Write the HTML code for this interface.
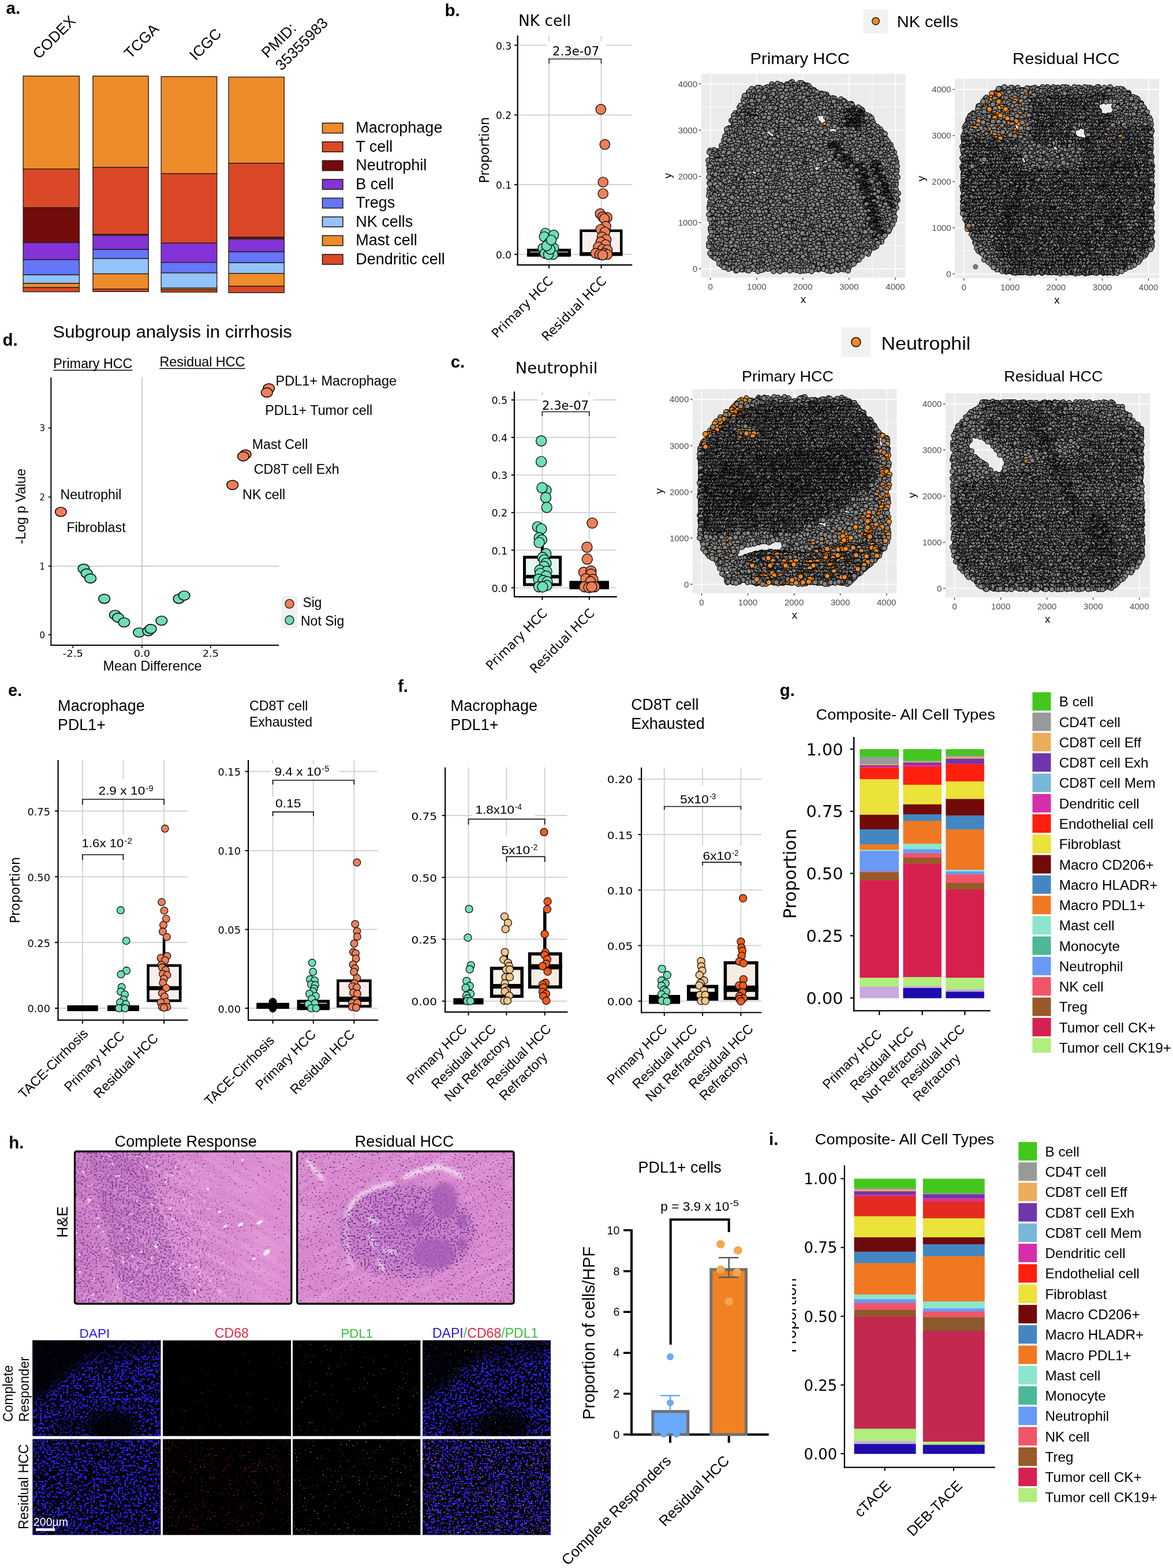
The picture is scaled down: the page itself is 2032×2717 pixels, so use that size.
<!DOCTYPE html><html><head><meta charset="utf-8"><title>Figure</title><style>

html,body{margin:0;padding:0;background:#fff;overflow:hidden;width:2032px;height:2717px;}
svg{display:block;}
.l{font-family:"Liberation Sans",Arial,Helvetica,sans-serif;}
.d{font-family:"DejaVu Sans","Liberation Sans",sans-serif;}
.b{font-weight:bold;}

</style></head><body>
<svg width="2032" height="2717" viewBox="0 0 2032 2717">
<defs><marker id="mg" markerUnits="userSpaceOnUse" markerWidth="12" markerHeight="12" refX="6" refY="6" orient="0" overflow="visible"><circle cx="6" cy="6" r="4.35" fill="#858585" stroke="#000" stroke-width="1.15"/></marker><marker id="mo" markerUnits="userSpaceOnUse" markerWidth="12" markerHeight="12" refX="6" refY="6" orient="0" overflow="visible"><circle cx="6" cy="6" r="4.35" fill="#F08A24" stroke="#000" stroke-width="1.15"/></marker><filter id="fNucD" x="0" y="0" width="1" height="1" color-interpolation-filters="sRGB"><feTurbulence type="fractalNoise" baseFrequency="0.32" numOctaves="1" seed="3"/><feColorMatrix type="matrix" values="0 0 0 0 0.38  0 0 0 0 0.16  0 0 0 0 0.52  -25 0 0 0 10.000"/><feComposite in2="SourceAlpha" operator="in"/></filter><filter id="fNucS" x="0" y="0" width="1" height="1" color-interpolation-filters="sRGB"><feTurbulence type="fractalNoise" baseFrequency="0.32" numOctaves="1" seed="5"/><feColorMatrix type="matrix" values="0 0 0 0 0.38  0 0 0 0 0.16  0 0 0 0 0.52  -25 0 0 0 7.875"/><feComposite in2="SourceAlpha" operator="in"/></filter><filter id="fNucB" x="0" y="0" width="1" height="1" color-interpolation-filters="sRGB"><feTurbulence type="fractalNoise" baseFrequency="0.32" numOctaves="1" seed="15"/><feColorMatrix type="matrix" values="0 0 0 0 0.38  0 0 0 0 0.16  0 0 0 0 0.52  -25 0 0 0 10.750"/><feComposite in2="SourceAlpha" operator="in"/></filter><filter id="fStreak" x="0" y="0" width="1" height="1" color-interpolation-filters="sRGB"><feTurbulence type="fractalNoise" baseFrequency="0.012 0.09" numOctaves="2" seed="41"/><feColorMatrix type="matrix" values="0 0 0 0 0.97  0 0 0 0 0.75  0 0 0 0 0.95  1.6 0 0 0 -0.62"/><feComposite in2="SourceAlpha" operator="in"/></filter><filter id="fNucL" x="0" y="0" width="1" height="1" color-interpolation-filters="sRGB"><feTurbulence type="fractalNoise" baseFrequency="0.32" numOctaves="1" seed="7"/><feColorMatrix type="matrix" values="0 0 0 0 0.38  0 0 0 0 0.16  0 0 0 0 0.52  -25 0 0 0 8.750"/><feComposite in2="SourceAlpha" operator="in"/></filter><filter id="fNucC" x="0" y="0" width="1" height="1" color-interpolation-filters="sRGB"><feTurbulence type="fractalNoise" baseFrequency="0.32" numOctaves="1" seed="8"/><feColorMatrix type="matrix" values="0 0 0 0 0.38  0 0 0 0 0.16  0 0 0 0 0.52  -25 0 0 0 10.500"/><feComposite in2="SourceAlpha" operator="in"/></filter><filter id="fWhite2" x="0" y="0" width="1" height="1" color-interpolation-filters="sRGB"><feTurbulence type="fractalNoise" baseFrequency="0.12" numOctaves="1" seed="19"/><feColorMatrix type="matrix" values="0 0 0 0 0.99  0 0 0 0 0.95  0 0 0 0 0.99  -25 0 0 0 8.250"/><feComposite in2="SourceAlpha" operator="in"/></filter><filter id="fDapi" x="0" y="0" width="1" height="1" color-interpolation-filters="sRGB"><feTurbulence type="fractalNoise" baseFrequency="0.26" numOctaves="1" seed="11"/><feColorMatrix type="matrix" values="0 0 0 0 0.17  0 0 0 0 0.12  0 0 0 0 0.98  -25 0 0 0 10.125"/><feComposite in2="SourceAlpha" operator="in"/></filter><filter id="fDapiB" x="0" y="0" width="1" height="1" color-interpolation-filters="sRGB"><feTurbulence type="fractalNoise" baseFrequency="0.26" numOctaves="1" seed="31"/><feColorMatrix type="matrix" values="0 0 0 0 0.17  0 0 0 0 0.12  0 0 0 0 0.98  -25 0 0 0 10.125"/><feComposite in2="SourceAlpha" operator="in"/></filter><filter id="fDapi2" x="0" y="0" width="1" height="1" color-interpolation-filters="sRGB"><feTurbulence type="fractalNoise" baseFrequency="0.26" numOctaves="1" seed="12"/><feColorMatrix type="matrix" values="0 0 0 0 0.17  0 0 0 0 0.12  0 0 0 0 0.98  -25 0 0 0 10.000"/><feComposite in2="SourceAlpha" operator="in"/></filter><filter id="fDapi2B" x="0" y="0" width="1" height="1" color-interpolation-filters="sRGB"><feTurbulence type="fractalNoise" baseFrequency="0.26" numOctaves="1" seed="32"/><feColorMatrix type="matrix" values="0 0 0 0 0.17  0 0 0 0 0.12  0 0 0 0 0.98  -25 0 0 0 10.000"/><feComposite in2="SourceAlpha" operator="in"/></filter><filter id="fRedS" x="0" y="0" width="1" height="1" color-interpolation-filters="sRGB"><feTurbulence type="fractalNoise" baseFrequency="0.45" numOctaves="1" seed="21"/><feColorMatrix type="matrix" values="0 0 0 0 1  0 0 0 0 0.15  0 0 0 0 0.15  -30 0 0 0 7.560"/><feComposite in2="SourceAlpha" operator="in"/></filter><filter id="fRedM" x="0" y="0" width="1" height="1" color-interpolation-filters="sRGB"><feTurbulence type="fractalNoise" baseFrequency="0.45" numOctaves="1" seed="22"/><feColorMatrix type="matrix" values="0 0 0 0 1  0 0 0 0 0.18  0 0 0 0 0.18  -30 0 0 0 8.700"/><feComposite in2="SourceAlpha" operator="in"/></filter><filter id="fGrnS" x="0" y="0" width="1" height="1" color-interpolation-filters="sRGB"><feTurbulence type="fractalNoise" baseFrequency="0.45" numOctaves="1" seed="23"/><feColorMatrix type="matrix" values="0 0 0 0 0.25  0 0 0 0 0.95  0 0 0 0 0.25  -30 0 0 0 7.500"/><feComposite in2="SourceAlpha" operator="in"/></filter><filter id="fGrnM" x="0" y="0" width="1" height="1" color-interpolation-filters="sRGB"><feTurbulence type="fractalNoise" baseFrequency="0.45" numOctaves="1" seed="24"/><feColorMatrix type="matrix" values="0 0 0 0 0.3  0 0 0 0 0.9  0 0 0 0 0.3  -30 0 0 0 8.340"/><feComposite in2="SourceAlpha" operator="in"/></filter><filter id="fYelM" x="0" y="0" width="1" height="1" color-interpolation-filters="sRGB"><feTurbulence type="fractalNoise" baseFrequency="0.45" numOctaves="1" seed="25"/><feColorMatrix type="matrix" values="0 0 0 0 1  0 0 0 0 0.85  0 0 0 0 0.15  -30 0 0 0 9.000"/><feComposite in2="SourceAlpha" operator="in"/></filter><filter id="fRedC" x="0" y="0" width="1" height="1" color-interpolation-filters="sRGB"><feTurbulence type="fractalNoise" baseFrequency="0.45" numOctaves="1" seed="26"/><feColorMatrix type="matrix" values="0 0 0 0 1  0 0 0 0 0.2  0 0 0 0 0.2  -30 0 0 0 9.000"/><feComposite in2="SourceAlpha" operator="in"/></filter><linearGradient id="gHE1" x1="0" x2="1" y1="0" y2="0.15"><stop offset="0" stop-color="#C978C1"/><stop offset="0.3" stop-color="#D283C9"/><stop offset="0.5" stop-color="#D98ACF"/><stop offset="1" stop-color="#DE8ED2"/></linearGradient><linearGradient id="gMask1" x1="0" x2="1" y1="0.2" y2="0"><stop offset="0" stop-color="#fff"/><stop offset="0.4" stop-color="#fff"/><stop offset="0.65" stop-color="#222"/><stop offset="1" stop-color="#000"/></linearGradient><mask id="mHE1" maskUnits="userSpaceOnUse" x="129" y="1995" width="376" height="265"><rect x="129" y="1995" width="376" height="265" fill="url(#gMask1)"/></mask><radialGradient id="gCore"><stop offset="0" stop-color="#C47ACA"/><stop offset="0.75" stop-color="#CC82CB" stop-opacity="0.9"/><stop offset="1" stop-color="#D88BCC" stop-opacity="0"/></radialGradient><filter id="fBlur3"><feGaussianBlur stdDeviation="3"/></filter><filter id="fBlur8"><feGaussianBlur stdDeviation="8"/></filter><clipPath id="cHE2"><rect x="514.7" y="1995.2" width="375.4" height="263.9"/></clipPath><clipPath id="cHE1"><rect x="129.5" y="1995.2" width="375.4" height="263.9"/></clipPath><clipPath id="cD11"><rect x="56.4" y="2322.6" width="222" height="165.8"/></clipPath><clipPath id="cD14"><rect x="732" y="2322.6" width="222" height="165.8"/></clipPath></defs>
<rect width="2032" height="2717" fill="#fff"/>
<text class="l b" x="10.5" y="23.5" font-size="29.5">a.</text>
<text class="l" x="67.2" y="103.4" font-size="26" transform="rotate(-45 67.2 103.4)">CODEX</text>
<text class="l" x="225.8" y="102.7" font-size="26" transform="rotate(-45 225.8 102.7)">TCGA</text>
<text class="l" x="339.1" y="106.1" font-size="26" transform="rotate(-45 339.1 106.1)">ICGC</text>
<text class="l" x="463.6" y="101.7" font-size="26" transform="rotate(-45 463.6 101.7)">PMID:</text>
<text class="l" x="487.7" y="123.4" font-size="26" transform="rotate(-45 487.7 123.4)">35355983</text>
<rect x="40.2" y="131.7" width="97.2" height="161.1" fill="#EE8B2B" stroke="#2a2018" stroke-width="1.4"/>
<rect x="40.2" y="292.8" width="97.2" height="67.2" fill="#DA4827" stroke="#2a2018" stroke-width="1.4"/>
<rect x="40.2" y="360" width="97.2" height="60.4" fill="#730C0B" stroke="#2a2018" stroke-width="1.4"/>
<rect x="40.2" y="420.4" width="97.2" height="29.6" fill="#8333D6" stroke="#2a2018" stroke-width="1.4"/>
<rect x="40.2" y="450" width="97.2" height="26.3" fill="#6476FA" stroke="#2a2018" stroke-width="1.4"/>
<rect x="40.2" y="476.3" width="97.2" height="14.8" fill="#93C3FB" stroke="#2a2018" stroke-width="1.4"/>
<rect x="40.2" y="491.1" width="97.2" height="7.2" fill="#EE8B2B" stroke="#2a2018" stroke-width="1.4"/>
<rect x="40.2" y="498.3" width="97.2" height="7.3" fill="#DA4827" stroke="#2a2018" stroke-width="1.4"/>
<rect x="161" y="131.7" width="96.2" height="158.5" fill="#EE8B2B" stroke="#2a2018" stroke-width="1.4"/>
<rect x="161" y="290.2" width="96.2" height="116" fill="#DA4827" stroke="#2a2018" stroke-width="1.4"/>
<rect x="161" y="406.2" width="96.2" height="1.6" fill="#730C0B" stroke="#2a2018" stroke-width="1.4"/>
<rect x="161" y="407.8" width="96.2" height="24.5" fill="#8333D6" stroke="#2a2018" stroke-width="1.4"/>
<rect x="161" y="432.3" width="96.2" height="15.7" fill="#6476FA" stroke="#2a2018" stroke-width="1.4"/>
<rect x="161" y="448" width="96.2" height="26.5" fill="#93C3FB" stroke="#2a2018" stroke-width="1.4"/>
<rect x="161" y="474.5" width="96.2" height="26.4" fill="#EE8B2B" stroke="#2a2018" stroke-width="1.4"/>
<rect x="161" y="500.9" width="96.2" height="4.4" fill="#DA4827" stroke="#2a2018" stroke-width="1.4"/>
<rect x="279.2" y="132.7" width="96.5" height="168.2" fill="#EE8B2B" stroke="#2a2018" stroke-width="1.4"/>
<rect x="279.2" y="300.9" width="96.5" height="120.4" fill="#DA4827" stroke="#2a2018" stroke-width="1.4"/>
<rect x="279.2" y="421.3" width="96.5" height="33.4" fill="#8333D6" stroke="#2a2018" stroke-width="1.4"/>
<rect x="279.2" y="454.7" width="96.5" height="18.2" fill="#6476FA" stroke="#2a2018" stroke-width="1.4"/>
<rect x="279.2" y="472.9" width="96.5" height="26.4" fill="#93C3FB" stroke="#2a2018" stroke-width="1.4"/>
<rect x="279.2" y="499.3" width="96.5" height="2.8" fill="#EE8B2B" stroke="#2a2018" stroke-width="1.4"/>
<rect x="279.2" y="502.1" width="96.5" height="4.1" fill="#DA4827" stroke="#2a2018" stroke-width="1.4"/>
<rect x="396.1" y="133.5" width="96.2" height="149.5" fill="#EE8B2B" stroke="#2a2018" stroke-width="1.4"/>
<rect x="396.1" y="283" width="96.2" height="128" fill="#DA4827" stroke="#2a2018" stroke-width="1.4"/>
<rect x="396.1" y="411" width="96.2" height="3.1" fill="#730C0B" stroke="#2a2018" stroke-width="1.4"/>
<rect x="396.1" y="414.1" width="96.2" height="22.3" fill="#8333D6" stroke="#2a2018" stroke-width="1.4"/>
<rect x="396.1" y="436.4" width="96.2" height="18.9" fill="#6476FA" stroke="#2a2018" stroke-width="1.4"/>
<rect x="396.1" y="455.3" width="96.2" height="18.5" fill="#93C3FB" stroke="#2a2018" stroke-width="1.4"/>
<rect x="396.1" y="473.8" width="96.2" height="22.3" fill="#EE8B2B" stroke="#2a2018" stroke-width="1.4"/>
<rect x="396.1" y="496.1" width="96.2" height="11.1" fill="#DA4827" stroke="#2a2018" stroke-width="1.4"/>
<rect x="558.5" y="213.3" width="35.5" height="17.3" fill="#EE8B2B" stroke="#2a2018" stroke-width="1.6"/>
<text class="l" x="616.3" y="230.3" font-size="27">Macrophage</text>
<rect x="558.5" y="245.8" width="35.5" height="17.3" fill="#DA4827" stroke="#2a2018" stroke-width="1.6"/>
<text class="l" x="616.3" y="262.8" font-size="27">T cell</text>
<rect x="558.5" y="278.3" width="35.5" height="17.3" fill="#730C0B" stroke="#2a2018" stroke-width="1.6"/>
<text class="l" x="616.3" y="295.3" font-size="27">Neutrophil</text>
<rect x="558.5" y="310.8" width="35.5" height="17.3" fill="#8333D6" stroke="#2a2018" stroke-width="1.6"/>
<text class="l" x="616.3" y="327.8" font-size="27">B cell</text>
<rect x="558.5" y="343.3" width="35.5" height="17.3" fill="#6476FA" stroke="#2a2018" stroke-width="1.6"/>
<text class="l" x="616.3" y="360.3" font-size="27">Tregs</text>
<rect x="558.5" y="375.8" width="35.5" height="17.3" fill="#93C3FB" stroke="#2a2018" stroke-width="1.6"/>
<text class="l" x="616.3" y="392.8" font-size="27">NK cells</text>
<rect x="558.5" y="408.3" width="35.5" height="17.3" fill="#EE8B2B" stroke="#2a2018" stroke-width="1.6"/>
<text class="l" x="616.3" y="425.3" font-size="27">Mast cell</text>
<rect x="558.5" y="440.8" width="35.5" height="17.3" fill="#DA4827" stroke="#2a2018" stroke-width="1.6"/>
<text class="l" x="616.3" y="457.8" font-size="27">Dendritic cell</text>
<text class="l b" x="4.4" y="598.8" font-size="29.5">d.</text>
<text class="l" x="91.4" y="584.8" font-size="30" textLength="414.5" lengthAdjust="spacingAndGlyphs">Subgroup analysis in cirrhosis</text>
<text class="l" x="92.3" y="638" font-size="23.3" textLength="137.1" lengthAdjust="spacingAndGlyphs">Primary HCC</text>
<line x1="92.3" y1="641.5" x2="229.4" y2="641.5" stroke="#000" stroke-width="1.3"/>
<text class="l" x="276.4" y="635" font-size="23.4" textLength="148.1" lengthAdjust="spacingAndGlyphs">Residual HCC</text>
<line x1="276.4" y1="638.5" x2="424.5" y2="638.5" stroke="#000" stroke-width="1.3"/>
<line x1="246" y1="654" x2="246" y2="1118" stroke="#C0C0C0" stroke-width="1.6"/>
<line x1="88.4" y1="981" x2="483.2" y2="981" stroke="#C0C0C0" stroke-width="1.6"/>
<line x1="88.4" y1="654" x2="88.4" y2="1119" stroke="#000" stroke-width="2"/>
<line x1="87.4" y1="1118.1" x2="483.2" y2="1118.1" stroke="#000" stroke-width="2"/>
<line x1="83.5" y1="1099.9" x2="88.4" y2="1099.9" stroke="#000" stroke-width="1.6"/>
<text class="d" x="78" y="1105.7" font-size="16.5" text-anchor="end" textLength="9.5" lengthAdjust="spacingAndGlyphs">0</text>
<line x1="83.5" y1="981" x2="88.4" y2="981" stroke="#000" stroke-width="1.6"/>
<text class="d" x="78" y="986.8" font-size="16.5" text-anchor="end" textLength="9.5" lengthAdjust="spacingAndGlyphs">1</text>
<line x1="83.5" y1="861.3" x2="88.4" y2="861.3" stroke="#000" stroke-width="1.6"/>
<text class="d" x="78" y="867.1" font-size="16.5" text-anchor="end" textLength="9.5" lengthAdjust="spacingAndGlyphs">2</text>
<line x1="83.5" y1="741.6" x2="88.4" y2="741.6" stroke="#000" stroke-width="1.6"/>
<text class="d" x="78" y="747.4" font-size="16.5" text-anchor="end" textLength="9.5" lengthAdjust="spacingAndGlyphs">3</text>
<line x1="126.3" y1="1118" x2="126.3" y2="1123" stroke="#000" stroke-width="1.6"/>
<text class="d" x="108.7" y="1137.5" font-size="16.5" textLength="35.2" lengthAdjust="spacingAndGlyphs">-2.5</text>
<line x1="246" y1="1118" x2="246" y2="1123" stroke="#000" stroke-width="1.6"/>
<text class="d" x="231.8" y="1137.5" font-size="16.5" textLength="28.3" lengthAdjust="spacingAndGlyphs">0.0</text>
<line x1="364.8" y1="1118" x2="364.8" y2="1123" stroke="#000" stroke-width="1.6"/>
<text class="d" x="350.7" y="1137.5" font-size="16.5" textLength="28.3" lengthAdjust="spacingAndGlyphs">2.5</text>
<text class="l" x="178.5" y="1161.7" font-size="23.4" textLength="171.1" lengthAdjust="spacingAndGlyphs">Mean Difference</text>
<text class="l" x="43.8" y="942.7" font-size="23.4" textLength="130.7" lengthAdjust="spacingAndGlyphs" transform="rotate(-90 43.8 942.7)">-Log p Value</text>
<ellipse cx="145" cy="985.4" rx="9.8" ry="8" fill="#6EDDB5" stroke="#111" stroke-width="1.7"/>
<ellipse cx="150.2" cy="993.6" rx="9.8" ry="8" fill="#6EDDB5" stroke="#111" stroke-width="1.7"/>
<ellipse cx="156.7" cy="1002.3" rx="9.8" ry="8" fill="#6EDDB5" stroke="#111" stroke-width="1.7"/>
<ellipse cx="180.7" cy="1037.6" rx="9.8" ry="8" fill="#6EDDB5" stroke="#111" stroke-width="1.7"/>
<ellipse cx="199.4" cy="1065.5" rx="9.8" ry="8" fill="#6EDDB5" stroke="#111" stroke-width="1.7"/>
<ellipse cx="204.6" cy="1070.3" rx="9.8" ry="8" fill="#6EDDB5" stroke="#111" stroke-width="1.7"/>
<ellipse cx="215" cy="1078.5" rx="9.8" ry="8" fill="#6EDDB5" stroke="#111" stroke-width="1.7"/>
<ellipse cx="240.7" cy="1096" rx="9.8" ry="8" fill="#6EDDB5" stroke="#111" stroke-width="1.7"/>
<ellipse cx="256.9" cy="1093.8" rx="9.8" ry="8" fill="#6EDDB5" stroke="#111" stroke-width="1.7"/>
<ellipse cx="261.2" cy="1089.8" rx="9.8" ry="8" fill="#6EDDB5" stroke="#111" stroke-width="1.7"/>
<ellipse cx="279.9" cy="1075.5" rx="9.8" ry="8" fill="#6EDDB5" stroke="#111" stroke-width="1.7"/>
<ellipse cx="310" cy="1037.6" rx="9.8" ry="8" fill="#6EDDB5" stroke="#111" stroke-width="1.7"/>
<ellipse cx="319.1" cy="1032" rx="9.8" ry="8" fill="#6EDDB5" stroke="#111" stroke-width="1.7"/>
<ellipse cx="465.8" cy="672.8" rx="9.8" ry="8" fill="#EF7F5B" stroke="#111" stroke-width="1.7"/>
<ellipse cx="462.3" cy="680.2" rx="9.8" ry="8" fill="#EF7F5B" stroke="#111" stroke-width="1.7"/>
<ellipse cx="425.3" cy="787.3" rx="9.8" ry="8" fill="#EF7F5B" stroke="#111" stroke-width="1.7"/>
<ellipse cx="421.4" cy="790.8" rx="9.8" ry="8" fill="#EF7F5B" stroke="#111" stroke-width="1.7"/>
<ellipse cx="402.7" cy="840.4" rx="9.8" ry="8" fill="#EF7F5B" stroke="#111" stroke-width="1.7"/>
<ellipse cx="105.4" cy="887" rx="9.8" ry="8" fill="#EF7F5B" stroke="#111" stroke-width="1.7"/>
<text class="l" x="477.6" y="668.4" font-size="23.3" textLength="209.4" lengthAdjust="spacingAndGlyphs">PDL1+ Macrophage</text>
<text class="l" x="459.3" y="718.5" font-size="23.3" textLength="185.9" lengthAdjust="spacingAndGlyphs">PDL1+ Tumor cell</text>
<text class="l" x="436.7" y="778.1" font-size="23.3" textLength="96.6" lengthAdjust="spacingAndGlyphs">Mast Cell</text>
<text class="l" x="439.7" y="820.8" font-size="23.3" textLength="148" lengthAdjust="spacingAndGlyphs">CD8T cell Exh</text>
<text class="l" x="420.1" y="864.8" font-size="23.3" textLength="74" lengthAdjust="spacingAndGlyphs">NK cell</text>
<text class="l" x="104.5" y="865.2" font-size="23.3" textLength="105.8" lengthAdjust="spacingAndGlyphs">Neutrophil</text>
<text class="l" x="115.4" y="921.8" font-size="23.3" textLength="102.3" lengthAdjust="spacingAndGlyphs">Fibroblast</text>
<rect x="487.6" y="1033" width="27.4" height="55.5" fill="#F0F0F0"/>
<circle cx="501.5" cy="1046.3" r="7.6" fill="#EF7F5B" stroke="#111" stroke-width="1.3"/>
<circle cx="501.5" cy="1074.6" r="7.6" fill="#6EDDB5" stroke="#111" stroke-width="1.3"/>
<text class="l" x="524.6" y="1051.5" font-size="23" textLength="32.7" lengthAdjust="spacingAndGlyphs">Sig</text>
<text class="l" x="521" y="1084.2" font-size="23" textLength="75.4" lengthAdjust="spacingAndGlyphs">Not Sig</text>
<text class="l b" x="770.4" y="28.3" font-size="29.5">b.</text>
<text class="d" x="898" y="45" font-size="27" textLength="91" lengthAdjust="spacingAndGlyphs">NK cell</text>
<line x1="896.7" y1="440.8" x2="1095.2" y2="440.8" stroke="#D4D4D4" stroke-width="2"/>
<line x1="896.7" y1="320" x2="1095.2" y2="320" stroke="#D4D4D4" stroke-width="2"/>
<line x1="896.7" y1="199.2" x2="1095.2" y2="199.2" stroke="#D4D4D4" stroke-width="2"/>
<line x1="896.7" y1="78.4" x2="1095.2" y2="78.4" stroke="#D4D4D4" stroke-width="2"/>
<line x1="951.1" y1="61.6" x2="951.1" y2="459.1" stroke="#D4D4D4" stroke-width="2"/>
<line x1="1041.5" y1="61.6" x2="1041.5" y2="459.1" stroke="#D4D4D4" stroke-width="2"/>
<line x1="896.7" y1="61.6" x2="896.7" y2="460.1" stroke="#000" stroke-width="2.2"/>
<line x1="895.7" y1="459.1" x2="1095.2" y2="459.1" stroke="#000" stroke-width="2.2"/>
<line x1="891.2" y1="440.8" x2="896.7" y2="440.8" stroke="#000" stroke-width="2"/>
<text class="d" x="886.2" y="448" font-size="18" text-anchor="end" textLength="27.3" lengthAdjust="spacingAndGlyphs">0.0</text>
<line x1="891.2" y1="320" x2="896.7" y2="320" stroke="#000" stroke-width="2"/>
<text class="d" x="886.2" y="327.2" font-size="18" text-anchor="end" textLength="27.3" lengthAdjust="spacingAndGlyphs">0.1</text>
<line x1="891.2" y1="199.2" x2="896.7" y2="199.2" stroke="#000" stroke-width="2"/>
<text class="d" x="886.2" y="206.4" font-size="18" text-anchor="end" textLength="27.3" lengthAdjust="spacingAndGlyphs">0.2</text>
<line x1="891.2" y1="78.4" x2="896.7" y2="78.4" stroke="#000" stroke-width="2"/>
<text class="d" x="886.2" y="85.6" font-size="18" text-anchor="end" textLength="27.3" lengthAdjust="spacingAndGlyphs">0.3</text>
<line x1="951.1" y1="459.1" x2="951.1" y2="465" stroke="#000" stroke-width="2"/>
<line x1="1041.5" y1="459.1" x2="1041.5" y2="465" stroke="#000" stroke-width="2"/>
<text class="d" x="846.9" y="317.5" font-size="22.4" textLength="114.7" lengthAdjust="spacingAndGlyphs" transform="rotate(-90 846.9 317.5)">Proportion</text>
<text class="d" x="959.2" y="488.3" font-size="22" text-anchor="end" transform="rotate(-45 959.2 488.3)">Primary HCC</text>
<text class="d" x="1051.7" y="488.3" font-size="22" text-anchor="end" transform="rotate(-45 1051.7 488.3)">Residual HCC</text>
<path d="M951.1 110V102.3H1041.5V110" fill="none" stroke="#222" stroke-width="1.6"/>
<rect x="947" y="72" width="103" height="28.5" fill="#fff"/>
<text class="d" x="957" y="95.8" font-size="21" textLength="81.2" lengthAdjust="spacingAndGlyphs">2.3e-07</text>
<line x1="957" y1="99" x2="1038" y2="99" stroke="#999" stroke-width="0.8"/>
<rect x="915.6" y="433.5" width="70.8" height="8.8" fill="#E5F6EE" stroke="#000" stroke-width="5"/>
<line x1="913.1" y1="440.3" x2="988.9" y2="440.3" stroke="#000" stroke-width="6"/>
<line x1="1041.5" y1="399.8" x2="1041.5" y2="399" stroke="#000" stroke-width="4.5"/>
<rect x="1006.5" y="399.8" width="69.7" height="41.5" fill="#F8EFEC" stroke="#000" stroke-width="4.5"/>
<line x1="1004.2" y1="439.5" x2="1078.5" y2="439.5" stroke="#000" stroke-width="5"/>
<circle cx="945" cy="404" r="8.6" fill="#6EDFB6" stroke="#111" stroke-width="1.4"/>
<circle cx="959.2" cy="407.3" r="8.6" fill="#6EDFB6" stroke="#111" stroke-width="1.4"/>
<circle cx="942.8" cy="410.2" r="8.6" fill="#6EDFB6" stroke="#111" stroke-width="1.4"/>
<circle cx="950.5" cy="421.5" r="8.6" fill="#6EDFB6" stroke="#111" stroke-width="1.4"/>
<circle cx="959.2" cy="429.8" r="8.6" fill="#6EDFB6" stroke="#111" stroke-width="1.4"/>
<circle cx="940.7" cy="430.2" r="8.6" fill="#6EDFB6" stroke="#111" stroke-width="1.4"/>
<circle cx="944" cy="439" r="8.6" fill="#6EDFB6" stroke="#111" stroke-width="1.4"/>
<circle cx="958" cy="441" r="8.6" fill="#6EDFB6" stroke="#111" stroke-width="1.4"/>
<circle cx="950" cy="441" r="8.6" fill="#6EDFB6" stroke="#111" stroke-width="1.4"/>
<circle cx="953" cy="432" r="8.6" fill="#6EDFB6" stroke="#111" stroke-width="1.4"/>
<circle cx="947" cy="426" r="8.6" fill="#6EDFB6" stroke="#111" stroke-width="1.4"/>
<circle cx="955" cy="416" r="8.6" fill="#6EDFB6" stroke="#111" stroke-width="1.4"/>
<circle cx="1040.8" cy="189.4" r="8.6" fill="#EF7F58" stroke="#111" stroke-width="1.4"/>
<circle cx="1047.8" cy="250.3" r="8.6" fill="#EF7F58" stroke="#111" stroke-width="1.4"/>
<circle cx="1044.7" cy="315.5" r="8.6" fill="#EF7F58" stroke="#111" stroke-width="1.4"/>
<circle cx="1044.7" cy="335.5" r="8.6" fill="#EF7F58" stroke="#111" stroke-width="1.4"/>
<circle cx="1039.7" cy="370.3" r="8.6" fill="#EF7F58" stroke="#111" stroke-width="1.4"/>
<circle cx="1051.7" cy="376.9" r="8.6" fill="#EF7F58" stroke="#111" stroke-width="1.4"/>
<circle cx="1044" cy="375.8" r="8.6" fill="#EF7F58" stroke="#111" stroke-width="1.4"/>
<circle cx="1047" cy="379" r="8.6" fill="#EF7F58" stroke="#111" stroke-width="1.4"/>
<circle cx="1049.5" cy="392.1" r="8.6" fill="#EF7F58" stroke="#111" stroke-width="1.4"/>
<circle cx="1040.8" cy="397.5" r="8.6" fill="#EF7F58" stroke="#111" stroke-width="1.4"/>
<circle cx="1048" cy="402" r="8.6" fill="#EF7F58" stroke="#111" stroke-width="1.4"/>
<circle cx="1043" cy="410.6" r="8.6" fill="#EF7F58" stroke="#111" stroke-width="1.4"/>
<circle cx="1050" cy="415" r="8.6" fill="#EF7F58" stroke="#111" stroke-width="1.4"/>
<circle cx="1040.8" cy="419.3" r="8.6" fill="#EF7F58" stroke="#111" stroke-width="1.4"/>
<circle cx="1049" cy="424" r="8.6" fill="#EF7F58" stroke="#111" stroke-width="1.4"/>
<circle cx="1036.4" cy="428" r="8.6" fill="#EF7F58" stroke="#111" stroke-width="1.4"/>
<circle cx="1044" cy="432" r="8.6" fill="#EF7F58" stroke="#111" stroke-width="1.4"/>
<circle cx="1052" cy="433" r="8.6" fill="#EF7F58" stroke="#111" stroke-width="1.4"/>
<circle cx="1032" cy="438.9" r="8.6" fill="#EF7F58" stroke="#111" stroke-width="1.4"/>
<circle cx="1047.3" cy="438.9" r="8.6" fill="#EF7F58" stroke="#111" stroke-width="1.4"/>
<circle cx="1039" cy="441" r="8.6" fill="#EF7F58" stroke="#111" stroke-width="1.4"/>
<circle cx="1052" cy="441" r="8.6" fill="#EF7F58" stroke="#111" stroke-width="1.4"/>
<circle cx="1044" cy="442" r="8.6" fill="#EF7F58" stroke="#111" stroke-width="1.4"/>
<text class="l b" x="780.7" y="637.3" font-size="29.5">c.</text>
<text class="d" x="892.8" y="646.6" font-size="27" textLength="142.6" lengthAdjust="spacingAndGlyphs">Neutrophil</text>
<line x1="891" y1="1018.4" x2="1068" y2="1018.4" stroke="#D4D4D4" stroke-width="2"/>
<line x1="891" y1="953.3" x2="1068" y2="953.3" stroke="#D4D4D4" stroke-width="2"/>
<line x1="891" y1="888.2" x2="1068" y2="888.2" stroke="#D4D4D4" stroke-width="2"/>
<line x1="891" y1="823.1" x2="1068" y2="823.1" stroke="#D4D4D4" stroke-width="2"/>
<line x1="891" y1="758" x2="1068" y2="758" stroke="#D4D4D4" stroke-width="2"/>
<line x1="891" y1="692.9" x2="1068" y2="692.9" stroke="#D4D4D4" stroke-width="2"/>
<line x1="939.4" y1="678.6" x2="939.4" y2="1034.1" stroke="#D4D4D4" stroke-width="2"/>
<line x1="1020.8" y1="678.6" x2="1020.8" y2="1034.1" stroke="#D4D4D4" stroke-width="2"/>
<line x1="891" y1="678.6" x2="891" y2="1035.1" stroke="#000" stroke-width="2.2"/>
<line x1="890" y1="1034.1" x2="1068.7" y2="1034.1" stroke="#000" stroke-width="2.2"/>
<line x1="885.8" y1="1018.4" x2="891" y2="1018.4" stroke="#000" stroke-width="2"/>
<text class="d" x="879.3" y="1025.6" font-size="18" text-anchor="end" textLength="27.9" lengthAdjust="spacingAndGlyphs">0.0</text>
<line x1="885.8" y1="953.3" x2="891" y2="953.3" stroke="#000" stroke-width="2"/>
<text class="d" x="879.3" y="960.5" font-size="18" text-anchor="end" textLength="27.9" lengthAdjust="spacingAndGlyphs">0.1</text>
<line x1="885.8" y1="888.2" x2="891" y2="888.2" stroke="#000" stroke-width="2"/>
<text class="d" x="879.3" y="895.4" font-size="18" text-anchor="end" textLength="27.9" lengthAdjust="spacingAndGlyphs">0.2</text>
<line x1="885.8" y1="823.1" x2="891" y2="823.1" stroke="#000" stroke-width="2"/>
<text class="d" x="879.3" y="830.3" font-size="18" text-anchor="end" textLength="27.9" lengthAdjust="spacingAndGlyphs">0.3</text>
<line x1="885.8" y1="758" x2="891" y2="758" stroke="#000" stroke-width="2"/>
<text class="d" x="879.3" y="765.2" font-size="18" text-anchor="end" textLength="27.9" lengthAdjust="spacingAndGlyphs">0.4</text>
<line x1="885.8" y1="692.9" x2="891" y2="692.9" stroke="#000" stroke-width="2"/>
<text class="d" x="879.3" y="700.1" font-size="18" text-anchor="end" textLength="27.9" lengthAdjust="spacingAndGlyphs">0.5</text>
<line x1="939.4" y1="1034.1" x2="939.4" y2="1039.5" stroke="#000" stroke-width="2"/>
<line x1="1020.8" y1="1034.1" x2="1020.8" y2="1039.5" stroke="#000" stroke-width="2"/>
<text class="d" x="949.4" y="1063.9" font-size="22" text-anchor="end" transform="rotate(-45 949.4 1063.9)">Primary HCC</text>
<text class="d" x="1031" y="1063.9" font-size="22" text-anchor="end" transform="rotate(-45 1031 1063.9)">Residual HCC</text>
<path d="M939.4 721V713.5H1020.8V721" fill="none" stroke="#222" stroke-width="1.6"/>
<rect x="932" y="685" width="96" height="26.5" fill="#fff"/>
<text class="d" x="939" y="709.8" font-size="21" textLength="81" lengthAdjust="spacingAndGlyphs">2.3e-07</text>
<line x1="939.4" y1="965.5" x2="939.4" y2="936" stroke="#000" stroke-width="5"/>
<line x1="939.4" y1="1013" x2="939.4" y2="1016" stroke="#000" stroke-width="5"/>
<rect x="908.5" y="965.5" width="62.1" height="47.5" fill="#E6F7F0" stroke="#000" stroke-width="5"/>
<line x1="906" y1="999.3" x2="973.1" y2="999.3" stroke="#000" stroke-width="6"/>
<line x1="1020.8" y1="1009" x2="1020.8" y2="1008" stroke="#000" stroke-width="5"/>
<rect x="989" y="1009" width="63.4" height="9.6" fill="#000" stroke="#000" stroke-width="5"/>
<line x1="986.5" y1="1013.5" x2="1054.9" y2="1013.5" stroke="#000" stroke-width="8"/>
<circle cx="937.6" cy="764" r="9" fill="#6EDFB6" stroke="#111" stroke-width="1.4"/>
<circle cx="937.6" cy="799.9" r="9" fill="#6EDFB6" stroke="#111" stroke-width="1.4"/>
<circle cx="946" cy="849.5" r="9" fill="#6EDFB6" stroke="#111" stroke-width="1.4"/>
<circle cx="939" cy="845.2" r="9" fill="#6EDFB6" stroke="#111" stroke-width="1.4"/>
<circle cx="945.5" cy="862.2" r="9" fill="#6EDFB6" stroke="#111" stroke-width="1.4"/>
<circle cx="947.2" cy="879.2" r="9" fill="#6EDFB6" stroke="#111" stroke-width="1.4"/>
<circle cx="931.3" cy="912.9" r="9" fill="#6EDFB6" stroke="#111" stroke-width="1.4"/>
<circle cx="937.8" cy="916.6" r="9" fill="#6EDFB6" stroke="#111" stroke-width="1.4"/>
<circle cx="934.1" cy="931.8" r="9" fill="#6EDFB6" stroke="#111" stroke-width="1.4"/>
<circle cx="938.5" cy="935.5" r="9" fill="#6EDFB6" stroke="#111" stroke-width="1.4"/>
<circle cx="934.1" cy="940.1" r="9" fill="#6EDFB6" stroke="#111" stroke-width="1.4"/>
<circle cx="945.7" cy="959.5" r="9" fill="#6EDFB6" stroke="#111" stroke-width="1.4"/>
<circle cx="940" cy="966" r="9" fill="#6EDFB6" stroke="#111" stroke-width="1.4"/>
<circle cx="942.8" cy="970.4" r="9" fill="#6EDFB6" stroke="#111" stroke-width="1.4"/>
<circle cx="946" cy="976" r="9" fill="#6EDFB6" stroke="#111" stroke-width="1.4"/>
<circle cx="942.4" cy="981.5" r="9" fill="#6EDFB6" stroke="#111" stroke-width="1.4"/>
<circle cx="935" cy="988" r="9" fill="#6EDFB6" stroke="#111" stroke-width="1.4"/>
<circle cx="947" cy="990" r="9" fill="#6EDFB6" stroke="#111" stroke-width="1.4"/>
<circle cx="935.9" cy="993.9" r="9" fill="#6EDFB6" stroke="#111" stroke-width="1.4"/>
<circle cx="946.1" cy="998.2" r="9" fill="#6EDFB6" stroke="#111" stroke-width="1.4"/>
<circle cx="933" cy="1003.7" r="9" fill="#6EDFB6" stroke="#111" stroke-width="1.4"/>
<circle cx="941" cy="1006" r="9" fill="#6EDFB6" stroke="#111" stroke-width="1.4"/>
<circle cx="948" cy="1008" r="9" fill="#6EDFB6" stroke="#111" stroke-width="1.4"/>
<circle cx="947.2" cy="1014.5" r="9" fill="#6EDFB6" stroke="#111" stroke-width="1.4"/>
<circle cx="933.5" cy="1016.7" r="9" fill="#6EDFB6" stroke="#111" stroke-width="1.4"/>
<circle cx="940" cy="1017" r="9" fill="#6EDFB6" stroke="#111" stroke-width="1.4"/>
<circle cx="1026" cy="906.4" r="9" fill="#EF7F58" stroke="#111" stroke-width="1.4"/>
<circle cx="1016.9" cy="948.2" r="9" fill="#EF7F58" stroke="#111" stroke-width="1.4"/>
<circle cx="1017.3" cy="968.8" r="9" fill="#EF7F58" stroke="#111" stroke-width="1.4"/>
<circle cx="1011.4" cy="991.7" r="9" fill="#EF7F58" stroke="#111" stroke-width="1.4"/>
<circle cx="1023.8" cy="989.5" r="9" fill="#EF7F58" stroke="#111" stroke-width="1.4"/>
<circle cx="1023.8" cy="995" r="9" fill="#EF7F58" stroke="#111" stroke-width="1.4"/>
<circle cx="1015" cy="1003" r="9" fill="#EF7F58" stroke="#111" stroke-width="1.4"/>
<circle cx="1027" cy="1004" r="9" fill="#EF7F58" stroke="#111" stroke-width="1.4"/>
<circle cx="1023" cy="1008" r="9" fill="#EF7F58" stroke="#111" stroke-width="1.4"/>
<circle cx="1012.5" cy="1016.7" r="9" fill="#EF7F58" stroke="#111" stroke-width="1.4"/>
<circle cx="1030" cy="1016.7" r="9" fill="#EF7F58" stroke="#111" stroke-width="1.4"/>
<circle cx="1020" cy="1018" r="9" fill="#EF7F58" stroke="#111" stroke-width="1.4"/>
<circle cx="1025" cy="1017" r="9" fill="#EF7F58" stroke="#111" stroke-width="1.4"/>
<rect x="1214.5" y="127.9" width="353.8" height="353.2" fill="#EBEBEB"/>
<line x1="1230.7" y1="127.9" x2="1230.7" y2="481.1" stroke="#fff" stroke-width="1.6"/>
<line x1="1214.5" y1="465.8" x2="1568.3" y2="465.8" stroke="#fff" stroke-width="1.6"/>
<line x1="1270.7" y1="127.9" x2="1270.7" y2="481.1" stroke="#fff" stroke-width="0.8"/>
<line x1="1214.5" y1="425.8" x2="1568.3" y2="425.8" stroke="#fff" stroke-width="0.8"/>
<line x1="1310.8" y1="127.9" x2="1310.8" y2="481.1" stroke="#fff" stroke-width="1.6"/>
<line x1="1214.5" y1="385.7" x2="1568.3" y2="385.7" stroke="#fff" stroke-width="1.6"/>
<line x1="1350.8" y1="127.9" x2="1350.8" y2="481.1" stroke="#fff" stroke-width="0.8"/>
<line x1="1214.5" y1="345.7" x2="1568.3" y2="345.7" stroke="#fff" stroke-width="0.8"/>
<line x1="1390.8" y1="127.9" x2="1390.8" y2="481.1" stroke="#fff" stroke-width="1.6"/>
<line x1="1214.5" y1="305.6" x2="1568.3" y2="305.6" stroke="#fff" stroke-width="1.6"/>
<line x1="1430.9" y1="127.9" x2="1430.9" y2="481.1" stroke="#fff" stroke-width="0.8"/>
<line x1="1214.5" y1="265.6" x2="1568.3" y2="265.6" stroke="#fff" stroke-width="0.8"/>
<line x1="1470.9" y1="127.9" x2="1470.9" y2="481.1" stroke="#fff" stroke-width="1.6"/>
<line x1="1214.5" y1="225.5" x2="1568.3" y2="225.5" stroke="#fff" stroke-width="1.6"/>
<line x1="1511" y1="127.9" x2="1511" y2="481.1" stroke="#fff" stroke-width="0.8"/>
<line x1="1214.5" y1="185.5" x2="1568.3" y2="185.5" stroke="#fff" stroke-width="0.8"/>
<line x1="1551" y1="127.9" x2="1551" y2="481.1" stroke="#fff" stroke-width="1.6"/>
<line x1="1214.5" y1="145.4" x2="1568.3" y2="145.4" stroke="#fff" stroke-width="1.6"/>
<line x1="1210.5" y1="465.8" x2="1214.5" y2="465.8" stroke="#333" stroke-width="1.2"/>
<text class="l" x="1208" y="471.1" font-size="15" text-anchor="end" fill="#4D4D4D">0</text>
<line x1="1230.7" y1="481.1" x2="1230.7" y2="485.1" stroke="#333" stroke-width="1.2"/>
<text class="l" x="1230.7" y="501.6" font-size="15" text-anchor="middle" fill="#4D4D4D">0</text>
<line x1="1210.5" y1="385.7" x2="1214.5" y2="385.7" stroke="#333" stroke-width="1.2"/>
<text class="l" x="1208" y="391" font-size="15" text-anchor="end" fill="#4D4D4D">1000</text>
<line x1="1310.8" y1="481.1" x2="1310.8" y2="485.1" stroke="#333" stroke-width="1.2"/>
<text class="l" x="1310.8" y="501.6" font-size="15" text-anchor="middle" fill="#4D4D4D">1000</text>
<line x1="1210.5" y1="305.6" x2="1214.5" y2="305.6" stroke="#333" stroke-width="1.2"/>
<text class="l" x="1208" y="310.9" font-size="15" text-anchor="end" fill="#4D4D4D">2000</text>
<line x1="1390.8" y1="481.1" x2="1390.8" y2="485.1" stroke="#333" stroke-width="1.2"/>
<text class="l" x="1390.8" y="501.6" font-size="15" text-anchor="middle" fill="#4D4D4D">2000</text>
<line x1="1210.5" y1="225.5" x2="1214.5" y2="225.5" stroke="#333" stroke-width="1.2"/>
<text class="l" x="1208" y="230.8" font-size="15" text-anchor="end" fill="#4D4D4D">3000</text>
<line x1="1470.9" y1="481.1" x2="1470.9" y2="485.1" stroke="#333" stroke-width="1.2"/>
<text class="l" x="1470.9" y="501.6" font-size="15" text-anchor="middle" fill="#4D4D4D">3000</text>
<line x1="1210.5" y1="145.4" x2="1214.5" y2="145.4" stroke="#333" stroke-width="1.2"/>
<text class="l" x="1208" y="150.7" font-size="15" text-anchor="end" fill="#4D4D4D">4000</text>
<line x1="1551" y1="481.1" x2="1551" y2="485.1" stroke="#333" stroke-width="1.2"/>
<text class="l" x="1551" y="501.6" font-size="15" text-anchor="middle" fill="#4D4D4D">4000</text>
<text class="l" x="1391.4" y="525.1" font-size="19" text-anchor="middle">x</text>
<text class="l" x="1162.5" y="304.5" font-size="19" text-anchor="middle" transform="rotate(-90 1162.5 304.5)">y</text>
<text class="l" x="1299.4" y="111.2" font-size="28" textLength="172.4" lengthAdjust="spacingAndGlyphs">Primary HCC</text>
<path d="M1372 142l-3 2-32 2 6 2 4-3 6 2 6 3 4-4 1 2 10-1 3 0 8-3 3 5 1-5 4 3 0 1 5 0 3 1 4 5-8-3-1 2-5 3-1-3-8 2-1-3 0 2-4-3 0 0-3 2-4 0-3 3-3-4-7 4-2-6-6 1-2 4-5-2-4-2-3 0-3 3-3-3-4 2-8 0-1-1-4 3 0 1 0-4-7 3-3-1-5 6 1-1 8-1 4 3 5-3 6 2 3-2 3-2 4 4 3-2 4-2 0 2 3 2 0-3 5 5 6-5 2 5 7-2 1-3 5 5 3-4 1-2 2 5 6 0 5-3 3 4 6-3 5 0 4-2 1 0 3 1 4-2 1 2 4 2 8 2 9 2 0 3-3 0-2-4-2 5-2-4-3 4-6-2-5-2-2 2-7-3-2-1-5 2-6-2-2 1-4 2-5 2-3-1-3 2 0-4-3 3-3-4-3 2-5-3-5 1-3 3-7-2-2-1-6 3-5 0-1 2-3-2-5-1-3-1-6 1-3 2-2 0-5-3-1 3-3 0-1-2-5 2 0-1-2 7 6 1 17-5 1-1 5 0" fill="none" marker-start="url(#mg)" marker-mid="url(#mg)" marker-end="url(#mg)"/><path d="M1321 171l1 2 2-4 8 2 1 2 3-3 3 3 7-4 2 5 2-2 3-3 2 4 0-5 5 5 2-2 9 2 7-3 3 2 0-3 3 3 3-3 6 0 6 2 2 0 2 1 4-2 4 4 2-4 3-1 5 4 3 1 6-3 4 3 3-4 4 2 2-2 3 1 11 1 18 8-10-2-3-3-1 1-6 2 0 1-6-3-3 0 0-1-2 1-7 4-1-2-7 1-7-3-5-2-2 4-4-2-3-1-2 4-6-3-3 0-1-2-5 5-2-3-2 2-1 2-7-4-4 3-3-3-1 1-6-1-1 3-4 0-5-2-10 1-4-3-1 3-11-3-1 2-4 1-9 1-1-5-6 3-1-2-2 1-3 4 0-5-7 3-4-2-3 3-7 7 2-3 9 2 4-2 3 1 4-2 8 3 4-3 2 2 4-4 3 1 3 1 1 4 5-4 6 0 3 3 6-4 4 2 2 1 7-2 4 3 3 1 1-3 6-2 5 0 4 2 2 2 6 1 2-5 2 0 6 0 3 5 2-1 9 1 1-4 4 0 2 1 0-3 6 2 5 0 4 1 4 1 0 2 5-1 1-2" fill="none" marker-start="url(#mg)" marker-mid="url(#mg)" marker-end="url(#mg)"/><path d="M1453 183l4 3 1-4 3 3 3-3 1 0 7 3 1-5 3 2 18 9-3-2-2 2-2-5-4 6-1-3-2 1 0-3 0 4 0 0-1 0-1-2-1-1 0 3 0-1-2 0-2 2 0-2-2-4-1 6-3-5-12 4-1-4-4 5-10-5-4 2-2 1-3-3-4 4 0-4-6-1-1 4-8 1-2-3-3 3-4-1 0-3-3 5-3-5-2 4-8-4-5 2-3-2-3 1-2 3-11-3 0 2-1-3-1 4-4 0-8-2-2 3-3-5-1 4 0-4-6-1-3 1-11 3-3 2-1-2-3-4-5 1-3 3-3 1-1-3-5-2-1 5-2-5-1 5-2 1 0-2 0 0-3-2-3 1-13 7 6-2 1-1 1 5 4-1 1-1 2-4 0 2 1 3 3-1 1 1 1 0 2-4 2 4 1-3 0 3 1-3 0-1 2 2 3 0 1-2 2 2 0-2 1 5 2-1 0-4 1 5 0-5 5 3 3 2 6-1 2-3 6 0 2 2 7 1 5-2 4-3 2 4 9 0 6-2 3 2 6-2 1 0 3-1 5 0 0 2 11-1 1 3 5 0 5-1" fill="none" marker-start="url(#mg)" marker-mid="url(#mg)" marker-end="url(#mg)"/><path d="M1416 196l0-3 3 3 4 0 4-2 1 1 6 2 5-4 1 5 4-5 0 4 2-4 1 3 5 1 7-1 1-2 6 3 0-2 0-3 1 3 0 2 0-4 1 4 1-1 1 0 0-3 0 2 1-1 1 3 0-3 0 4 1-2 1-2 1 2 0-4 0 5 0-3 1 1 0 2 1 0 0-4 1 0 1 4 0-2 1 1 0 2 1-2 0-3 1 3 0-1 1-1 1-1 0 3 0-2 1-2 0 6 0-5 1 3 0-4 1 5 0 0 1-2 1-1 0 0 1 3 0-2 1 0 1 1 0 1 1-1 1 1 2 0 11 5-4-2-4 3-1-5-3 3 0-1 0 3-1-2 0-2-2-1 0 4-1 1 0-2 0-2-1 1-1 3 0-1-1 0 0-3 0 5-1-3-1-2 0 0 0 3-1 1-1-2-1-2 0-1 0 3-1-1 0 3-1-2-1-2 0 5-1-5 0-1 0 3-1 1-1-1 0-1-1-1 0 4-1-2 0-2 0 4-2-1 0-2 0 3-1-2-1-2-1 3 0 1 0-3 0-2-1 0 0 6-1-4 0 3-1 1-1-2 0-3" fill="none" marker-start="url(#mg)" marker-mid="url(#mg)" marker-end="url(#mg)"/><path d="M1465 202l-1 1-1 0-1-3-4-2 0 2-1 4-6-2-5-1-11 2-4 0-21-3-3 3-6-1-4 1-1 1-2-3-2-2-5 1-4-1-2-1-2 3-5-1-3 4-1-4-2-2-4 1-2-1-4 1-1 3-6-3-6 5 0-5-1 0-5 3-3 2-2-2-2-4-3 6-3-4-1-1-6 1-5 1 0 3-4-1 0-5-1 5 0 0-4-4 0 1-1-2 0 4-1 0-6 0 0-2-1 1-1 0-3 0-1 3-1-5 0 4-2-1-2-3-10 1-1 2-4-2-4 9 2-1 3-3 7 0 3 0 4 3 1-3 2-1 2 3 2 2 1-5 1 5 0-2 1-3 2 4 3-1 0-1 3-2 0 1 1 4 1-1 4-3 11 2 3-3 2 6 5-2 1-4 9 6 1-2 9 1 0-4 4 1 7 2 2 1 0-2 7 2 10-4 2-1 6 1 5 2 0 2 9-3 3-1 1 3 3 2 3-4 21 3 1-4 4 5 1-3 3 2 2-4 2 0 0 4 7-1 5 2 3-2 0-1 0 2 1-2 0-2 2 5 0-3 0 1 1 1 0-3 1 1" fill="none" marker-start="url(#mg)" marker-mid="url(#mg)" marker-end="url(#mg)"/><path d="M1467 208l1-2 1 4 0-2 0-1 1-3 0 2 1-1 1 3 1-3 0 4 1-3 0 1 0-2 0 1 0-2 1 4 1 2 1-4 0 2 0 1 1-2 1-2 0 4 0-2 1-1 0-1 0 4 2 1 0-3 0 2 1-5 0 5 1-3 1-1 0 2 0 2 1-2 1-2 1 1 0 2 1-3 1 2 1 1 0-3 0 2 0 1 0 2 1-5 1 4 1-2 0-3 1 2 0 0 0 3 3-3 2 2 1-3 7 4 2-4 2 6-2 4 0-1-8-2-3 2-4-3-1 2 0-2 0 3 0 2-1-2 0 0-1-2-1 0 0 1 0-3-1 3 0 3-1-3 0 0-1-2 0 4-1-1-1-3 0 1-1 4 0-5-1 5 0-6 0 4 0-2-1 2 0-2-1 4-1-5 0 5 0-3-1-2 0 4-1-3 0-1 0 3-1-1-1-1 0 2-2 0 0-3 0 5 0-4-1 3-1-4 0 1 0 2-2-3 0 2-1 0 0-2-1 5 0-2 0-2-1-1-1 4 0-4 0 0-1 4 0-2-1 3-1-3 0 2-1-1 0-2 0-1-1 0" fill="none" marker-start="url(#mg)" marker-mid="url(#mg)" marker-end="url(#mg)"/><path d="M1427 222l2-6 2 5" fill="none" marker-start="url(#mo)" marker-mid="url(#mo)" marker-end="url(#mo)"/><path d="M1450 214l0-4-2 4-3 0-8-1-1 0-18 1-2-2-7 2-8-2-4 0-5 1-5 0-3-1-1 1-5-1-3 3-1-5-6 6-4-3-2 2-1-3-7-1-9 3 0-3-5 3-1-2-1 3-5-1-3 2-7 0 0-5-3 5-1-5-5-1-3 2-3 4-5-6-2 3-12 1-4-3-4 5-1-4-3 3-4-4-2 5-8 6 7-2 1 0 3-4 2 4 7 1 10 0 1-4 0 2 4-3 1 3 8-3 0 3 2-1 6 2 1-3 3 0 6 1 2 1 4 1 7 2 3-4 5 2 6-1 0-2 2 0 0 4 10 0 4-4 4 4 7-3 3 0 7-1 0 4 2-2 6-2 1 0 5 4 3-4 2 4 4-3 2 3 9-2 12-2 6 2 3-2 2 2 8 2 3-4 2-1 3 1 0 2 0-2 3 1 1 1 0-2 2-1 0 1 0 0 0 3 1-1 1-2 0 5 1-2 0-3 1 0 1 0 0 4 0-1 1-2 0 1 1 0 0 2 1-1 0-2 0-1 1 3 2-2 0 3 0-4 1 1 1 3 0-3" fill="none" marker-start="url(#mg)" marker-mid="url(#mg)" marker-end="url(#mg)"/><path d="M1427 222l0 0" fill="none" marker-start="url(#mo)" marker-mid="url(#mo)" marker-end="url(#mo)"/><path d="M1482 220l0 2 1-3 0 2 1-1 0 2 0-4 2 2 0 0 0-2 2 1 0-3 1 3 0-1 1 2 0-3 1 0 0 3 1-1 1 1 1 1 0-4 1-1 1 2 3 0 4 1 2-2 1 1 4 3 5-4 0 0 5 3 5 4-5 0-4 3-1-1-4-3-3 3-3-1-7 2-2-4-1 4-3-4-4 1-2-1 0 4 0-5 0 1-2 0-2 0-2-1 0 2-1 2 0-2 0-1-1 2-1-3 0 2-6 0-1 3-4-3-3-1-6 2-5-2-19 1-4-1 0 3-8 2 0-5-10 1-3-2-7 6-1-5-3 2-7-3-6 1-7 3-4-2-4 2-6-1-2 0-4 0-3 2-2-2-4 2-4-3-1 0-3 3-2 0-10-3-4 1-2 2-2 0-1-1-4-3-5 0-4 2-5-2-6 0-3 4-2-4-2 3-1-3-6 1-4 2-4-3 0 4-4-2-5-1-4 4-1-4 1 8 3 2 1-4 4 0 3 3 5 0 4-3 2-2 2 3 4 2 4-2 3 1 0-4 5 3 1-3 4 2 3-1 5 4 1-2 6 2 3-2 21 2" fill="none" marker-start="url(#mg)" marker-mid="url(#mg)" marker-end="url(#mg)"/><path d="M1347 233l5 0 1-4 1 3 7-3 1 4 4-4 0 4 3-2 0-1 7 1 8 0 5 2 3 1 5-1 3-1 6-3 6 1 6 3 0-5 3 3 3 3 0-5 7 4 3-2 5 2 4-1 6 1 4-3 3-1 5 0 1 4 3-1 0-3 4 5 7-4 6 0 6 1 7 3 5-2 4 2 0-4 3-1 3 4 2-4 5 3 5-2 6-1 2 2 3 1 1 8-6-2-3-2 0-2-2 1-4 2-12-3-1 2-3 1-4 1-4-1-5 3-5-3 0-3-4 2-1-1-6 0 0 1-6 1-7 1-2 0-3-3-3 0-1 4-4-2-7-1-3 0-2 2-4-4-4 4-4 0-4-2-4 2-4-4-3 6-5-1-8-3-2 2-8 1-1 1-6-5-2 1-3 3-2-4-2 1-3 0-7 3-11-3-2 1-5 3-10-2-2 1-2-4-3 3-7 0-3-1-5 2-2-5-3 0-1 4-3-1-5-1-7 2-4 0-4 1-5-2-2 2-2-4-4 1-5 3-4-2-3-1-2 7 3-2 4 5 2-1 0-2 8 0 2 2 5-3 7 2 3-1" fill="none" marker-start="url(#mg)" marker-mid="url(#mg)" marker-end="url(#mg)"/><path d="M1294 240l1 4 2 1 2-3 2 4 5-3 1 2 7-2 4-1 7 3 1 0 3 1 5-5 2 0 5 0 7 3 3 1 2 1 3-2 6 0 2-2 4-1 8 0 2 4 1-1 5-4 4 5 0-1 3-2 5-1 4 5 3-1 5-4 2 3 9-2 6-1 4-1 3 1 5 3 4 1 1-2 6-2 4 2 7-1 1 2 5-3 7 1 3 1 2 2 3-1 4-3 5 0 3 0 5 3 8-3 2 2 7 1 1-2 0-2 1 6 3-4 1 3 8-4 1 3 3 2 3-5 3 4 5 6-3 1-7-5-4 3-1-2-2 3-5 0-8-4-1 4-4-3-5 3-3-1-5-2-1 4-5-4-4 0-5 2-2-4-3 5-3 1-1-4-5 2-2-4-2 2-5 1-1 1-2-1 0 3-4-4 0 3-2-1-2 2-1-1-1-2 0 1 0 2-3 0-1-2 0 0-1 0-1 1-1-3-3 3 0-2-4-2-3 5-4-6-2 0-5 2-6 0-3 2-1-4-5 6-4-5 0 5-3-4-3 4-6-2-2-1-5 2-2-2-4 0-4-2 0 3-1-2 0 4" fill="none" marker-start="url(#mg)" marker-mid="url(#mg)" marker-end="url(#mg)"/><path d="M1363 249l-2 2-6-4-7 4-2-2-4 2-2-3-2 4-1-5-2 1-17 1-3-2-3-1-1 4-20-1-1 2-4-4-4 0-3-1-4 5 0 0-9-2-9 0-2 0-5 3 1 5 4-2 3 0 3-2 2 4 3-4 3 4 0-4 4 3 3 1 5-5 3 2 2 1 2-1 3 1 5 1 1-2 4-1 0 5 4-6 1 6 5-4 3 3 1-4 6 0 0 2 1-3 5 2 0 3 5-2 2-1 3 3 7-3 1 2 4-3 4 3 4-2 3 0 4 2 5 0 4 0 6 1 8-1 0-3 4 5 6-1 5-2 6 3 1-2 1-2 7 0 3-1 2 1 4 4 4-6 1 5 4-1 3-4 1 0 1 1 0 2 1 3 0-3 1 1 0 2 0-5 0 1 0 2 2-3 0 2 0-1 1 3 1-2 0-1 1 0 1 3 0-3 0 1 0-1 1 1 0 1 2-3 0 2 0 3 1-2 1-1 0 2 2 1 3-1 2-2 6 1 7-1 3-1 2 3 6-5 3 2 3 0 5 3 5-2 3 1 5-2 5 3 5-5 3 3 6 2 6 0 4-4 3 3" fill="none" marker-start="url(#mg)" marker-mid="url(#mg)" marker-end="url(#mg)"/><path d="M1549 264l-4-4 0-2-6 2-2-1-3 5-2-5 0-1-2 6-4-5-4 2-3-1-2-2-1 6-3-5-4 3-2-4-2 1-6 3-4-1-5 3-1-1-5 0 0-4-5 2-1-1-9 2-2-2-4 0-3 2-2 0 0-1-2 2 0-2-1 0 0 2 0 0-1-4 0 5-1-1 0-5 0 3-1-1-1 2 0-3 0 3-1 2 0-4-1 3-1-4-1 0-1 4 0-2 0-1-2-1 0 0-2 1-3 1-2 3-3-3-4 1-5 2-1-5-3 2-3 1-3-4-10 5-5-2-3 3 0-2-4-2-3 0-5-1-3-1-3 1-1 5-3 0-2-2-2-3-8 4-2-4-5 0-4 3-4-3-4 0-5 0-11 0-4 3 0-4-5 4-5 1-2 0-1 0-5 0-3 1-1-4-7 1-3-1-1 3-2 1 0-2-5-3-7 3-3 2-2-4-3-1-7 1-4 1-3-1-5 3-3-2-6 1-1 1-3-3-4 3-3-2-1 3 7 3 6 1 4-3 2 0 2 3 4-4 6 4 1-1 2-2 7 3 5 0 1-1 0 2 4-3 8 3 7-2" fill="none" marker-start="url(#mg)" marker-mid="url(#mg)" marker-end="url(#mg)"/><path d="M1296 270l9-5 3 5 0-1 5-4 6 2 4 1 4-2 4 3 3-3 3 2 4 2 2-4 4 2 2 1 4-4 3 4 0-3 6-2 3 1 1 3 3 1 3-1 11-3 1 4 2-1 5-3 1 3 7 0 9-2 3 2 1-3 3 2 3 0 1 2 4 0 5-3 1 3 6 0 1-4 6 0 4 4 3-4 1 4 1-2 0-2 1 5 0-4 0-1 1 4 1-1 0-2 0 0 1-1 1 4 0-5 1 3 0 2 1-4 1 1 0 2 1-4 1 3 0 1 1 1 0-4 0 0 1 5 1-1 0 0 1 0 1-4 7 3 3 0 2-1 1 2 2-5 5 1 4 3 6-4 1 3 6-1 3 2 0-2 5 1 4 3 0-1 6 0 5-4 6 4 3 0 6-3 3-2 1 4 6 5-1-1-7 1-4 2 0-4-5 2-2 2-4-3-3 1-7-1-9 2-4 1-4-3-1 1-4 1-1-3-7 2-3-2-9 5-4-4-1 3-2 0 0-2 0 0-2 2-1-2 0 2 0 0 0-4-2 0 0 3 0-1-1 2 0-2 0 2-2-1-1-2 0 1 0 3" fill="none" marker-start="url(#mg)" marker-mid="url(#mg)" marker-end="url(#mg)"/><path d="M1459 270l0 3-1-2 0 2-1-3 0 6-1-4 0 2 0-3-1 3-1-2-1-1 0-1-1 5-9-1-2-2-1 0-4 4-8-2-3 0-10-2-1 3-3-3-5-2 0 5-3 0-2-3-9 2-3-4-1 4-4-1-6-1-3-1-3 2-3 2-3-2-6 3-6-2-1-2-7 2 0-4-6 3-2-1 0 2-6-1-3-2-1 4-3-3-5-1-1 4-7-3-7 1-3-2-5 2-5-3-2 5-2-1-6 1-2-3-10 0-5 0-1 2-12-3-3 5-5 0-8-5-1 4-2-5 0 4-6 4 6 1 4 1 6-3 0 1 5 0 8 3 0-5 3 4 3-1 5-2 1 4 4-1 1-4 4 3 7-2 3 4 5-4 5 1 2-2 4 4 6-3 0 0 5 1 2 4 1-1 6-2 5 2 7-1 9-3 0 3 8 0 5-1 2 0 4 1 5 2 0-2 8 1 3-2 5 0 4 0 6 2 2-4 2 1 2-1 3 5 2-3 6 2 5-3 5 0 1-2 15 0 11 1 1 1 3 3 3 0 3-5 0 2 1-2 1 4 0 0 0-2 1 3 1 0" fill="none" marker-start="url(#mg)" marker-mid="url(#mg)" marker-end="url(#mg)"/><path d="M1462 277l1 1 1 4 1-3 0-1 1 2 1-1 0-2 1 3 0-4 0 2 1 3 0 0 1-5 1 2 0 0 1 1 0 2 1-1 0 2 1-3 0 2 1-2 1 2 1-1 4-2 2 3 2-5 9 3 7-1 4-1 3 1 2 4 0-2 4-3 2 0 3 4 1-1 0 0 1 1 1-4 4 2 3-1 4 1 6-1 3-1 4 5 3-4 4 2-1 3-4 0-9 5-10-4-5 4-2-3 0 2-1-1-1-4 0 6-1-4 0 3-1-1 0-4-1 2-1 2 0 2-1-5 0 3 0-4-1 6 0-5-1 4 0-3-1 1-1 2-2-1-6-3-3 2-6-1 0 3-1 1 0-2-2 0 0 0-1 0-2 2 0-5 0 3-2 1-1 0-1-3-1 3-4 1 0-1-1-3 0 2 0-2 0-1-1 5-2-4 0 2-1-3 0 1-1 1-1 2 0-3-1 2-1-1 0 2-1-3 0-2-1 2-1 0 0 1 0 3 0-3 0 2-1-3 0-2-2 6 0-4-1 1 0-1-1-1-1 1-3 1-2 3-1-1-2-4-3 3-5-4-6 2-3 1" fill="none" marker-start="url(#mg)" marker-mid="url(#mg)" marker-end="url(#mg)"/><path d="M1432 286l-7-2-2 2-2-2-4 1-8 2-5-2-8-1-2 1 0 2-5-1-1 0-3-3-6-1-4 4-1-2-7 2-6 2-2-2-1 0-9-2-2 0-4 2-2-1-5-1-3-1-1 3-3 1-4-2-5-3-8 3-5 0-1 2-4-2-9 1-1 1-4-3-5 1-2 2-3-4-6 0-1 4-4-1-3-3 0 4-5-2-5 0-2 0-7-1-1 4-2-4-4 3 0-3-5 0-5 2 1 8 1 0 0-6 6 4 3-2 1 2 4 0 8-4 1 2 5 0 1 1 7 2 1-4 2 2 6 3 2-5 2 3 9-2 1 2 3 1 5-3 3 4 1-5 3 3 5 1 0-4 5 1 4-1 1 3 6-3 12 5 3-6 8 3 1-2 3 5 1-5 3 2 1-2 1 4 5-2 6-2 8 1 3 3 5-3 1 1 6 0 3-2 5 0 0 3 5-2 21 1 3-3 2 5 2 1 4-2 1-3 6 1 0 3 12-2 7 2 1-3 1 2 2-2 1-1 2 1 0 0 0 3 1-5 1 0 0 5 1-2 1 0 0-3 0 3 0-1 2-1 0-1 2 6" fill="none" marker-start="url(#mg)" marker-mid="url(#mg)" marker-end="url(#mg)"/><path d="M1482 289l1 2 1 3 0 0 0 0 0-1 1-2 1-2 0 1 0 3 1-4 1 0 0 1 0 3 2-4 1 1 0 4 1-2 0-3 1 5 1-3 0-2 1 4 0-3 1 1 0 1 1-3 6 1 2 2 0-1 2-2 4 0 1 2 1-1 1 2 0-2 1 0 1 3 0 0 1-4 0 3 0-3 1 0 1 4 0-1 1-1 0 2 0-3 1 0 1 3 1-2 1-2 0 1 0 2 1-2 6 3 6 0 5-1 4-3 3 5 1-4 3 4 1-6-1 9-5 2-3-3-4 4-7-4-3 1-4 3 0 0-1-3 0-2 0 3-1-3 0-1-1 2-1 2 0-2-2 2-1-3-1 1-1 2 0 1 0-2-1 2 0-3-1 1-1-3 0 1-1-1 0 5 0-2-1-3-1 1-2 3-3-1-5 3-3-3-2-1 0 4 0-2-1-2 0-1-1 2 0 2 0-1-1-4-1 1 0 4 0-4-1 1-1 2 0-1-1-2 0 0-1-1 0 3 0 1 0 0-2 0 0-2 0 1-1 3 0-3-2 1 0-3-6 4-4-3-1 3-4-4-3 1" fill="none" marker-start="url(#mg)" marker-mid="url(#mg)" marker-end="url(#mg)"/><path d="M1460 299l-3-3-5-1 0 1-5 0-5 1-5-1-5 1-1 2-5 1-5-4-3 3-9-3-2 2-1-3-8 2-3 1-4 2-3-5-1 3-3 1-4 0-6 0-1-4-2 2-2-3-4 6-2-5-3 5-6-1-4 0-4-3-3-2 0 3-8 0-2-3-6 3 0-2-3 0-2 5-3-3-5 1-1-3-14 1-3 2 0-4-5 3-2 1-5-3-2 4-5-2-6 0-2 0-6-1-5 1-3-1-2-2-5 2 0-1-3 3-5 0-3 1-4-2-4 0 2 4 4 0 3 4 1 0 1-3 7 1 3 2 2-1 0 0 7 1 1-2 3 1 4-2 5 1 3 0 9-3 1 4 3 1 2-3 7 0 2-2 5 5 5 1 6-3 6 0 0 2 4-4 2 2 6-1 5 1 2 0 7 1 5-1 1 3 3-4 4 0 3 4 1-5 3 4 3-3 12-1 5 3 12-3 2 1 7-2 4 4 3-4 6 4 4 1 0-3 7 0 2-1 3 1 7 0 3 1 6 1 3-1 7 1 1-1 3 2 5-1 2-2 8 1 2 3 1-3 2-1 1 2 0-2 1-1" fill="none" marker-start="url(#mg)" marker-mid="url(#mg)" marker-end="url(#mg)"/><path d="M1489 305l2-4 0 2 0 2 1-2 1-2 0 3 1-1 0 0 0-3 0 5 1-1 1-3 0 1 1 2 0-4 1 3 1 1 1 2 5-5 2 4 0-4 4 0 0 4 3-4 2 2 1-2 1 0 0 5 1-3 0 1 1-4 0 5 1-2 0-2 1-1 0 2 1 3 0-5 0 3 2 3 0-3 0-3 1 1 1 5 0-5 0 3 0 2 0-5 1 3 1 1 3 1 0-6 5 3 4 1 4-1 4 2 2-2 1-1 3 5-5 3-4-3-5 0-3 5-2-5-2 4-3 0-1-1 0-2-1 0 0 3-1-2 0 1 0 0-1-3 0 5-1-1-1-4 0 2-2 1 0-2-1 3 0-4-1 5 0-3 0 2-1-4 0 2-1 3 0-5 0 1-1-2-2 1-1 3-3 1-7-2-2 0-1 1 0-1-1 2-1 0 0 0 0-2-1-2-1-1 0 4 0 2-1-3 0-3-1 1 0 1-1 1 0 1 0 2-1-4-1-2 0 2 0 0-1 3 0-5 0 6-1-6 0 1 0 0-1 4 0-2-1 2 0-5-1 3 0 2 0 0-1-4-4 3" fill="none" marker-start="url(#mg)" marker-mid="url(#mg)" marker-end="url(#mg)"/><path d="M1480 307l-1 4-2-2-2 2-3-5-1 4-3 0-6-4-1 6-3-1-3-4-1 3-3-3-2 5-3-5-3 5-2-6-2 5-1-4-3 2-1 0-7-2 0 4-7-4-5-1-6 1-2 1-3 0-3 3-2-1-3-3-3 2-2 3-1-2-7-4-5 3-4 2-2-2-10 2-2-3-3 1-2 1-9-3-1 3-3 1-2-4-2 0-1 4-6-2-3-1-6 3-1 0-3-5-4 3-1 3-7-1-5-3-3-1-5 4 0-4-9 4-3-4-2 2-1 2-6-1-1-1 0 2-4-3-2 3-3-3-4 2-5-1-3 1-3 1-3-2-10 1-1 0-3-2-2-1 1 10 4 1 2-3 5-3 3 3 2 2 7-1 1 2 2-5 3 5 6-3 5 3 4-2 2 1 9 0 3-3 0 1 5 0 2 2 1-4 4 4 1-4 4 1 8-1 0 1 3 3 4-3 7 3 1-5 5 4 2-3 8 4 4 0 4-1 3-2 4 2 2-1 5-3 2 3 10 1 2-3 2 2 4-2 1 5 4-4 2 0 4 2 11-3 1 4 4 1 2-5 2 2 3-2 1 4" fill="none" marker-start="url(#mg)" marker-mid="url(#mg)" marker-end="url(#mg)"/><path d="M1420 313l7 2 2 2 0-3 7 1 2-1 4 3 4-1 7 1 6 0 0-2 9 0 2 2 5 0 4-1 7 2 1-3 2-1 1 3 1-4 1 0 0 3 0-3 2 0 0 3 0 1 2 0 0-2 1-1 0-2 0 4 1-2 0 4 1-2 1 0 0 2 0-4 2 0 0 2 1-2 0 3 0 0 4-3 1-2 2 3 10 1 0-3 0 4 1-2 0-2 2 3 0 1 0-3 1 2 0 2 1-4 0 1 1-2 0 2 2-1 0-1 1 2 0 3 1-5 0 3 1 2 1-2 1 1 0-1 3 2 5 0 5-3 5 3 1-2 0 4-5 0-2 2-5-3-4 3-2-1 0 2-1-2-1 0 0-1-1 2-1-2 0 3 0 1-2-3 0-2 0 3-1-3 0 2 0 3-1-6-1 1 0 3-1 2-1-4 0 1 0-3-4 2-4 3-2-1-7-1-1 1-1-2-1 4 0-2-1 0 0-2 0-2-2 2-1 3 0-2 0 1-1-2-1 1 0-2 0 4 0-2-1-2-1-1 0 5 0-1-1 2-1-4 0-2 0 1-1 3 0-2 0 1-1-3" fill="none" marker-start="url(#mg)" marker-mid="url(#mg)" marker-end="url(#mg)"/><path d="M1491 320l0 1 0 2-2 1-3-3-8 1-4-3-1 0-6 2-3-2-2 5-3 0-4-3-1 0-5-1-1 4-3-3-5 2-6-1-2 2-1-4-4 3-1-3-5 3-6 0-5 0-1 1-5-4-2 0-3 3-4-4-4 2-3 1-4-3-6 3-2-1-7-3-1 2-3-1-5 3-10-3-3 4-7-2-4 1 0-4-1 4-7 1-3-1-1 1-3-3-6 0-4 0-2 4-6-5-4 1-3 0-5 1-6 0-1 0-9-1-3 0-2 3-6-1-4 0-4 1 0 0-4 0-1 0-4-4-8 0-9 0-1 9 4 0 1-2 2 1 2 1 4-2 1 3 0-5 4 4 8 0 4-3 4 2 6-1 0 4 2-5 8 2 2 2 1-3 3-1 2 5 3-2 2-1 4-2 3 0 7-1 10 3 0 3 3-4 5 3 4-4 8 0 5 0 1 5 5-4 4 0 0 4 6-2 4-1 1 2 1-4 5 3 2-2 6 0 2-1 2 5 2-1 3-4 3 1 6-1 1 5 8 0 1-6 1 3 1 1 9-1 5 2 8-3 6 3 4-2 1 1 5-1 7-1" fill="none" marker-start="url(#mg)" marker-mid="url(#mg)" marker-end="url(#mg)"/><path d="M1466 326l4 2 1-4 3 4 4-3 0 0 9 1 4 4 2-5 1 5 0-5 1 4 0-2 1-2 1 2 0 1 0-1 0-1 1 2 1-2 0 2 0-2 1 2 0 1 1-4 1 3 0-1 0-3 1 4 0-3 1 4 0-2 0-2 1 4 0-1 0-4 1 1 0 1 1 0 0 1 6-2 1 3 2 0 6-1 1-2 2 2 1-1 0 1 1-2 0 4 0-4 2 4 0-1 1-2 0-1 1 3 0-3 0 4 1-1 0-3 1 4 1-5 0 3 1-2 0 1 1 2 1 1 2 1 3-5 1 0 0 3 5-3 0 3 4 0 4 7-8-1-4-1-2 1-3 1-1-1-1-2 0 3 0 0-1-2 0 2-1-5-1 4 0-3 0 1-1 1 0-1 0 1-1 2 0 0-1-4-1 3-1-1 0 2 0-4-1 0-1 0 0-1 0 6-1-3 0 1-3 1-2-3-5 4-5-2-2-1 0 1-1 2 0-6-1 3-1 0 0 0-1 2 0-4-1 1 0-1-1 3-1 1 0-3 0 0-1 0 0 3-1-5 0 2-2 2 0-3 0 2-1 2-2-4" fill="none" marker-start="url(#mg)" marker-mid="url(#mg)" marker-end="url(#mg)"/><path d="M1495 333l0-2 0 2-1 1-5 1-4-4-2 2-4 0-6-1-4 2-3-3 0 2-4-2-3-1-2 5-3-2-4-2-1 3-6-3-1 4-2 1-4-2-4 0-4-3-1 4-2-3-3 4-4-2-1-4-13 5-8-1-5-4-1 2-2 0-5 1-6 1-2 1-1-4-7 0-4 3-3 1-3 0-5-1-5-3-2 2-5 0-2 3-2-4-2 4-2-4-4 1-2-2 0 3-6-1-1-2-6 5-4-2-1-3-4 1-4 0-4 2 0-3-5 4-3-2-4 0-6 0 0-3-3 1 0 3-7-1-2 1-1-3-4 3-6-2-4 1-2-2-2 5-6-1-8-2-4 1-1 5 4 2 2-5 4 1 1 1 8 1 3 3 2-2 1-3 7 4 1 1 1-4 3 4 5-3 4 0 2 1 9-3 2 5 3 0 2-4 3 3 5-1 1-4 4 0 2 4 2-1 4 2 5-2 4-1 7 1 5 0 5 0 2-2 4 0 6 3 4-2 6 3 4-4 3 2 8 0 1 1 6-1 6-2 3 0 1 4 5-3 1 4 5-4 4-2 4 3 1-3 0 5 2-4" fill="none" marker-start="url(#mg)" marker-mid="url(#mg)" marker-end="url(#mg)"/><path d="M1420 342l2-4 5 0 3 0 5 3 1 1 4-2 4-2 4-1 12 1 0-2 5 4 3 2 3-5 2 5 4-1 1 0 5-2 9 0 1-1 4 4 0-3 0-2 1 4 0-2 1-1 0 0 1-1 0 3 1 2 0-2 1 2 0-1 0-3 1-1 0 0 1 4 0-2 2 1 0-2 0-2 1 2 0 4 0-6 1 4 1-4 0 4 0-2 1 3 1-3 4 4 1-5 4 4 7 0 1-4 1 0 1 2 0 2 0-2 0-2 1 4 1-3 1 3 0-2 0-1 2 0 0 1 0 1 1-2 1 2 0 1 1-1 1-2 2 1 5 0 3-1 4 0 2 9-2-2-2 3-2-4-4 2-2 0 0 1-1-4 0-1 0 4-1-1-1-2 0-1 0 0 0 6 0-5-1-1 0 5-1-1-1-1 0-1-1 4 0-3-1-3 0 1 0-1-1 1 0 3-1 2-2-5-1 2 0-1-6-2-3 4-1-4-5 4-1 1-2-2 0-2-1 0 0 2-1 3 0-3 0-2 0 2 0 3-1-1-1 0 0-1 0-3-1 1-1 2-1-3 0 2-1 1" fill="none" marker-start="url(#mg)" marker-mid="url(#mg)" marker-end="url(#mg)"/><path d="M1504 345l-1 3 0-6-1 4-1-1 0 1 0-1-1 0-1 3 0-4-1-2-1 0-2 1-6 0-5 2-4 3 0-6-8 1-8 3-4 0-2-1-7 2-1-4-4 1-2 0-3 0-3 3-2-1-11 0-11 2-1-1-6-5-3 3-9 1-3-4 0 4-2 1-4-4-4 3-2-1 0 3-4-3-2 3-13-6-6 2-3 1-1 2-2-3-5 1-8-2-2 3 0 1-7-5-4 1 0 4-6-1 0-4-5 4-2-3-4 2-2 2-4 0-1-4-5 1-5 2-5-2-4 2-2-3-3 5-3-4-4-2-12 3-12 0-4 0-5-3-3 3-2 5 4 1 9 2 2-3 4 0 5 0 4 0 3 3 2-5 3 3 9 0 2-2 1 4 9-4 4 4 4-3 6 3 6 0 2-3 1 2 9 2 11-4 1 1 4 0 1-2 6 1 1 3 2-2 3-2 2 4 8 0 3-2 1 2 5-2 1-1 1 2 13-2 4 3 13-2 2-2 2 3 4-2 4 2 8 1 3-4 1 5 1-5 8 1 2 1 2 2 6-5 6 2 2 2 4 1 5-3 3 1 3-1" fill="none" marker-start="url(#mg)" marker-mid="url(#mg)" marker-end="url(#mg)"/><path d="M1470 350l5 1 1-1 5 1 9 0 1-2 3 1 1 4 4 0 0-5 1 3 0-1 1-2 0 3 1-3 0 4 0-3 1 0 0 2 1-4 1 4 0-4 0 2 1 1 2 2 0-3 1 3 0-3 1 4 1-4 0 3 1-1 1 1 0-5 0 5 1-4 0 5 7-3 5 2 3-1 4-2 0 3 1-3 1 1 1 2 1-2 0-1 0 0 0-2 2 2 0 2 2-2 1 1 0 2 0-4 1 3 1 0 0-2 1 4 1-1 0 0 2-2 3 2 2 7-6-2-1-2-1 1-2 1-1-3 0-1-1 3 0 3 0-4-1-2 0 3 0 1-1-4-1 5 0-4-1 2 0-1 0 0-1 3-1-1-1-4-3 6-7-3 0 0-8 2 0-1 0 2-1-3 0-2-1 1-1 3-1-1 0 2 0-4-1 1 0-2-1 4-1-3 0 1-1 2 0-5 0 3-1-2 0 3-1-4-1 2 0 2-1-1 0-2 0 0-1 2-1 2-1-3 0 0 0-2-7 4-3-1-5-2-8 1 0 2-6-4-1 4-5-4-2 3-3 0-2-2-2 0-3 0-4 1" fill="none" marker-start="url(#mg)" marker-mid="url(#mg)" marker-end="url(#mg)"/><path d="M1444 357l-3-2-4 3-2 1-4-4 0 4-7-2-5 2-2 0-1-5-6 3-2-2 0 0-6 2-7 0-1-3-2 4-4 1-5 1-2-5-2 3-4 0-7-1-3-1-4-1-4 1-6 3-4-2-7 1-1-2-8 1-2 0-4-3-2 2-1 4-2 0-3-4-3 3-5-1-5-1-5 0-4 2-1-4-1 1-5 2-2-3-3 0-1 0-6 2-3 2-6 0-4-1-4-2-3 3-1-4-1 5-2-6-2 3-7-1-4 2-5 0-4-3-1 4 0-1 0 3 6 1 4 1 9 1 4 0 5-3 6 4 2-3 3 1 1 2 2-3 5-1 8 0 2 2 4-2 3 4 3-4 4 1 3 1 6 0 2 2 2-3 13-2 9 4 1-2 7 0 3 2 0-3 4 1 4 0 7 2 2-2 6 0 2 4 2-5 3 4 1-2 5 0 6 0 5-1 3 4 3-4 1 2 5-2 8 1 2 0 5 2 2-1 4-3 0 4 7-1 2 2 2-3 4-1 9-1 1 1 5 1 0 2 4-4 4 4 2-3 5 2 3-2 6-1 2 4 6 0 1-4 3 0 7 1" fill="none" marker-start="url(#mg)" marker-mid="url(#mg)" marker-end="url(#mg)"/><path d="M1502 361l1 0 0-1 1 5 1-3 0-1 1 3 0-4 0 1 1 3 0 1 0-3 0 1 1-2 1 2 0 3 1-5 1 1 1 2 0 1 0-2 0 1 1-3 1 4 1-1 1-3 0 2 0 0 1 1 0-2 1 1 3 0 3 0 1 2 4 0 8-3 0 0 2-1 0 0 3 5 5-2 0 0 2 1-1 5-2 2-6-4-4-1-4 2-5 3-6-5-1 4-1 0 0-1-1-2 0 3-1-3 0 0-1 3-1-4-1 2-1 1 0-1-1-2 0 2 0 1 0-1-1-2-1 4 0-3 0 4-1-3 0-2-1 1 0 2-1-1 0-2-1 1 0-1 0 4-1-1-1-4-3 5-3-4-6 0-7 1-1 3-5 0-3 0 0-4-3 0-1 3-7-2-4 1-6-1-2 4-4-5-2 5-2 0-1-4-6 1-1 1-8-2-8 4-6-3 0 3-6-5-1 0-2 5-6-4-7 2-1-2-2 0-6-1-5 1-3 1-7 2-3-3-4 2-2-3-5 1 0 3-3-2-2-3-5 3-2-2-2 4-4-5-2 4 0-1-3 3-2 0-3-6-1 1" fill="none" marker-start="url(#mg)" marker-mid="url(#mg)" marker-end="url(#mg)"/><path d="M1323 372l-2-1-1-3-4 2-1-3-9-1-7 0-3 3-2-1-3 3-3-2-3 2-6-2-3-2-2 5-3-3-5 1-6-3-5 3-2-1-2-1-3 4-2-1-1-4-2 2-7-2-1 4-1-4-4 4-2 1 4 6 7-2 2-3 5 1 5 2 5 1 2-5 0 2 7 1 3-1 3-1 2 4 2 0 5-4 4 2 1 0 7-1 5 0 5 1 1 1 1-2 6-1 1 2 3 1 3-2 12 3 4-3 4 4 3-2 17 2 5-3 1 1 3-3 8 5 3-1 2-4 5-1 1 6 2-4 3-1 4 4 3-3 2-1 2 0 1 2 5 1 3 1 1-4 3 2 6 2 6-1 0-3 7 0 5 4 3-2 6 0 3-1 8-1 1 2 2-1 7 4 3-4 4 2 6-2 6 3 1 1 0-6 6 3 2-3 1 6 5-5 2 4 2-5 0 2 2-1 0 3 0-1 0-1 1 1 1 1 0-1 1 1 0 1 0-4 2 0 0 4 1-2 1 1 0-1 1-2 0 1 1 4 0-2 1-3 1 1 0 2 0-3 0 4 2 0 0-2 2 0 5 2 4 0" fill="none" marker-start="url(#mg)" marker-mid="url(#mg)" marker-end="url(#mg)"/><path d="M1535 372l2 3 4-1 1-1 4 4 4-1-1 6-5 1 0 0-3-3-6 1-4 1-5-1-3 0-1 1 0 2-1-3 0-2 0 0-1 4 0-4-1 2 0-1-2 2 0 1 0-3-2 0 0 3-1-4 0 0-1 0 0 1-1 2 0-4 0 2-1 3-1 0 0-2-1-3 0 4-2-2 0-1-1 1-1-1-11 1-4-2-4 1-2 4-3 1 0-4-3 4-4-2-3 1-3-2-8 1-2 0-1 1-3-1-4 1-1-4-5 1-5 1-2 3-1-4 0 3-4-5-3 3-2 0-10 0-5 1-6-4-3 5-2-1-4-1-4 1-3 1-3-2-4-1-4 0-4-1-5 2 0-3-1 6-3-1-2-3-4 1-6 0-2 3-3-5-4 3-4-2-1-1-3 5-5-2-3-1-6-3-5 1-1 1-6-1-4 2-8-2-1 0-1 4-4-4-2 4-4-2-3 0-4 2 0-5-6 1-3 1-8-1-3 0-3 1-4 3-2-2-8-1-4-1-3-1 0 1-6 1 3 7 4-1 3 1 0 1 4 0 3-2 4 3 1-4 8 1 6-1 2 0 1 3" fill="none" marker-start="url(#mg)" marker-mid="url(#mg)" marker-end="url(#mg)"/><path d="M1275 387l1 2 4-3 3 2 5-2 2 3 7-1 2 0 1-2 5-2 3 2 6 0 6 1 5-2 2 5 2-4 3 3 2-4 2 4 6 0 1-2 3-1 12-1 0 4 0-2 9 1 9-3 1 1 1 1 5 3 10-2 1-2 7 2 5-1 2-2 2 5 2-4 3 3 4-4 2 3 6-2 2-2 14 3 2-1 4 4 4-5 9 2 2 2 2-3 4-1 11 3 6-2 5-1 7 2 1 3 3-3 1 1 5-4 0 5 0-5 1 5 0-3 0 2 0 1 1-3 1-1 1-1 1 3 0-1 0 0 1 3 1-4 0 5 1-5 0 2 0-1 1 2 0 2 0-4 1 3 0-4 0 3 1-3 1 0 0 2 1 1 0-3 1 0 1 3 0-3 1 5 1-4 3 1 3 3 2-5 4 0 8 4-4 6-4-4-2-1 0 3-5 1-5 2-1 0 0 0-1-4 0 2-1-2 0-1 0 2 0 3 0-6-2 2 0 4-1-1 0-5 0 5-1-4 0 3-1 2-1-3-1-2 0 1 0 3-1-5-1 4 0-2 0 2-1-3 0 4-1-4-1 2 0 0" fill="none" marker-start="url(#mg)" marker-mid="url(#mg)" marker-end="url(#mg)"/><path d="M1505 395l-5-2-4 0-1-2-4 2-3-3-4 6-1-5-4 2-2 1-4-4-11 1-2 4-3-5-3 6-4-6 0 3-11 1-1-3-5 3 0-3-2 4-1-5-5 0-1 4-5-2-5 1-5 2-4-2-1 2-6 1-8-5-8 3-5-1-2 1-1-3-3 1-3 2-1-2-6 1-1-3-4 6-4-2-2-2-2 0-2 0-3 0-7 4-2-4-5 0-3-1-3 4-3-1-5 2-1-4-3 2-1-3-2 4-1-3-8 1-4 0-2 3-6-2-2-4-3 3-5 1-5 1-6-3-1 1-5 0-2-2-1 0-1 4-8 0-2-1-10-2-1 2-4 1 0 3 5 3 5 0 3-3 2 4 5-5 4 2 3-2 7 3 1-3 8 3 3 2 3-3 7 1 3 0 6 1 5 0 4-2 3-2 5 2 1 3 5-4 3-1 5 2 8-2 4 2 3 2 8 0 1-3 4-1 6 1 2 1 5 0 6 1 4 2 3 0 3-1 4-5 2 3 2-2 1-1 4 4 6-3 1 2 4 2 4-1 3-1 7 1 4-3 1 0 6 3 4 1 6-1 6-2" fill="none" marker-start="url(#mg)" marker-mid="url(#mg)" marker-end="url(#mg)"/><path d="M1450 400l5-4 2 1 2 5 2-4 4 1 2-3 5 2 2-1 6 1 6 1 1 3 4-5 1 2 3 2 4-1 6 0 1-4 0 2 5 2 0 2 2-3 0 2 1-5 0 2 0 3 1-5 0 3 1-1 1 3 0-1 1-2 0 0 1 1 0 0 1-3 0 6 0-1 1-4 0 4 1-2 0 0 1 2 0-4 2 0 0 4 0-2 1-2 1 5 0-3 1 0 2-2 4 2 5 2 1-2-10 3-2 1 0 1-1 0 0 3-1-3 0 1-1 1 0 1-1-3 0 0-1-1-1 4 0-1-1-4 0 2-1 2 0-1-1 1-1-3 0 5-1-1-1-3 0 2 0-1-1-3 0 4 0-2-6-2-5 4-5-4-11 6-3-2-1 0-3-1-6-2-6 1-2 1-7 3-5-3-5 1-1-2 0 2-6 0 0-4-5 4-2-1-7 0 0 3-3-3-1 1-6-1-5-1-4 1-1 1-8 0-1-3-3 5 0-3-5-2 0 3-2-2-10 3-5-5-5 0-2 5-2-4-3 4-1-4-17 0-2 0-5 4 0-4-6-1-2 5 0-3-5 4-4-4" fill="none" marker-start="url(#mg)" marker-mid="url(#mg)" marker-end="url(#mg)"/><path d="M1320 406l-1 0-7 0 0 0-2-4-3 0-8 3-4-1-2 3-4-3-4 1-1 3-3-5-6 5-2-5-4 3-7-1-4 1 0-3-3 0-6 3-5 2-3-3-2 1-3-4-4 0-2 10 3-3 3 5 2-4 5 0 0 1 8-2 1 5 3-5 2 2 7 3 0-4 4-1 5 4 1-5 3 4 3-1 5-2 1 2 6-1 4 2 1-3 1 5 5-5 0 4 2-3 3 3 12-2 4 1 5-1 5-2 3 4 3-3 4 2 1-1 5-2 2 4 6 0 0-4 1 1 5 2 7 1 1-1 5-3 6 2 4 3 6 0 8-1 5-2 10 2 5-5 5 6 2-2 7-2 1 1 5-2 0 2 4 0 4 2 4 0 1-3 3-2 0 4 6 0 3-3 1 3 2-4 1 6 3-4 1 3 8-3 10 1 4-1 1 2 1-2 3 2 3-3 2 1 1 3 5-4 2 3 1-4 1 1 0 1 0-2 1 5 1-2 0 2 1-3 0 0 0 1 2-2 0 1 0 0 1 2 0-1 1-2 3 3 3 0 4-4-6 11-5 0-4-4-1 1-6 2-3 0-7 1" fill="none" marker-start="url(#mg)" marker-mid="url(#mg)" marker-end="url(#mg)"/><path d="M1500 416l-6 2-6 0-2-3-1 4-4-3-6 0-2 4-5-2-4 2 0-5-4 5-2 0-1-4-5 3-6 0-5-2-1-1-6 0-5 1-6-2-1-1-3 2-2 0-5 3-5-4-4 1-6-2-1 4-2-3-10 1-5 2-1-4-1 6-3-2-6 1-4-1-2-4-1 1-3 0-6 3-4-1-4-1-5 0-5 2-1 2 0-5-4 1-3-1-6 5-5-6-1 6-2-3-3 2-4-4-6 1-2 0-4 0-7 0-4 4-1-4-3 1-7 2-1-4-1 0-6 5-1-2-2-2-1-1-2 1-2 4-6-2-4-2-6-1-5 3-3 0-3 4 4 2 5-3 2 5 1-4 3-1 2 4 6 0 5 1 2-3 7 2 1-5 7 4 3-3 12 3 1-3 3 1 4 2 1-3 2 4 2-1 3-3 2 4 5-4 8 2 6 0 3-2 0 5 7-2 1-1 7-1 2 3 4-1 4-2 4-2 1 5 0-1 2 2 4-1 1-5 4 4 7-3 7 2 5 3 2-4 2 3 2-4 2 1 3 3 1-3 4 1 6-2 0 4 8-4 0 2 9 0 2 0" fill="none" marker-start="url(#mg)" marker-mid="url(#mg)" marker-end="url(#mg)"/><path d="M1430 425l2 1 1-4 5 0 7 0 1 4 1-3 3-1 19 3 2-3 6 2 1-4 2 6 3-2 2 0 4-2 3 0 2 3 3-5 3 5 3-2 5-2 11 0 2 0-3 6-4 2-2 0-3-2-3 2-2-2-1 4-3 0-10-2-3 3-2 0-5-2-7-4 0 3-2 2-6 1 0-5-4 0-1 4-5-4-2 1-1 4-7-4-1 3-5-2-2-2-3 3-9-1-6 0-5 0-7 1-2-3-2 1-10 2-3 0-4-1-2-1-6 0-2 0-2 1-3 3-1-5-4 4-3-1-7 1-6-1 0-2-9 3-5-4-5 5-5-1-1-5-1 3-4-2-3 0-2 5-3-4-3 3-20-3-6 2-1-1-3 1-2-3-4-1-6 2-10-1-11 2-3 2-5-3-3 3-2-1-2-3-3 0 4 11 4-1 4-1 4 1 6-5 1 2 3 0 0-2 6 3 0-2 5 1 5 1 0-2 1 0 1 1 6 3 5-1 6-4 1 5 7 0 1-4 2 0 2 4 3-5 1 3 5 0 5 3 8 0 4-1 7-2 2-2 3 4 1 0 4-4 0 5 4-3" fill="none" marker-start="url(#mg)" marker-mid="url(#mg)" marker-end="url(#mg)"/><path d="M1358 435l4-1 4 4 6-2 1 1 4-3 6 0 6 3 4-1 3-4 3 5 3-3 1-1 3 5 3-5 4 5 3-1 5-2 0-2 4 3 2-3 0 0 1 2 7 1 2-2 8 3 1-4 5 3 6-2 2-1 5 4 4-3 2 1 7 2 4-1 4-2 4 0 4-1 1 2 4-1 4 2 4-1-2 5-3-2-11 5-2-3-2 1-2 3-5-2-2 0-5-4-3 5-2-4-7 2-1-1-5 3-1-2-7-1-1-1-6 4-1-1-2-3-8 1-1 0-4 3-1-3-4-1-7-1-4 2-4 2-3 1-3 1-2-5 0 3-8-3-5 0-4 3-6-3-1 2-8 0 0-2-6 1-6-1 0 5-2-2-9 0-2 0-2 1-4-3-1 3-1-2-7 1-5-1-2 3-2-6-4 4-3 1-2-4-4 3-5-3-6-1-4 3-4 2-1-3-3 2-5 1-6-4-4 3-3 0-4-3-2 5-4-5-2 4-2-3-5-1-5 1-3 3-3-4 7 7 2 1 8 0 4 1 3 2 4-5 3 4 2 0 1-3 3-2 3 3 2 2 1-4 5 0 0 4" fill="none" marker-start="url(#mg)" marker-mid="url(#mg)" marker-end="url(#mg)"/><path d="M1282 447l4 0 4 0 2 1 10-3 5 4 1-3 3 2 10-3 1 4 2-4 3 0 2 4 4-2 6 1 3-2 5-1 5 4 2 1 1-4 5 1 2 1 2-3 4 0 2 2 4-3 2 6 1-5 0 4 5-3 4 3 3-1 2-3 7 4 5-1 3-3 3 2 2-2 4 5 1-5 2 5 6-1 6-2 4 1 2-4 7 3 3 1 3 1 1-4 6 0 4 3 0-3 4 5 5-2 4-3 9 2 4 3 7-6-5 6-6 2-2 2-2-4-3 3-2 3-9-2-5 1 0 0 0-4-5-1 0 4-7 0-7-3-3 3-3 1-3-4-2 4-6-3-1 4-8-1-4 0-5 0-1-5-4 2-1 2-4-3-2 5-7-3-3-1-2 1-6 3-5-1-6 1-1-6-4 5-5 0-1-2-4-2-3 3-3-4-4 4-6-2-6 2-6-1 0-2-6 0-1 3-2-2-5 1-7 3-2-3-4-2-4 2-1-2-9 4-1-2-8-1-1 2-5 0-13 1-8-5 2 7 5 3 4-1 0-3 3 0 1 1 7 1 3 3 3-3 4 0 6 0 6-2 1 5" fill="none" marker-start="url(#mg)" marker-mid="url(#mg)" marker-end="url(#mg)"/><path d="M1291 458l3-1 5 0 2 5 4-1 4-2 6-1 4-2 1 2 2 2 5 2 4-2 6-3 4 0 4 3 5 1 3-2 2 1 6-3 2 3 6 0 6 0 5 1 1-3 4 2 7-1 4 1 6 0 4 0 4 1 7-1 1 2 1-5 5 2 8-3 4 3 4-1 3 4 2-5 0-1 1 3 6 1 3 1 0 1 5-2 8-2 4-1 2 2 5-2-9 7-3 1-2 1-3 1 0-4-5 3-5 2-1-6-1 3 0 1-9-3-9 1-3 2-1-2-1 1-1 1-7 0-1 1-1-2-5 1-3-2-1-2-6 2-5-1-5 2-5-2-3 1-8-1-4 4-3-3-2 0-1 3-6-4-1 4-3-2-2 3-7-6-6 6-1-4-3-1-4 2-3 1-5-2-3 3-5-5-4 0-2 2-3 2-2 0-2-4-5 5-4-3-8 3-2-3-1 3-1-5-4 3-8-2-3 1-5 1-1 1-5-3-3 0 21 6 2-1 17 0 3 1 16 1 6-2 21 2 8-2 3 2 17-1 11-1 4 0 3 2 5-1 4 0 5-1 6 2 27-1 6 1 3-1 27 0" fill="none" marker-start="url(#mg)" marker-mid="url(#mg)" marker-end="url(#mg)"/>
<rect x="1495.4" y="16.1" width="43.1" height="41.7" fill="#F2F2F2"/>
<circle cx="1517" cy="36.7" r="6.3" fill="#F08A24" stroke="#000" stroke-width="1.3"/>
<text class="l" x="1553.8" y="47" font-size="28" textLength="106.2" lengthAdjust="spacingAndGlyphs">NK cells</text>
<rect x="1654.2" y="136.4" width="353.8" height="345.9" fill="#EBEBEB"/>
<line x1="1669.6" y1="136.4" x2="1669.6" y2="482.3" stroke="#fff" stroke-width="1.6"/>
<line x1="1654.2" y1="474.6" x2="2008" y2="474.6" stroke="#fff" stroke-width="1.6"/>
<line x1="1709.6" y1="136.4" x2="1709.6" y2="482.3" stroke="#fff" stroke-width="0.8"/>
<line x1="1654.2" y1="434.7" x2="2008" y2="434.7" stroke="#fff" stroke-width="0.8"/>
<line x1="1749.6" y1="136.4" x2="1749.6" y2="482.3" stroke="#fff" stroke-width="1.6"/>
<line x1="1654.2" y1="394.7" x2="2008" y2="394.7" stroke="#fff" stroke-width="1.6"/>
<line x1="1789.6" y1="136.4" x2="1789.6" y2="482.3" stroke="#fff" stroke-width="0.8"/>
<line x1="1654.2" y1="354.8" x2="2008" y2="354.8" stroke="#fff" stroke-width="0.8"/>
<line x1="1829.5" y1="136.4" x2="1829.5" y2="482.3" stroke="#fff" stroke-width="1.6"/>
<line x1="1654.2" y1="314.8" x2="2008" y2="314.8" stroke="#fff" stroke-width="1.6"/>
<line x1="1869.5" y1="136.4" x2="1869.5" y2="482.3" stroke="#fff" stroke-width="0.8"/>
<line x1="1654.2" y1="274.9" x2="2008" y2="274.9" stroke="#fff" stroke-width="0.8"/>
<line x1="1909.5" y1="136.4" x2="1909.5" y2="482.3" stroke="#fff" stroke-width="1.6"/>
<line x1="1654.2" y1="234.9" x2="2008" y2="234.9" stroke="#fff" stroke-width="1.6"/>
<line x1="1949.5" y1="136.4" x2="1949.5" y2="482.3" stroke="#fff" stroke-width="0.8"/>
<line x1="1654.2" y1="195" x2="2008" y2="195" stroke="#fff" stroke-width="0.8"/>
<line x1="1989.5" y1="136.4" x2="1989.5" y2="482.3" stroke="#fff" stroke-width="1.6"/>
<line x1="1654.2" y1="155" x2="2008" y2="155" stroke="#fff" stroke-width="1.6"/>
<line x1="1650.2" y1="474.6" x2="1654.2" y2="474.6" stroke="#333" stroke-width="1.2"/>
<text class="l" x="1647.7" y="479.9" font-size="15" text-anchor="end" fill="#4D4D4D">0</text>
<line x1="1669.6" y1="482.3" x2="1669.6" y2="486.3" stroke="#333" stroke-width="1.2"/>
<text class="l" x="1669.6" y="502.8" font-size="15" text-anchor="middle" fill="#4D4D4D">0</text>
<line x1="1650.2" y1="394.7" x2="1654.2" y2="394.7" stroke="#333" stroke-width="1.2"/>
<text class="l" x="1647.7" y="400" font-size="15" text-anchor="end" fill="#4D4D4D">1000</text>
<line x1="1749.6" y1="482.3" x2="1749.6" y2="486.3" stroke="#333" stroke-width="1.2"/>
<text class="l" x="1749.6" y="502.8" font-size="15" text-anchor="middle" fill="#4D4D4D">1000</text>
<line x1="1650.2" y1="314.8" x2="1654.2" y2="314.8" stroke="#333" stroke-width="1.2"/>
<text class="l" x="1647.7" y="320.1" font-size="15" text-anchor="end" fill="#4D4D4D">2000</text>
<line x1="1829.5" y1="482.3" x2="1829.5" y2="486.3" stroke="#333" stroke-width="1.2"/>
<text class="l" x="1829.5" y="502.8" font-size="15" text-anchor="middle" fill="#4D4D4D">2000</text>
<line x1="1650.2" y1="234.9" x2="1654.2" y2="234.9" stroke="#333" stroke-width="1.2"/>
<text class="l" x="1647.7" y="240.2" font-size="15" text-anchor="end" fill="#4D4D4D">3000</text>
<line x1="1909.5" y1="482.3" x2="1909.5" y2="486.3" stroke="#333" stroke-width="1.2"/>
<text class="l" x="1909.5" y="502.8" font-size="15" text-anchor="middle" fill="#4D4D4D">3000</text>
<line x1="1650.2" y1="155" x2="1654.2" y2="155" stroke="#333" stroke-width="1.2"/>
<text class="l" x="1647.7" y="160.3" font-size="15" text-anchor="end" fill="#4D4D4D">4000</text>
<line x1="1989.5" y1="482.3" x2="1989.5" y2="486.3" stroke="#333" stroke-width="1.2"/>
<text class="l" x="1989.5" y="502.8" font-size="15" text-anchor="middle" fill="#4D4D4D">4000</text>
<text class="l" x="1831.1" y="526.3" font-size="19" text-anchor="middle">x</text>
<text class="l" x="1602.2" y="309.4" font-size="19" text-anchor="middle" transform="rotate(-90 1602.2 309.4)">y</text>
<text class="l" x="1754" y="110.7" font-size="28" textLength="185.6" lengthAdjust="spacingAndGlyphs">Residual HCC</text>
<path d="M1772 156l-2 0-10-2-22-1-13 7 1 2 3-1 3-2 4-2 4 3 12 1 2-2 27 0 0 3-4 1-8 0-5-1-11 3-1 2-5-4-13 5-6-5-8 4-2-5-1 7 4 4 2-4 5-1 0 4 15-1 10-1 4 1 18 1 8-3 0 3" fill="none" marker-start="url(#mo)" marker-mid="url(#mo)" marker-end="url(#mo)"/><path d="M1945 155l-4-1-6 0-8 1-4-4-2 5-7-2-1-2-10-1 0 5-2-5-1 4-5-1-4 0-2-2-2 2-3-2-1 3-4-4-5 4-4-3-2 3-1-3-5 2-1-3-6 4-4 0-1-3-2 3-2-4-1 4-4-4-3 4-5-3-1 0-4 2-1 2-2-5-2 3-7-2-2-1-3 2-4 2-1-4-3 3-6 0-4-2-2 4-2-3-5 1-4-1-1 0-16-1-8 3-2-3-2 3 0-3-9 3-1-3-1-1-8 3-2 0 17 2 1 4 10 0 6-3 1 4 2 0 4-4 5 1 10 4 0-2 6-1 2 2 3-5 1 5 6-3 6 0 2 3 7-4 0 4 4-2 4 2 3-3 2 0 3-1 5 4 4-2 4 3 5-2 3-1 3 0 4-3 3 3 4 1 3-2 5-1 2 3 1 0 5 0 4 0 8-2 4 2 3-2 3-2 1 5 3 1 0-2 5-3 2 1 2 0 7 2 1 1 2-4 3 2 4-1 4 3 6-3 7 3 8 7-8-5-1 1 0 4-6-6-3 2-4 2-1-2-3 1-7-1-5-1-4 1-5 1-2 2-5-2 0 2-1 1-4-4-1 2-3 0-1 1-1-1-2 2-2-5-1 1-1 3-7-3-3 1 0 3-4-4-3-1-1 4-3-5-1 6-3-2-4-2 0 4-2-1-6-2-3-2-3 1 0 4-4-1-1-5-7 0-3 2 0 2-5-1-3 1-5-3-3 5-1-3-4-1-1 3-6-1 0-1-9 0-4-1-2 1-20-3-7 4-6-3-5 2-5 2-5-1-8-4-28 9 2-2 3 3 11-1 10 2 3-1 3-3 4 1 15-1 8 5 0-3 3-3 2 3 0-3 5 1 4 5 5-2 0 0 2-2 10 3 0-1 2 1 1-1 1-3 1 2 1 2 1-5 3 4 0 2 0-4 1-2 2 3 1-1 1 1 1 3 0 0 4-3 1 0 2 0 1 1 1 0 1-3 1 0 0 3 1 2 3-5 1 2 3-2 0 1 1 2 4-1 0 2 1-2 1-1 3 0 0 2 1 0 2 2 0-4 1 3 4-4 0 2 2-2 0 4 1-1 1 2 0-5 1 0 0 3 1-1 2-2 2 3 1-1 2 0 1-2 1-1 0 5 2 1 0-1 1-5 2 3 1 2 2-5 2 1 0 5 1-3 1 3 0-5 1-1 0 4 3-1 3 0" fill="none" marker-start="url(#mg)" marker-mid="url(#mg)" marker-end="url(#mg)"/><path d="M1731 164l21 8" fill="none" marker-start="url(#mo)" marker-mid="url(#mo)" marker-end="url(#mo)"/><path d="M1771 176l-8 3-3-1-1-4-9 1-10 1-15 1-8-1-1-2-16 8 7-1 5 0 6 3 5 1 15-5 2 3 5 0 10-2 3 3 5-1 4-1 0 2 11-1 6-2" fill="none" marker-start="url(#mo)" marker-mid="url(#mo)" marker-end="url(#mo)"/><path d="M1885 170l1-2 1 2 0-2 1 3 3 0 1-1 1 0 1 1 2 0 1-1 1 3 0-3 2 4 2-2 0-3 2 1 1 2 0-1 3 2 1 0 0-4 2 5 1-4 0 2 0-1 3-1 1 1 0 0 1-1 0 0 2 0 3 1 2-2 1 1 1 2 5-3 1 3 3-4 0 5 6-3 4-2 1 5 1 1 1-4 4 2 5 1 1-3 2 1 8-1 3 2 6 7-7-3-2-1-2 5 0-1-5 0-2 0-7-4-1 3-7-2-2-1-8 1-4 0-7-1-7 0 0 1-8 0-2 0-2 1-4 3 0-4 0 1-2-1-1-1-1 2-4 1 0-4-2 2-1 2-1 1 0 0 0-5-2 0 0 6-2-3-1-3-1 6 0-1 0-2-2 0-1 1 0-2-2 4-1-2-2-3-1 4-1-2-1 1-1-3-1-1 0 4-2 2 0-2 0-2-4 0-1 2-1-3 0 2-2-2-2 2-1 1-1 1-2-2 0-1-2 1-2 1-1-1-1-3 0 5 0-1-3-1 0-1-2-1-1 4-1-3-4 1 0 0-3 1 0-1 0 1-1-3-2 0-1 4 0-4-1 5-1-1-1-4-2-1-1 1-1 5-1-5-2 1-1 3 0-1-2-4-2 5-2-1-2 0-1-1-1 2 0-3-2 2-2-2 0 1 0 2-1-5-2 4 0-1-2-2-2 4 0-4-4 2-2 1-2 0-1-4 0 1-3 3 0-2 0 0-2-1-1 0-5 2-8-2-12 3-9-3-2 3-8 0-6-3-9 5-2-2-9-1-4-2-5 1-8 8 1 0 19 0 1-1 4-2 9 0 5 0 5 4 2 1 8-4 3 4 3-2 6-1 12-2 7 0 2 4 3-3 0 3 3-4 1 4 0-5 0 2 3 2 1 0 1-3 1 5 0-1 0-2 1-2 2 0 1 2 3 3 1-3 0 1 2-1 2 0 2 1 1-2 0-2 1 5 2-3 2 4 1-3 2 1 0-4 1 5 0-2 1 0 2 0 2 2 0-4 2 4 1-4 1 3 0-1 2 3 1-1 1-5 0 6 1-1 3-2 0-1 1 1 0 1 1 2 2-6 0 1 1 5 1-3 1-3 0 2 1-1 1 4 2-1 2-2 1 3 2-4 0 2 2 2 2-3 0 4 2-5 0 1 1 3 1-1 1-1 1 2 1-3 2 2 1-3 0 5 2-5 0 3 1-4 1 4 2-3 0 2 2 1 2-1 1-2 2 5 1-3 2 1 1-1 0 2" fill="none" marker-start="url(#mg)" marker-mid="url(#mg)" marker-end="url(#mg)"/><path d="M1730 176l5 9" fill="none" marker-start="url(#mo)" marker-mid="url(#mo)" marker-end="url(#mo)"/><path d="M1782 190l-8-4-18 5-7 0-14-2-3 3-2-2 0-3-18 5-3-5-5 0-3 2-2 2-1 5 4 1 10 0 5-3 5-2 11 4 23-1 1 1 12-2 0-2 11 3" fill="none" marker-start="url(#mo)" marker-mid="url(#mo)" marker-end="url(#mo)"/><path d="M1883 184l3-3 1 2 1-2 1 3 3-4 1 4 0-3 2 1 0-2 1 6 2-5 1-1 0 4 0-2 1-1 0 5 30-1 1-2 6 1 2 0 0 1 5-5 4 3 1 1 6-3 4 4 1-4 2 4 2-3 7 3 1-2 5-3 0 1 5 7-1-2 0 5-6 0-1-4-4 3-2-2-1-1-7 4-2-2-4 0-3-2-3 4-5-4-1 3-2-1-4 3 0-6-32 6-2-1-2 1 0-3 0-1-2-2-2 2-1 3 0 1 0-2-2-4 0 1-2 2-1-1-2 0 0-1-2 4-2-3-1 3-1-3-1 4-1-5-2 2 0 1-1 1-1 0-2 0 0-1-1-3-1 1-1 3 0-4-1 4-1-2-1 1-2-2-2 3-2-3 0 3-2 0-1-3 0 3-2-2-2 2-1-1-1 1-1-2-1-1 0-1-2 2-2 1-1-2 0-1-2 2-1-1-2 2-2-3-1 5-1-2-3-4-1 5-2-3-1 0-1 3-2 0-1 1-1-3-1-3-2 6-1-5-2 4-1 0 0-2-3 0 0-2-1 3 0 1-1-5 0 5-4-4-1 2-2 1-1-3 0 1-2 4-2-5 0 2 0 0-1 2 0-4-2 1-3 0-1 4 0-2 0 2-2-5-1 2-1 3-2-2-2-1-1-3-1 5-6-5-1 4-6-1-6 0-3-1-3 3-14-3-21 0-17-2-2 3-11 0-8 7 4 1 4-2 6 0 5-1 8 2 8 1 2-2 7-1 9-1 1 0 5-1 0 1 5 4 3-1 7 1 6-3 9 2 3 0 8-1 0 0 0-3 2 3 3 1 1 1 2 0 1 0 1-4 1 3 1 1 1-2 2-3 1 3 1 2 1-4 2-1 1 1 0 2 2 1 1 1 0-4 1 4 1-2 4-2 1 2 1-2 1 3 2-3 2 2 0-1 3 0 0 0 1 4 0-2 1-4 3 4 0-3 2 1 1-1 0 5 2-4 1 1 0-2 1 3 2 1 1-5 1 1 0 4 1 1 0-2 1 0 1-3 2 0 0 4 2 0 1 0 1-4 1 5 1-3 3-1 0 0 1 4 1-2 3 2 0-3 2 2 0-1 2 1 2-5 0 6 1-3 3-2 1 3 1 1 2-2 1 2 1-2 0-1 2 3 2 0 0-3 2 0 2 0 1 2 1 2 0-6 1 3 2 0 0-2 1 3 4-2 2 1 1-1 1 0 0-1 1 1 4 0 1 3 25-1 2-4 1 5 4-1 5-1" fill="none" marker-start="url(#mg)" marker-mid="url(#mg)" marker-end="url(#mg)"/><path d="M1742 189l-28 0 54 8" fill="none" marker-start="url(#mo)" marker-mid="url(#mo)" marker-end="url(#mo)"/><path d="M1777 198l-5 2-7 2-19-1-11-3-3 5-4-5-6 2-3 1-5-1-15 5 4 4 13 0 4-2 22-3 2 3 2-1 7 0 5 2 3-3 3 4 16 0 2-5" fill="none" marker-start="url(#mo)" marker-mid="url(#mo)" marker-end="url(#mo)"/><path d="M1945 196l0 1 4-3 3 3 1-1 6-2 4 0 3 1 5 2 1 0 2-2 5-2 6 4 1 0 1-3-1 9-4-5-1 1-2 2-2 1-4-3-1 4-6-3-2-2-8 1-4 3-1-3 0 5-7-1-4-2-3-1-1 3-6-2-4 2-1-3 0 3-3-1-1 1-1-3-1 2-4 0-3-1-1 1-4 1-3-4 0 4-4-1 0-3 0 5-2-3 0-2 0 5-1-5 0 1-2 3 0-5-1 5-1-3-2-1-1 4-1-2-2-2-1 2 0-3-2 2-1-2-2 3-2 3-1-4-1 2 0 1-1-4-1 5-2-3-3 1 0-3 0 0-1 4-1 1-3-5-1 4 0-1-4 0 0-3-1 0-1 3-1 2-2-2-1-1-1 0-1 3-2-5-1 3-1 0-1-1 0-3-1 6-1-3-1 1-2 0-2 0-2 2 0-5-1 2-1 0 0 2 0 1-2-1-1-4-1 2-2 1 0 1-3-3 0 2-3-2 0 3-1-3 0 0 0 0-3 1-1-2-1 4-2-4 0 2-1 3 0-3-1 2-1-4-1 2 0 0-2 2-1-4 0 1-3 2 0 1-1-4 0 1-4 2 0 0-1-1 0-1-1 3-2-1-3-3-1 1-1 0-7 0 0 2-3-2-7 3-1-2-12 0-8-3-3 4-10-2-2 2-12 0-5 1-9 0 0-1-7 1-1-2-3 2-4-2-3-2-3 3-4-2-3-2-4 2-1 2-3 5 2 1 4-3 0 4 4-4 1 4 8-3 12 2 3 2 13-3 3 0 6 0 6 3 11-4 3 0 15 1 2-3 1 5 6 0 8-2 0 1 5-2 0 1 0 1 2 1 1 0 1-5 2 1 1 4 1-2 0 1 1-3 2 3 1-3 1 3 0-3 1 0 3 4 1-4 2 4 1-1 0-2 1 1 2 3 3-5 0 3 0-3 1 4 4-1 0 0 1-2 1 0 1 0 1 3 1-3 2 1 0 2 3-1 0-1 4-2 0 3 0 0 2 1 1-5 1 5 1-3 3 2 1-1 1 2 1-3 3 3 0-2 1-2 1 5 1-2 2-3 0 4 1-2 0 3 2-3 1 0 1-2 2 0 1 3 2 1 0-5 2 4 1 0 1 1 1-4 1 0 2 5 0-1 1-5 0 6 3 0 1-5 1 4 4-3 0 3 0 0 1-3 0-1 0 4 1-2 2-2 2 3 0-3 1 0 1-1 1 5 0 1 1-4 2 2 1-2 2 2 2 2 0-1 0-3" fill="none" marker-start="url(#mg)" marker-mid="url(#mg)" marker-end="url(#mg)"/><path d="M1733 200l-10 4 22 1" fill="none" marker-start="url(#mo)" marker-mid="url(#mo)" marker-end="url(#mo)"/><path d="M1780 212l-13-1-2 3-5-4-9 4-3 1-1-1-19 1-5-5-7 4-5 0-10 1-4-4-1 0-1-1-5 8 8 1 13 0 3 0 9-2 2 2 14 0 2-3 13 2 17 3 5-1 1-2 75 4 1-5 2 3 3 2" fill="none" marker-start="url(#mo)" marker-mid="url(#mo)" marker-end="url(#mo)"/><path d="M1903 208l0-2 3-1 0 2 0-2 2 2 2 0 1 2 0-4 4 2 0 1 0-3 1 0 2 3 0-2 1-2 1 5 0-4 2 5 1-5 1 1 1-1 0 3 0 1 2-1 3 0 7 1 1-4 0 2 5 0 7 1 2-1 4 0 3-1 3 2 1-2 2-1 1 2 6 0 4 2 4-2 4-3 1 3 4 1 2-4 2 4 1 7-5-2-2 2-4-3-3 2-4-1-5-1-4 0-4 3-2-5-4 1-4 0-1 3-3-1-6-2-3 4-2-1-1 2 0-4-5-1-3 4-1-5 0 2-1 4-1-1-1 0-1-1-1-3-2 4-1-3-1 4-1-1 0-5-1 2-1-1-1 3-4-2-1-1 0 4-2-3-1 0-1 4 0-4 0 2 0 0-4 0-2 1 0-3-1 0-4 1-2-1-1 3-1-2 0-1-3 0-1 3 0-5-2 0-1 4-1 1-1-3-2 2-3-2 0 1-3 1 0-2-3-1 0 1-1 3-1 1-1-4-4 3 0-3-1 1-1-2-1 2-2 0-2-3-2 0-1 6-1-4 0 3-2-3-3 3-1-2 0-1 0 2-2 1 0-4-3 3-1 1-1-4 0 4 0 0-1-2-2 0-1 0-2 2 0-1-1 0 0-3-3 1-2-2-1 4-2-3-2 1 0 4-2-1-1-3-1 4-1-5-2-1-2 4 0-3 0 3-1-3-3 4 0-1 0-2-2 3-2-3 0 0-1 3-1-5 0 3-1 1-4 2 0-4-1 1-1 2-2-2 0 1-1 2-2-2 0-1 0-1-4-1-4 2-9-2-1 4-3-3-16 2-2 1-13-3-1 0-7 1-2-2-10 0-12 5-3-3-2-1-14 2-3-1-4 2-1-2-5 0-1 2-4 6 2-4 1 4 5-3 0 3 5 0 10-4 10 3 8-4 2 4 5-2 12 0 0 4 5-4 6 4 6-1 33-5 5 2 0 3 2 0 2-4 0 2 2-1 0 0 2 2 1 2 2-3 0 1 3-1 1-2 1 0 3 0 1 1 2 1 0 1 2-1 1 0 1 0 0-3 2 5 1-1 0-4 1 4 1-3 0 2 1-1 4 1 0 1 1 0 2-4 1 1 1 3 0-3 1-1 0 1 1 2 0 2 2-4 2 3 0-4 0 6 1-1 2-3 2 0 2 4 0-1 2-2 1 2 1 0 1-4 0 1 1 2 1 1 2-3 4-1 4 0 0 0 1-1 0 5 2-5" fill="none" marker-start="url(#mg)" marker-mid="url(#mg)" marker-end="url(#mg)"/><path d="M1755 221l0 0" fill="none" marker-start="url(#mo)" marker-mid="url(#mo)" marker-end="url(#mo)"/><path d="M1857 223l-1 1-81 0-4 3-10 1-4-3-10-1-13 1-4-2-17 1-8-1-5 3 0-1-8-2-3-1-2 8 2-2 7 1 14 0 7 2 2 3 8-3 10 3 5-1 1-3 12-1 4 1 7 0" fill="none" marker-start="url(#mo)" marker-mid="url(#mo)" marker-end="url(#mo)"/><path d="M1862 217l0 0 3 4 0-5 1 5 1-1 0 1 2-3 2 0 0-2 5 3 0-1 0-2 3 4 1-3 1-1 2 4 3-4 0 2 1 4 0-2 0 2 1-3 2-3 3 2 2 4 0-5 1-1 1 5 0-1 1-3 0 0 3 3 0 0 1-2 2 3 1-2 2 0 0-3 1 4 0-3 1 0 1 1 3 3 2-4 0 3 1 2 0-1 1 1 2-4 0 4 1-1 2-4 1 5 1-6 0 5 1-2 0 1 3-3 4 5 5 0 2-1 6 1 1-4 1-2 6 5 6-4 0 4 6-3 1 2 6-3 1 3 0 1 1-3 3 3 2-1 1-1 3 1 1-4 2 6 3-1 4-1 2 7 0-1-4-2 0-1-1 4 0-4-1 0-1 3-2-2-1 2 0-3-1 3-1-3 0 3-3-4-1 2-1-1 0 3-1-1-1 2-1-4-1 3-1 1 0-3-4 3 0 0 0-4-4 3 0-2 0 0-1 0-1-1-1 5-1-5-1 5 0-1-1-2-4 1 0-1-1 0-1 1-3-2-1-2-2 4-2 0-4-2-1 3-4-3-2 3-1-1-6-1-2 3-1-3-3-2-2 2 0 0-6 3 0-3-2 1-1 0-1-2-3-1 0 3-2 2-1-4-1 0 0-1-2 4 0-2-1 0-1 2-4-5 0 3-3-2-1 2 0 0 0-2-1 2-3-3-1 5-1-5-1 3-22-3-3 5-2-1-3-4-1 2-1 1-2 0 0 1-2 2-1-1-1-2 0 0-2-1-1-2-1 5-1-2-3 2 0 0-2 0 0-1-1-3-1 2-2 0-1 0-1 3-2-5 0 0-1 4 0-2-4 0 0-1-4-1 0 3-1 2-1-4-1 0-1 0-2 0-2 4-1-4-1 0-1 3-2-5 0 5 0-3-1-1-2 0-1 0-2 3-1 0 0-3-1 2-1-2-1 2-3-1-2 2-1 0 0-3-3 0-2-1-3 3 0-2-12-1-17 1-3 2-9-1-4 3-8-2-5 1-1-1 0-2-13 3-3-2-3 4-4-6-5 5-7 0-2 0-3-1-8-2-1 2-2 5 4-2 2 5 3-3 16 1 1 1 10 0 2-2 0 2 8 0 2-4 5 0 7 1 4 4 2-5 8 4 2-4 4 2 11 1 3 1 8-4 1 4 5-3 1 2 6 0 2-2 1 1 1-1 0-1 2 3 1-3 3 1 0 1 1 2 0-4 1 2 1-2 2 1 3 3 0-5 1 2" fill="none" marker-start="url(#mg)" marker-mid="url(#mg)" marker-end="url(#mg)"/><path d="M1935 233l7 6-2-5" fill="none" marker-start="url(#mo)" marker-mid="url(#mo)" marker-end="url(#mo)"/><path d="M1806 231l2-1 5 0 0 3 1-4 1 1 0-1 3 3 0-4 3 5 1-2 1-3 0 4 1-2 0 3 1-1 4-1 1 3 0-4 2 2 1-3 1 3 1 0 4-3 1 3 1-3 2 5 0-1 0-4 1 5 1-4 1-1 4 3 1-1 0 0 0 3 2-5 1 4 2-4 1 0 2 3 0-3 24 0 0 2 3-3 2 2 0 2 1 0 1-4 0 5 2 0 1-5 1 5 1-2 0-2 2 5 0-3 1-3 0 0 1 4 0 2 1-1 0 0 0-3 3 1 2-3 1 4 1-4 1 2 0 4 1-6 0 5 2-4 2 3 1 0 1 0 1 2 3-3 0 3 0-3 1 2 1-1 1 2 1-3 0-1 3 3 0-4 0 3 2-4 1 5 0-2 1-2 3 1 1-1 1 0 3 4 0-1 1-3 1 2 3 1 0 0 1-4 0 2 1 2 1-1 1-2 3 1 2 0 3 0 0-1 1 3 1 1 0-4 2 2 2-3 1 3 0 1 2 1 1-5 0 3 4 0 2 2 0-4 1 1 4 2 1-2 3-1 0 5 0-4 3 3 0-1 1-2 3 2 0-3 1 2 3 0 0 1 1 1 1 0 1-3-1 8-2 0 0-2-1 1-2 3-1-5-1 4-1 0-2-1 0-2-3 0 0 4-1-6-3 1 0-1-1 3-1 3-2-2-1-3-2 1-1 0-1 2-1-1 0 2 0-5-2 1-2 2 0 1-2 0-2-3-1 5-1-1-1-3-1 3 0 0-2-3-1-2-1 0-2 1-1 2 0 3-1-4-2 0 0 3-1-1-4 1-2-2-4 2 0-2-3-2 0 5 0-5-1 3-2 2-1-2-2-1-1-2-1 3-1 0-2 2-1-4-2 4 0-2-1-4-1 5-4-3-1 1-2 1-2 0 0 1-1-5-3 2 0 1-1 3 0-5-1 3-3-2 0-1 0-1-1 4-1-1 0 0-1 1-1-2-1 0-2 4-1-2-1-4 0 4 0-1-1-2-1 3 0-4-23 4 0 0-2 0-1-2-2 0 0-1-1 0-2 4-1-1-1-3 0 4-4-4-1 1 0 3 0-1-2 0 0 0-2-1-2-3-1 3 0 0-1-2 0 1-3 0-1-1 0 5 0-2-2-2 0 1-3 2-1-3-1 2-1-1-2 2 0-4-2 1-2 1-2 0 0-1-1 0-2 3 0 0-1-4-3 5 0-1-1-4 0 0-2 3-1-3-1 1-1 4-1-6 0 0 0 4-1 1-1-4 0 5-3-4-1 3-1-3-1 1-2 1 0-3 0 0-2 0 0 3 0 1-1-3-1 2-2-3-1 3-1 1-4-3-4 3-2-4-2 4-2 1-5-6" fill="none" marker-start="url(#mg)" marker-mid="url(#mg)" marker-end="url(#mg)"/><path d="M1941 237l0 0" fill="none" marker-start="url(#mo)" marker-mid="url(#mo)" marker-end="url(#mo)"/><path d="M1765 238l-5-1-6-1-3 2-6-1-15-1-2 3-5-5-2 6-4 0-13-3-2-1-5 4-5-3 0 1-3 1-3-2 0 1 7 6 2-4 3 2 1-2 3 2 3 0 0-2 2 3 0 1 2-4 3 2 4-1 7 1 9 0 11 0 9 1 4-2 1 1 1 2 6-1 171-2" fill="none" marker-start="url(#mo)" marker-mid="url(#mo)" marker-end="url(#mo)"/><path d="M1768 238l-10-2-8-2-8 5-3-1-14 1-6-1-2 1-5-1-12 0-6-1 0-3-1 5-3-2-2-1-4 4 0-5-1 4-2-4-2 3 0 2-5-4-2-1 0 2-1-2 0 4-2-3 0 0 0 4 1 5 1-4 0 3 2 0 1-4 2 6 0-6 1 3 1 0 0-2 2 2 1 2 2-5 2 6 1-2 1 0 0-2 2 1 1 2 3 0 1 1 1-1 3 1 4-5 1 4 3 0 2 1 2-1 0-2 3-2 2 5 1-2 1-3 0 4 1 1 2-3 2 1 2 1 2 0 1-1 0 2 1-3 3 0 2 0 2 0 1-2 0 0 1 4 2 1 0-4 1 1 0 3 1-1 2-2 4 2 2-3 2 1 2 3 2-3 6 2 6-1 6-1 2-1 6 3 4-1 3-3 1 3 3-3 2 1 0 3 0-2 1 2 1-3 2 2 0-3 1 3 3-1 2 3 0-4 0 3 0-1 2-3 2 3 2-3 0 4 1-3 2 2 1 0 1-4 0 4 2-1 2-3 0 5 0 0 1-4 1 4 0-2 0-1 3 4 2-4 1 2 1 2 1-3 1-1 2 2 0-3 2 5 2-4 0 1 2 1 1-3 1 2 1 1 1-2 0 0 2 4 2-5 1 0 1 5 1-1 1-3 0 0 1 0 1 3 2-2 0-1 1 2 2-3 3 1 0 3 1-2 1-2 1 3 1 2 0-2 3-1 0-2 4 1 1 2 0-2 2 4 2-3 1 2 3-1 1 0 1-1 1 2 2 0 0-4 0 2 1-2 1 0 0 2 1 2 0-4 1 1 1 0 1-2 0 1 1 4 2-3 0 2 1-2 2-1 0 5 2-5 1 3 0 0 0 1 3 1 3-4 0 1 0 2 1 0 2-4 1 0 0 2 3 2 0-1 4 0 1-4 0 3 3-2 1 2 0-2 4 2 0-2 0 4 3-1 2-4 1 5 1-1 1-2 1 4 2-4 0 3 1-2 2-1 1 2 3-2 1 4 2-6 2 5 1-1 1-2 0 2 1 2 4-1 2-1 1 1 1-4 1 0 2 3 1 0 1-1 0-1 4 4 0-5 1-1 1 2 0-1 2 4 1-3 1-1 0 2 4 0 0 2 1-5 3 3 1-2 2 3 0-2 1-1 0 4 1-4 1 3 3-3 1 3 1-2 0 6-1 3-2-5 0 1-3 3-2-1-1 1" fill="none" marker-start="url(#mg)" marker-mid="url(#mg)" marker-end="url(#mg)"/><path d="M1733 240l0 0" fill="none" marker-start="url(#mo)" marker-mid="url(#mo)" marker-end="url(#mo)"/><path d="M1985 247l0 3-1 0-2-1-1-1-1 2-1-3-1 5-1 0-2-1 0-2-1-1-1 0-1 2 0 0-1-2 0 1-2 3-1-4-1 2-1-2-3 1-1 1-1-4-1 1-2 4-1-1-1 1 0-5 0 3-3-2-2 0 0 3-1-3-2 5-1-5-3 3 0-4 0 2 0 2-1-2 0 2-2-1-1 2 0-4-4 5-1-3-1-3-1 3 0 1 0-3-1 2-3 0-2 2-1-3-1-1-1 4 0 1-1-6-1 5-1-3-1-1-2 3-1 1-1-3 0 0-2 2 0 0-1-4-2 3-2 1-1-2 0-2-2 5-2-1 0-3-1 2 0-3-1 6-2-2-1-4-2 5-2-4-1 5 0-6-2 5 0-4-2-1-2 2-1-1-1 2 0 2-1-3-1 1-2-2 0 0 0 2 0 1 0 2-3-4-2 2 0-3-1 3 0-1 0-1-3-1-2 4 0-4 0 3-1-2-1 4-1-3-2-2 0 3-1 1-1-4-2 3-2-4 0 2-2 4 0-1 0-4-3 4 0-3-1-1-1 2 0-3-5 3 0 3-2-3-1 1-1-4-2 4-2-1 0 2-1-4-1 0-1 3-2-2 0 4 0-6-1 1-2 3-2-1-1 1-1-4-4 2 0 2 0-2-5 3 0 0-1-3 0 0 0 4-1-4-2 3-2 0 0 0-1-3-2-1-1 2-1-1-1-1 0 3-2 1 0 0-1 0-2-4-2 1-2 3 0-2-1 2 0-4-1 2 0 1-4-3 0 4-1-3-3 1-1-2-6 1-2 0-6 0-3-2-4 2-2 2-3-1-1-2-2 1-1 3-1-3-2-1 0 3-2 0-1 0 0-2-1 0-1 2-1-1 0 2-3 0-1-2 0-3-3 3 0 2-1-2-2 1-2 0-1-3 0 1 0 3-1-2-3 2 0-2-1-3 0 5-1 0-3 0-1-5-2 5 0-3-1 4 0-5 0 1-1 2-3 0-1-1-2 2 0-1-4-1 0 3 0-1-1-4-2 2 0 2-2-1-1 1 0-4-2 4-1 0-2-4 0-1-1 5-1-3 0-1-3 2-2-1-1 0 0 2-2-2-2 2 0-3 0 5-2-6-4 6 0-4-1 0-1 3 0 0-3-3-1 2 0-2-1 1-2 2-1-1-1-2-1 1-3 5 3 2 0-1 1 1 1-1 1 3 1-5 0 1 1 3 2-4 0 3 1-1 1 0 1 1 2-2 1-1 1 0 1 3 1 1 0-5 1 1 2 3 1 1 0 0 2 0 0-4 1 0 2 0 1 5 1-2 0-1 0 1 3-3 0 1 1 3 2-3 1 2 0 1 3 1 1-1 1-3 0 3 2 0 0-4 4 4 0-3 1 1 1 3" fill="none" marker-start="url(#mg)" marker-mid="url(#mg)" marker-end="url(#mg)"/><path d="M1747 258l0 0" fill="none" marker-start="url(#mo)" marker-mid="url(#mo)" marker-end="url(#mo)"/><path d="M1719 254l1 2 2 0 0-1 2 1 1 0 1-3 1 5 1-3 1 0 2-1 1 4 0-3 1-2 2 4 1-5 1 5 1 0 1-5 3 2 2 4 0-4 4-1 2 3 0-4 3 2 1 0 1 4 2-2 1 1 0-5 1 2 1 2 0-2 7-2 0 3 6 1 2-3 2 0 2 3 4-2 0 3 1-5 0 2 8-2 0 6 5-3 1 2 2-4 6 3 4-1 2 2 6-4 1 5 2 0 14-4 0 1 1-1 4 3 2-4 0 5 1-4 1 0 1 2 5-4 2 0 1 3 0-3 0 4 1-3 4 5 2-6 0 4 3 1 0-2 2 2 2-2 0-2 1 2 3-1 2 3 1 1 1-4 1 0 0 0 1 0 0-1 2 1 1-2 0 4 1-1 2 2 0-3 1-1 2 0 1 5 1-5 0 0 1 5 3 0 0-5 0 2 2 2 1-3 0-1 1 4 1-3 0 2 4-1 1 1 1-2 6 0 0 1 0-3 2 0 0 3 2 1 2-3 1 4 1 1 1-4 3 0 1 2 3-1 0 2 1-1 1 2 1-6 2 2 0 3 1-3 0 4 3-1 1-3 0 4 1-5 3-1 1 4 1-3 1 5 0-3 3 0 2 2 0-4 3 1 0 2 1-3 0 0 2 2 1 2 1-2 1 1 3 2 0-1 1-2 0 1 3-2 0 4 1-5 1 0 0 2 2 2 2-2 0 0 4-1 2 0 1 3 1-3 0 3 2 1 1-4 1 2 3-1 0-1 3 2 0 1 1-5 0 5 1-1 1 2 0-6 1 0 1 4 0-3 2 4-1 4-2 0-2-1-1 0-1 1-3 0 0 1-3 2-2-1 0-4-2 1-1 3-1-4-2 2-2-3-1 1-1 1 0 2 0 2-2-4 0-2-2 4-2-2-1 3 0 1 0-3-3 2 0-1-2-2-1 1-3 0-2 0-1 2-1-3-3 4-1-6-1 4-1-4 0 4-2-3-1 1-1 0 0-2-2 5-2-3-3 1-1 0 0 3-3 0-1-2-1-3 0 1-3 0 0 3-2-5-2 0-1 4 0 0-1 1-3-3-2 3 0-4-1 0-1 5-1-5-1 1-1 1-1-2 0 5-2-4-1-2 0 5 0-2 0-3-3 2-3 2-1-3-1 5-2-2-1-2-2-1-1 3-1 1 0-4-1 2-1 3-1-5-1 2-1 0-1 1-1 2-1-1-2-1 0-3-1 2-1-1-1 0-5-1-7 3-2 0-3-3-8 4 0-3-3 1-3-1-6-1-2 4-7 1-5-1-2-3-5 0-4-1-2 4-5-2-4 0-4 2-5-1-4-1-3-2-3 5-4-4-2-1-3 3-7 0-1 1-1-4 0-1-3 2-2 4" fill="none" marker-start="url(#mg)" marker-mid="url(#mg)" marker-end="url(#mg)"/><path d="M1753 260l-1 0-3 1 0-1-1-2-2 3 1 5 2-1 1-1 1 0 2 1" fill="none" marker-start="url(#mo)" marker-mid="url(#mo)" marker-end="url(#mo)"/><path d="M1758 263l0-1-1 0-1-4-1 6-5-6-2 6-2-5-2 0 0 3-3-1 0 1 0-1-1-3-2 4 0-1-1 2-1-1-2 0-2 2 0-4 0-1-1 5-2 0-2-5-1 1-1 4 0-4-1 0-1 3-1 1-1-4-2 0-2 1-1 3 0-3-2 2 0-1-2-2-1 3 0-2-1 3 0-2-2-3-1 1-2 3 0-3-2 0 0-1 0 4-4 1-1-4-2 0 0-1-2 4 0-2-2 0-3 3 0-5-1 3-2-1-2-1-1 2 0-1-1-2-1 4-3-2 0 3 0-3-3-2 0-1-3 2-1 3-1-4-1 5-1-4 2 10 0-5 2 1 2 4 0-5 2 2 0-3 0 5 2-1 2 1 1-4 1 3 2 1 2-1 1-2 0 2 1-4 3 4 0-4 1 3 0 3 1-2 1-1 1-2 1 2 3 1 1 1 0-3 3 1 1-3 0 5 3-1 1 0 0-3 4 5 0-4 3 3 3 1 1-3 0-2 0 3 2 0 1 2 1 0 1-4 3 4 2-4 0-1 2 1 2 4 0-4 4 1 0 1 5 1 1-4 0 4 0-1 1 1 1-1 6 2 1-3 1 1 0 0 3-4 2 4 1-4 1 2 2 4 1-1 1-2 0-3 0 4 3-1 5-2 1 4 2-3 9 3 1-4 6 0 1 2 2-1 2 4 3-6 1 6 4-4 4 2 1-4 3 6 2-3 2 2 7-3 4 3 7 1 6-4 1 0 1 2 5-1 2 2 1-1 7-2 3-2 3 5 2-3 3-1 7 0 0 4 2-2 1 3 0-4 1 0 0 0 3 3 1-3 2 2 0 1 1 0 3-2 1 3 2-3 0-1 3 0 0 3 1-3 1 0 2 3 1-3 0 4 1-2 2-2 0 3 2-5 1 6 1-2 0 1 1-4 3 1 0 4 1-5 0 2 1-2 2 3 2 0 1-1 2-2 0-1 0 3 1-1 3 3 1-5 1 5 1 0 2-4 0 2 1 3 1-6 2 4 1 0 2-1 0-1 1 4 1-1 0-3 2-2 2 0 0 3 4 0 0 2 1-4 1 2 1 3 1 0 0 0 2 0 0-6 1 4 1-2 0 0 1-1 2 3 0-2 1 1 3 2 2 1 2-6 0 5 1-4 0 3 2-4 1 5 2-1 2-3 1 1 1 2 2 0 3 0 0 2 1-4 2 3 0-3 1 2 0-2 2-1 1-1 0 3 2 2 0-2 2-2 0 0 1 0 2 4 1 3-1 2-3 2 0-4-2 3-1-3-1 0 0 2-2-1-1 2-2-5 0 6-2-4-1 1 0-2-2 5-1-2" fill="none" marker-start="url(#mg)" marker-mid="url(#mg)" marker-end="url(#mg)"/><path d="M1976 272l-3 2-1-3 0-1 0 4-2 0-1-1-2 2-1 0-1-4-2 3-2-1 0 0-2-3-2 4 0-3 0 2-1-1-3 4 0-3 0-1-4 2-1 0-1-3-2 2 0-2 0 3-3 0 0 2-1-4-2 0-1 2 0-4-1 4-3 0 0-2-1 4 0-5-2 2-2 1 0 0-2-2-2 0-3-2 0 4 0-1-3-1-2-2 0 6-1-3-1-3-1 5 0-3-4 1-1 2 0-1-3-2-1 0-2 4 0-1-1-1-1-2-2 3-2-3-2 1 0 0-1 2-3-4 0 4-2 0-2 0 0-3-3 2 0-3-2 3-1-4-1 2-1 2-2-2-1 3-1-1-1-2 0 2-6-1 0-2-1 5-3-6-1 2-5 2-3-4-2 2-5 4-6-3-3 0 0-3-6 2-1 0-1 1-6 2-4-4-3 2-6 3-6-3-3-1-1 0-5 3-5-2-6-1-6-1-1 4-2-4-11 5 0-4-1 0-1 0-1 1-2 0-2-3-1 2 0-1-1 4-3 0-1-2 0-1-2-1-1 3-1 1-1-5 0 2-2 2-2-1-1 2-3-5 0 5-1-5-1 2-2-2 0 5-1-3-3-2 0 2 0 1-1-2-2 4-1-3-1-1-2 5 0-6-1 4-2-3 0 4-1-2-4 3 0-2 0-1-1-2 0 2-1-2-3 2-1-1-2-1-1 1-1 2-1-3-1 1 0 0-1 3 0 0-2 0-5-3 0-1 0 3 0 1-2 1-1-2-1-2-2 2-2-2-1 0-1 0-1 3-1-3-1 3-2-2 0-2-1 0-2 4-1 0 0 0-2 1-2-4-1 0-2 0-1 0 0-1-3 3 2 4 2 0 1-1 1 3 3 1 0-4 1 4 0-1 3-3 2 3 0-1 1-2 1 0 1 1 1 1 2 0 0 1 1-2 2-2 2 4 0-1 1 3 0-6 1 4 2 1 1-3 1-1 2 0 4-1 11 0 1 1 1 3 2 0 0-2 1-1 3 4 1-4 0-1 2 5 1-3 1-2 0 5 1-5 1 6 1-3 0 3 2-4 1 3 1 0 1 0 1-5 1 2 2 3 1-3 1 0 1 0 0 4 1-3 2 0 0-1 1 0 3-1 0 1 0 3 1-2 1-1 1 1 2 1 0-4 3 5 0-1 1 1 1-4 0 3 1 2 2-6 1 4 0-1 1-2 2 4 13-3 5 1 1 2 5-3 2 3 2-5 1 3 1-3 4 1 5 5 3-5 4 2 3 3 0-3 3-3 2 2 3-1 2 4 3-2 3 0 1 3 3-3 3 3 1-6 5 4 5-1 1 2 5-4 2 4 1-3 6-1 0 4 5-4 2-1 4 6 1-5 0 5 2-4 2-1" fill="none" marker-start="url(#mg)" marker-mid="url(#mg)" marker-end="url(#mg)"/><path d="M1883 281l1 0 1-1 0-1 0 0 2 2 0-4 3-1 0 5 0-3 2-1 1 4 2 1 0-4 2 1 0-1 0-2 0 5 1 1 2-3 2-2 0 3 2 1 0-2 1 0 0 1 2-3 3 0 1 3 2-2 1 3 0-4 1 4 1-4 2 3 1-2 2-1 2 3 0-3 0-1 1 4 1-1 2-1 0 2 2-4 1 5 0 1 1-4 1 4 2-5 0 3 1-2 0 3 3 0 2-3 1 2 1-2 0 4 1-5 1 0 1 5 2-3 1 2 0-1 3-2 1 2 1 0 4-3 0 2 1 0 3 3 2-4 1-1 2 2 0 1 1 0 1-3 2 1 1-1 1 4 3-3 2 3 0-3 0-2 3 4 0-3 1 3 3 0 0-2 1 2 1 1 1-1 1-2 1 3 1-2 2 2 0-3 1 4 1-3 2 9-1-3-1 3-2-1 0-1-1 1-2-3-4 1-1 0-1 2 0-3-1 2-3 1-1-2 0 0-1-1-2-2 0 6-1 0-1-2-1-1-1-3-2 6-1-5 0 1 0 0-3 1-1 0-1 0-1 1-1-4-1 3-2 3-2-4-2-2 0 2 0 3-1-1-1-1-1-1 0 0-2 1-1 2-1-1-3-2 0 2 0-3-2 4 0-3-3 1 0 1-4-1-1 0-1 1-1 2-2-2-1 1-2-2-1-1-1-1-2-1 0 3-1 1-2-4-1 2-3 4 0-3-3 1 0-2-3-1-1-1 0 2-1 1 0 0-3 0-1 1-1 1-2 1-2-4-1 0 0 3-1-3-2 4-1-3-3 2-1-2-1 1-1-2-2-2-1 5 0-3-3-1-2 0-4 2 0 0 0 2-1 0 0-2-1 0-6-1-3 4-5-2-3-2-1 2-6 1-1-4 0 2-7 3 0-6-6 4-4-3-1 3-6 1-2-1-3-3-2 4-5-5-1 6-9-3-3-1-1 3-3-1-6-3-2 4-6-3-4 1 0 1-5 1-6 1 0-5-1 3-1 2-2-6-1 4-2-3-4 1 0 1-1 2 0-5-3 1-4 4-2-2 0 2-1-2-1-2-2 2-2-2 0 2-2 2 0-3-3-1-1 3-2-1-2-2-2 4-1-3-1 2 0-3-1 5-3-3 0-2-2 0 0 3-1-3-1 5-1-2-2-2 0 0-1 1-2-1-1 4-2-3-2 2-2 1-13-5-1 2-2-1-1-1-1 4-2-4 0 1-2 3 0-3-1 4 0-1-1-4-4 0 0 2 0 2-3-5-1 1 0 0-1 2-1 2-2-1-2 3 1 4 1-3 1 2 0-1 1 3 2-3 1-1 0-2 2 3 3 1 2-3 0 4 3-3 0-2 14 3 1 1 3-1 1-2 1 2 1 1" fill="none" marker-start="url(#mg)" marker-mid="url(#mg)" marker-end="url(#mg)"/><path d="M1705 290l1 1 1 2 2-2 3 3 1-3 0 2 1-1 2-3 1 1 3-1 0 1 1 0 2-1 1 4 1 0 2-4 1 1 0-1 3 3 0-1 1-1 3-2 0 3 1-2 2 2 1 0 1 2 1-5 1 3 1 3 1-5 1 5 1-1 0 0 1-1 3-4 0 0 2 3 0 1 1 2 1-5 1-1 0 5 0-2 3 0 0-3 2 1 0 1 1 0 0 2 3 1 1-3 0-1 1 0 2 3 0 0 1 2 1-3 1 1 2 0 1 2 4-3 5-1 0-1 1 2 1 3 5-6 2 5 2 1 6-2 2 2 0-3 0-2 4 0 2 1 5 3 5-1 5 0 4 1 1-4 0 5 4-3 2-3 5 4 2 1 5-1 4-1 7-1 4 3 2 1 1-2 4-3 1 1 2 4 3-4 0 4 1-5 1 4 1 0 0-2 4-2 0 1 0 3 2-4 1 3 2 0 1-1 1-1 0 2 1-1 0-2 0 5 1-3 1 3 4-3 2-2 1 4 1-1 0 2 3-3 0-2 0 3 2 0 0 2 2-3 1 1 1 0 0 0 0-3 2 4 0-2 1-3 1 5 0 0 2-3 0 3 1 1 0-3 2-3 0 2 1 0 1 2 1-1 0 2 1-4 0 0 1 2 3 2 0-4 0 3 2-2 1 3 0-1 0-1 2-1 2 0 0 2 0 2 1-4 1 0 2 1 0-3 0 3 1 0 1-3 0 3 2 2 1 1 0-2 2-2 0-2 0 5 3-3 1-1 0 3 0 0 0 0 2-2 0 0 1 4 1-4 1 0 0 2 1-4 0 2 1 2 1 1 0-4 2 4 0-1 0-3 1 4 0-2 1 3 0-2 1-3 1 5 0-4 0-1 1-1 2 2 0 3 2-5 0 0 0 2 0 3 0 0 0 0 3-2 2-1 0 0 1 2 0-1 0-1 1 0 1 4 1-4 0-1 1-1 0 3 1 1 0 2 0-5 1 3 1 2 0-1 0-2 1-2 1-1 0 5 0-5 2 4 0 2 2-4 0 2 0 1 1-3 0 0 1 4 0-4 1-1 0 4 1 1 1-4 0 0 1 4 0-3 1-1 1 2 3 5-2 2-1-2-1-1-1 0 0-2 0 6-1-3-2 0 0-2-1 4 0-2 0-2-2 4-1 0-1 0-1 0 0-4-1 3 0-4-1 4-1-1 0 3 0-1-1-5-1 5 0-5-2 3-1 3 0-3-2 1-1-2 0 2-1 0 0 1-1-3 0 0 0-1-2-1 0 6-1-5 0 1-1 4-1-6-1 4-1 1-1-2 0-1-1 3 0-3-2 1 0-1-1 4 0-5 0 4-3-1 0 1 0-4-1 1-1 3 0-3 0 0-2 2 0-3-2 2" fill="none" marker-start="url(#mg)" marker-mid="url(#mg)" marker-end="url(#mg)"/><path d="M1948 296l-2-1 0 1 0 2-2 1-1 0 0-4-1 3 0-3-1 3 0 2-2-1 0-4 0 4-1 1-2-3 0-2-1-1 0 4 0-3-1 3 0 2-2-5 0 3-1 1-1-2 0 3-1-6 0 6-1-3-2-2-1 2 0 1-1-4 0 4-1-3 0 4-1-4-1 4 0 0-1-4-1 4 0-4 0-1-2 0 0 6-2-5 0 4-1 0-2-2 0 1 0-2-2 2-1-1-1-3 0 1 0 4-1-1-1-4-2 5 0-4-1 4-1-3 0 1-2-1 0 3 0-4-1 4 0 0-1-4 0 1-1 1 0-1-1-1 0 1-3 3-1 1-1-5-1 1 0 4-1-2-1 0-1-2-1-1 0 4-1-3-1 3-1-5-1 5 0-3-2 1 0 1 0 0-1-2-1-1 0 1 0 2-1-2-1 1-1-2-1 1-2 2-2-2 0 2-2 2 0-4-2-1-1 4-5-2-1 1 0 0-1-4-1 3-2-1-1 3-1-5 0 3-1 0-2 2-1-1-2 1-1-3 0 2-1-3-2 0-1 0-1 4-1-2-1 1-2-2-1 3-2-3-2 3 0 1-4-1-1 0 0-2-1-1-1 1-1 2-3-4-2 3-2-2 0 0-1 3-2 0-2-1 0 2-2 0-1 0-1-4-2 2-2 1-1 1-6-2 0 1-1 1-1-1-2-3-1 1-3 3-2-1-4-1-7-2-3 4-1 0-2-4-3 2-2-2-1-1-1 5-1 0 0 0-2-5-1 2-1-3-1 2-3-1 0 4-1-2-1 3-1-4-1-1-2 2-3 0-1-2-1 4 0-5-1 2-1 3-2-3-1 4 0-4-1-1-2 0-1 1-1 2-2-4-3 1 0 2-1-1-3 0-1-2-1 4 0-1-1-2-1 5-1-6-1 2-2 2 0-2-2-1 0 5-1-1-1-2-2-2-1 2 0 2-1-3-3 3 0-2 0 1-1-3-3 4 0-2-1-2 0 3-1-2-3-1-1-1-1 5 0-2-1-2-2 0 0 4-1-1-1-2 0 2 0-2-3 3-5 0-3-5 0 4-1 1-1-2-1-1-1-1-1 2 0-1-4 6 0-1 1 0 0 5 1-5 2 3 1 2 0-2 1 0 1-4 1 1 0 5 3-2 0-2 1 1 0 1 2 1 2-2 0 2 2-4 1 3 0 1 1-1 1 0 4-3 0 5 1-2 1 1 1-5 1 2 1 3 0-2 1 0 5 1 0 1 3-2 3-2 2 4 0 0 0-1 1-2 2 3 2-4 1 3 3 1 0-3 1-1 0 5 1-5 0 0 1 2 1 0 0 1 0 1 1 0 1-5 0 1 2-1 1 5 0 0 2-5 1 5 0 1 2-5 1 1 0 1" fill="none" marker-start="url(#mg)" marker-mid="url(#mg)" marker-end="url(#mg)"/><path d="M1739 303l1 1 2 0 2-2 0 0 3 0 0 3 2-2 0-2 1 4 0-2 1 2 0-4 4 2 0 0 1-2 1 0 1 5 1-3 1 1 0-2 0 0 1 1 1-2 1 5 1-4 0 0 1 2 0 1 0-5 1 6 1-1 0-3 1-1 0 3 2-2 0 2 1-3 0 0 0 1 1 0 1 4 2-5 1 4 0-1 1-3 2 0 1 2 0-1 2 3 0-3 1 2 2-1 0 2 2-3 1 3 0 0 1-4 0 1 0 2 3-3 1 3 1 0 3-3 0 4 1-4 2 4 1-3 0 3 2-4 2 3 0-3 1 5 2-5 1 4 0-1 2-2 2 3 1 1 1-1 1-4 0 3 0-3 4-1 0 6 1-4 2 2 1-3 0 3 0 0 0-3 4 0 0 0 1 3 0 0 1 1 3-4 1 1 1 1 1 1 1-1 2-2 2 2 0-2 2 4 1-4 1 3 0-2 0 3 2-3 1 1 1 0 1 1 2-2 2-1 0 2 1-1 0 2 1-4 1 5 2-2 0-1 2 3 3-3 1 2 0-3 0 3 1-3 2 2 2 1 0-2 0 0 3 3 1 1 1-5 1 0 0 0 0 3 3-2 1 1 0-1 2-2 1 5 1-2 1-1 0 0 0 1 1 0 1-3 2 3 1 0 1 0 0 2 1-4 1 2 1-1 0-1 1 3 3-2 3 1 0-3 1 4 0-2 1 1 1 0 2 3 1-3 1-3 1 5 1-3 2 1 1 2 0-4 1 4 0 0 0-4 3 0 1 2 1 0 1 0 1 2 1-1 2 1 0-4 3 1 1 0 0 2 1 0 1 2 1-4 2-2 1 3 0 3 2-2 0-4 4 2 0 4 4-4 1 3 0-2 0-3 2 0 1 2 0 2 1-4 2 4 1 2 1-6 2 1 0 5 4-2 1-1 0-1 1 2 0 1 2-3 0 2 2 2 0-5 2 0 1 5 0 0 0-6 3 4 1-1 2 2 2-3 1-1 0 3 1-3 0 5 3-1 2-1 0-1 2 3 0-4 2 2 1-1 2-2 2 1 1 2 0 1 1-5 1 5 0 1-2 2 0 2-2 2-1-2-3-2 0 3-2-3-1 2 0 2-2-6-2 2-1 3 0-4-1 4-1 1-1-5-1 4-1-2-3 2 0-1-1-2-1 4-1-3 0 0-1-3-1 5-3-2 0 0-1 3 0-1-3-2 0 2-1-2 0 2-2-3-2 1-1-2-1 1 0 3-1-3-1 2-1-4-1 2 0 2-1 2-2-3-2-1-1-1 0 4-3-3 0-2-1 4 0-2-4 0 0 1-1 1 0-2-1-2-1 1-1 4-2-4 0 3-2-1 0 1-1-2-3 2-1 0-1-2-1 1" fill="none" marker-start="url(#mg)" marker-mid="url(#mg)" marker-end="url(#mg)"/><path d="M1917 310l-1-3-1 3 0-3-2 1-2-2-1 5 0 1-1-3-2-2-1 0 0 1-2 4 0-5-1 3-1 0-1-2-2 2-1 0 0-4-1 1-2 2 0 2-1-5-1 5 0-4-3 1-2 3-1 1-1-5-3 2 0-2-1 4-1 1-2-3-1 3-1-1-1-4 0-1 0 5-1-4 0 0-1 4-3-3-1-1 0 3 0-3-2 1-1 3-2-2-1-1-3 1-1-1-1 2 0-4-1 3 0 0-2-1-2 2 0 2-2-3-1-3-1 3-1 3 0-1-2-5-2 2 0 1 0-1-2 2-1-3-2 2-2 1-1 2-1-2-1-4-2 4-1 0-1 0 0-1-4-2-2 2 0 0-2-3 0 4-2-3 0 3-2 0 0-2-1-1-1 4-2-4-1 3-1-2-2-1-2 3 0-4-3 4-1 0 0-2 0 3-1 0 0-3-1-2-2 4-2-2-2 0-2-2-2 5 0-4-1 4-1-4-1 4-1-4 0 5-1 0 0-3-1-2-2 3 0-2-3-2-2 1 0 2-1 0-1-1-3 2-1-3 0 2-1-2-1 5 0-1 0-5 0 2-3-1-1 4 0-3 0 0-1 2 0-3-1 2-1-2 0 1 0 4-1-1 0-1-2 0 0-2-1 4-1-3-1-1-1 2 0 0 0 1-1 0 0-3-2 3-1-4 0 3-2-2-1 3-2-4-1 4 0 0-1 0-2-3-1-1-2 0-1 1 0 0-2 4-1-2-1-4-1 5-1-2-2-1-1 0-2 3-1-1-1 1-5-1 0-2-2 2-1-2-1 1 0-3 0 6-2-4-1 1-2 3 0-4-1 0-1 1-1 1-2-3-1 3-1-1 0 2-2-3-1 0 0-1-1 3 0-4 0 1-3 0-1 4-4-4-1 5-1-2 0 0 0 1-3-4 0 1-2 4-1-3-1-1-1 4 0-5-1 4-4-3-2 2 0-1-2 0-1-1-2-2 0 2-1-1-1 1 0 4-2-6 0 4 0 4 0 1 2 2 1-3 1 1 2-2 0 0 1 3 0 1 3 0 1 0 0-2 0 0 2-1 0-1 3 4 1-3 1 1 1 1 3 0 1 0 0-2 3 1 1 3 2-1 1-3 0-1 2 0 1 5 1-5 1 4 0 0 2-2 1-2 2 5 2-3 1-1 1 3 2-2 2-1 0 2 0-3 1 4 2 0 2-4 1 1 1 4 1-4 4 2 0-2 0 3 1-2 1-3 0 5 2-5 0 2 0 3 3 1 0-6 2 5 2 0 0-5 1 4 2-3 1 3 2 1 1-3 2 1 2 3 0-2 0-3 3 1 0 2 1 2 1-3 0 2 1-2 1-1 1 3 0-4 0 0 2 5 1-1 0-2 1 1" fill="none" marker-start="url(#mg)" marker-mid="url(#mg)" marker-end="url(#mg)"/><path d="M1763 313l0 3 1 0 2-3 1 4 1-3 0 3 1-4 1 1 2-1 0 3 1-2 0 1 0-2 0-1 1 5 0-2 1 2 2 1 0-3 1 0 1 3 0-6 1 3 1-3 3 1 1 4 0-2 1 1 3 0 1 0 2 1 2-4 1 0 1 3 1-3 0-1 3 4 0-2 0-2 3 5 1-1 2-1 1-2 1 1 0 0 0 4 2-1 2-2 1-1 4 1 0-1 2 3 0 0 1-2 1-2 0 0 3 5 1-6 1 4 0-4 1 3 1-3 0 0 1 5 1-2 0-1 1 3 5-1 0-1 0 1 1-1 1 0 1 2 2-1 2-1 1 1 0-2 0-2 0 5 2-4 0 3 0-2 3 3 2-1 0 1 2-5 0 1 3 2 3-3 1 1 0 4 2-2 2 1 0-1 0-3 0 2 0 2 2-2 2 3 3-2 0 1 0-3 2 1 1 2 0-3 2 2 0 1 2 2 0 0 0-2 3-3 1 4 0-2 2-2 1 5 1-5 2-1 1 5 0 0 1-5 1 2 2 2 0-2 1 3 0-5 2 5 1-2 2-2 0 4 0-4 2 1 3 2 1-1 1-1 2 3 1-2 1 0 1 3 0-5 2 4 1-2 1-1 1 2 0-1 1 1 1-2 1 3 1-1 0 1 1 1 1-3 2 2 1-5 0 3 1 2 3-2 1-2 1 3 1-2 3 3 0-2 1 2 0-3 1 3 1-4 1 0 1 4 2-3 0 2 1 0 1 1 0-4 1 1 1 4 2-3 1-1 1 4 0-4 0 3 1 0 2-2 1 0 2-3 0 1 2 5 1-3 3 3 1-5 0 5 3 0 1-2 0-3 1 2 2 2 0-1 1 1 2-2 2-2 2 2 0 2 2-2 0 3 2-3 2-2 2 2 0 2 1-5 0 2 3-1 1 2 1 2 1-3 2 1 0-2 0 4 1-5 1 8 0 3-2-1-3-2 0-1-2 0 0 2-1-1-1 3-1-2 0-2 0 5-1 0-1-5-1 4 0-1-2-3-2 1-1-1-1-1-2 2-2 3 0-1-3-3-1 5-1-2 0 1 0 0-1-1-4 1 0-2-1 1-1-4-1 2-2 4-1-6 0 4-1 1-1-1-1-2 0-2-3 4-3-1-1-1-1 4-1-3-2-1-3 1-1 1-1-2 0-1-1 3-1 0-1-1-3-1-1 1-1-2-1 3-1 1 0-5-1 4-3 0-4-2-3 3 0-2-2 0 0-1-2 2 0 0-3-2-2-2 0 5-1-4 0 4-1-2-2-3-3 3 0-2-2-1 0 3-1 0-1 1-2 2 0 0-1-6-1 4 0 0-1 0-1 0-3 0-1-2-1-2-1 3-3 0 0-3-1 5 0-3-1 3" fill="none" marker-start="url(#mg)" marker-mid="url(#mg)" marker-end="url(#mg)"/><path d="M1876 322l-1 1-1-2-1 2-1-2-3 3 0 0-1-5 0-1-3 5 0-2-1 1-2-1 0-2-1 3-1 0-1-3 0 5-1 0-2-5 0 1-1 2 0-4-1 5-2-5 0 4 0 1-1 0-3 0 0-5-1 3-1 0 0 2-2-2-1 2-1 0-1-4-1 1-1 1-1-2-4 0 0 0 0 4-1 0-1-5 0 1-2 1-2 1-2-1 0 1-2 1-1-3-2 1 0-2 0 3-1 0-1 2-2-2-1 2-1-5 0 3-1-3-3 2 0-1 0 3-1 0 0-2-3 1 0-3-2 3 0-2 0 4-1 1-2-3-1 0-2-1-1 0 0 2-1 1-2 0-1-2 0 1-1-2-3 3-1-4 0 2-1 2-2-2 0-3-1 3-1 0 0-3-1 3-1 2-1-2 0-3-2 0-1 5-1-1-1 2 0-3-1 0-1 1-1 2 0-2-1-4 0 4-1-3 0 2-2 2 0-4 0 3-2 1 0-4-2 2-1 1-1-1 0 3 0-1-1-1 0-3 0 2-1-2-3 1 0 3-1 0 0-1 0 1-1-3-1-2 0 4 0-2-1 0 0 2 0 1-1-1-2-4 0 5-2 0-2 0-1-3-1 3 0-4-1 4 0-3-3 3-1-5 0 1-1 3-1 0-2-1-1 0-1 2 0-4 0 5-3-1 0-2-3 0-1 3 0-2-1-2-2-1 0 5-2-6 0 0-1 5-2-2-4 1-1-2-1 3-1 0 0-5-1 0-1 1-1 3-1-2-3 0 0 0-1 0 0 2-3-3-3 0 0-1-1 5 0-1-1 1 0-4-2 4-2-4-1-1-2 5-1-5-2 5-1-2 0-1-1 3-3 0 0-2-3-1-2 3 0-3-3-1-1 4-1 0-2-1-2 1 1 6 1-4 1 1 2-1 1 4 0-3 1-2 0 3 0-1 1 4 2-3 1-2 1 0 2-1 0 2 1 3 1-4 0 4 3-1 1-4 0 1 2 5 0-1 2-1 0-1 1 0 0-2 3 4 1-3 2 0 1 1 1 3 1-6 0 1 1 1 3 0 0-1 1 3 2-2 2-1 0 3 1-4 1 3 2-2 1 0 1 4 1-5 1 4 1-2 1 1 1 0 0 3 0-6 2 0 1 4 2-3 2 2 0 2 0-1 4-2 2 1 1 0 2-2 0 2 4 0 0 0 1-3 2 6 1-2 1-2 1 2 0 1 2-1 3 0 1 1 1-3 0 1 0 0 3-1 1 2 1-2 0 4 2-2 0-1 0 3 2-1 0-3 0-2 2 4 0 2 3-3 0-2 1 3 0-2 1 2 0-1 2 3 0-1 0-4 2 3 1-1 0 2 2 0 0-2 0 1 2 0 1-3 1-1 1 5" fill="none" marker-start="url(#mg)" marker-mid="url(#mg)" marker-end="url(#mg)"/><path d="M1783 328l3-1 2-1 0 3 2-3 0 1 0 3 2-5 2 1 0 4 1-4 1 4 1-2 3-3 0 3 1-2 1-2 2 2 1 0 0 4 0-5 2 4 0-3 3 3 1-3 1-1 0 3 1 1 1-3 1 2 1-3 3 2 1-1 2 1 2-3 1 2 0 3 1-1 3-3 0-1 1 5 3-2 3-2 0 1 0-1 2 4 0-3 1-2 1 3 2 0 1 2 1-1 1-2 0 3 1-3 1 1 2 2 1 0 0-3 1 1 3 1 1 1 0 1 3 0 1-3 0 1 3 1 2-3 1 0 1-1 0 3 3 2 1-2 0-2 2 0 2-1 3-1 0 3 0 2 1-3 1 3 0-1 2-4 1 1 1 3 0 1 0-2 2-2 0 1 1 0 4 0 1 2 2-1 3-1 1 2 0 2 1-4 1-2 0 6 1-1 1-4 1 2 1 0 2 1 1 1 0 0 2-4 0 1 1 1 0 3 0-1 3-2 1 2 2-1 0-4 1 0 0 2 1 0 0 1 2 3 1-6 1 3 0-2 1 1 1 1 3-2 3 0 0 3 1 1 0-4 2 3 0-2 2 1 0 0 1-2 1 1 3 3 2-3 0-2 0 1 2 1 2-2 0 4 2 0 1-2 1 3 0 1 1-5 1 0 2 0 0 2 1 0 2 0 2 0 2-1 1-1 1 1 1 2 2-3 0 4 2-4 0 0 0 5 1-2 3 2 0-1 2 1 0-1 1-5 1 0 1 2 1 0 1-2 0 4 1 1 1-5 1 2 1 1 1 1 2 2 1-1 1-2 3 2 0 0 1-4 1 4 0 0 0-4 2 1 0 0 1 5 0 5-1-1 0 0-1 1 0-4-4 0 0 3-1-1-1 1-1-1-2-3-2 0 0 2 0 1-2-2-3-1 0 0 0 1-1 3 0-2-2 0-1 1-1 1-2-5 0 5 0-2-3 3-1-3-3 1 0-4 0 1-1 1-1 2 0-3-2 0-1 0-3 1 0 3 0-3-1 1 0-1-1 4-2-1-1-4-3 4 0-3-2 1-2 2 0-3 0-2-2 4 0-3-2 2-1 2-2-1 0 0-1-2-1-1-2 1 0 0-2 4-2-5-1 2 0 1-3-3 0 4-1 0 0-4 0 0-1 3-1 1-1-1-1 2-1-4-1 0-1 3-1-4-1 4-2 1 0-5 0 2-2 2-1-1-1 1-1-2 0 1-5-3-1 1 0 0-1 3 0 0 0-1-4 1-1-2-2 0 0-3-2 5-1-1-1-1 0-2 0 1-1 3 0 0 0 1-1-2 0-2-3 3-1 1-1-3-2-1 0 4-2-2-1 2 0-3-3 0 0 2-1-1 0-3-2 3-1-3-2 5 0 0-1-4 0 0" fill="none" marker-start="url(#mg)" marker-mid="url(#mg)" marker-end="url(#mg)"/><path d="M1865 332l-1 4 0-5-1 1-1-1 0 0-1 2-1 1-4-3 0 1-1 3-1 1-1-4-3 3-2-1-2-1-1-1-1 3-1-3-2-1-2 4 0-3-1 2-2-3 0 2 0 0-4 2-1 0 0-4-1 2-1-1-1-2-2 1 0 3-1-2-3-2 0 2-2-1-1 2-1 0-1-2-1 2 0-3-2 4-1 1-1-3-1 4-2-2-1-4-3 4 0-1-2-2-1 2-2 2 0-3-2-1-1 2-1 3 0-4-1 0 0 2-3-1-2 0-1-2-1 3-4-2 0-1 0 1-1 3 0-2-1 1 0-1-4-3-1 5-1 1-1-3 0 0-1 3-2-4-1 2 0-4-1 5-2-3 0 1 0-2 0 1-1 4-1-4 0-2 0 6-1-5-1 1 0 4-1-3-1 0 0 3 0-5 0 4-1-4 0 1-1 3 0-1-1 0 0-3-1-1-1 3-1 0 0 1 0-1-1-2 0-1-1 3 0 2-2-3-1 4-1-2 0-1 0-2-1 1-2 1-2 1 0-1-2 0-1 2-1 0 0-4-3 4 0 0 0-5 0 5-1-4-1 2-2-2 0 4-1-4-1-1 0 6-1-3-1 2-1-4-2 3-1 0-1 0-1 0-1-3 0-1 0 4-1-2-1 3-1 0-2-1-4 0-1-4-1 4-1 2-1-4-1-2 0 4-1 0-1-1-2-3 0 6 0 0-2-3 0 1-2-3 0 4-3-1-1 1 0-4-1 1-2-1 0 4-1-5-2 2-3 4-1-5 0 5-1-2 0-3-1 0-1 5-2 0-2-2-2-4 0 3 0 2-1-2-1 1-2-3-1 1-2 0-1 3-2 6 2 0 0-4 0-1 1 6 1-1 2-1 1-2 0 0 3-1 1-1 0 3 2 0 0 1 1 2 2-3 2 1 2 2 1-1 2 0 0-5 1 1 0 4 1-1 2-3 1 4 1-1 1 0 0-4 3 1 1 2 1 3 1-1 1-2 0 2 2-4 0 5 1-2 5-1 0-1 0 0 0-2 1 6 1-5 1 1 1-1 1 5 2-2 1 2 1-2 1-4 1 4 2-1 1-1 1 1 0 3 3-2 0-1 4 2 0 0 1-2 1 1 4-3 2 4 0 0 1-1 2-3 0 3 1-4 1 3 1 2 0-3 0 4 1 0 1-1 0-3 0 0 1 3 1-1 2 0 1 1 0-3 0 1 1 1 0 2 0-3 0-3 0 0 3 5 0-3 2 2 1 1 1-2 1 0 1 3 0 0 0-3 1-2 0 2 3 2 0-1 1-3 2-1 0 3 2 2 1 0 0-1 3-1 0-3 2 6 1-4 0 1 1 3 0-2 1-2 2 1 1-2 1 3 2-1 0-3 2 5" fill="none" marker-start="url(#mg)" marker-mid="url(#mg)" marker-end="url(#mg)"/><path d="M1793 341l0-3 1 2 1-2 2 2 2-1 1-2 1 3 1 0 1 2 1-4 1 0 1-2 1 1 2 4 1-5 0 2 2 2 0 1 3-2 1-3 0 2 0 1 3-2 0 1 3-2 0 1 0 5 1-1 2-5 0 5 1-2 2-1 1 3 0 1 2-3 1-2 0 3 1-2 1-1 0 4 1 0 2-4 1 4 2 0 2-3 1 0 1 1 1-1 0 2 1-3 0 4 3-3 0 3 1-4 0 3 3-2 0-2 1 4 1-4 0 4 4-2 0 3 0-5 3 4 0 0 1 1 1-4 0 1 0 3 4-1 1 0 1-3 1 3 1 2 1-4 1 1 1-2 3 3 1-3 0 2 1 0 2 0 0 2 1-4 2 4 2-2 3 3 1-3 0 0 3-3 0 2 1 3 1-4 1 4 1-2 0 3 1-2 2 0 2-3 2 5 0-6 1 3 2-1 0 2 4 1 0-2 1-2 3 3 0-3 0 2 1 0 4-1 0 3 4 1 0-5 1 2 1-2 0 1 0 2 2-3 2 2 1 1 1 1 1-3 1 4 0-5 1 0 3 3 0-2 0 2 1 0 0-2 4 2 1-2 0 1 2-1 1 2 2 1 0-5 1 4 1-2 1 0 3-2 0 3 1 3 1-6 1 2 2-2 0 2 1-1 2 5 0-3 2-1 1 4 0 0 1-6 2 4 0-3 0 5 2-4 3 1 2 3 1-1 0 1 0-4 0-2 3 2 1 2 2-1 2 0 1-1 2 2 1 0 2 2 1-2 2 1-1 3-1 1-1 0 0-1-3 2 0-3-1 0-2 4-1-1 0 0-1 2 0-4 0 3-1-4-4 3-1-3 0 2-1 3 0-3-2 0 0-1-2 0 0 1-3-1 0-2-1 5-2-1-1-3-3 1-1 4 0-3-1-2-2 1-1 4 0-4 0 3-3-3-1 0-1 4-1 0-2 0-1-2 0-4-1 5-1-5 0 4-3-4 0 5 0-2-3 0-1 1 0-4-3 6-1-6 0 4-1-2-2 0-1 2-2-3-1 0-1 2-2-2-1 4 0-1-2-1-2-2 0 4-1-4-3 5-1-4 0 1-1 0-2 1-1 1 0-4-1 4-2-2-1-3 0 5-1 1-1-2 0 2-1-4 0-2-2 5-2-2 0-2-2 5-3-4 0 3 0-5-2 2-2 1-2-2 0 4 0-5-2 3-1-2-1 4-1-3 0 1-3-1 0 2 0 1-1 0-1 1-1-6-1 5-1-4-1 0-1 4-3-5-1 5-1-2 0-2-3 2 0 2 0 0 0-4-1 1-2 2-2 2 0-2-3-4 0 1-1 2-1 3 0-2-3-2-1 0 0 3 0-2-2 3-1-4-2-2 0 4-2-3-2 3" fill="none" marker-start="url(#mg)" marker-mid="url(#mg)" marker-end="url(#mg)"/><path d="M1844 343l-1 3 0-3-1 5-1-1-2-5 0 4-1-2-2 2-2-4 0 1-2 0-2 3-2-1 0 0-1-3 0 2-1 3-3-1-1-2-1 1-1-2-1 3-2-2 0 1 0 3-2-4-2 3-1-4-2 0 0 0-1 2 0 0-4 1 0-3-2 4 0-2-1-3 0 6-3-4 0 2 0-4-1 5-1-4-2 3-3-1 0-2-1 3 0 0 0-3-2 4-1-3 0 0-2 2-1-3 0 3-2 2-1-1-3-2-1 0-3 1-1-3-1 4 0-4-1 2 0 3 0-5-1 5-1-4-1 1-1 2 0-3-1 0-1 2 0 0-1-3-1 3-1 1-1-5-1 4 0-1-1-3 0 2-1 3-1-2 0 3-1-1 0-3-2-1-1 1-1 1 0 1-2-4 0 5-1 0-1-1 0-1-2-1 0 4 0-4-1 2-1 2 0-1-1 0 0-4-2 1-1 1-1 1-1-2-1 1-1 1-2-3 0 5-1-1-2-4-1 2-1 1-1 1 0-3-3 1 0 2-2-5-1 4-2-3-2 2-1 2-3-4-1 5 0 0-3-5 0 4 0 0-1-4-3 2-2-1-1 2-1 1-1-1-2-2 0 4-1-5-1 2-2 0-1 2 0-1 0-3-2 4-2-2-1 0-1-2-1 4-2-2-1 2 0-4-3 2 0-3-2 5-1 1-2-4-2-1 0 3-1-1-1-3 0 5-1-1-2-1-2 4 1 1 1-1 2 4 0 0 2-3 1-2 0 4 3-3 1 4 0-1 1 1 2-4 2-1 1 4 0-2 3 0 0 1 1 1 1 1 2-3 1 3 1-2 4 2 1 0 1-5 0 1 1 3 0 0 1-3 2 4 2-2 1 1 1-2 2-1 0 4 2-4 0 2 3 2 1-3 1 2 1 1 0-4 3 1 1 3 0-3 0 3 1-3 1 2 2 2 0-4 0 2 1 0 0-2 0 0 3 3 1-4 2 0 1 4 1 0 1-4 1 3 0-3 3 4 2-5 0 6 1-4 1 2 1 2 0-6 2 1 0-1 1 5 1-3 1 2 0 1 1 0 0 0 1-4 2 2 1 2 0-2 1 3 0-5 0 0 0 2 2 2 0-5 1 5 1-4 0 1 1 4 1-2 1-2 1 3 1 0 0-3 1 0 0 0 1 2 0-1 0 3 2-5 0 0 1 1 0 3 4 1 0-6 2 5 2-2 0 2 0-3 3-2 1 4 2-4 1 4 2-4 1 4 0-4 0 4 1 1 2 0 0-3 2 1 0 1 0 0 1-1 1-2 1 3 3 1 1 0 0-4 0 1 4 0 1 3 0-1 2-4 0 1 0 5 1-6 1 6 4-5 1 3 0-2 1 2 1 0 1-2 3 2 0-1" fill="none" marker-start="url(#mg)" marker-mid="url(#mg)" marker-end="url(#mg)"/><path d="M1822 349l0 3 0-1 2 3 0-5 0 0 1 5 1-1 1-1 1-4 2 4 1-1 0-2 1 5 3-4 0 1 1-3 1 5 1-2 0 0 0 0 2-3 2 5 2 0 0-4 2 4 0-3 1 1 0 0 4-2 1 3 2 0 1-2 0 0 3 2 0 0 2 2 2 0 0-5 1 1 2-1 0 4 1-1 1-1 1 3 1-4 2 3 1-2 1 3 0-6 2 5 1-2 1 2 0-3 1 3 1-3 5 3 0-3 1-2 2 2 0 3 1-4 1 3 0 0 0 1 3-4 1 2 2 1 1-1 1 3 0-4 1-1 1 4 1-4 0 4 1-1 0-3 4 3 0-2 1 2 3-1 1-1 0 3 2-4 2 5 1-3 1 3 1-1 1-2 1-3 0 4 2 1 0-3 2 2 1-1 0-3 1 2 1 2 1 1 1-3 2 1 0-1 0 4 3-5 1 2 2-1 0 4 0-6 2 4 2-1 0 2 1-3 0 2 2-3 0 2 1-1 1 2 1-1 1-2 2 5 1 0 1-6 2 5 0-1 1-2 2 3 0-4 1 1 1 3 1-5 3 0 3 1 1 2 0 3 0-3 2 0 1 0 0 3 1-1 2-1 0-3 3 0 1 5 2-1 2-4 1 1 1 0 2 3 5-4 1 3 0-3 2 4 0-2 1 0 0-1 2 2 1-1-2 3-1 3-1 2-1-2 0-1-2 0-2-1 0 0-1 1 0 3 0 0-1-5-2 1-1-1 0 1-1 3-1-3-1 1 0 3-2-1 0-4-1 0 0 3-3 1-1-3-1 3 0 1-1-4-3 2 0 1 0-2-5 4-3-4-1 4 0-1-2 0 0-3-2-1 0 3-3 0-1-2 0 4-2-1-1-4-1 4-3-3 0 1-1 0-3-1-2-1-3 4 0-3 0 3-2-1 0-1-1-3-3 4 0-2-2-1-1 4-2-4-1 1-1 4-2-3 0 2-2-3-3 1 0 2 0 1-2-5-1 4 0-1-1-1-1 1-1-3-1 1-2-1 0 3-4 0 0-2-1 3-2-5-2 2 0 3 0 0-3-2 0 1 0-1-4-2-1 0-2 0 0 4-3 1-1-6 0 1-1 1 0 4-2-3-1-2-1 3 0 0-4-1 0 2-1-4-2 2 0 2-1 0-1-1-1-1 0 0-4 0 0-2 0 3-1-3-1 1-1 2-3-3-1 4-1-2 0-1-4 1-1-3 0 5 0 0-2 1-1-1 0-1-1-1-1-3 0 5 0-5-1 4-3-1 0 2-2 0-1-5-1 4-1-4 0 2 0 3-2 0-2-2-1-1-1 3-3 1 0-1 0-4-3 5 0-4-2 2 0 1-1-4-3 1 0 4-2-2-1 1 0-2-1 2" fill="none" marker-start="url(#mg)" marker-mid="url(#mg)" marker-end="url(#mg)"/><path d="M1813 359l-1-5 0 1-3 0-1 3 0-1-2 2 0-4-1 3-1-4-2 3-1-2-1 2 0 3-2-2-2-2 0 3-1 0-3-2 0 1 0-1-3-3 0 6-2-3-2 0-1 0-1 2 0-4-1 3-1-3-4 0 0 4 0-1-3-4 0 6-1-3 0-3-1 2-2 3-1 0 0 0 0-3-2 4-1-3 0 0-3 2 0-4 0 0-1 2 0-3 0 5 0-2-1 0 0 3-1-5-1 5-1-2-1-4-1 2 0 4-2-4 0 4-1-3 0 1 0 0-1-2-1 2 0-3 0 3-2 0 0-3-1 2-1 2 0 0-1 0-2-4 0 3 0-4 0 2-3-1 0 3 0 0-3 2 0 0 0-4-2 0 0-1-1 2-2-1 0 1-5 1 0 1-1-4-2 5-1-5-2 2 0 1-2 2-2-3 0 2-1 1-2-4-1 0-2 1-1 2-1-2-2 1-1 1-1-2 0-3 0 4-2-1-2-1-2 2-3-1 0 2-3-5 0 1 0-1-1 4-1 1 0-2 0 3-1-4-4 3 0-4-1 2 0 3 0-5-2 2-2 2 0-4-1 4-1-1-2 0 0-1-2 2-1-4-1 2-2 1-1-2-1 1-1 0-1 0 0 5 1 4 3-5 1 3 2-1 0 3 2-5 1 3 2 2 0-4 1 2 2-3 1 2 0 3 3-1 0-2 1 1 1 0 1 1 1-3 3 4 1-6 0 6 0-2 2-2 0-1 1 3 1 2 1-1 1-2 0-2 0-1 4 0 1 4 0 2 1-1 1-1 1 0 1 1 2 0 0-2 3 0 1-3 0 4 2-2 2-1 1 3 0 1 1 1 2-5 1 0 3 4 0-2 1 0 1 2 1 0 1-5 0 1 1 1 0-1 2 3 1-2 2 1 0 2 4 0 0-2 1-2 0-1 0 5 1-2 0 1 1-3 0 1 1 1 1 1 2-2 0 0 1 2 1 0 1-3 0 4 1-3 0 2 2-2 0 1 1 2 1-4 1 1 0 3 1-1 1-3 1 1 2 4 0-4 1 0 1-1 1 3 0 1 0-3 1 3 0-3 2-1 2-1 1 2 1 3 2-4 1 0 0 1 3-2 1 4 0 1 2-2 2 1 1 0 2-1 1-1 2-1 0 2 1 3 2-4 1 2 0 2 1-2 1 1 1-5 0 2 1 2 2-1 0 2 2-2 1 0 1-3 1 4 1-2 0 0 1 2 4-1 0 3 1-4 0 2 1 2 2-5 1 2 0 2 2-3 1 3 1-2 1 2 2-2 1 0 0 3 1-3 1 1 2-2 0 1 1 1 1 0 2-2 0 2 1-3 1 0 1 5 4-4 0 0 1 4 2-3 1 2 1-4 0 3 2 0 2 0" fill="none" marker-start="url(#mg)" marker-mid="url(#mg)" marker-end="url(#mg)"/><path d="M1848 363l3-2 0 3 3-4 0 6 1-3 1 0 2-2 1 4 2 0 1-4 0 1 3 2 0 1 1-4 0 0 2 3 1-2 2-1 2 0 0 5 0-5 2 3 1 0 1 1 1-2 0 2 0-2 1-3 0 5 2-1 2-2 2 0 2 3 1-4 0 4 1-2 1-2 0 2 2 3 1-1 1-2 0 3 0-2 1 0 1-2 2 3 2-3 0 0 0-2 1 3 1 2 4-2 1-2 0 5 0 0 1-3 2-1 2 1 0 2 1-2 2 1 1-2 1 1 1 3 1-2 1 0 0-1 1-3 2 4 2-4 1 2 1 0 0 4 3-6 1 2 0 2 0-4 3 4 0-2 2 0 1-1 0 3 1 0 2-3 1 0 1-1 1 2 1-2 1 6 0-4 1 3 2-4 1 4 2-4 0 4 2-1 0-4 1 4 1-1 0 2 1-3 1 2 1-2 3-1 2 0 1 0 0 4 0-1 3-3 3 3 0-2 3 1 0-2 2 2 2 1 0-3 3 2 0 2 2-1 3 1 0-1 1-3 2 0 0 3 1 1 1-2 1 1 0-1 2-2 2 7-1-1-2 3 0 0-1-3 0 3-1-1-1 3-1-4-1 1-1-2 0 3-1-4-2 1 0 2-1 3-1-2-3-2 0 1 0 3-1-1-1-4-1 2-3-2 0 0-1 4 0-5-1 1-1 5 0-5 0 2-2-2-1 4-1-1 0-3 0 4-1-3-2-1 0 4-2 0 0-1-1-4 0 5-1-3-1 2 0 1-2-5-1 3 0 1-4 1 0-1 0-1-2-1-3 2-1-1-1 3 0-6-2 4-1-3-1 0 0 3-1-4 0 5-1-5 0 1-2 1-1 3-1-1-1-3-2-1-1 3-3-1 0-1 0 2-1 2-1-3 0-2-1 3-1-2-1-1-1 1-2 1-2 3 0-3-2 2-2 0-1-3 0 4-2-1 0-1-4-3 0 6 0-4-2 0 0-2 0 3-3 2-1-2-1-1-2 1-1 2-1-4-3 2 0-1-3 0 0 3-3-2 0 0 0-1-3 2 0-3-2 2-1 0-1 3 0-3-4 0-2 2-1 0 0-1 0-3-2 0-2 2-1 0 0-1-1 2-2 0-2-2 0 1-1 2-2 1 0-4-1 2-3-3-2 0-1 0 0 1-1 2-3-2-2-1-1 4-1-2 0 2-1-3-1-2-3 2-1-1-1 0 0 3 0 1-4-2-1 2-1-1-1-2-3 2-1-2-1 3-2 1-1-5-3 0 0 1-1 2-2-1-1-2-3 2-1 2-1-1-2 2-2-3-1-2-1 0 0-1 0 4-3-1-2 3-2-3-1 2-2-1-2 0-1-4-2 0 0 6-2-4-2-1 0 4" fill="none" marker-start="url(#mg)" marker-mid="url(#mg)" marker-end="url(#mg)"/><path d="M1784 368l0 4-2-5-1 2-2 0 0-1-2 1 0-2-1 5-1-5 0-1-1 3-1-2-1 1-2 2 0-4-2 1 0 2-3-2-1 0 0 1 0-1 0 4-2-3-1 0 0 3-1-4 0 5-1-2-2-2 0 0-1 2-1-3 0 1-1 1 0-3-1 3 0 2-1-2-1 0 0 2-1-4-1 3 0-1 0-1 0-1-3 0 0 3-1-1-2 2 0-4 0 2-2 0 0 2 0-3-1 0 0-1-1 2-3 1 0-3-1 4-1 1 0 0-1-3-1-2-4 4-2-2-1 0 0-3-1 0-1 3-1 3-2-2 0-1-1 1-2-3-1 1 0 0-3-1-3 5 0 0 0-3-1 2 0-3-2 0 0 4-1-3-1 2-5-4 0 2-1-1-2-1-3 4 0-3-2 0-2 2 0 0-5-2 0 0-2 3 0-2-1-3 0 4-2-2 0 4-3-4-1-1-1 3-2 1-1 1-1 0-1-4 0 4 0-4-1 1-1 1 5 7 1-5 0 0 2 4 0-1 3 1 1 2 1-3 0 3 1-3 0 2 1-4 0 4 1-4 0 5 3-4 0 4 1-6 1 3 2 2 1-4 1 4 1-4 2 3 1-3 0 0 1 1 1 2 2-3 0 0 1 0 1 4 2-1 3-1 1 2 3-1 0-2 2 0 1-1 0 2 0-2 2 2 0-1 3 3 1-2 1 3 1-1 1 0 2-3 1 4 0-2 2 0 0-4 3 3 0-1 0-2 2 3 3 2 0-2 0 0 2 2 0-5 1 1 0 4 0-4 1 1 2 1 0 2 1-4 1 1 0 0 1 0 0 3 0-4 1-1 1 2 1-1 0 2 0 1 3-2 0 0 1 2 0-2 2 0 0 0 1 3 1-4 0 5 0-5 0 4 2-3 2 3 0-4 1 4 0-4 0 1 1 3 0-3 2 0 2 4 1-3 0-3 1 3 2 3 1-4 0-1 1 1 1 2 1-4 0 6 1-2 1-2 2 3 1 0 0-4 0 3 1-3 3 2 0 3 1-1 2-2 1-2 1 0 0 2 2 3 1-1 0-4 0 0 1 1 2-2 0 3 2 2 0-2 1-1 2-1 1 2 2 2 0-4 2 4 0-3 1-2 1 3 1 2 2-3 0 2 0-2 1 0 2-1 1 0 2 5 1-4 0-1 2 0 0 3 0-3 1-1 1 5 0-4 2 2 2 2 0 0 2-3 0-1 0 3 2-3 0 2 4-2 0 1 2-1 1 3 1-1 1-2 0 4 1-5 1 6 0-5 1 3 1-3 2 2 2 1 0 2 0-5 1 4 1-1 0-4 0 5 2-4 0 2 1 2 2-1 0-3 1 2 1-1 2 0 1-1 1 4 0-2 4-1 0-2" fill="none" marker-start="url(#mg)" marker-mid="url(#mg)" marker-end="url(#mg)"/><path d="M1864 378l1-3 2-1 0 3 0-5 1 3 1-2 0 4 0-3 1-1 3-1 2 3 0 0 0 2 0-1 1-3 0 4 1 0 1-2 3-1 1 1 0-2 1 5 4-3 0-3 1 4 2 0 0 2 0-2 4-1 0-2 2 2 0 0 0-2 3 2 1 1 1-3 1 1 0 4 1-1 1 1 1-1 0-1 1-1 0-2 1 5 1-5 1 2 1 0 0-1 1 3 3-1 0 0 1-4 2 0 1 3 1 2 1-5 2 6 0-4 1 2 0 0 5-1 1-1 0-1 2 4 0-4 1 0 1 2 0 2 2-2 0 0 1 0 3 1 1 0 3-1 1-1 2 2 1-4 3 3 0 0 2-2 0-1 2 4 1 0 2-1 2 0 4-2 1 2 0 0 2 2 2-1 0-1 1-2 3 4 1-3 2-1 0-1 1 2 2 2 0 1 4 0 1-4 0 3 1-2 1 4 1-6 1 3 0-1 4-1 1 1 1 4 2-5 1 10-2-5 0 2-2-1 0 1-2-1 0 3-1-1-2-1 0 0-1 3-1-4-2 1-4 3 0-3-1-2 0 1-1 1 0-1 0 1-4 1-1 3-1-2 0-1-1-3-2 6-1-5 0 5-2-4-2 0 0 1-1 3-1-2 0-3-1 3-1-1-2 0 0-2-2 5-1-5 0 2-2 0-1-1-1-1-1-1-1 4 0 1-1-4-2 5 0-2-2-2 0 4-1-5-1 1-1-2 0 1-3 0 0 4-1-3-1 2 0-2-1-1-1 5 0-2-1-2-1 1-3 2 0-3-1 0-2 0 0 0 0 0-2 2-2-3-1 1 0-1-2 0-2 0-1 1 0 1 0 2-2-3 0 3-2 1-1-1 0-4-1 2-2 2-3 0-1-1-1 2-3-5-1 1-1-1-2 3-1-3 0 0-1 2-2 1 0 1-1 1-2-2-1 0 0-4 0 1-1 2-1 2-2-2 0 0-3-1-1-2-1 0-1 6-1-4-1 3-1-3 0-2-4 4-1-1-1-1-3 4-1-6-1 1-1 3-2-2 0 3 0-1-1 1-3-2 0-2-1 2 0-2-1 5-4-3 0 0 0 1-2 0-2-4-1 5-1 0-2-3-2 2 0-1-1 0-2 1-1 1-1 0-1-4 0 3 0-2-2 3-1-4 0 0-1 4-3-4 0 2 0 0-2 0-3-1 0-1-1 2-2 2-2-2 0 2-1 0-1-2-2-3-1 5 0-4 0 3-3-1-2 2-1-4-3 3 0-1-1-3 0 6-1-5-1 4 0-4-1 4-2-3-1 0-2 1-1-3-2 4-2 2-1-2-1 1-1-3-1 1 0-1-4 2-1 0-2-3 0 3-1 2-1 0-1-3-2-3-4 4-1-2" fill="none" marker-start="url(#mg)" marker-mid="url(#mg)" marker-end="url(#mg)"/><path d="M1766 380l0 0-1-1-2 1-1 3-1-2 0-2-1 2 0 1-1-2 0 1 0-2-1 3-1-4-3 2 0 0 0 3-1-5-1 5-1-3 0-1-1 0-1 3 0 1-2-4-1 1 0 0 0 0-1 1 0 2 0 1-1-3 0 0-1 2 0 0-2-2 0 2 0 0-3-2-1-1 0-2 0 5-1 1 0-3-1 0 0 1-3 0-1 0 0-2-3 2-1 1 0-4-1 3 0-1-2-3-1 1-1 3-1-3-2 0-2 5 0-1-2-1 0-3-1 3-2 2 0-1-1-3 0-1-2 3-1-3 0-1-1 4-1-3 0 4-3 1-1-6-1 4-1-2-1-1-2 3 0-3 0 5-1-1-3-3 0 3 0-5 0 1-1 3-3-1-1 3-3-3-1-1-1 3-3 1-1-4-1 2-2-1-1-1-3 0 3 4 1 1 0 3 3-1 0-1 1 3 1-3 1-1 2 4 1-2 3 2 1-3 1 0 0 0 0 3 0 1 2-3 4 2 0-4 1 1 2 3 1-2 1-1 1 2 3 0 1-2 1 0 2 2 0 1 1-1 2-2 1 4 0-6 2 4 1 0 1 1 1-4 1 0 2 4 1 0 0-2 2 0 1-1 3 0 1 2 1 2 1-2 1-3 0 4 1-2 1 0 1 1 3-1 0-2 0 2 1 2 0-2 1 1 0-2 0-1 2 1 0-2 0 4 2 0 0-1 2 3 1-2 1-2 0 2 1 0 1-4 1 3 0-2 0 1 1-1 0 5 1-3 0-2 2 5 0-2 1-3 0 4 0-2 1-2 1 3 0-1 1 2 1-3 1-2 1 4 0 1 0 1 0-3 1-2 2 2 3-1 0 2 1 1 0-3 1-1 1 1 1 2 1 2 0 0 0-6 0 1 1 4 2 0 1-1 3-2 1 2 1 1 1-5 0 0 1 6 1-4 1 2 2-4 0 3 3-1 0 0 1 1 1-2 1-1 2 5 1 0 1-4 2-1 0 4 1 1 1-4 1 3 1 2 0-3 1-3 1 4 2-3 0 3 1-4 0 5 2-3 1 1 1-2 2 4 2-4 3 4 1-5 1 4 0-1 0-2 3 3 0-3 1 0 1 3 2-1 1-2 1 0 1 1 1 1 1 0 1 0 2 3 2-2 0 1 0-3 3-2 0 5 1-1 0-2 1-2 1 5 1-4 1 4 1-2 1-1 1 3 2-3 0 2 1-2 1-1 0 4 3 0 1-3 4 3 0 0 0 0 0-2 2-2 1 5 1-5 0 3 1 2 1-6 2 1 2 4 0-1 1-2 0 3 4-3 0 1 2 1 2 2 0-6 2 2 0 3 0 1 3-4 0-1 0 4 1-2 2-1 2 4 0-2 2 0 1-2 0 0" fill="none" marker-start="url(#mg)" marker-mid="url(#mg)" marker-end="url(#mg)"/><path d="M1895 388l0 2 1-4 1-1 1 4 3 0 0-4 1 2 1 2 1-5 2 3 3-3 1 4 0 1 2-2 0 0 3 2 3-3 1-1 0 1 1 1 0 3 1-4 0 3 2-2 1-2 1 0 1 1 1 3 0-3 2 3 0-2 1 2 0-3 4 1 2 1 1 0 2-1 2-3 1 3 0-2 0 3 0-2 5 2 1 0 0-2 2 3 0-4 1 5 2-2 0 1 0-5 0 6 3-6 2 4 0-1 1-2 1 1 1 4 0-6 1 6 0-2 1-3 4 2 1-1 0-2 1 5 1-1 2 1 2-4 0 0 2 0 0 4 1 1 0-3 1 1 2-3 1 2 1 1 1-3 0 4 2-1 1-4 1 0 1 3 0 3 1-1 3-3 0 4 0-5 1-1 2 8 0-2-2 6-1-6-2 3-1 0-2-1-2 2-2-1-1 2-1-3-2 0 0 0-1 2-2 0-1 1-2 0 0-4-1 4-2-1 0-1-1-1-1 2 0-4-2 5-3-2-1-2-1 0 0 5-2-2-1 0 0-3-2 4-1-4-1 5-3-1-4-1 0-2-1 2 0 2-1 0-1-5 0 3-3-2-1 2-2-3 0 2-1 0 0 1-3-1-1-2 0 4-1-3-1 2-1 0-1-4-1 3-2 0-1-1-1 1-1 2-1-1-1-2-2 1-2-2-2 5-1-1 0-4-1 0-1 0 0 3-1 1-1-3-1 3-4-1 0 1 0-1 0-4-1 4-2-3 0-1-2 3-2 1-2 0 0-4-1 5-2 0-1-3-1 0-2 1-3 2 0-1-3 2-1-2 0 1-3-4 0-1-1 4 0-2-2-1 0 4-1 1-1-4-1-2-2 1-1-1-1 3-1 1 0-1-1 0-3 1-1-3-1 2-1 2-3-1 0-2-1 0-2 1-2-3 0 5-2-4-1 0-1 4 0 0 0-2-1 3 0-5-2 1-1 1-3 0-1 1-1-2-2 2 0-1-2 2 0-3-1-1-3 0-1 3-1 0-2 1 0-5-2 0-1 1-1 4-2-2-1-3 0 5 0-4-1 2-1 1 0-4-3 1-1 3 0-2-1 0-1-1 0 2-3-3-1 5-1 1-2-1 0-4-1 4 0-1-1 2-3-5-1 0-1 3-2 2 0-2-1-4-2 1 0 0-1 3-2-1-2-2 0 0-1 2-1 1-1-2-2 1-1-2-1 2-1 0-2-1 0 3-3-1 0-4-1 4-2 1-1 0-2 0-2-2-1-3 0 4-2-2-1 3-2-1-1-1-1 0 0 0-1 3 0-6-1 1-1 2 0 0-4 0 0-2 0 4-2-4-1 2 0 0-1-1 0-2 0 2-1 1-1 2 0 0-2-3 0 1-1-1 0 1-1-1" fill="none" marker-start="url(#mg)" marker-mid="url(#mg)" marker-end="url(#mg)"/><path d="M1681 395l-1-4-4 2 0 4 6 1" fill="none" marker-start="url(#mo)" marker-mid="url(#mo)" marker-end="url(#mo)"/><path d="M1742 391l-2 1-1 0-1-2 0 3-1 1-1 2 0-4 0-2 0 1 0 3 0 2-1-6-1 3-1-3-1 4-2-1-1 2-1-2-1 0-1-2-3 1 0 0-1 4-1-5-2 0 0 3-2-2-1 2-2 1 0-1-1-3-2 3-3 0 0 2-2-4 0 3 0-1-2-1-2-2-1 4-4-1 0-2-1 2 0-4-1 2 0-1-1 4-2-1-2 2 0-2-1-1-2 2-1-2 0-2 0 5 0-1-1-4-6 3-1-3 5 7 2 1 0 3 0-1 3-2 0-2 1 4 1-2 1 2 3-2 0-1 1 3 4-4 1 5 0-4 0 3 1-2 1-2 1 4 1-3 0 3 3-4 2 2 1 1 0-4 1 1 2 3 1-3 1 5 1-1 1 0 1-2 1-1 1 0 2 3 3-1 1-3 0-1 1 4 1-4 2 4 0 0 1-1 0 3 1-5 1 0 0 4 1-2 1 2 0-1 1 0 1-3 0 3 0-2 1 3 1-4 1 2 0 3 1-3 0-1 1 3 0 1 1-3 1 0 1 0 0-3 0 4 0 0 0-2 2 2 0 1 1-1 1 0 0 0 1-3 0 0 1 2 0-1 1 3 0-4 2-1 0 4 1-4 0 2 0 2 2-3 1 2 0 3 0-1 0-4 4-1 0 5 1 0 0-4 1 5 2-5 1 1 2 3 2-2 1 2 2-5 1 1 0 4 2-3 0 4 1-6 1 6 1-2 1-3 0 4 2-5 2 5 0-4 1 1 0-1 3 0 0-1 2 6 0-2 2-3 1 5 1-3 2 2 1-3 1 2 1 1 0-4 3 0 1 3 1-2 0 1 1 0 1 1 2 2 0-3 2 1 0-3 1 0 1 2 3 2 1-1 0-2 1 3 0-4 0 1 3 2 2-3 1 1 1 4 2-3 2 2 1-4 0 2 1 0 2 1 1-1 0 3 1-4 0-2 3 1 1 5 0-2 1-3 1 4 1 0 0-4 2 1 1 1 0 1 2 1 2-2 1 2 1-4 0 4 2-2 2 1 1-1 1 2 0-3 2 1 3-2 0 2 0-2 2-1 1 6 2-1 0 0 0-2 1-3 1 1 1-1 2 6 2-2 0-4 1 3 0-3 0 2 1 4 1 0 1-5 1 2 1 0 1 2 1-3 2 3 1-3 1 2 1-2 1 4 2-5 0 0 2 1 2 3 1-3 0 2 2-3 1 0 0 2 1 2 2-5 0 2 1 3 1 1 1-5 3 3 1-1 0-1 2 0 0 2 0 0 0-3 5 1 1 2 0 1 0-2 2-1 0 3 2 0 1 1 1 0 0-6 1 2 0 0 4 1 0-1 0 2 2-2 3 4 0-4" fill="none" marker-start="url(#mg)" marker-mid="url(#mg)" marker-end="url(#mg)"/><path d="M1932 402l1-2 1-2 1 2 1-2 0 0 1 1 1 0 2 2 0-3 3 1 0-1 1 1 3-2 1 4 1-4 1 3 2-1 0-1 2 4 1-3 0 1 0-3 1 4 2 1 1-2 1-1 0-3 2 5 3-3 0 0 0 4 0-3 3-1 1 2 1 2 2-1 1-1 1-3 0 1 2 1 0 1 2 2 1 0 1-6 0 0 1 5 1-5 1 1 3 5 1-5 1 0 1 0 0 5 1-2 1 1 0-4 2 1 1-2 2 6-1 1-2 2 0 3-2 0-1-1-2-1-1-3 0 2 0-2-1 4-2-5-1 6-2-4-2 1-1-1 0 2-2-2-1 4-1-3-2 1 0 0-2 1-1-4-1 5-1-6-1 3 0 1-2-2 0 4-1-4-3-2 0 1-3 3 0-3-1 4-2-4-2 3-1 0-1 1-1-3 0 0 0 0-1 1-1 1-2 1-2-1 0-2-3 2 0 2 0-5-1 0 0 2 0 1-2-1-3 2-1-4-1-1-2 6 0 0-3-3 0-1-1 4-1-6 0 2-1 4-2-5-1 5-1-1-1-2 0 1-1-1-4-2 0 4-2-4 0 2-2 2 0 1-2-4-1 0-3 3-1-4 0 5-2-4-1 0 0 1-1 1-1 1-4-5 0 3-2-2-1 4 0-3-1 3-1-3-1 2-1 1 0-3 0-1-4 3 0-1-1 0-2-2-1 3-2-2 0-1-3 5-1-4-1 3-1-4-1 1-1 4-2-3 0 3 0 0-4-5-1 4-2-4 0 2-1-1 0-1-1 2-2 0 0-2-1 1-4 2 0-2 0 3-3-2 0 2-3 1 0-2 0-3-3 1 0 3 0 0-3-3-1 2 0-3-2 1-2 3-2-3 0 0-1 4-3-6 0 4 0-1-3 2-1-2 0-2-1 4-1-2-2-2-1 2 0 3-1-5 0 4-1-3-2 3-3 0-1-3-1 4 0-4-2 2 0-3-3 2 0-2-1 3-1 1-1-2-1-1-1 2-2 1-1-2-1 2-1-5-1 2-1 3-1-3-1 2-2-3 0 4-1-5 0 2-1 3-2-4-2 1-1 3 0-3 0 3-6-2 0 2 0-4-2 5 0-1-1-4-2 0-1 0 0 3-1-1-1-3-1 4 0 0-3 2 0-4-1 3 0-3-2 4-1-3 0 0-1 2-3 1 0-5-1 2-1-3-2 6 0-1-1-3-2 2-2-2-1 3-1-1-1-4-1 5 0-4-1 1-2-1 0 3-3-1 0 0 0 3 0-4-5 2 0-2 0-1-1 2 0 3 0-6-1 4-2-2-1 0-1-1-2 4 0-3-1 0-1-1-1 4-2-1-2-1-1-2-1 4-3-1 0-1-2-1-1 2 0 1" fill="none" marker-start="url(#mg)" marker-mid="url(#mg)" marker-end="url(#mg)"/><path d="M1708 402l0 0-3 5 0-1-1 0-1-3-3 2-1-1 0 3-3-2-1 2-1-3 0 2-1-1-3 2 0 1-3-5-2 1-2 2 3 5 1-3 0 1 2 4 3 0 0-3 2-1 3 1 1-1 2 1 3 0 5 2 0-2 4-1 2-1 0 6 3-4 2 0 6 2 1 0 3-1 1-1 1 3 1-2 0-1 4 4 1-3 0 3 1-4 1 1 2 2 2-4 0 1 3 0 0 4 1-2 0 1 3-2 2 0 0 0 3 2 0-3 0 1 3-1 2 3 0-4 2 0 1 2 2 1 1-3 2 1 0 1 2-1 1 3 0 1 1-3 2 1 0-1 1 1 3-2 0 3 1 0 1-4 0 2 2 2 0-3 1-2 3 0 1 3 0-2 1 4 1-1 2-3 0 3 2-3 0 2 3 0 1 2 1-3 2 0 2 1 2-1 2-1 1 0 0-1 1 1 1 4 2-1 3 2 0-2 0-2 1 1 0 2 1 1 0-6 3 2 2 0 1-1 0 4 0 0 1-1 1-3 3-1 0 4 0 0 0 0 1-1 3-2 3-1 0 3 2 0 1 2 0-2 1-2 1 4 1-4 2 2 3 0 0 1 2-2 0 3 2-1 1-2 2-2 1 4 0-4 0 3 5-1 0-1 0 3 1 1 1 1 1-2 0 0 1-2 1-2 1 6 2-3 1 2 1 0 1-1 1-2 1 0 1 0 3 2 0-2 2-2 0 4 0-2 1 1 3 2 2-1 0 0 1 1 1 0 1-4 0 4 1-3 1 3 2-2 2-3 0 3 1 1 2-2 0 2 2-4 2 1 2 0 0 1 1-2 1 4 1-1 1-1 1 4 1-2 1 2 1-6 0 0 2 6 0-4 1 1 0 3 3-3 1 1 1-3 1 0 2 1 4 4 0-3 1-2 2 3 1-3 0 5 2-4 0 3 3-3 1 1 1 1 0 1 2 0 1-1 1-2 1 0 1 3 3-1 0 0 0-1 3 2 0 0 1-2 0-1 1 2 2-2 2 3 0-4 2 3 2-2 1-1 1-1 1 3 1 1 1 1 2-3 0 0 2-1 1 3 1-1 1 0 1 2 0-2 1-1 4 3 1-2 0-3 1 2 1 2 2-1 0 3 2-3 0 1 1 1 1-4 1-1 0 0 4 2 0 0 2 3 1-3 0 0 2 2 2 6-2 1-1-3-1-2-2 6-2-6 0 2-1 0-1 0-1-1-2 4-1-3-3 2 0 0-1 1-1-3 0 3-2-2-1 1 0-4 0 6 0-5-3 4-1-1 0-4-1 5-1-1 0-4-2 2-2 3 0-4-1 3 0-2-3 1-2 1 0-2 0 1-2 2 0-4-3 3 0 1 0-2-3-2-1 3-1 1-1-4" fill="none" marker-start="url(#mg)" marker-mid="url(#mg)" marker-end="url(#mg)"/><path d="M1946 417l0-2-2 0-4 4 0-2-1 2-1-2 0-3-1 3-3-2-1 4-1-3-1 1-1-2-2 0 0 3-2 0 0-1-2-1-2 4 0-2-2-3 0 0-2 3-1 0 0-3 0 0-1 3-1-1-1 3-1-3-2-2-1 2-3 3-2-1 0-3-2 3 0-3-2-1 0 0 0 1-1-2-1 5-1-1-1 1-1-3-1-1 0 3 0-3-2 0-3 3 0-2-2 0 0 4 0-1-3-2-1 2 0 0-1-2-2-2 0 2-2 2-1-4 0 2-1-1-3 2-1-2-1-1-2 4 0-3 0 3-1-5-2 1 0 4-1-5-1 5-1-2-2 1-1-2-2 2-1-3 0 1 0 3-3-1 0-2-1-2 0 4-2-4 0 5-1-2-2 2 0-2-1-1-2 4-1-3-2-1 0-1-1 0-1 4-3-3-1 2-1 0-1-4 0 3 0 1-1-3-1 4-1-5-1 1-1 4-1-5-1 1-2 4 0 0-1-3-1 2-2-1-2 3-2-4-1-2 0 5 0 1-1-5-2 0-1 5 0-2-3 0 0 2-2-3 0 0-1 1 0-3-2 0 0 1-2 1 0-2 0 4-2 1 0-3 0-3-4 3-1-2-2 1 0 2-1 2 0-4-1-1 0 3-3-1 0-1-1 3-1-1-1 1-1-2-1 0 0-3-1 3-2 0 0 1-1 1-1-1-3-1 0 2-3-1-1 0 0 1 0-2-3-2-1 1 0 0-2 2 0 2-1-4-1 2-2 0-1-4 0 1 0 3-1-2-2 2 0-3-2 4-1-3-2-1 0-1-2 2 0 3 0-4-2 3-1 0-1 2-1-2 0-4-3 1-1 3-1-3 0 3-1 2-1-4-1 2-2-1 0 2-1-4-2 4-1-1-2-3 0 5-1-3-2-2 0 1-1 1-1-2-5 2-1 1-6-1-1 3-5-4-4-1-3 1-3 3-2-3-2 3-3-3-1 4 1 2 5 1 2 1 5-3 2 1 2-1 2 3 4 0 2-3 1 4 5-1 3-2 0 1 1-2 1 5 1-6 0 6 1-6 0 3 1-2 1 4 2-1 0 1 0-4 2 2 1 2 1 0 1-2 1 3 1-1 2-3 1-1 1 4 1-1 0-2 1 0 2 3 0 0 2 1 1-5 0 2 0 3 2-2 1-4 0 4 1-2 3-1 0 2 1 1 3 2 1-4 1 2 0 1 1-5 1 4 2 2 0 0 0-4 1 2 2-3 2 3 0 1 3 0 1-4 1 3 1-1 0 0 0 2 2-1 2 2 3-6 1 3 0 2 2-3 1 1 0 2 1 0 2 1 0-6 1 4 0 0 0 1 2 0 0-3 2 0 0 4 2-5 1 2 0-1 1 4 0-5" fill="none" marker-start="url(#mg)" marker-mid="url(#mg)" marker-end="url(#mg)"/><path d="M1802 420l1 5 0-3 1 3 1-1 1-2 3 2 4-1 0 0 2 2 1-3 2 4 1-1 1-4 0 1 1 2 0 1 2-5 3 4 1-2 0 3 1 0 3-3 0-1 1 2 0 3 2-1 1-2 1 1 1 0 1-3 1 2 2 2 1-3 0-2 0 2 1 4 2-6 1 2 0 0 0 2 2 1 4-2 1-3 0 3 2 1 2 1 2-2 2-1 1 4 0-3 1-2 1 4 2-5 0 3 1 2 0 0 0-1 3-2 2 4 0-4 0 3 1-3 2-2 1 2 1-2 1 1 1 2 2-2 0 4 3-4 0 1 2-1 1 1 1 0 2 3 0-1 1-1 2 1 0 1 0-5 3 6 0-1 1-3 0 1 2-1 1 4 1 0 2-5 0 0 0 2 2 2 2-3 0 2 2 0 0-3 1 3 2 1 0-4 2-1 0 4 0-2 2 3 2 0 0-4 2 3 1 0 2-2 2 3 1-3 0-1 2-1 0 4 2 1 1-4 0 2 1 1 1 1 1-2 2 1 1-1 0-2 1 0 1 1 2 1 3-1 0 0 1-2 1 2 3-1 0 4 1-5 0 1 2 5 0-3 1-1 0-1 1 4 2-3 3 3 0 0 0 0 3 1 0-4 0 1 2-3 1 0 0 3 2 3 1-1 1 0 2-2 1-2 0 1 3 1 0 0 4 2 1-3 1 1 1-1 1-1 2 1 0 2 2-3 1 2 0 2 0-4 1 4 1 0 0-4 1 1 1 0 3-2 0 6 0-1 0 3-4 1-1-2-2 3 0 1-2-2-1-3-1 2-2 2 0-3-2 2-1 0-1 3-2-4-1-1-1 2-1 0 0 2 0-4-3 4 0-4 0 4-1 0-2-2-2-1-1 0-1 3 0-2-2 2-3-1-1 0-1-2-1 3 0-3-1 1 0 3 0 0-3-3-1-1-3-1-1 1 0 3 0 0-1-1-1-4-1 2-1-2 0 3-1 2 0-1-3-3-2 3-2-1-1-2 0 1-1 2-1 1-2 0-2-1 0-3-1 2-1 1 0-4-2 4 0-1-2-2 0 0-1 4 0-3-2 0-1-2-1 3 0 0-1 1-2 1 0 0-3-3-2-2-1 4-1 2-1-3 0-2-2 1-1-2-3 3 0 2-2-1-2-1-1 2 0-1-1-1-1 3-2-5 0 4-3-5-1 1 0 3-2-3-1 1 0 3-1-2-1 3-2-4-2-2 0 1-1 1-2 2-4-1-1 0 0-2 0 5-1-2-3 0-1-1-1-1-3 2-1-3-2 1 0 2-1-4-2 3 0 2-1-5 0 5-1-4-1 3-2 0 0-1-2 1-2 2-2-2-1-3-1 2-1-2-2 1-1-2-1 1-1 4-1-3-1 1" fill="none" marker-start="url(#mg)" marker-mid="url(#mg)" marker-end="url(#mg)"/><path d="M1831 426l-3 2-1 1 0 2-1-5-1 5-3 1 0-4-1 2-1-2-2 3-1-3-2 1 0 1-1 1 0-3-1 3-1-3 0 0-1 3-1-1 0-4-1 4-2-3 0 5-2-2-1-1-1 1-3-1-1 0-1 2-4-2 0 3-1-4-1 2-4-3-2 4 0-3-1 3 0 0-4-4 0 3-1 1 0-2-1-1-2 0-2 1-3 1-1 0 0-2-2 0-1-1-2 3-3-2-1 0-3-1-1 4 0-3-1-2 0 5-3 1 0-6 0 3-2 3 0-4-1 4 0-5-1 2-4 0-2 0-1-1-2 4 0-4-1 0-4 1 0 2-3 0-1-3-2-1 0 1-3-1-1 3-1 2-1 0-2-4 0 0-1 2-4-1-2 2-6-1-1-1-2 2-3-1-5-3-6 3 3 5 4-1 1 4 0-5 5 3 4-2 10-1 4 2 5-3 1 5 0-3 1 1 0-2 1-1 1 2 1 1 0-1 2-1 1 3 0-1 2-2 1 1 1 0 1 0 0 0 3 0 1 0 1 0 2 3 1-3 1 2 1-1 0 0 2-3 2 3 1-1 1 0 0 2 2-3 0 5 3-6 0 4 1-3 1 1 2 3 0 0 0-2 2 0 1-2 0 1 1 0 1 1 2 1 0-4 0 0 1 5 2-3 1 2 0-4 2 5 1-3 2 1 0 0 3 1 0 2 0-1 1-5 1 4 3-2 0-2 1 5 1-2 1-1 1 1 0 2 2-1 2-2 1 2 1-2 0 3 1-4 0 5 1-4 1 1 1-3 1 5 2 1 0-3 0 2 3-4 0 3 1 1 1 1 0-2 2 0 1-3 3 4 1-2 1-3 1 4 0-3 0 2 4-3 1 3 1 0 1-1 0 0 1 1 1 0 2-1 0 0 2 2 1-3 2 5 0-3 1 2 1-3 1 0 0 2 1 1 1-3 1 2 1-3 3 4 1-3 1 1 1 2 1-4 1 4 2 0 1-3 1 3 1-3 1-1 0 5 0-1 1-4 0 3 2-2 2 0 2 1 1-3 1 3 1-1 1 3 1 1 1 0 2 0 1-1 0-4 0-1 2 3 1 0 0-1 0 0 2 0 1 1 3 2 0-2 3-3 0 3 2-1 0-1 0 3 2-3 2 3 0-3 3 4 2 0 0 1 2-3 2 1 0-1 1-2 1 0 1 3 3-1 0-3 1 4 1-3 1-1 1 4 2 0 2 1 1 1 1-5 0 0 1 2 0 1 1-2 4 2 2-3 0 2 2-1 0 1 3 3 0-2 3-2 0-2 2 3 0-2 1 0 1 3 2 0 1 0 0-1 2-3 1 4 0-2 2 3 2 1 1-2 1-2 1 3 0-5 3 2 3 3 1 0 1 1" fill="none" marker-start="url(#mg)" marker-mid="url(#mg)" marker-end="url(#mg)"/><path d="M1958 434l1-2 1 5 1 0 1 0 0-3 2 3 1-1 1-1 0-2 0 0 3 4 2 1 1-3 2-2 1 3 0 1 1-3 3-1 0 2 1 2 2-4 1 3 0-2 0 1 3-1 1 0 0 0 6-2-7 6-2 4-3 2 0-4-3-1-2 4-1-4 0 3-3 0-1-2 0-2-2 4 0-1-1 2-1-3-2 4-3-2-2 2 0-2-1-1 0-2-3 3-1-4-1 2-2 1 0-2-1 1 0 3-1-3-2 1 0-2-3 5 0-3-2-2-1 3 0 2-1-6-3 1 0 0-1 2-1 2-1 0 0-4-2 4-1-5 0 5-3 1-2-4-2 0-1 2 0 1 0-2-2-3 0 2 0 4-3-1 0 0-2-5-3 5-1-1 0-3-1 4-2-3-1 3 0 0-1-4-1 4-2-3 0 2-1-1 0-3-4 0 0 5-2 1-3-1-1 0-1-4-1 3-1 2 0-6-2 6 0-5 0 3-3-1 0-1-1 1-1-1 0 2-1 0-2-3-1 3-2 0 0 0-1-4-1 2-1 3-2-4-3 4-1 0-2-2 0-2-1 2-1-2-1 4-1-4-1 4-1-4-1 0 0 5-1-6-1 3-2 1 0-2-2-1-2 3 0-1-2-1-1 0-1 2 0 1-3-4-2 4-2-2 0 0-1 2 0-3-1 2-2 1-1 0-1-5-1 1 0 4-2 0-1-3 0 2-1-1-2-1-3-1 0 1 0 1 0 3-2-6-1 6 0-3-2 1-1-2-1 0-1 3-2-1-1-3 0 2-1 2 0-2-3 2-1-4-3 1-1 3-2 0 0-3-1 3-2-2-1 0-3-2 0-1 0 3-2 1-1-3 0 5-1-4 0 4 0-3-3-3 0 2-1 1 0 2-3-1-3-3-1 5 0-3-2-3 0 3-1 2-1-4-3 4-1-3-1 1 0 3-2-5-1 4 0-3-1 3-1-2-3 2 0-4-1 0-1 1-1 3-1-1-1 1-4-1-1-4 0 2-2 1-1-3 0 4-2-2-1 2 0 1-4-1 0-2-1-1-1 0-1 3 0 1-1-1-1-3-2 3-1 1-1-4-1 0-1 0-2 2-1 0 0 1-1-3-3 0-2 4-6-4 0 0-2 3-2-4-2 3-1-2-6 1-3-2 0 2 3 10 3-6 4 2 1 3 2-3 6 0 5-1 5-1 0 5 0-4 1-1 0 3 1 2 2 0 2-4 0 4 1-1 0 2 2-5 0 2 2-2 1 1 0 4 1-5 0 3 1 1 2-3 1 0 1-1 0 2 3 3 0-3 1 0 1-2 0 4 1 0 1-5 1 4 1-2 2 1 1 1 0-3 1-1 1 0 1 2 0 2 3-1 1-1 1 2 1-1" fill="none" marker-start="url(#mg)" marker-mid="url(#mg)" marker-end="url(#mg)"/><path d="M1772 445l2 1 1 2 1-3 1 2 0 2 1 0 1 0 2-1 3-1 0 2 1-3 0 0 1 3 2-2 1 2 1 0 0-2 4 1 0-3 3 3 0-2 0 4 1-1 0-3 1 3 1-3 2 0 2-1 0 3 1-2 0 3 1 0 2-4 1 0 0 3 3-1 2 1 1 0 0-1 2-1 1 3 1 1 0-3 3 2 1-3 1 3 3-3 0 1 1-1 1 2 0-3 2 4 1-1 0-3 2 0 2 3 0 0 2-3 0 5 0 0 2-5 1 4 3-3 1 1 1 2 0-2 2 0 1-2 2 2 1-2 1 3 0-3 0 2 3-2 0 1 2 2 2 0 0-3 1 3 2 0 0-1 3-2 2 5 0-5 1 3 0-4 0 1 3 3 2-2 0 2 1-2 0 3 1-2 0 2 2 0 2-4 1 2 0-1 1 2 1-1 1-3 1 1 1 5 2-3 1 2 0-3 1 4 2-4 2 3 1 0 0-5 1 4 0-2 3-1 1 4 1 0 1-5 0 2 3 4 0-3 0-2 0 3 3 1 0-3 1 2 0-1 2-3 1 3 0 0 1 2 2 0 0-5 3 5 1-3 1-1 1-1 2 0 0 4 0 2 1-4 1 0 4 1 0-2 1 1 1 1 0 2 0 1 3-1 1-3 2 1 1-1 1 3 1-1 1-1 0-2 3 0 1 2 1 2 0 1 2-5 0-1 1 2 3 4 0-5 1 3 2-2 1 1 2-1 1 1 2-1 2 1 0 1 1-1 1 0 0 0 0 1 3-1 1 2 2-3 1-1 4 2-2 4-2 3-4-3-1 1-4 3 0-4-1 0-2 0-1-1-3 6 0-4-1 0 0 3-1-5-2 3-1-3-2 1-1 4-1-4-1 1 0 3-2-5-1 6-1-3-2-2 0 3-4 1 0-4-3 3 0-4 0 0 0 2-1 3-2 0-1-2-1-2 0 3-1 2-1-5-1 4-2-4 0 4-2-1-1-1 0 2-1-5-1 5-1-5-3 5 0-3-1 2-1 1-1-4-3 2-2-2-1 4-1 0-2-3 0 1-3 3 0-2-1-2-2 3-1-3-1 0 0 2-1-1-4-2-1 3-1-2-1 1-1-1-1 3-1 0 0-4-4 0 0 3-1 1-1 1 0-5-3 3-1-2-2 0 0 3-1-4-3 2-1 0-2-2-1 0 0 4-1-1 0 1-3-4 0 5-2-5-2 4 0 1-1-5-1 0-1 0 0 3-1 1-1-5 0 5-1-4-4-1 0 1-2 1-1 1-1 0-1-2-2 3-1 2-1-2-2-1-2 1 0-4-1 0-1 3-1 1-3-1 0 2-1-3-4 4 0-3-2 1 0-4 0 4 0 0-1-2-2 2-2-2 0-2" fill="none" marker-start="url(#mg)" marker-mid="url(#mg)" marker-end="url(#mg)"/><path d="M1814 451l-2 4 0-1-3-3-1 3-1 0-1-3-3 4 0-3-1-2-2 4 0-1-1 2-3-3-1 3 0 0 0 0-2-5-3 2-2-2-1 3 0 2-2-3-2-1 0 3-2 0 0-4-1 4-2 1-1-3-4 3 0-2-1 1 0-3-1-1-1 5-1-1-1-3 0 4-1-4-1 2-2 1-1-3 0 4-2-2 0 3-1-1-2-2 0 1-4-3-1 3-1 1-1-2-1 1-2 0 0-3-1 0-1 5-1-2-3 2 0-5-1 3 0-4-2 5 0-2-1 0-1 2-2-4-2 4-4 0-4-5-3 4-2-3-2 3-1 1-4-4-1 3 5 4 4 1 3 1 6 1 1-2 4-2 5 0 0 4 3 0 0-3 0 3 1-4 2 2 4 0 0 2 3 0 0 0 0-2 1-3 1 4 0-1 1 3 2-5 0 2 1 3 1-2 3-3 2 3 0-2 1 2 1-1 0 2 1 1 2-3 2-1 2 1 1 2 1-4 1 4 1-5 1 2 1 3 0-3 1 2 1 1 1-4 2 4 1-4 1 4 0-2 3-1 1-2 0 1 1-1 0 3 2 1 1-1 1 2 1-2 2-2 0 0 3 1 0 0 0-2 2 4 1-4 0 2 1 3 2-2 1-1 3 2 1-1 1 1 1 1 0 0 2-4 1 3 1 0 0-1 1 0 2-1 3 0 0 1 0 3 1-1 2-4 2 0 1 3 1-4 1 1 0 0 3 0 1 3 1-3 3 1 1 2 0 1 1-5 0 0 0 5 1 0 1-2 2 2 1-5 1 1 0 1 1 0 1 2 0-1 2 1 2 1 2-1 0 2 1-5 1 4 2-4 1 0 0 0 0 4 3-3 1-2 0 3 4-3 1 3 0 3 0-5 1 5 0-4 1-2 1 6 0-1 2-3 3 3 0-4 0 1 3 2 1 2 1-2 0-2 1 2 1-2 0 1 0-3 2 5 1-2 0 1 3 1 1-5 1 1 0 4 0-4 2 4 2-2 1 1 1 1 0-4 2 3 1-2 0-2 0 4 2 1 0-2 2-2 0-1 1 0 1 1 1 4 1 1 2-5 1 4 0-1 1 1 1-2 2 1 1 2 0-4 2 0 2 3 1-2 0 1 0-3 3 2 2 1 1-2 0 4 1-2 1-3 2 2 1 0 1-2 1 4 1 0 0-2 1-1 1 1 2 1 0-4 2 3 1-2 3 0 1 3 1-3 0 0 2-1 1 2 2 1 1-3 1 2 4 1 4 0-6 3-4 1-6 1 0 2-3-3-1 0-1 1-1-1-1 5 0-3-1-1-4 0-1 3-2-5-1 3-2 0-2-2-1 4-3-1 0-1-2-2 0-1-1 6-1-2 0-2-2-1-3 1-2 0" fill="none" marker-start="url(#mg)" marker-mid="url(#mg)" marker-end="url(#mg)"/><path d="M1913 464l-2 3-1-1 0-1-1-3-2 2-1 3-1-2-1 2-3 0 0-2-1 2 0-2-1-3-2 1-1 3-1-3-2 1-3 3-1-5-1 2-2-1-1 3 0 2-2-3-3 3-1-4 0-1-1 2-1-3-4 2-4-1 0 4 0-2-1 1-2-3-1 4 0-3-1-1-2 2-3-2-3 1 0 0-1 1-1 2 0-1 0-3-1 3-1-2-3 3 0-2-1 1-1-2-3 2-1 0-1 1-1-2-1-2-1 1-1 3 0-4-3 0 0 4 0-3-1-1-3 4 0-5-1 4 0-3 0-1-1 0-2 3-3 1-1-3-1 3 0-3 0 1-2 1-1 1-1 0-1 1 0-3-4 3-1-4-1 3 0-3-2 1 0-2-1 1-1 4 0-3-1 3-2 1 0-2 0 0-2-1-1-3-1 6-1-6-1 3-1 1-1 1-2-5-1 6 0-3-1 1 0-4-1 6-2-6-1 6-1-4-1 1-1 0 0 3-3-3-1 3 0-4-3 1-2 1 0 2-1 0 0-5-2 1-2-1 0 2-2-2 0 0 0 4-3-2-4 2 0-4 0 2-1-2-2 1-4-2-1 4 0-3 0 5-1-1-1-3-1 3 0-3-3 2-1-1 0-1 0 0 0-2-4 4 0-3-5 1-2 3-2-3-1 3-5-4-1 4-4-4-2 0 15 7 5-1 2 2 2-2 0 1 1 0 1-2 3 2 1 0 2 0 2 2 1 0 1-1 1-3 1 1 0 4 1-4 2 3 1-3 2 2 0-1 1-1 0 3 2 0 2-4 0 3 2 1 1-1 1-2 3 1 1-2 0 4 3-2 2 3 0-5 1 2 1 3 2-2 3-1 1-1 1 4 1-3 1 1 1-3 0 3 3 0 2-2 0 1 4 1 1 2 0-1 1 0 3-2 1-1 3 2 1-1 1 2 2-1 3 1 0-2 1 1 2-1 0 2 2-3 2 2 1-2 1 3 0 0 3-3 0 3 2-2 0-1 1 3 2 2 2-3 1-2 2 2 1-2 0 3 1 0 3-2 1 3 3-4 1 1 1 1 1 1 0-2 3-2 1 4 1-1 1 0 0-3 1 2 2 4 0-3 1-3 4 4 1-3 0 4 1-3 0-1 3 3 1-3 2 2 0-2 0 0 2 2 2 3 0-2 0-4 2 0 1 1 0 2 1 0 1 2 1-2 4 1 1-1 1 0 1-2 0 0 3 3 0 0 0-4 2 3 1 2 2-5 1 4 2-2 3 0 1-1 1 2 2 2 0-1 1-2 1 0 2-1 1 3 0-4 2 5 0-2 2-2 2 1 1-1 0 3 0-1 1-3 3 2 1 3 3-3 0 1 1-2 1 2 1-3 1 0 0 5 3-4 5 1" fill="none" marker-start="url(#mg)" marker-mid="url(#mg)" marker-end="url(#mg)"/>
<circle cx="1689.9" cy="462.3" r="3.8" fill="#878787" stroke="#000" stroke-width="0.8"/>
<rect x="1199.8" y="674" width="353.5" height="354" fill="#EBEBEB"/>
<line x1="1215.4" y1="674" x2="1215.4" y2="1028" stroke="#fff" stroke-width="1.6"/>
<line x1="1199.8" y1="1012.4" x2="1553.3" y2="1012.4" stroke="#fff" stroke-width="1.6"/>
<line x1="1255.4" y1="674" x2="1255.4" y2="1028" stroke="#fff" stroke-width="0.8"/>
<line x1="1199.8" y1="972.4" x2="1553.3" y2="972.4" stroke="#fff" stroke-width="0.8"/>
<line x1="1295.5" y1="674" x2="1295.5" y2="1028" stroke="#fff" stroke-width="1.6"/>
<line x1="1199.8" y1="932.3" x2="1553.3" y2="932.3" stroke="#fff" stroke-width="1.6"/>
<line x1="1335.5" y1="674" x2="1335.5" y2="1028" stroke="#fff" stroke-width="0.8"/>
<line x1="1199.8" y1="892.3" x2="1553.3" y2="892.3" stroke="#fff" stroke-width="0.8"/>
<line x1="1375.6" y1="674" x2="1375.6" y2="1028" stroke="#fff" stroke-width="1.6"/>
<line x1="1199.8" y1="852.2" x2="1553.3" y2="852.2" stroke="#fff" stroke-width="1.6"/>
<line x1="1415.6" y1="674" x2="1415.6" y2="1028" stroke="#fff" stroke-width="0.8"/>
<line x1="1199.8" y1="812.2" x2="1553.3" y2="812.2" stroke="#fff" stroke-width="0.8"/>
<line x1="1455.6" y1="674" x2="1455.6" y2="1028" stroke="#fff" stroke-width="1.6"/>
<line x1="1199.8" y1="772.2" x2="1553.3" y2="772.2" stroke="#fff" stroke-width="1.6"/>
<line x1="1495.7" y1="674" x2="1495.7" y2="1028" stroke="#fff" stroke-width="0.8"/>
<line x1="1199.8" y1="732.1" x2="1553.3" y2="732.1" stroke="#fff" stroke-width="0.8"/>
<line x1="1535.7" y1="674" x2="1535.7" y2="1028" stroke="#fff" stroke-width="1.6"/>
<line x1="1199.8" y1="692.1" x2="1553.3" y2="692.1" stroke="#fff" stroke-width="1.6"/>
<line x1="1195.8" y1="1012.4" x2="1199.8" y2="1012.4" stroke="#333" stroke-width="1.2"/>
<text class="l" x="1193.3" y="1017.7" font-size="15" text-anchor="end" fill="#4D4D4D">0</text>
<line x1="1215.4" y1="1028" x2="1215.4" y2="1032" stroke="#333" stroke-width="1.2"/>
<text class="l" x="1215.4" y="1048.5" font-size="15" text-anchor="middle" fill="#4D4D4D">0</text>
<line x1="1195.8" y1="932.3" x2="1199.8" y2="932.3" stroke="#333" stroke-width="1.2"/>
<text class="l" x="1193.3" y="937.6" font-size="15" text-anchor="end" fill="#4D4D4D">1000</text>
<line x1="1295.5" y1="1028" x2="1295.5" y2="1032" stroke="#333" stroke-width="1.2"/>
<text class="l" x="1295.5" y="1048.5" font-size="15" text-anchor="middle" fill="#4D4D4D">1000</text>
<line x1="1195.8" y1="852.2" x2="1199.8" y2="852.2" stroke="#333" stroke-width="1.2"/>
<text class="l" x="1193.3" y="857.5" font-size="15" text-anchor="end" fill="#4D4D4D">2000</text>
<line x1="1375.6" y1="1028" x2="1375.6" y2="1032" stroke="#333" stroke-width="1.2"/>
<text class="l" x="1375.6" y="1048.5" font-size="15" text-anchor="middle" fill="#4D4D4D">2000</text>
<line x1="1195.8" y1="772.2" x2="1199.8" y2="772.2" stroke="#333" stroke-width="1.2"/>
<text class="l" x="1193.3" y="777.5" font-size="15" text-anchor="end" fill="#4D4D4D">3000</text>
<line x1="1455.6" y1="1028" x2="1455.6" y2="1032" stroke="#333" stroke-width="1.2"/>
<text class="l" x="1455.6" y="1048.5" font-size="15" text-anchor="middle" fill="#4D4D4D">3000</text>
<line x1="1195.8" y1="692.1" x2="1199.8" y2="692.1" stroke="#333" stroke-width="1.2"/>
<text class="l" x="1193.3" y="697.4" font-size="15" text-anchor="end" fill="#4D4D4D">4000</text>
<line x1="1535.7" y1="1028" x2="1535.7" y2="1032" stroke="#333" stroke-width="1.2"/>
<text class="l" x="1535.7" y="1048.5" font-size="15" text-anchor="middle" fill="#4D4D4D">4000</text>
<text class="l" x="1376.5" y="1072" font-size="19" text-anchor="middle">x</text>
<text class="l" x="1147.8" y="851" font-size="19" text-anchor="middle" transform="rotate(-90 1147.8 851)">y</text>
<text class="l" x="1285" y="660.7" font-size="26" textLength="159" lengthAdjust="spacingAndGlyphs">Primary HCC</text>
<path d="M1296 695l-3-5-1 5-2-1-6-1-3 2-5 4 4 3 10-1 3 0 8 0-11 6-5 0-1-5-7 4-4-3-2 2-3 3 0 2 5 2 5-2 5 3 1 1 0-4 1 3 7-1 0 2 4-3 1-1" fill="none" marker-start="url(#mo)" marker-mid="url(#mo)" marker-end="url(#mo)"/><path d="M1314 689l10 0 17-1 7 1 11-1 32 1 3-1 41 2 23-1 14 7-2-1-1 0-5-3-1 3 0 1-3-1 0-2-1 3-3-1-1 0-1-2-2 3 0-1-2 0 0-4-5 3 0 2-7-5-3 5-2-2-6-2-3 0-5 2-7-1-1 1-5-1-7 0-3 2-2-2-3-2-1 4-3-5-2 1-4 4-5 0-10-4 0-1-3 3-3 2 0 0-6-3-3 0-1 4-5-1-1-2-8 0-2 2-1-3-3-2-3 3-4-3-7 1-2 2 0 2-4-1-8 0-3 0-22 6 7-2 21-1 2 4 0-4 4 3 5-3 4 4 0-3 3 2 4 2 3-4 1 2 3 1 7-3 1 1 2 1 9-4 2 5 7-3 3 3 2-3 2 3 2-5 4 6 4-4 1 2 2 1 1 0 0-4 2 3 0-3 3 5 1-1 2-1 0 1 2 1 2-2 0 0 3-1 1-3 0 5 2-1 0 0 2 1 1-1 1 1 1-2 1 0 1 0 2 0 1 0 0 2 3 1 1-5 1 2 0 2 1 1 1-3 1 2 2-3 0-2 0 5 2-2 0 0 2 2 0-2 3-1 0-1 1 5 1-3 1 2 0 0 0-4 1 1 1 2 2-2 1-1 0 4 0 0 2-2 2-2 0 4 0 1 1-3 0 0 2 1 0-4 2 3 2-2 1 3 1-4 3 6 0-2 1-2 3 3 0-1 2-3 0 4 1-3 4 2 1-4 0 4 2 0 0 1 2-4 0 3 3 2 1-2 2 0 3 0 3-2 2 4 4 4-1 1-5-1-2 1-1-4-2 0-1 3-1 1-1-4 0 1-1 0 0 4-1-2-2-3-1 2-2-1-1 4-2-2-1-4 0 0 0 3-2 0-1 0-1-2-2 2-1 1 0-4 0 4-2-1-1 1-1-4-1 2 0 1-3-1 0-1 0 1-3 3 0-3-1-1-1 4-1-1 0-1-1 0-1 1-2-3-1 1 0-1 0 4-1 0-1-1-1 0-2-2-3-1 0 4-2-3 0 2-1-1-1-2-2 5-1-5-3 4 0-3-1 1-1-1-4 0 0-1 0 1-1 0-1-1-1 2-3-2-1 4-2-3 0 3-1-3-1 2 0-3-1 1-1 2-1-2-1 2 0-4-1 5 0-1-4 1 0-3-2 2 0-1-1-3 0 4-1 2 0-1-3 1 0-3-1-1-1 3 0-3-1-2-3 0 0 2-1-1 0-1-1 4-1 0-3 0 0-4-1 6 0-1-1-2 0 0 0-3-2 5 0-1-1-4-2 6-1-6 0 2-2-2-1 4 0 1-1-4 0 4-1-5-1 3 0-1-1 1-2-2 0 5-1-2-1 0-1-2 0-1-3 0-2 4 0-3-1 3-2-2 0-2-2 2-1 3-2-3-2-2-2 1-2 0 0 3-2-3-1 3-1-1-1 0-2-1-3 0-1 1-3-1-2 1 0 0-2 2 0-1-6-1-1-1-3 3 0-1-2-4-3 5-5-4-12 0-23 10 33-1 0 0 4 0 3-3 0 4 1-3 0 1 1 0 0-1 3-1 1 2 0-1 1 0 2-2 2 2 1-3 0 5 0-2 1 2 1-3" fill="none" marker-start="url(#mg)" marker-mid="url(#mg)" marker-end="url(#mg)"/><path d="M1290 716l-2-2-4 2" fill="none" marker-start="url(#mo)" marker-mid="url(#mo)" marker-end="url(#mo)"/><path d="M1317 709l1 2 1-1 0-2 1 5 1-5 0 5 2 0 0-4 2 4 1-3 0-1 2 2 0-1 1 2 0 1 1 0 1-2 1-3 1 6 2-4 1-1 0-1 0 2 0-1 1 3 1-4 0 0 2 4 0 1 2-4 0 2 1-1 1 2 1-1 1 2 3-3 1 2 1-4 0 1 2 1 1-2 0 4 2 1 0-4 0 1 2 1 1 0 1 1 0 1 2-4 2 3 1-2 1 0 1 4 2-5 0 2 1 3 0-5 3 2 0 1 1 2 0-5 0 2 0 1 2-4 0 2 1-2 1 5 0-3 2 2 0-1 1 1 3-2 0 3 2-2 1 2 1-3 0 3 1-3 1 1 2-2 0 1 3 0 1 1 2 1 1-2 0 1 0-1 1 3 4 0 0-2 1-2 0 2 2 3 0-4 1 3 1-4 0 2 2-1 0-1 1 3 1 0 0-4 1 4 0-1 0-3 1 0 1 3 1-2 3 4 1-4 0 1 1 1 1-1 1 3 0-5 1 3 1 1 1-3 1 0 1-1 0 2 1 2 0-2 2 1 0 2 1-1 2-2 2 0 1 4 1-4 1 0 0 4 3-5 0 2 1 3 1-5 1 0 0 3 0-3 2 1 0-1 0 0 1 3 1-2 1-2 1 5 1-4 0 5 0-6 3 6 0-3 1 1 0 0 1-4 1 0 1 1 0 5 0-2 2 1 1 0 1-3 0 2 1-4 1 3 1-3 1 4 1-2 0-1 1 4 2-4 2 0 1 1 1 2 0-4 0 4 1-4 2 1 1 3 0 1 1-1 1-3 0 0 2 5 0-2 1-2 3 3 1 0 1-1 6 7 0-4-2 0-1 4-2 0-2-2-1 1-1-1-3 3 0-4-1 2-1 1-1-4-1 0-3 3 0 1 0-2 0 0-1 2-1-5 0 0-1 6-1-4-2 4-1-2 0-3-3 1 0 3-1 0 0-2-3-2-1-1-1 5-1-4-3 4 0-4-2 4 0-3-3-1 0 4-3-4 0 4-2-3 0-1 0 4-3-2-1 3-1-4-1-1-3 3-1-3 0 2-2-2-1-1-1 5 0 1 0-3-1 2-2-3 0 1-3-1-1 3-3-4 0 1 0 2-1-1-3 2-1-3 0 4-1 0 0-6-1 2 0 1 0 3-2-3-1 0-1 2-2-3-1-1 0 3-1 2-1-3-2-1-2-1-1 3 0 2-2-5-3 2 0 2-1-2 0 2 0-2 0 1-2-4-1 0 0 1 0 3-1-3-1 3-1-1-1 1-3 0 0-2-1 1 0-1-1 3 0 0-1 0-1-3-1-1-1 4-2-3-1 3 0-2-1 2-2-3 0 1 0 1-3 2-1-6 0 5-1-4-1 0-2 2-1-2-1-1-1 4 0-2-2 0 0 3-1-2 0-1-3 1 0-2-1 4-1-5-2 2 0 3-2-1-1-3-1-1 0 2 0-1-2-1 0 6-1-5-2 4-2-4 0 3-1-4 0 5-1 0-1-3-1 1-3 1 0-2-1 1 0 0-1 3-2-2-1 1-1-3 0 1-4 3 0-4 0 1-2 1 0-1-1 1-1-3-1 3-1 0-1-4-2 1-1 4 0-1-1-3 0 0-2 2-1 3-1-1-1-5-1 1-1 3 0 0 0-3-1 0-1 0-3 0-1 4-1-1 0-3-3 0-1 4 0-1-3-1 0 2-1 1-1-4-2 0 0 3-3 1 0-4" fill="none" marker-start="url(#mg)" marker-mid="url(#mg)" marker-end="url(#mg)"/><path d="M1284 718l-2 1-1-2 0 2-2-2-1 2-1 1 0-3-2-1 0 2-2-4-3 6-2-5-1 4-9-5-10 9 7-1 13 3 2 0 4-3 0 2 2 1 1-4 0 2 2-2 2 2 2-3" fill="none" marker-start="url(#mo)" marker-mid="url(#mo)" marker-end="url(#mo)"/><path d="M1272 720l-10-2-5 1 10 7 2-2 2 0 9 1 1-2 2 1 2 1 2-3 1 1 1-1 0-1 0 2 2 0 0 1 1-1 1 0 1 0 1 2 1-3 1 4 1-1 2-3 1-1 0 3 0 1 2-1 1-4 0 6 1-6 0 6 0-3 1-3 2 2 1 3 1-2 0 2 0-4 2 4 1-1 1-4 0 1 2 1 1 0 0 3 2 0 1-3 0 0 3-1 1 2 1-3 0 3 2 0 2-3 0 3 0-3 0 1 1 2 2-1 0 4 0-1 1-4 2 1 0 1 1-1 1 3 1 0 2-1 0-3 1 4 1-2 2-1 1 4 0-2 1-4 1 3 0 3 2-4 0-2 1 4 0-3 1 3 2-3 0 1 1 1 0 3 1-3 0 0 1 1 1-1 2-2 0 1 0 3 1 0 1-4 1 1 2 2 2-2 1 3 0-4 1 3 2-3 0 4 2-4 0 5 1-1 1 0 0-3 1 1 1-1 0 3 1-2 1-3 0 6 3-4 0 2 3-2 0 1 2-3 0 4 0-1 1 3 1-1 2-2 1 3 1-6 1 4 1 0 0 1 1-3 2 2 1-3 0 4 1-5 1 1 1 5 2-4 0 2 1-1 0 0 1 3 2-5 0 4 1-2 1-1 0 3 1-4 2 2 0-2 3-1 0 0 1 5 0-2 0-1 1 1 2 2 0-3 1 3 1-4 1 3 1 0 1-4 3 3 0 2 0-4 1 3 1-3 1 0 0-1 0 6 1-2 1-1 0-2 2 4 1-3 0 4 1-4 0 3 1-2 2-3 0 6 2-4 0 3 0-4 1 3 2-2 1 2 0-3 1 3 2-1 1-2 1 5 0-2 0 0 1-3 0 1 2 4 2-6 0 3 1 0 2-1 0 3 0-3 1 3 0-1 0-4 1 0 2 4 0-2 3 0 0 2 0-3 1 5 1-3 1-2 1 4 0-2 1 3 1-3 0-3 1 0 2 5 1-3 1 4 0-2 0-2 1 2 0-1 1-3 1 2 1 3 1-5 1 5 0-1 2-2 2 4 1 0 0-4 1-1 1 4 2 1 1-4 0-1 0 5 1-5 3 2 1 1 0 1 1-2 1 2 10 5-2-3-1 5-2-1-1 1 0-4 0-1-2 3 0-2-1-1 0 3-2 2-1-4-1 2 0-3-1 0-1 5-2-2 0-1 0-3-1 2 0 2-3-2-1 3 0-1-1-4-1 0 0 3-1 2 0-2-1 2 0-4-2 5-1-5-1 2 0 0-4 0 0 2-3-4-1 3-1 2-1-3-1-1-1 4-2-1-2 0-1-2 0-2-3 3 0 0 0-3-1 0-1 2 0 0-1-2-2 2-1 1-1-2-3 3 0 0-1-2-1 1-1 1-1-4-2-1 0 4-1 0-2-4-1 3 0 2-2 1 0-5-1 3-1 0-3-2-1 1 0 0-2 1-1 0-2 2-1-4 0 3-2 1-1-4 0 1-1 0 0-3-1 5-1-2 0-2-2 4-3-2 0-1-1 2 0-3-2 3 0 0-1 0-2-2-3 1 0-3 0 6-1-2-2 0 0-3-1 1-1 4-1-1 0-4 0 2-5 2 0-3 0 1-1-3-1 6-1-3" fill="none" marker-start="url(#mg)" marker-mid="url(#mg)" marker-end="url(#mg)"/><path d="M1271 722l0 0" fill="none" marker-start="url(#mo)" marker-mid="url(#mo)" marker-end="url(#mo)"/><path d="M1277 726l-10 1-1 3-1 0-2 0-1 1-1-4 0 1-1 1-4-3-2 4-1-4-7 5-5-1-3 4 11-1 7 2 5-3 3 2 7 0 3 0 1 4 2-4 3 0 4 0 2 1 3 1 1 2 1-2 4 0 3 0 3 1 2 0" fill="none" marker-start="url(#mo)" marker-mid="url(#mo)" marker-end="url(#mo)"/><path d="M1391 730l-1-2-1-1-1 1-2 3 0 1-2-6 0 4-2-3 0 0 0 2-1 3-1-3-3 0-1-1-1 3 0-3 0-1-3 3-3-1 0-1 0 2-1-2-1 2-2-2 0 3-1-4-2 3 0-4-1 5-1-4 0 3-1-2-1 2-3-3 0 3 0-3-3 2-1-2 0 2-1 1-1-1-2-3-1 2-3 3-1-3-1 2-1-2 0 1-1-1 0 3-2 0-1 0-1-3 0 0-2-1 0 3-2 0-1 1 0-3-1-1-1 1-1 1-3 1 0-4 0 3-1-3-1 1-1 3 0-3-1 2-2 2 0-2-1-2 0 5-3-3 0 3 0-5-2 4 0-4-1 1-3 0-1-1 0 2-1 2-1-1-1-3 0 3-3 0 0-2-2 3-1-1-2 2-1-5 0 0-1 4-1-2-2-1 0 0-1 4-2-1-1-3-2 0 0 3-1-1 0 0-1-3-2 4 0-4-1 3-2 1-1-4-1 0 0 4-2 1-1-4-1-1 0 3-2-4-2 3-21-2 8 10 2 0 1-3 0 2 2 1 1 1 1-3 1 3 0-2 3-2 1 0 0-2 2 5 1-2 0-1 1 2 0 2 1-6 3 3 2 0 3-2 1 1 1-2 3 3 1-1 0 4 2-6 2 5 1-3 2 0 4 0 2-2 2 1 0 2 1 1 1-2 0 0 2 4 0-2 1-3 2 1 0 1 1 1 3 1 0-3 1 2 1 1 0-1 1 0 1-2 1 2 2 1 1-5 0 3 1 1 1-1 2-2 2 0 0 1 0 2 3-2 0 2 1 0 0-2 2 2 1-2 2 3 1 0 1-1 1 1 2-1 0 1 1-5 0 3 3-1 2 3 1-4 0 2 1-2 1 1 2 3 0-3 1 2 0-2 2 1 1 0 0-3 1 5 1-1 1-3 2 2 0 2 1-1 1 0 0 0 1 2 2-5 0 4 1 1 2-5 0 0 0 3 1 0 0-2 0 2 2 1 1-2 2-1 0 2 1-3 2 1 1-2 1 3 0 1 0 1 3-5 1 5 1-5 0 4 2 0 1 0 1-1 1 3 0-6 1 3 2 1 0 0 0 2 1-1 2-1 0-1 1 3 0-6 1 5 0 1 1-5 0 0 3 2 1 0 3 1 0 1 1 0 1-4 0 1 1-1 1 0 1 1 1-1 1 4 0-3 1 2 0-2 2 1 2 2 1 0 0-4 1 5 1-5 2 3 0-2 0 3 1-2 2 3 0-3 2-1 1-2 2 2 0 0 1-2 0 0 2 3 2-1 2 1 0 2 0-3 2-2 0 4 2 2 1-4 1 3 1-2 0 2 1 0 2-1 0 1 0-4 1 3 2-2 1-1 0 0 1 4 1-4 2 0 0 2 1 2 0-3 1 4 0 0 1-6 0 5 1-4 3 2 0 3 1-5 1 2 0-3 0 3 2 2 1-5 2 4 0 2 1-3 1 3 2-2 0-3 1 4 1-5 2 4 0 1 0-3 1-1 0 1 0-1 1 5 0 0 2-3 1 3 2-4 1 0 2 2 2 0 0-1 2-1 0 4 2 0 0-2 1-2 1-1 1 2 2-1 1-2" fill="none" marker-start="url(#mg)" marker-mid="url(#mg)" marker-end="url(#mg)"/><path d="M1286 738l0 0" fill="none" marker-start="url(#mo)" marker-mid="url(#mo)" marker-end="url(#mo)"/><path d="M1313 741l-1 0-1-1-3 2-1 2-2-4-2 3 0-1-1 0-2-2-1 2-1-3-3 2-1 3-1-6 0 3-1 3-4-2-1-1-1 0-2-2-2 3-2-3-1 2-2-1-2 1-1 0-3-3-16 1-2 2 0-2-1 3-1-3-1 4 0-1-1 0 0-2-2 2-6-2-11 6 4 0 2-1 2 0 3 3 1-1 34-1 0-2 1 4 1-1 3 1 0 2 3-5 2 2 2 1 0-1 2-3 0 1 0 3 4-3 3 1 2 2 4 1 3 0 1 1 0-4 0 2 2 1 2 0 1-3 0 3" fill="none" marker-start="url(#mo)" marker-mid="url(#mo)" marker-end="url(#mo)"/><path d="M1501 737l0-4 3 3 1-2 2 0 0 2 2 1 1-1 0-1 4 2 1 5 0-3-1 0-2 2-1-1-1-1-1 5-2-3-1-3 0 2-1 2-1-3-1 0 0 4-1-5 0 5-1-1-3-2 0-1-1 2 0-3-1 5 0-4-1 3-2 1 0-3-1 1 0 0-2-1 0 4-2-6 0 5 0-5-1 4-1-4-2 2-1 2-1-2 0-1-1 4-2-1 0 1-2 1-1-3-2-1-1 3 0-3-2 2-1 1 0-1-2 2 0-4-1 1-1 2-2-5 0 4-2 2 0-3-3 2 0-1 0-2 0 2-2 1-1-2-1 3-2-2 0-4-1 0-1 4-1-3 0 2-1 1-1 1-1-1 0 1-1-5-1 3-1 1-1 1-3-3 0 3-1-1 0-3-1 0-1 1-1 4-2-5 0 3-1 0-1 1-1-2 0-2-1-1-1 3 0 3-1-3-1-3 0 2-2 3 0-5 0 3 0 1-3 1-1-1-2-4-2 4 0 1-1-4-1 1-1 2-1 2 0-5-1 1-1-1-2 3-1-3 0 5 0 0-2-4-3-1-1 3-1 1-1-4 0 2 0 1-1-3-1 3 0-3-1 4-1-1 0 1-1 1-3-1 0 0-1-3-1 2-3 1 0-5-1 4-1-2 0 4-1-6-1 6-1-1-1-4-1 0 0 2-2 1-1-4-1 4-1-3-2 0-1 2-1 0-1-1 0 0-1 2-1 0 0 1-3-3-1 2 0 2-1-2-3-2-1 2 0 1-2-4-1 3-3-3 0 0 0 1-1 1 0-1-3 2 0-2 0 2-1-3 0 5-3-4-1 1 0-2-1-1 0 4 0-3-1 2 0 2-2 1 0-5-1 1-3 2-2-1 0 3 0-1-1-5-2 5 0-4 0 1-1 2 0-1-2-2-1 2 0 3-1-3 0 3-1-5-3 0 0 3 0-3 0 4-1-3 0 1-1-3-1 5-1-4-1 5-1-4-2 2 0 1-3 1-3-5-1 2-1 1-7-3 0 5-1-3 0 2-6-5-1 1-7 2-5 0-1-2-2 4-3-2-1 3-1-1 0-4-1 2-1 2-3-1-1-3-1 2-1 1-2 0 0 1-1-3-1-2-1 2-4 1-19-1 5 9 3-3 2 4 0 0 1-1 1-2 1 0 2-1 2 4 0-5 0 2 3-1 0-2 1 0 0 5 0-4 1 1 0 1 1-2 1 3 1 0 2-3 1 0 1 4 1-3 1-2 0 3 0-1 1 3 1-5 1 3 1 2 1-3 1 4 0-2 2-3 0 5 7-6 2 2 2-1 1 1 7 0 2 4 4-2 4-1 3-2 2 3 6-1 3 1 2-4 1 4 0-2 1 0 1 2 1 0 3-1 0 3 0-4 2-2 0 2 1 4 1-1 1-3" fill="none" marker-start="url(#mg)" marker-mid="url(#mg)" marker-end="url(#mg)"/><path d="M1242 745l38 2 18 0" fill="none" marker-start="url(#mo)" marker-mid="url(#mo)" marker-end="url(#mo)"/><path d="M1525 753l-4-2-5 2" fill="none" marker-start="url(#mo)" marker-mid="url(#mo)" marker-end="url(#mo)"/><path d="M1331 749l2-2 1 1 1 2 1-4 0-1 3 2 4-1 0 3 1-4 0 3 1-3 1 1 0 0 0 1 1 3 1-3 2-3 0 2 2-1 1 4 1-3 1 4 1-1 0-1 0-3 2 5 1 0 0-3 1-3 1 5 1-2 1 0 1 0 3 1 2-1 0-2 0 4 2 1 1-3 1-2 1 5 1-3 1 2 0-3 1-1 0-1 1 4 0-3 2 3 1 2 1-5 0 1 1-1 3 4 0-2 3 1 1 1 0-4 1 4 3-3 2 3 0-1 1 0 1 0 1-2 0 0 1 3 1-2 2 0 1 2 0-1 1-4 1 1 0 4 1-3 1-1 1 4 1-1 1-1 0 1 2-4 0 6 0-1 1-1 2-3 1-1 1 2 1 1 1 0 0-2 1 4 1-5 0 5 2-2 0-1 2 3 0-3 2 3 1-2 0-1 1 1 1 3 2 0 1-5 1 2 0 1 1 2 0-2 1 1 3 1 0 0 1-5 1 1 3 1 1 3 2-1 1-3 0 3 1-4 0 4 2-3 2 0 1 2 3-2 0-1 0 4 1-3 2 2 2 1 0-4 1-1 0 3 2-1 1 0 2 2 0-1 1 1 0-1 3-1 0 3 0-2 1-2 1 2 2 2 1-2 1-2 1 1 1 3 1-3 2 2 0 1 2-4 1 0 0 4 1-2 1-2 2 5 2 0 1-1 0-2 3-1 1 0 1 4 0-6 1 2 0 2 1-1 3-2 0 1 2 1 0-3 2 2 1 0 0 0 2-1 2 0 0 2 1-1 0 2 1-3 3-1 4 5 0 6-4 1-3 0-1-2-1-2-2 2-1-4-1 4 0-2-1 0-2-1 0 0 0 3-1-3-1 3-1-1 0 3-1-4 0-1-2 0-1-1 0 4 0 1-1-3-2-2 0 6-1-4-1 1-2 2-3-3 0-2 0 4-2 0-1-1-2 1 0-1-1 3-1-6-1 3 0 2-1-4 0 0-1-1-1 4-1 1-1-2-1 0-2 0-1 3-1-4-1 2 0 1-2-3-1 3-2-4 0-1-1 4 0-1-1 1-2-3 0 0-1 4-1-2 0 0-2 2-1-4-1 3 0-1-2-2 0 5-1-1 0 0-2-3 0 1-1 1 0-1-1-3-1 6-2-1 0-3 0 2-1-3 0 5-1-4-1 4-2-2 0 0-1-1 0-1-1 3-1-3-2 1-2 1-1 1 0-2 0 1-4-2-1 2 0-3 0 0 0 3-2 0-1-2-3 3 0-1 0 2-1-1-1-2 0-1-1-1-2 3 0-2-1 2 0-3-1 5-2-5-2 3-1 1 0-3-1 2 0 0-1-3-1 1-1 0-4 1 0-1-1 2-1 2 0-4-1 2-2-2-1 0-1 3-1-3 0-2-1 5-1-1-1 0-2-1-1 1 0 2-2-5-1 4 0-4-3-1-1 2 0 4-2-4 0-2 0 2-1 2-1 0 0-2-2-1 0 0-2 4-1-1-1 0-1-2-2 4 0-4 0-2 0 1-2 4-1-5 0 0 0 2-1 2-2 0-1-2 0 3-1-5-1 6-2-2 0-3-1 2-1 2-2-3-1 3 0-3-2-1 0 0 0 4-1-2 0 3-2-2 0 1-1-4-3 4-1-2-2-3-1 2 0 3 0-3-1 3 0-5 0 3-3-2 0 1-1 2-2-1-1-1-1 4-2-3-1-2-2 1-2 0-2-1-1 1" fill="none" marker-start="url(#mg)" marker-mid="url(#mg)" marker-end="url(#mg)"/><path d="M1529 755l0 0" fill="none" marker-start="url(#mo)" marker-mid="url(#mo)" marker-end="url(#mo)"/><path d="M1311 754l-1 0-1 0-2-1-3-2-2 3-1-1-2-2-4 4-1-3-1-1-1-1-1 0-3 4-1 1-2-2-3 3-1-5-1 4-4-1 0 1 0-1-1-1-37 0 0-3 0 2-1-1 0 0-2 3-3 2-3-4-3 0-2 10 4-2 1-2 2 3 0-3 0 0 1 4 2-5 43 0 7 4 1-3 4 3 1-2 6 1 1-1 1 2 1-5 1 5 0-2 3 1 2-4 1 3 1-1 2 0 2-1 0 4 205 1 17-1 3-2" fill="none" marker-start="url(#mo)" marker-mid="url(#mo)" marker-end="url(#mo)"/><path d="M1318 755l-1-4 0 1-1 4 0-5-1 5 0-3-1-2-1 0-1 4 0-3-6 2-8-2 0-1-6 4-2-5-1 5-2-2 0 2-2-5-2 2-1-1 0 0-5-1-1 3-4 0 0-1 0 2-2-1-1 2-1-2-1 1-1-1-1-2-2 3 0-1 0 2-1 1-2-5-2 0 0 3 0-3-2 1-1 4-3-3 0 1 0-4-2 3 0-2 0-1-1 5-1-2-2 2-1 0 0-2-2 2-1-1 0-2-2 2 0 1-3 1 0-2-9 5 3 1 0-4 4 3 1 2 0 0 3 0 0-4 1 4 2-4 2 5 0-4 2 0 0 3 1 0 1-1 0 0 1-1 1-3 2 3 0 1 1-2 0-2 1 2 1 3 2-2 1-2 2 3 0-3 1 5 0-6 0 5 3-3 0 2 2 2 1-3 1 2 2-5 0 3 1 2 0-5 1 3 2 2 1-2 0-1 1 3 1 1 2-5 1 0 1 4 3-3 3 3 0-1 3-2 1 4 1-5 1 4 1-3 2 1 0-3 2 4 8 0 2 1 1-4 5 0 0 3 1 1 1-4 0 3 1 0 3 1 1 1 1-3 2 2 1-2 1 2 1 0 1-4 1 5 0-6 1 0 0 5 2-4 0 5 0-3 3-2 1 3 1-1 1-3 1 5 1-2 0 1 1-2 1 0 1 4 0-5 1 0 1 3 1 0 1-3 1 3 3 0 0-2 1 2 0-3 1 3 1-2 2 3 1-3 1 4 2-5 0 4 2-3 1 1 0 3 1-3 0-2 4 1 0 2 0-3 1 0 0 3 2 0 1-4 0 3 1 0 3 0 0-2 1-1 1 4 0-2 0 4 2-6 2 1 0 4 1-3 2 2 0 1 2-2 0 0 1 2 1-2 2-3 0 5 0-1 2-2 1 4 1-5 0 2 2-1 2 2 1-3 1 4 2-3 0 2 0 0 2-2 0-2 0 2 1 1 3-1 1 3 1-3 1 1 0-3 1 5 1-4 0 4 3-1 0-2 2 2 0 0 2-2 2 4 1-4 0 2 3-3 0 4 1-4 1 2 1 2 0 1 1 0 1-3 0-1 1 4 1-3 2-2 2 1 0 2 0 0 1-3 1 4 4-1 0-1 2 1 0-3 2 5 1-3 3 1 0-1 1 1 0-1 0 3 2 0 0-5 3 1 1 4 0-5 3 3 0-2 1 0 1-1 0 2 1 1 2 2 1-3 0-2 3 0 0 3 1 1 2-1 0 0 0-2 2 3 1-4 0 3 2-1 3-1 1 3 0-3 1 1 1 1 3-1 0 2 1-3 0-2 1 1 0 3 1 0 1-1 0 3 1-4 1-2 2 5 0-4 1 1 1 3 2-1 1-2 1 4 0-5 2 2 1 1 1-3 1 0 1 5 2-2 0-2 1 2 1 1 0-4 0-1 0 3 3 3 0-4 22 3" fill="none" marker-start="url(#mg)" marker-mid="url(#mg)" marker-end="url(#mg)"/><path d="M1306 751l-13 0-71 1 59 7 23 0 0-3" fill="none" marker-start="url(#mo)" marker-mid="url(#mo)" marker-end="url(#mo)"/><path d="M1533 765l-13-2-209-1-82 1-2 1-1 3-2-4-1 4-2-4-2 4-1-1-1 4 3 2 2-2 0 3 1-2 0-2 1 2 1-3 2 2" fill="none" marker-start="url(#mo)" marker-mid="url(#mo)" marker-end="url(#mo)"/><path d="M1537 765l-6-1-12 2-3-1-1-1 0 2-1 1-2-4-1 3-1-4-3 2-1 2-1-4-1 1 0 1 0 2-2 0 0-2-1 2-2 1-1-2-1-3-1 0-1 3-1-2 0-1-2 4 0 0-2 0-1-3-1 4 0-4-2 5-1-5 0 5-1-3-1 0-1-3 0 6 0-4-3 0-1-2 0 4 0 0-1 1 0-3-3 0 0 2-1 2-1-5-2 4-1-2-2 2 0-3-1 0-1-2 0 3-1 1-1-3-1 3-2-1-1-1 0 1 0-1-3 1 0 2 0-3-1 1-2 1 0-2-1 3-1-4-2 2-1 0 0 1 0-3-2 1-2 3-1-2-2-1 0 4 0 0 0-3-2 3-1-4-1 1 0 3-1-5-1 1-1 2-1 2-1 0 0-4 0 4-3-1 0-3-2-2 0 3-1 0-2 2-1-5 0 3-2 1 0-4-3 3 0-1-1 3-1-3-1-2 0 4-2 1-1-2 0-2-1 5-1-3 0-1-3 3-1-3-1 1-1 0 0-1-2 0 0 1-1 0-1-3-1 5-1-3-1 2-1-2-1 2 0-4-1 6-2-3 0-1-1 0-1-1-1 3-2-1 0 1-2-2 0 0 0 4-2-3-1-3-1 1-1 1 0 1-2 1-1-4-1 4 0-2 0 3-1 1-2-1-1-4-1 4 0-5-2 2 0 3-2 0 0 1-1-1 0-4-1 2-1 2-1-1-1-2 0 1-1 3-1-3-1-1-1 1 0-2-3 3 0-3-1 0-1 4 0 0-2-1-2-3 0 1-1 2 0-3 0 0-1 4-3-5-1 4-1-3 0 2-1 3 0-3-1 1 0-2-3 0-1 3 0-3-2 1-1 2 0-1-1 0-1-3 0 1-2 2-1-2-1 3-1-3-2 3-1 0 0-2-1-1-3 3-1-3-3-1 0 4 0 0-1 0-1 1 0-4-2 3-1-1-2 2 0-6-1 6-1-4-1 2-1-3-1 0-1 4 0-3-3 1 0 2 0-3-1-1-1 3-2-4 0 4-4 1 0-4-1 4-1 1 0-5-1 0-1 3-2-2 0 2-2 0 0 1 0-2-3 3-1-5 0 3-1-4-1 4 0 2-2-1-1-4-1 3-1-3-1 0-1 3-1-4 0 4-1-1-1-3-1 2-1 1 0-3-1 3-2 3 0-2 0-2-2-1-2 1-1 2-1 0 0 0 0-4-1 2-2 0-2 3-2-2 0-2-1-1-1 4 0 0-2 1-1-1-1-1-2 1 0-1-1 2-2-4 0 1-1 3 0-2-1-2-2 3-1-3-2 2-1 2-4 0-5-1-5 5 0 0 1 2 2 0 7-2 3-1 0 2 1-3 2 1 1 2 1-4 1 2 0 1 2-1 1 3 1-2 1-1 1 2 1 2 1-2 2-3 0 3 2-1 0-3 1 1 2 3 1-1 0 0 1-3 1 4 2-3 1 2 2 2 1-1 0 0 0-2 3 1 0 2 2-3 0 2 1-3 0 0 2 3 0 1 2 1 1-6 0 4 0-1 1 0 0-2 4 1 0 0 1 0 2-2 0 4 3-1 2-1 0 0 1 1 1 2 2-5 1 5 0-2 0-3 3 1 0 4 0-4 2 2 1 2 1-5 0 0 1 5 3-5" fill="none" marker-start="url(#mg)" marker-mid="url(#mg)" marker-end="url(#mg)"/><path d="M1220 770l0 0" fill="none" marker-start="url(#mo)" marker-mid="url(#mo)" marker-end="url(#mo)"/><path d="M1535 772l2-3-20 11" fill="none" marker-start="url(#mo)" marker-mid="url(#mo)" marker-end="url(#mo)"/><path d="M1299 770l0 4 1-6 0 5 3-1 0 2 0-4 0 3 1 1 1-1 0-4 2 0 1 3 2-4 1 6 1-1 1-2 1-1 0 2 2-2 1 4 0-3 2 1 0-2 0 3 1-4 1 5 0-5 1 1 1 3 1 1 0-4 1-1 1 2 1-1 1 3 2-1 1-3 1 4 2-2 0 2 0-3 1 1 2 0 0-1 1-2 0 5 4-3 0 3 2-5 1 4 1-3 2 5 0-2 1-2 0 0 2 2 1-2 0 3 1 1 0-5 1 5 1-1 1-1 1-3 1 1 0 3 2-1 0-3 1 3 2-2 0 0 1 2 3 1 1-1 1 1 0-1 0 1 2-4 1 3 1 0 0 2 1-5 1 4 0-3 3-1 2 4 1 0 1-3 0 4 2-1 0-2 2-1 2 2 1 0 1-4 1 3 0 1 2-4 1 1 0 3 3 0 1-2 1-1 1-1 1 4 3 0 0 2 1-6 0 2 2 2 0 1 0-3 1 2 0-3 3 4 2-3 0 1 1 1 2-3 0 0 0 4 1-4 1 2 2 0 1-3 1 5 2 0 0-4 2 2 0-2 1 3 0 1 2-1 0-3 3 2 1 2 1-4 1 5 0-5 3 4 0-2 0 3 1-4 2 2 0 0 1-2 2 2 2-1 1-2 0 3 3-1 0-1 0-1 1 4 0-5 1 0 2 1 0 3 1 0 1 1 1-4 1 2 1-3 0 6 2-1 0-2 1 1 0-3 2 5 1-3 1-2 1 0 1-1 0 2 1 1 3 1 0-4 0 5 1-2 2-2 1 5 0-4 1 3 0 0 2-2 0 0 1 3 0-5 1 0 0 4 0 0 4-3 1-2 1 4 1-3 2 4 0-4 1 2 1 1 1-2 1 0 0 4 1-5 2 4 0-3 1 1 2-1 1-1 1 4 1 0 0 1 1-2 1-4 0 3 2-1 1 1 1-3 0 4 2-4 0 6 2-5 0 2 1-2 1 3 0-3 0 2 5 0 12 2 6 4 0 2-2 0-5-1-9-3-8 0 0 2 0-3-1 4-1 1-1-3-1 2-1-3 0 5 0-1-1-4-2 3 0-3 0 5-1-1-1-5-3 3 0-2 0 4-2-2 0 3-1-4-1 4-1-6 0 0-1 2-1 2-1 1 0-5-2 1-1 3-2 0-1 1-1-3 0-1-1 1-2-2-1 5-1-2-1-1 0 0-2 3 0 0 0 0-1-3 0-1-1 2-1-1 0 3 0-4 0 4-1-1 0 0 0-2-1 0-1 0-1 3 0 0 0-3 0-1 0 5-2-4-1 2 0-1 0-1-1 2-1-4-1 1-1 4-1-2 0-3-2 4 0-1 0 1-2 0 0 2-2-4 0 3 0-3 0-1-1 0-2 2 0 2-1-4 0 5-1-4 0 3 0-1-2-3-1 2 0 3-1-4 0 0 0-1-1 2 0 1-1 2 0-5-2 2 0 1-1-2 0 0-1 2 0-1-3-1 0 1-2 2 0 0-2-2 0 1-1 1-1 1-1-1-1 0 0-5 0 4-1 1-2 1 0-3 0-2-1 0-1 4-1-3-1 2 0 0-1-2-1 4 0-6 0 6-2-1 0-4-3 3 0-1-1 2-1-1 0-2 0-2-1 4-3-2 0 1-1 1 0-4-1 1-3 2 0-3-2 5-1 0-1-4-1 1-1 3 0-1-2 0-1-3-2 4 0-2 0 2 0-1 0-4" fill="none" marker-start="url(#mg)" marker-mid="url(#mg)" marker-end="url(#mg)"/><path d="M1224 776l-2 1 0 1 0-4-3 2" fill="none" marker-start="url(#mo)" marker-mid="url(#mo)" marker-end="url(#mo)"/><path d="M1392 775l0-1 0 2-1-2-1 4-2-2 0 3-2-3-1 2-1-1 0-2-2 0 0 4-1-3-2 0-1 1-1-2 0 4 0-1-1 1 0-3-3 1-1 3 0-4-3 1-1 2-2-4 0 2-1-1 0 3-1-3-1 3-1-3-1 2-2 1-1-2-2 2 0-4-1 1-1 3-3-3-1 4 0-2-1-1-1 2-2-5 0 1 0 4-1-2 0-1-2 3 0-4-1 0-1 1-1 4 0-2-2-2 0 3-1-3-1-1-2 3 0 2-3-5-1 3-1 1-1-4 0 3-1-2-1 0-1 2-2-3-1 3-1 2-2-3-2 1-2-2-1 2 0 2-1-5-1 4-1-1-2 1-1-5 0 4-2-3 0 2-1 3-1-4-2 2-1-1-2 2-1 0-1 0 0-3 0-1 0 1-1 2 0-3 0 5-1-1-1-1-1-3 0 3-1-2-1 3-1-1-2-2-2 2 0 1-1-5-1 5 0-5-2 2 0 0-1-2 0 1-1 4 0-1-2-4-1 5-1-1-1 0 0-1-1-2-2 2 0 1-1-3 0 4-2 0-1 0-1-5 0 2-1 3-1-4-2 3-1 2 0-5 0 2-1 2-3-3-1 2-1 0-1-3-1 0-1 2-1-1 0 3-1-3-2 1-1 1-1-1-1-2-1 3-2-3 0 2-1 1-1 1-1-4-1 3 0 1-1-5-1 1 0 4-1-5 0 3 0-3-2 0-1 3-1 3-1-2 0-4-1 3-2 0-1 2 0-3-1 0-2 3-2 1-2 0-2-3-1 1 0 1-1 1-1-4-2 1 0 4 1 4 3-2 0 0 1 1 5-1 0 1 1 0 1-4 1 3 4-1 1-1 2 1 1 3 0-2 2 3 1-3 0-2 0 2 2 1 1-2 1-1 3 3 1 2 0-6 1 4 1-3 1 0 0-1 1 4 1-1 1 1 0 1 3-4 1 0 1 3 2-3 1 2 0 3 1-1 1-4 1 2 1-1 1 3 1-2 1 1 1-3 1 5 1-5 1 3 1 1 0-2 1-2 0 4 2-3 2 3 0-4 2 0 0 2 0 1 0 1 1-5 0 2 0 1 2 2 3-3 0 4 1-1 0-1 1-3 3 0 0 1 0-1 3 4 0-1 2 0 2-1 0 3 0-1 1-1 0 0 3 1 1-2 2-2 0 3 2 0 0 1 1-4 2 0 0 3 1 0 1-3 0 2 3 2 1-2 3-2 0 0 0 3 1-1 1 0 2-2 1-1 0 3 1 0 1-2 0 4 1-3 1 3 1-2 1-1 1 4 2-4 1-2 0 3 1-1 2 3 0-3 0 1 1-1 0-1 0 0 3 1 0 3 2-2 0 1 1-2 2 2 0-3 1 3 0 1 2-3 0 4 2-2 0-1 0-2 4 2 0-1 1 3 1 0 0-4 2 2 1-2 1-1 0 2 0 1 2 2 1-4 0 3 2 2 0-4 0-2 1 4 2 0 0-1 3-1 0 0 1-1 1 4 1-1 1-2 0 1 0 0 0 2 3-4 2 1 0 1 1 2 1-3 1 0 1-2 0 4 2-3 0 5 0-1 1-3 0 4 2-4 0 4 0-2 1 0 1 1 0-4 1 1 1-1 0 2 3 2 0-1 2 1 0-2 1-2 0 4 0-5 2 3 0 2 2 0 1-1 2 1 1 0 1-3 0 1 0 1 1-3 0 4 1-1 0-1" fill="none" marker-start="url(#mg)" marker-mid="url(#mg)" marker-end="url(#mg)"/><path d="M1222 774l0 0" fill="none" marker-start="url(#mo)" marker-mid="url(#mo)" marker-end="url(#mo)"/><path d="M1518 781l1 2 0-2 5 2 2-1 8 4 4 0 1 3-4 0-7 2-7-1" fill="none" marker-start="url(#mo)" marker-mid="url(#mo)" marker-end="url(#mo)"/><path d="M1410 781l0-1 0 4 2 0 1 1 0-4 0 1 1 3 1-2 1 3 1 0 0-3 1-2 0 3 1 0 1 2 0-5 1 3 1-3 2 2 0 3 0 0 0-4 1 0 1 1 0 3 0-3 2 2 1-2 1 2 1-3 1 2 1 0 1-1 0 2 1 1 0-4 0 0 1 4 1-5 1 1 0 4 0-4 1 1 0 0 1-3 0 5 0-3 1 1 1-1 0 3 1 0 0-4 1 0 0 3 0-2 1 2 1 2 2-3 0-2 1 1 1 2 0-2 1 4 1-3 0 1 2-3 0-1 1 5 0-3 1 3 1-3 0-2 0 5 1-3 1 4 0-5 1 1 1 3 1-5 0 3 0-1 2 1 0-3 1 1 0 2 1 3 0-3 1 1 0-3 1 5 1-3 0-1 1-1 1 2 0-1 2 2 0-4 1 2 0 1 1 0 1 0 0-1 1 2 1 2 0-2 0 2 1-2 2-2 0 0 0-1 1 2 0-2 2 3 0-3 1 3 1-2 0-2 2 3 1 2 0-4 1 3 3 0 1 1 1-4 0 3 1 1 1-3 1 2 2-3 0 1 0 3 1-2 2 2 0-5 1 4 0-3 1 2 3 1 2 1 1-1 0 1 2-3 0 1 2 0 1 2 2-3 13 2-7 6-5-1-1 2-3-1-1-1 0-1 0 2 0-3-1 3-2-2-1 0-3 0-1-1 0 4-1-4-2 3 0-1 0 2-2-1-2 1-1-2-1-2 0 3-1-2-1-1 0 4-1-1-1 1-1-5 0 5-1-1-2-3 0-1 0 6 0-4-2 1-2 0 0-1 0 2-1-4 0 4-1-3-1 1 0 3 0-4-1 0 0 4-1 0 0-3 0-1 0 4-2-4 0 4-1-3-1-2 0 6 0-3-1-1-1 4 0-3 0-2-1-1-1 4 0 0-1-1-1-2 0 3 0-3-2 2 0-1-1 4-1-4 0 0-1 3-1 0-1-3 0 0-1 3 0-4 0 4-1-2 0 1-1 1 0-3-1 3 0-2-1-3-1 6 0-4 0 2 0 0-1 2-1-6-1 2 0-1-1 5 0-1-2-4 0 4-1-5 0 2 0 2 0 1-1-2-2-3 0 1 0 4 0-2-1 2-1-4-1 1 0 1 0-3 0 5-1-1 0 1-1-3-1 2 0 0 0-1-4 0 0-1 0 3 0-1 0-1-2-1 0-1-2 5 0-3-1 1 0-4-1 6 0-1 0 1-1-3-1 0-1 1 0-2-1 2-1 1-2-1-1-1-2-3 0 0 0 1-1 3 0 1 0 1-2-1-1-1 0-3-1 0 0 5 0-4-1-1 0 0 0 0-1 4 0 1-2-5 0 5 0 0-1-3-1 1-1-3-1 1 0 1 0 2-2-4 0 2-1 1-1 1 0-1 0-2-1-1 0 3-1-3-1 4-1-2-1 3 0 0-1-4 0-2-1 1 0 1-2 0 0 4 0-6 0 6-1-3 0-3 0 4 0-1-1-1 0 4-2-5-1 4 0-2 0 1-1-3 0 4-1-3-2 0 0 4 0-2-1 1 0-3-1 1-1-2 0 5 0-5-1 5 0-4-1 4 0-4 0 4-1-5-1 2-1 2 0-1-1 1-2-3 0 2-1-1-1 2 0-2 0-1-1 2 0-2-1-1-1 5-1-4 0 0-1 3 0 0-1-4 0 4" fill="none" marker-start="url(#mg)" marker-mid="url(#mg)" marker-end="url(#mg)"/><path d="M1366 790l0-1-1 2-2-2 0 1-2 0-1-4 0 2-1 3 0-3-3-2 0 4 0 2 0-4 0 3-1 0-1 0-1 1 0-3-2-2-1-1 0 6-2-4-1 0 0 1-1 2 0-2 0 2-3-3-1 1-1-3-1 6-1-2 0 2-3-3 0-2-1 0 0 4 0-2-2 3-2-2 0-3 0 1-4 0 0 3-1-1-1-3-1 1-1 1 0-3-2 0-1 4-1 2 0-2 0-2-1 0-1 4-1-6-2 4-2-4 0 3-1 1 0-3-2 3-1 0 0-3-1 1-1-1 0 3-3-4 0 6-2-2-1-2-1 4-1-3-1 1-1 1-1-2 0 3-1-2-3-4 0 5 0 0-1-2 0-2 0 5 0-3-4 1-1-1-1-2 0 5-1-1 0-4-1 1-1 0 0 3-2-2-2 0 0 0-2-1-3-1-2 0-1 2 0-3-2 4 0-2-2-1 0 2-1-2-1 0 0 4-1-2-3 2-1-3 0-2-1 3-2-1 0 2 0-4-1 4 0-2 0 3-3-5-2 4-1-2 0 1-1-1-1 3 0-5-2 5-1-4 0 0 0 0-1 1-2 1-1 2-1-4 0 1-2-1 0 1-1 0-1 3 0 1-1-3-3 1-1-4 0 4 0-1 0-3-2 4-1-3 0-1-1 0 0 0-1 2-2-1-1 1 0-1-1 5 0-5-1 2-1 2-1 1 0-4-1 2 0-4 0 6-4-5 0 7 1-1 1 3 1-1 2 1 2-2 1 2 1 0 1 0 0-1 1-1 1 2 0-3 2 0 1 4 1-2 1-2 0 4 0-1 2-1 1 0 1 3 2-1 0-3 1-1 1 3 1-3 1-1 2 6 0-5 1-1 1 4 0 2 1-3 1 0 0-3 2 4 0-1 2 2 0-2 1 1 3-1 1 2 0-4 1-1 0 5 3-3 1 2 1 1 0-3 1 1 1-3 2 4 0-3 1 3 2 1 0-2 1 1 0 1 1-4 0 2 2-2 0 0 0 4 1 1 1-4 0 2 1 2 0-5 1 0 1 4 1-2 0 0 0-3 2 2 1 0 3-1 0 4 3-1 1-2 1 2 1 0 0 2 2-5 1 1 0 2 1-3 1 2 1 2 1 0 0-4 1 3 4-2 0-1 1 3 1-1 3-1 0 3 0-5 2 0 0 6 1-1 0-3 1-1 1 4 1-3 0 2 2-3 1 1 0 0 0 2 0 1 1-2 1 2 1 0 0-1 0 0 1 0 3 0 1-3 0 1 0 0 1 0 0 0 1 3 1 0 1 0 1-3 1 1 1 2 0 1 0-4 1 2 0-3 0 5 1-3 0-3 1 4 1-3 0 4 1-3 1 4 0-1 1-3 0-1 0 2 1 3 1-4 1 3 0 1 1-2 0-4 1 2 1 1 0-2 1 2 1 3 0-4 2 4 1-5 0 1 1 3 1 0 0-1 0-4 1 1 1 1 0 1 1 3 1-1 1-3 1-1 0 3 0-3 0 5 1 0 1-5 2-1 0 5 0-5 1 2 1 0 0 3 1-2 0-1 0 0 2 3 1-3 0 2 1-1 0-1 0 3 1-4 1 0 1 4 1-1 0-2 0-1 1 4 0-3 1 3 0-3 0 3 1-4 1 5 2-4 0-1 1 5 0-2 1-1 0-1 0 0 0 2 2-1 1 3 1 0 1-5 0 0 0 0 0 3 1 1 1-4 1 5 0 0 0-5 1 0 1 3 0 1" fill="none" marker-start="url(#mg)" marker-mid="url(#mg)" marker-end="url(#mg)"/><path d="M1518 795l2 2 7-5 5 3 5 1 0 3-2 3-3-2-9 2-2-1" fill="none" marker-start="url(#mo)" marker-mid="url(#mo)" marker-end="url(#mo)"/><path d="M1389 796l0-2 1-2 1 1 0 4 0-3 2 2 2 0 0-3 1 4 0-3 1 2 1 0 0 0 1-3 2 1 1 0 1-1 0 0 0 3 1-2 0 3 0 0 1-4 0 0 1 2 0-3 1 5 0-3 1 1 0 1 1 1 1-4 0 1 1 4 0-2 0-2 0 4 3-6 0 3 1 1 1 2 1-5 0 0 0 2 1 1 1 0 1-4 1 3 1 0 0 2 1-5 2 3 0 0 0 0 0-3 0 0 1 5 0 1 0-5 1 0 1-1 0 4 1-1 1 0 1-1 0 2 0-1 2 2 0 0 1-2 1 1 0 0 0-2 2 3 1-2 0 3 1-4 0 1 0-1 0 1 1 3 0-1 2-4 0 5 0-5 1 3 1-4 1 6 1-6 0 6 1-5 0 4 1-4 0 4 1-2 0 3 0-1 0-4 0 2 0 0 3 0 0-3 3 5 0 1 0-3 0 1 1-2 0 3 1-2 0 2 0 0 2-3 0 3 1-2 1-1 0 2 1 1 0-3 1 1 0-1 1 3 1-2 1 0 1 1 0-2 1 1 0 1 1 0 0 1 1-3 1 0 1 2 0-2 2 1 1-1 0 3 1 0 1-4 1 2 1 1 1-2 0-1 0 3 1-1 0 2 0-5 1 6 0 0 0-4 2 2 0 0 1-1 1 0 1-2 0 3 2 0 0-3 0 1 0 4 1-3 2 1 1-1 0-3 2 5 1-4 1 2 3 1 1 1 0-4 1 4 1-3 1 3 0-3 3 1 0-3 0 4 2-4 0 4 0 2 2-2 0-2 2-1 1 4 1-2 1-2 2 4 2-3 9 4 1-3 10 8-9 0-8-4-4 0-2 3 0 1-1-2 0-1-1-2 0 5-1-1-2-3-1 3 0 1-1-4-1 2-1 0-2 2-1 1-1-4-1 1-2-2-1 0 0 5-1-6-2 3-1 0-1 0 0-3-1 5-1-4-1-1-1 2-1 3-1-2 0-2 0 4 0-1-1-3 0 2-1 2-1-2-1-3 0 3 0 3-1-2-2-2 0 0 0 3 0 1-1 0-1-3 0 1 0-3-1-1 0 4-1 2 0-2-2-3-1 4 0 0 0-3-1 2-1-4 0 3-1 3 0-4 0-2 0 4-1-1-1 1 0-4-1 1-1 2 0 2-1-2 0-2 0 1 0 4-2 0 0-2-1-3-1 2 0 1 0-3-1 3-1-4-1 2 0 1-1 2 0-5-1 5-1-2 0 0-1 1-1-3-2 0 0 4-1-4 0 3 0 1-1 0 0-1-1-4-1 2-1 1 0 2-1-4-1 5-1-3 0 1-1-2-1 2 0-2 0-2-1 4-1 1 0-4-1 3 0-2-1 4-1-2-1 2 0-4 0 0-1-2 0 3 0-2-1 1-1 2 0 1-1-1 0-2-2 4-1-5 0 4-1-2 0 1 0 1-1-5-1 2 0 1-1 0 0 1-1-3 0 1-1 2 0-3 0 4-1-3-2-1 0-1 0 3-1 2 0-2 0 2 0-4-2 1 0-1 0 4-1-5 0 3-1 1 0-2 0 3-1-4-1-1-1 2 0-1 0 3 0 0-2 1 0-3-2 4 0-5 0 1 0 1-2 2 0-5-1 1-1 5-1-5 0 4-1-4 0 4-1-5-2 3 0-1 0 2-1-1 0-2-1 1 0 2 0 2-1-2-1 2" fill="none" marker-start="url(#mg)" marker-mid="url(#mg)" marker-end="url(#mg)"/><path d="M1396 801l0-2-1 2-3 0 0-3-1 4 0-3 0 3-1-1 0-2-1-1 0 3-2-2 0 3-1-1 0-1 0 4-2-5-1 3 0 0 0-2-1 4-2-4-1 4-1-2 0-2 0 0 0 3 0-4 0 1-2 2-1-2-1 1 0 2-1-3-1 4-1-1-1-2 0 2-1-2-1-1 0 0 0 3-1-1-2-3-1 4 0-5 0 0 0 2 0 1 0 1-1-1-2-2 0 3 0-3 0 3-2-4 0 2-1 2 0 1 0-2 0 1-1 0 0-1 0-1-3 3 0-2 0 0-1 2 0 1-3-3 0 2 0-4-1 3-1-3 0 3-1-1-1 1 0-2 0-2-1 1 0 4 0 0-2-3-1 0 0 4-1-2 0-4-1 1-1 1 0 3-2-2 0 1-1-3 0 4 0-2-1 2-1-1-1-2 0 2-1-3-1 0 0 4-1-1-1 1-1-5 0 3 0 2-1-3-1 2 0-3-1 3-1-4 0 1-1 4 0-4-1 4-1 0 0-3-1-1 0 0-1 3 0-2-1 3-2 0 0-3 0 3-1-4 0 2-1-2-1 0 0 4-1-1 0-2 0 2-1 0 0-1-2 0 0 2-1-2 0 2-1-4 0 0-1 2-1 3 0-2-2-2 0 2-1-2 0 1 0 3-1-5 0-1-1 6 0-1-1-4-2 2 0 1-1-1 0 1-1-3 0 5-1-3 0 1-1-2-1 2-1-2 0-1-2 4-1 0 0 0 0-3-1 3 0-2 0-2-3 1-2 2 0-1-1 1 0-4-1 6 0-3-1 1 0-4-1 6-2-1 0-2 0-1-1 2-1 2-1-4 0 2-2-1 0 1-2-3 0 5 0-1-2 0-1-4-1 3-1-4-2 1 0 4-2-4-1 3-1-3-1-1-2 4-1-3 0 4-1-2 0-2-1 3-2 1 0-3-1 1 0-2-2 1 0 2-2-1 0-1-2 1-1-1-1 4-2-4 0-1 0 4-1-1-3-2 0-1 0 5-2-1-1-4-1 1-1 3-1 0-1-1-1 1-1-4 0 1-2 3-1-2 0 2-1-3-1 3-1-4-2 4-1-5-1 1 0 0-1 3 0 2-1-2 0-1 0 2 0 3 1 4 1-4 1 3 2-4 1 3 1-2 0 3 1-1 2 1 1-4 2 4 0-1 1-4 1 5 0-3 2 3 1 1 1-4 0-2 0 5 0-1 1-1 1 2 0-3 1 1 2 3 0-2 1-4 1 2 1 1 1 0 0 2 1-4 0 4 1-2 2 3 1-6 1 3 1 1 0 0 2 1 0-4 0 1 2 3 0-5 1 2 1 4 0-5 0 2 2 3 1-3 1-2 0 3 1-3 1 0 0 3 1 0 0-1 1 2 0-5 0 1 0 3 0 1 1-3 0-1 1 2 1 2 0-3 2 4 0-2 0 2 2-4 0 3 1-4 0 1 0 0 0 3 2-1 0 0 1-2 1-2 2 5 0 0 1 0 0-2 0-3 0 1 2 4 1-2 0-2 1 3 0-1 0-3 1 4 1-1 1 0 0-3 0 5 1-1 0-3 1 1 2 0 0 0 0 4 2-3 1-1 0 1 0 3 0-5 1 5 1-1 0-3 1 0 0 0 1 2 0 1 1-5 0 0 1 2 1 2 0-3 1-1 1 3 0 2 1-3 1 0 0 3 0 1 2-4 1 1 0 1 0-2 0-1 1 1 1 0 0-1 1 3 1 1 1 0" fill="none" marker-start="url(#mg)" marker-mid="url(#mg)" marker-end="url(#mg)"/><path d="M1518 807l1-1 1 0 10 3 3 3-5 0-3 0-3 1-3-1 0 1" fill="none" marker-start="url(#mo)" marker-mid="url(#mo)" marker-end="url(#mo)"/><path d="M1311 810l1-1 0-4 0 2 1 2 1-2 0 2 2-1 0-3 0 2 1 0 1 1 1-3 0 5 0-2 1 0 0 1 1-1 2-2 0-1 1 1 0 2 0-3 1 0 1 3 1-1 0 0 2 2 0-5 1 6 0-1 0-4 2 3 1 0 0 0 0 0 1-3 0-1 1 3 0 1 1-2 1 1 1 2 1-4 0 1 0 2 1 0 1-1 0 0 0 3 2-2 0-3 1 2 0-1 1 0 0 3 1-1 1-4 0 1 1 4 0-2 1-3 0 3 1 2 1-4 0 3 1 1 2-1 0-2 0 2 2-3 1 2 1 2 0-1 1-1 0 0 1 0 1 0 0 2 1 0 1-4 0 5 2-4 1 1 0 2 1-3 1 2 0-2 3 0 0 1 0 0 0 2 0 1 1-6 1 2 0 0 0 3 1 0 1-4 0 2 1-2 0 4 1 0 1-1 0 1 1-3 0 1 1 2 0-1 1-3 1 4 1-1 0 2 1-5 0-1 0 3 1 1 1-2 0-2 1 2 0 3 1-5 1 3 0-2 1 4 0-3 1 3 1 0 0-1 1-4 0 2 1 0 0 0 0 2 1-3 1 1 1 2 0 1 0-3 2 1 1 3 0-1 1-4 0 2 0 3 1-5 1 2 0-1 1 4 0 0 1-6 1 1 0 5 1-5 0 1 1 2 0 2 0-3 1 0 1-3 1 5 1-2 1 3 0-4 0 2 0 1 2-2 0 2 1-2 1-2 0 5 0-4 1 3 2 1 1-5 0 1 1 3 1-2 0-1 0 4 2-1 0 1 1-3 0-2 0 0 1 3 0 0 1-3 0 4 1-2 2-1 0 0 0 3 1 0 1-2 1-2 0 3 2 2 0-3 0 3 1-4 0 1 1 0 2-3 0 4 0-2 1 2 0 0 2-3 1 2 0 0 2 3 0-1 1-2 0 1 1-3 0 2 0 0 1 0 0 1 1-4 0 1 0 4 2 0 0-2 0 3 2-4 1 3 0-3 1 3 0-2 0 0 1-1 0 3 1-2 0-1 1 1 0-2 1 5 1-5 0 3 0-4 0 5 1-3 2 1 0 2 0-5 1 4 0 0 1 2 1-1 1-3 1 4 0-5 0 4 1-3 0 0 0 1 1 0 1 2 0-3 1 4 2-4 1 1 1 2 0 0 0-3 0-1 1 1 0 3 1-4 0 4 1 1 1 0 0-3 0-1 1 1 1 0 1 1 0 2 1 0 0-5 1 1 0 2 1 0 1-1 0-1 1 0 1 3 1-4 1 1 0 1 0-2 1 0 0 1 0 3 3 1 0-5 0 4 3 1 0-3 0 2 0-4 0 2 2-3 0 4 1-4 1 6 0-4 1 3 1-3 2-1 0 3 1 2 1-2 0-4 3 3 0 1 2-4 0 4 0 1 2-4 3 5 1-3 2 3 3-1 14-1-2 6-10 0-9-4-1 5-1-3-2 2-1 1 0-4-1 5-2-4-1 2 0-2-1 0-1 2-1-2-1-1 0 4-1-2 0-1-1 4-2-2-1 1-1 1-3-2-1 1 0-1 0-1-1 3 0-3-1-3 0 1-2 4 0-2-1 0 0-1-1 0 0-2-1 5 0-1-1 0 0 1-1-2 0 3-1-2-2 0-1-1 0-2-1 4 0-1-1 1 0-2 0 2-3-1 0 2-1 0 0-5 0 2-1-2" fill="none" marker-start="url(#mg)" marker-mid="url(#mg)" marker-end="url(#mg)"/><path d="M1535 815l0 0" fill="none" marker-start="url(#mo)" marker-mid="url(#mo)" marker-end="url(#mo)"/><path d="M1475 813l0 3-3-3 0 2 0-3 0 4-3-4 0 2-1-2 0-1-1 2-1-2 0 2-1 2-2-1 0-1-1 1 0-1 0-3-1 6-1-1 0 0-1-4-1 2 0 0 0 3 0-5 0 3 0 2-3-1-1-4 0 2 0 1-1-2-3 3 0-2 0 1-1-1-1-2 0 2-1-2-1 5-1-3-1-2 0 3 0-3 0 4-1-3 0 2-2-4 0 6 0-1 0-4-1 0 0 3-2-3-1 2-1 2-1-1-2-2 0-2 0 5-1-4-1 0 0 5 0-3-1 0 0 0 0 2-1 1 0-4-1 1 0-2-2 0-1 3 0 0-1-1-2 1 0 2-1-2 0-2-1-1 0 0-1-1 0 3-1 1-1 2 0-5 0 0-1 5-1-4 0 2-1 0 0 1-2-1 0-1-1-2 0 1-1 3 0-5-1 3-1 1-1 0-1 2-1-1-1-1-1 0 0 0 0 0 0-2 0-2-1 5 0 0-1-4-1 3-1-1 0 2-2-4 0-1-1 2 0 0-1 1-1 2 0-1 0-3 0 4-1-4 0 2-4 1 0-2-1 1 0 0-1-1 0-2-1 1-1 3-1 1 0-2-1-3-1 2 0 2-1 0-1-1-1-1-1 1 0 1-1-4-1 1-1 2 0 1-1 1-1 0-1-2-1 2 0 0-2-5 0 1 0 3-2 0 0 1-1-3-1 1 0-2 0 5 0-2-1-3 0 2-1 1-2-4 0 4 0-1-2 0 0-3-1 1-1 4 0-5 0 4-1-4-2 0 0 5 0-4-1 3 0-2 0 3-2-4 0 1-1-1 0 2-1 1 0 0-1-3-1 4-1-2 0-3-1 3 0 0-1-3 0 5-2 0 0 1-1-2 0-3-2 1 0 0-1 2-1-1 0 3 0-4-1 4 0-5 0 1-1 1-2-2-1 3 0 0 0 1-1 0 0 1 0-5-1 1 0 0-2 1 0-1-2-1 0-1-2 5 0-4 0 5 0-4 0 4-1-5-1 3 0 1-1-4 0 3-1 0-1-2-1 4 0-2-1-2-2 2 0-2 0-2-1 2-1 1-1-3 0 3 0 2 0 0 0-1-3-1 0-1 0 3 0 0 0-1-1-3 0 5-1-6-1 3 0 0 0-1-1 4-1 0-1-2 0 2 0-2 0-2-2-2-1 2-1 1 0 2 0-2-1-2 0 3 0-4-1 5-2-3 0 2 0-1-1-3-1 2-1 3 0-2-2-2-1 2 0 3-1-5 0 5 0-2 0 0-1 0-1 1 0-3-1-1-2 2 0 0 0 1 0-3-1 0 0 3 0 1 0-3-1 2-1-2-1-1-1 4 0-3-1 1-1-1-1-2 0 5-1-2-1 3 0 0-1-5 0-1 0 5-1-1 0 0-1-1-1-3 0 1-2 3 0-1 0-2-2 0-1 2-1-2 0 4-1 0 0-3-1 1 0 2-1 0 0 1 0-3-1-2 0 1-2 2 0 1-1-4-1 3 0-2-1 1 0 2 0-5-1 1 0 4 0-2 0 2-1-1-2 1-1-3 0-1-1 2 0 0 0-3 0 5-1-1 0-1-1-3-2 2 0 4 0-3 0-2 0-1-1 2-1-1 0 4 0 1-1-2 0 0-1 1 0-3-1 4-1-2 0-1 0 3 0-1-1 0-1-4 0 4-1-2-1 3 0-6 0 3-1 2-1 0-1-3-1 1-1-3 0 4 0 0-1-3 0 5 0-3" fill="none" marker-start="url(#mg)" marker-mid="url(#mg)" marker-end="url(#mg)"/><path d="M1227 812l0-2-1 5 0 0-1 0-1-2 0 1-1-1 0-2 0 1 0 4-1-2-2 1-1-5 0 0 0 6 0-1-1-2 0 2 0-2 0-1-1 1-1 3-1-3 0-2-1 5 0-5 0 10 0-3 1 2 1-3 0 3 1-2 1 2 0 1 0-2 1 0 2-1 1 3 0-1 0 2 2-6 1 5 0 1 1-2 0 0 2-2 0 0 1-1 1 1 0 3 1-1 1 1 0 1 1-2 0-4 1 4 1 2 0-4 1 2 2-1 1 1 0-1 1-3 1 4 1-1 1 3 0-2 1 1 1-2 0-3 1 4 1 2 0-4 1 4 1-3 1 0 1-3 2 1 0 4 0-1 0 0 2 0 0-4 0 2 1-1 0 0 1 3 0-2 0 1 1 1 2 0 1-1 1 2 1-1 0 1 1 0 0-3 1 0 0 3 0-4 2 1 0-1 0 2 1-1 0 0 1 0 0 4 0-4 1 4 1 0 0-3 1 1 0 0 3-2 0 2 1-1 0 0 0-3 0 1 1-1 1 2 0 3 1-1 0-1 0 2 2-5 0 0 1 6 0-5 1 0 0 1 1 0 1 0 0 4 1-5 1 3 0-1 0 2 1-2 0 1 1-2 1 0 1 3 1-3 1 3 1-2 0-1 0 0 1 2 0 1 1-1 0-3 1 4 0 0 1 1 1-3 0-1 0 0 1 2 2 1 1-3 0 2 0-3 1 5 1-1 0-5 0 3 1-1 1 3 1 0 0-1 2-1 1-2 0 5 2-1 0-3 1 1 1 1 0-3 1 1 0 1 1 1 0 1 1-2 1-1 0-2 1 5 0-3 1 0 0-2 1 4 1 1 0-2 1 3 1-5 1 3 0 0 1-3 1 3 0 0 0 1 0-3 1 0 0 1 1 2 0-2 1 2 1-1 0-4 1 3 1-1 0 0 0 0 0 4 1-2 2 1 0-3 0-2 1 2 1 2 1-1 0-3 1 5 0 0 0-4 1 1 0 0 1 1 0-2 1 3 1-4 0 4 0-3 0 1 1 1 2-2 0 4 0-2 1-1 1 3 1 1 0-4 0-2 1 5 0-1 0-3 2 3 1-2 0 0 1 3 1-1 0-3 2 4 0-3 0 2 1 0 0-1 1 3 0-4 1 0 0-1 1 1 0 2 1-4 1 1 0 4 2 1 0-3 0 1 1-4 0 2 2 2 0-2 0-1 1 3 0 2 0-3 0 2 1-3 1 1 0 2 1-4 1 3 0 0 0 1 1-4 0 0 1 2 0 2 1-2 1-2 0 4 1-4 1 3 0-3 2 1 0 1 1-3 0 2 1 2 0-4 0 0 1 2 2 2 0-3 0 1 1-1 0 1 0 1 2 0 0-3 2 2 0-2 0 5 1-3 1-2 1 2 0 3 1 1 0-5 0-1 0 4 1 0 3-1 0-2 0 0 1 3 0 0 2 1 1 0 0-3 2 1 0-2 0 4 1-1 0-3 1 2 0 2 2-2 0 0 0 1 0-1 1-1 0 4 0-5 1 2 2-1 0 1 0 0 1-1 0 2 1 1 1-3 0 0 1 3 1-3 1 1 1 1 0-3 0 4 1-2 1-3 0 1 0 4 1-2 1 1 0-2 1 4 1-4 1-1 0 1 1-1 0 5 1-6 0 0 1 4 0-1 1 1 0 2 0-5 1 4 0-1 1 1 1-4 0 4 0-1 1-4 0 5 1-4 1 1 1 0 1 1 0 1 0-3 0 5" fill="none" marker-start="url(#mg)" marker-mid="url(#mg)" marker-end="url(#mg)"/><path d="M1522 818l5 1 1-1 7 3 1-4 5 5-10 2-3-2-2 3" fill="none" marker-start="url(#mo)" marker-mid="url(#mo)" marker-end="url(#mo)"/><path d="M1442 819l1-2 0 1 1 1 1 2 0-2 0 0 2-3 0 5 1-4 1 1 0-2 0 3 1-2 0 2 0-1 0 3 2-2 1-2 0 2 1 0 0 2 0 1 2-4 1 2 1 2 0-2 1 2 1-3 0 2 1-4 1 1 0-1 1 3 0-1 1-1 1-1 1 3 0-1 1 1 0 1 0-2 1-2 0 0 1 0 0 1 1 2 1 1 1 0 0 0 0-1 2-1 1 2 0 0 2 0 1-5 0 4 0-4 1 6 0-1 1-2 1 3 1-5 0 4 1-3 0 2 0 0 1-2 0 2 1-3 1 1 1 3 1-3 1 1 0 3 1-6 0 1 1 1 0 2 1-2 1-2 0 6 0-5 1 4 1 0 1 0 0-1 1 2 0-1 1-4 0 4 2-3 1 3 1-2 2 0 0-3 2 0 1 2 2 2 0-3 1 1 1-1 2 3 1 1 0-4 1 2 1-1 0 3 2-2 1 2 20 6-7 1-12-3-4-1-1 2-1 0-1-1-2-2 0 4-2-3-2 3-1-1 0 1 0-5-1 3-1 2-1-5-2 1 0 4-1-2 0 3-1-5-1 1 0 4-1 0 0-3-2-1 0 3 0-5-2 4 0 0 0-3 0 2-1-2-1 1 0-2 0 4-2-2-1 3-1-1 0 1-1-1 0-3-1 1 0 3-1 1 0-4-1-2 0 2-1 2-1 2-1-1 0-2-1 3 0-2-1-3-1 4 0-5-1 5 0-4-1 3-1 1-1-1 0-2 0 3 0-4-1 0 0 4-1-4 0 1 0-1-1 1-1 1-1 0-1 2 0 1-1-5 0-1-1 6 0-1-1-1 0-3 0 1-1 4-1-4-1 2-1-3-1 4 0-1 0 1-1-3 0 4-1-1 0-4 0 1 0-2-3 3-1 0 0-2-1 3 0 1-1-2-1-3 0 6-1-4 0 2 0-3-2 2 0-3 0 5 0-4 0 4 0-3-2-2-2 0 0 2-1 2-1 1 0-4-1 2 0-1-1 2-2 2 0-3 0-2 0 0-1 3 0 0-1 2-1-4-1 2 0-2-1-2 0 2 0 4-2-5 0 1-1 4 0-1-1-4 0 3-1-4 0 4-2 1 0 0 0-4-1 5-1-3 0 0-1-1 0 3 0-4-2 4-1-3 0 0 0 4-1-1-1-3 0 0 0 0-1 3-1-3-1 0 0-1 0 2-2-3 0 4-1 2-1-4 0-1-1 1-1 3 0 0-1-1-1-4 0 1-2 3 0 1 0-3-1-1-1-1-1 4 0-1-1 3-1-4-1 4 0-6-1 1 0 1-1 1 0 1-1 2 0 0-1-5 0 4 0-5-2 3 0-2 0 1-1 0 0 3-1-5 0 4-1-1 0-1-1 1 0 3-1-3 0-1-1-1-1 2 0 1 0-4-1 6 0-4-1 1 0-1-1-2-1 3 0 0-1 2 0-1-1-3 0 5 0 0-3-3 0 0-1-2 0-1-1 6-1-3-1 0 0 1-1-3 0 0-1 3-1 1 0-2-2-3 0 3 0 3-2-5 0 3 0 0-1-4-1 4-1 0 0-1 0 2-1 0-1-3-1-2 0 5 0 0 0-3-1 3-2-2 0-2 0 1-1 3 0 0-2-1 0-3 0 4-1-5 0 6 0-3 0-3-2 4 0-1-1-1 0 3 0-4-1 1 0 3 0-4" fill="none" marker-start="url(#mg)" marker-mid="url(#mg)" marker-end="url(#mg)"/><path d="M1346 825l0 1-1 1-1-4-1-1 0 5-1-1-1 1 0-1-1-2 0-2 0 2-2-1 0 2 0-1-1 3-1-4-1 4 0-2-1 2-1-1 0 0-1-4-2 3 0-1-1 3-1-1 0 0 0-4-1 5-2-4 0 5 0-2-1-1-1 3 0 0-1-2-1-4 0 5 0 0 0-4 0 3-1-3 0 4-1 1 0-1-1-1 0 0-2 1-1-4 0 1 0-1 0 2-1-3-1 6-1-2-1 2 0-5-1 2-1-2 0 0-1-1 0 4-1 0-1-2-2 3-2 0 0-4 0 3 0-1 0 2-1-4-1 2-1-1 0 3 0-2-1-2 0 0-1 4 0-2-1 2 0-1-2-3 0 5-1 0 0-2 0-2-1 3 0-2-1 2 0-1 0 0-1-4-1 2-1-1-1 3-1 1 0-3 0 1 0 2-1 1 0-1-1 0-1-4 0 2-1 1 0-2-1 1-1-1 0 1 0 3-1-1 0-5 0 2-2-1-1 5 0-3 0-1 0 2-1-2 0 3 0-2-1-3 0 3-1-1-1 1-3 2-1-3 0 0 0 2 0-1-1-1 0-1-1 0 0 4 0 0-1-1 0-2-1 0-2 0-1 1 0 3 0-4-1-1-1 4 0-4 0 3-2 1 0 0 0-4-1 5 0-4 0-1 0 0-2 3 0-2-1-1 0 1 0 3 0-1-2-1-1 1 0-4 0 6-1-5-1 3-1-2 0 2 0-3-1 2-1 0-1-1-1-2-1 5-1 0 0-5 0 2 0 2-1-3-1 3-1-4-1 3 0 3-1-1-1-4 0 3 0 1-2 1-1-4 0 1-1 0-1 2-1-2-1-1 0-2 0 6-1-4 0 2 0 0-1-4-1 2 0 1-1 0 0-2 0 4-2-5-1 0 0 3 0 3-1-3-1-1 0 4 0-3-1 0-1 0-1-2 0 3-1-3-1 1 0 9 0-3 0 2 1-2 0-1 1 3 1-1 0-1 3-1 0 3 0-1 0 2 1-4 1 0 0 4 0 0 2 0 0 0 0-1 1-4 1 4 1-3 0 2 1-2 0 2 1-2 0 5 2-1 0-3 1 3 1-3 0 3 1-4 0 2 1-2 1 1 1 2 1-3 1 3 1-1 0 1 0 0 1-2 1 1 1 3 0-1 0-1 1-4 0 4 1-1 1 3 0-3 0-1 2 0 2 0 0 2 0 1 0-2 0 2 1-3 1 4 1-2 0-2 0-1 0 4 1 0 1-4 0 1 2-1 1 5 0-6 0 3 1 1 1 2 0-4 0 4 1-4 1 2 0-4 1 3 0 3 1-1 0 1 1-5 0 3 1 0 1 2 1-5 0-1 0 5 2-2 1 2 0-4 0 2 1-1 0-2 1 6 0-5 1 3 1 0 1-4 1 5 1-1 0 1 0-2 1 0 0 1 1 1 1-4 2 2 1-2 0 5 0-1 1 0 1-1 1-2 1-1 0 2 1 3 1-2 0 1 0 0 1 1 0-6 1 2 1 2 2-1 0 0 0 3 0 0 1-4 0 0 1 1 0 3 1-4 1 1 0-1 1 2 0 1 2 0 0 0 1-3 0 0 0 3 3-5 0 1 0 3 1 1 0 0 1 0 0-4 0 5 0-5 1 1 1 2 0 0 2-3 0 1 1-1 0 4 0-3 1-2 2 5 0-1 0-1 3 1 0-2 1 2 1-1 0 0 0 1 1 1 3-4 1 2 1 2 0 0 0 1" fill="none" marker-start="url(#mg)" marker-mid="url(#mg)" marker-end="url(#mg)"/><path d="M1538 835l-6 5-8-4-1 2" fill="none" marker-start="url(#mo)" marker-mid="url(#mo)" marker-end="url(#mo)"/><path d="M1327 829l1 3 0-3 1 1 1 0 0 2 1 1 0-5 0 0 0 6 1-3 1 3 0-6 1 6 1-2 0 1 2-1 1-3 0 2 0 1 1-2 0 3 1 1 0-5 0-1 1 0 1 5 1-2 0-3 0 2 1 4 0-3 1 1 1-2 0 2 1-2 0-1 0 4 3-4 1 1 0 0 1 3 0 1 0-4 2 4 1-5 0 1 0 3 1 1 1-4 0-1 1 4 0-4 0-1 1 0 2 3 0 0 1 3 0-1 2 0 0-2 0-3 0 2 0-2 1 2 1 3 2-1 0-1 1-2 1 3 0 1 0 0 1-3 0-1 1 2 2 1 0-2 0-2 1 1 1 5 0-5 1 1 0-1 0 5 0-5 1 5 0-3 1 3 1-5 0 3 1-1 2-1 0 0 1 1 0 2 1-2 1-3 1 5 0-3 0 1 0-2 1 3 1-4 1 5 0-2 0-2 1 3 0-4 1 4 1 1 1-1 0 2 0-4 0 0 1 1 1 2 2-4 0 4 1-2 0 2 1-3 0-2 0 4 1 0 1-4 1 2 2-2 0 2 0 4 0-2 0-3 1 4 1-1 0-3 1 1 1 3 0-1 0 0 1-1 0 1 0-3 3-1 0 3 1 0 1-1 0 4 1-1 0-4 0 0 1 2 0-2 0 3 1 0 2 0 0-1 0 1 1-3 2 0 0-1 1 5 0-4 0 3 1 0 1-2 1-1 0 4 1-4 0 5 0-1 3-2 1-2 0 0 0 2 0 3 1-5 2 4 0-2 2 1 0 1 0-1 1-4 2 2 0 3 1-3 0 2 1-3 0 3 1-1 0 0 1 2 0-5 0 5 2-3 1 2 1-2 1 3 0-2 0-2 1 3 0-3 0 5 0-5 2 2 0-2 1 3 2 0 0 0 0-3 0-1 3 4 1-1 0-1 0 4 2-5 1 5 0-5 1 4 0-4 1 1 0 0 1 2 0-3 0 4 2-4 0 0 2 5 0 0 0-1 1-2 0 1 1-2 0 3 1 1 0-5 0-1 2 5 0-1 1-1 1-2 0 3 0 0 1 2 0-4 0 0 2 3 0-3 1 2 1 1 0-2 2-3 1 5 1-3 0 1 1-2 2 2 0-2 1 3 0 2 0-5 1 3 1-3 0 3 1-2 0 0 0 0 1 1 0 1 1-4 1 3 1 2 0-3 0-2 1 2 0 2 0-4 2 5 1-2 0-3 1 3 0 3 2-4 1 1 1 1 2-2 0 3 1 0 2-4 0 2 0 2 2-4 0 2 3 3 2-1 3-1 4-1 7 1 2-2 6 2-3 3-5 1-11 3-1-4-2 4-6-3-1 2 0-1-2-1-1 2-2-3 0-1-1 6-1-3-1 2 0-4 0 2-2-1-1 0-1 2-1-3 0 4-1-1-1 1 0-2-2-2 0 2 0 1-1-1 0-2-2 1 0 4 0-4-1 3-2 1 0-3 0 0 0 1-1 0 0-3-2 0 0 1 0 3 0-2-1 3 0-5-2 3 0 2 0-6-1 4 0-3-1 3-1 2 0-4 0 2-1-2-2 1 0 2-1 0 0 1-2-4 0 1 0 0-1-1 0 2-2 1-1-5 0 4 0-2-2-2 0 3-1 2 0 0 0-5-1 4-2-1 0 0-2 2 0-1-1-3 0 3-1-4-1 3 0-3 0 0-1 4 0-4-1 4-1 0 0-1-1-2 0 3 0-3" fill="none" marker-start="url(#mg)" marker-mid="url(#mg)" marker-end="url(#mg)"/><path d="M1540 840l0 0" fill="none" marker-start="url(#mo)" marker-mid="url(#mo)" marker-end="url(#mo)"/><path d="M1452 839l0-3-1 4-1-3 0-2-1 2-1 2 0-4-1 3 0-3-1 0-1 4 0-2-1 2-1-2 0-2-1 1 0-2 0 1-2 4 0-2 0-2-1 1-2 2 0-4-1 1 0 4 0-1 0-4-1 6 0-5-1 3 0 1-1-3-1 0 0 4 0-3-2-3 0 5 0-4-1 3 0 0-2 1 0-4-1 1-1 0 0 1-1-3 0 4 0-2 0 2-1 0-1 0-1-4 0 3-1 1 0-3-1 3-1 0 0 1 0-3-2 3-1-3 0-1-1 3 0-1-3 1 0-4 0 2 0-1 0-1-2 5 0-2-1-1-1 4-1-5 0 3 0-4-1 5-1 1 0-4-1 3 0 0 0-4-1 2 0-1-1 0-1 2-1-1 0 0-1-1-1 1 0-1-1 3-1-1 0 1 0 0-2-3-1-1 0 5 0-3-1 1-1-2-1-2 0 5-1 1-1-1 0 0-1-3 0 1 0 2-1-4-1 1 0 4-1-4-1 1-1 1-1-1-1 2-1-2-1 2-1-5 0 3-1-2 0 3-1-2-1 0 0 3 0 0-1-4 0 2-2 2-1 0 0-2 0-1-1-1-1 5 0-3 0-2-1 4 0 0-2-3 0 2 0-3-1 2 0 3 0 0-1-2 0-1-1-3-1 0 0 3-1-3 0 4-2 1 0-1 0-1 0-3-1 5-1-4-1 0-1 4 0-3-1 2-1-3 0 5-2-4 0 3 0-5-1 3 0 0-1 2-3-3 0 1 0 2 0 1-1-2 0-1-2 2 0 1 0-4 0 0-1 2-1-2-1-1 0 2-1 2-1-2 0 2-1-4 0 0-2 0-1 2-2 2 0-2 0 1-1 0-1-1-1 2-1-2-1-1-1 4 0-5 0 0-1 3 0-1-1 2-1-2 0 3-1-1 0-2-1-3-2 1 0-1-1 5-1-4 0 3-1-2 0-2-1 0-1 5 0-3-1 1 0 2-1-1 0-2-1-1-1 4 0 0-2 0 0-2 0-3-1 2-1-2 0 5 0-1-1-2 0 2-1 1-1-4-2 1 0 0 0 1 0 1-1-1-1-1 0 2 0 0-1-3-1 4 0-1-1-3 0 5-2-1-1-2 0-1-1 3-1-2-1 2-1-1 0-1-1 1 0-4-1 1-1 4-1-1 0 1-1-2 0 1 0-3-1-1 0 2 0-1-1 1-1 3 0-1-1 2 0-4-1 0-1 2 0-1 0 0-1 2-1-4-1 2 0 0-1 0 0 1-1-2-1 3 0-4-1 4-1-3-1 2 0-3 0 1-1 3 0 1 0-1-2-2 0 3-1-2 0-2-2 2-1 2 0-4-2 1-1 0 0 0 0 2 0-4-1-1-2 2 0 0 0 3-1-2 0 2 0 0-1-5 0 4-2-3-1-1 0 0 0 5 0-2-2 0 0 0-1 1 0-3 0 0-1 3-1-1-1-1 0 4-2-6 0 4 0 1-2-4 0 1-1 2 0-2-2 3 0 0-1-3 0 1-1-1 0-1 0 2-1-2-1 0-2 5-1-5 0 1 0 2-2-3 0 0 0 4-1 0-1-3 0 4-1-2 0-3-1 4 0-3 0 1-2 2-1-2-1-3 0 4 0-1-1-1 0 4-1-1 0-5 0 4-1 1 0-4-1 1-2 0-1 1 2 6 2 1 0 1 0-3 1 0 0 0 1 1 1-3 0 3 1 2 0 0 1-3 0-1 1 3 0 1 2-1" fill="none" marker-start="url(#mg)" marker-mid="url(#mg)" marker-end="url(#mg)"/><path d="M1225 845l0-2 0 3 2-3 0-3 1 6 0-3 1 1 0 2 1-4 1-2 0 1 1 0 1 0 0-1 0 3 1 2 1 1 1-5 0 1 0 1 0 0 1 0 0-1 1-2 1 4 0 2 0-5 0 4 2 1 0-3 2-2 0 5 1-2 0 0 1-2 0 2 0-3 1 1 0-2 1 3 0-1 1 1 0 0 1-3 1 2 0 1 1-1 0 1 1-1 0 1 1 1 1 0 1 1 0-5 1 3 0-1 1 0 0-1 1 1 0 0 0 3 0-1 3-1 0 0 1 2 0-2 1-3 0 5 1 0 0-3 1 1 0 2 2-1 0-3 0 4 1-2 1-1 0 1 1 0 1 3 0-2 1-1 0 3 1 0 1-5 1 2 1-2 1 0 0 4 1-3 0 3 1 1 1-2 1-4 0 4 0-1 2 3 1-3 0-2 0 3 0-3 2 1 0 0 1 3 0 0 1 1 2-3 0 3 1-3 0 0 0 1 1 0 0-4 1 0 1 4 1 1 0-2 0 3 1-3 1-2 0 4 1-1 1 0 0-2 1 3 1-5 2 1 0 1 0 2 0-1 1 1 1 2 0-2 0-3 1 0 1 2 0 2 1-2 0-2 0 3 1-2 1-2 1 6 1-5 2 1 0 2 1-1 0-1 0 3 1-5 0 1 2 5 0-4 0-2 0 3 1-2 0-1 0 6 1-1 0-2 1 0 0 2 2-1 0-3 1 1 0 4 0 0 1-5 1 0 1 0 0 0 0 4 1-2 0-3 0 1 0 4 2-2 1-3 0 1 1 4 0-1 2 1 0-3 0-2 1 3 0 1 1-2 0 4 0-5 1 1 0-1 0 5 3-3 0 0 1 0 0 2 0-2 1 3 0-3 1 2 1-4 0 5 1-3 1 2 1-2 0 2 0-2 1-3 1 1 0 4 1 0 1 0 0-2 1-1 0 2 1-4 0 2 1 1 0 1 1-1 0 1 0-2 1-1 1 0 1 4 0-3 0 2 2-1 0-2 1 3 0-2 1-2 0 6 1-4 0 2 1 1 1-3 0 4 1-1 0-4 1-1 0 2 2-1 0 3 0-3 2 3 1-2 1 3 0-3 1 4 0-4 1 0 0 3 0-2 2-1 0 4 1-6 0 3 1-1 0 3 1-5 1 3 0 0 1 3 0-5 0 2 1 2 0-5 0 4 0-1 1 2 1-2 0-1 1 3 1-2 0 3 1-5 2 5 0-4 0 2 1-1 1 2 1-4 0 2 0 1 0-4 1 5 1 0 0-2 2-2 1 4 0-2 0 1 0 0 1-4 0 3 1-2 0 2 1 1 1-1 1 0 0 1 2 1 1-1 0-3 0 2 2 2 0-5 0 0 0 3 0 3 2-3 0 0 1 0 0 2 1-2 0 0 1-3 0 1 0 0 2 4 1-1 0-2 0 2 1-1 1 0 0-1 1 3 0 1 0 0 1-5 2 2 0 1 0-3 2 4 0-4 2 4 0-1 0-2 1 1 0-1 1 1 0-2 1 5 0-3 1 3 0 0 3-4 0 2 1-3 0 4 1-2 1 2 0 1 1-4 1-1 1 1 0 1 0-3 1 5 0 0 1 1 0-5 1 3 1-2 0 1 1 0 1 1 0-4 1 5 1 0 0-4 0 3 2-3 0 5 2-3 0 1 0-3 1-1 1 4 1 1 0-2 1 1 1 0 1-1 0-2 0 0 1 3 0-1 1-2 0 0 0 1 1 0 1 3 0 0" fill="none" marker-start="url(#mg)" marker-mid="url(#mg)" marker-end="url(#mg)"/><path d="M1523 842l6-2 5 3 5 2-5 5" fill="none" marker-start="url(#mo)" marker-mid="url(#mo)" marker-end="url(#mo)"/><path d="M1463 843l1 0 0-3 1 4 1-4 0 0 0 1 2 0 0 5 1-5 2 0 0 4 0-3 1 2 0-3 2 3 0 0 1 0 0-2 1 3 0-3 2 0 1 3 0-4 1 1 0 2 1-2 0-1 2 5 0 0 0-1 2-5 0 1 1 1 1-2 1 5 0 1 1-4 1 2 0 1 1-4 0-1 1 1 0 4 1-2 2 2 0-4 3 2 0 2 2-4 1 2 1 1 1-3 0-1 1 1 2-1 1 2 1-1 2 0 11 3 9 1 6 2-6 3-5-3-5 3-4-1-2-2-2 2-8 2-3-2-2-1-1 0-2-1 0 3-2 2 0-3-2-1 0 3-1-2-2 1-2-3 0 4-1-2 0-3-2 3-1 2 0-1 0 2-1-3-2 1-1-2-1 2-1-2-1 3-1-1-1 2 0-1-1-2-3 2 0-3-1 0-1-2 0 4-2-2 0-2-1 0 0 4-1 0-1-4 0 4-1-3-1 2-1 3 0-5-3 0-1-1-1 4 0 2 0-3-1 2-1-3 0 1-2-2 0 3 0-1 0 1-1-1 0-2-1 0 0 4-2-1-1-2 0 1-1 1-1-3 0 1 0 3-1-5-2 3-1 2 0-2 0-1-1-2-1 3 0-2 0 5-1-2 0-3-1 1-1-2 0 4-1-4 0 3 0-2 0 3-1 2-1 0 0-3-2 1 0-1 0-3-1 3 0 0 0 1-1 1-1-5-2 5 0 0 0-4-1 5-1-5 0 3 0-3-1 2 0-2-1-1 0 5-1 0-2-2-1 3 0-3 0-1 0 0-1 0-1 1-1-1-1-1 0 0-1 4-2-3 0 0 0 1-1 1 0-2-1-1 0 2-2 1 0 1-1-4 0-1-1 3 0 2-1-2 0 2-1 0 0-2 0-2-1 4-1 0 0-3-1 3 0-4-1 0-2 0-1 5 0-4-1-2 0 3-1 2-1-4-1 0-1 3 0 0-1-2 0 2-1-1 0 1-1-2 0 2-1-2-1 0-1 1 0 1-1 0 0-2 0 0-2-2-1 3 0 0 0 1-1 2-2-4 0 2-1-3-1 3 0 0-1 1 0-2-1-2 0 3 0 1 0-2-1-1-3 4 0-2 0-4 0 5-1 1 0-1 0-5 0 1-1 0-1 1 0 2-2 0 0-1 0 2-1-4-1 4 0-4 0 1-1 3-1-4 0-1-1 3 0 2-1-4-1 3-1-1-2 0-1-1-1-1 0 4-1 0 0 0-1-3 0 1-1 1-1 0 0 0-1-3-1 2 0 0-1-2 0 2 0-1-1 3-2-4 0 1-1 3-1-2-1 1 0-2 0-1 0 5-2-1 0-5-1 3 0 2 0-1-3-2 0 4 0-3-1 0-1-2 0-1 0 1 0 4-2-1 0 0-1-4-1 3-1 1-1-3 0 3 0-4-2 4-1-1 0 0-1-1-1-1-1 5 0-4-1 3 0-2-1 2 0 1 0-6-1 6 0-4-2 2-1-2 0-1 0 2-1 0 0-2-1 3 0 0-2-1 0-1-1 2 0-3-1 1-1 1 0-2-1 3-1 1 0 0 0-3 0 1-1 3 0-1 0-1-2 2-1-4 0 3-1 0-1-4-2 0 0 3 0-3-2 1 0 2 0 1-1-4-1 3-1 0 0-3-1 1 0 4 0-3 0 2-1-4-1 1-1 1-1 2-1-4 0 3-1-3 0 3" fill="none" marker-start="url(#mg)" marker-mid="url(#mg)" marker-end="url(#mg)"/><path d="M1283 846l0 5 0-3-1 0-1 2 0 0-1-2-2 2-1 1 0-3-1 2 0-3 0 1-1 4 0-4 0 3-2-3 0 1-1 1 0 1 0-3-2 2 0 1-1-3 0 4-1-1 0-4-1 3 0-3-1 4-1-4-1 3 0 0-1-1 0 2 0-4-2 2 0 3 0-5 0 3-1-4-1 6 0-5 0 4-1-3 0 0-3 1 0-2-1 3-1-2 0 3-1-1 0-1-2 2 0-3-2 1 0 3 0-4-1-1 0 5-1-2 0 0-1-2 0 1 0 3 0-4-1 0-2 2-1 2 0-3-1-2 0 3-2-2 0 3-1-2 0-2 0 2-1 3 0-3 0-3-1 5-1 1 0-1-1-4 0 0 0 3 0 0-4 1 0-3 0-1-1 4 0 0 0-2-1-3 0 4-1-2-2 0-1 2 0-2 0 1-1 1-1 1-1 0 0-1 0 1-1-3-1 0-1 0 0 4-1-5-1 3 0 0-1 1 0 1-1-3 0 7 0 2 1-3 0-2 2-1 0 4 1 1 1-1 1 0 0 1 0-4 0 4 1-2 1 0 0 0 1-1 1 4 0-3 1 3 0-4 1 1 0 2 1 0 0-2 1 0 0-2 1 0 1 0 0-1 1 5 0-3 0 0 1 3 0 0 1-5 0 4 1 0 1 2 2-1 0-1 0-3 1 0 1 3 1 2 0-2 1 1 0-4 0 1 1 1 1 3 0-3 1 2 0-2 1-2 1 4 0 0 1-3 1-1 0 4 0 0 1-5 1 2 1 2 1 1 0-2 1-2 0 1 0 1 0-2 1 1 2-1 0-1 1 6 0-2 1-2 1 1 1 0 0 2 1-3 0 0 1 1 0-1 1-2 1 5 1 0 1-5 0 3 1 1 0 2 1-6 0 3 2 3 0-3 0 2 0-4 2 5 1-2 1-2 0 2 1-1 2-1 1 1 0-1 1 0 0 1 1 1 0 2 1-1 1-4 0 0 0 1 1 3 1-1 0-1 1 0 0-2 1 1 0 2 0-2 1-1 1 5 0-3 1 1 1-2 0 2 1-2 1-2 0 5 3-4 0 2 0-2 1-1 0 3 1 2 0-4 0 5 2-2 0-3 1 3 1-4 0 5 0-3 0-2 1 5 1 0 1-1 1 0 1-4 0 3 2-2 0 5 0-3 1-1 1 1 1 3 0-4 0-1 1 2 1 0 0 2 1-1 1-2 1 4 0-3 1 2 1-3 0-1 2 2 0 1 0-4 1 5 0 0 1-2 0 3 1-5 0 0 0 3 2 0 1 2 0-2 0-2 1 1 1-3 0 0 1 3 0 0 0 2 1-3 1 3 0-1 1 1 0-2 1-3 2 4 0 1 1-4 0 1 0-1 1 3 1 0 1 0 0-3 0 2 0 0 1 3 1-1 0-2 1-3 1 2 1 1 0 2 2-3 0 2 0-4 1 1 1 1 0-1 1 5 1-2 0 2 1-4 0-1 1 4 0-5 1 4 0 1 1-3 0 4 0-1 0-4 1 0 1 0 0 2 1-3 0 0 0 3 2 1 0-2 3 3 0-2 0 0 1 2 0-3 0 0 0 3 2-4 0 0 1 0 1 2 0 2 1-1 1-1 0-2 1 2 0 0 1-1 3 0 1 0 0 2 1-4 0 5 1-4 0 1 0 2 1-3 2 4 0-1 1-3 0 0 1 1 0 0 1 1 1 3 1-4 1-2 0 4 0-2 0 4 0-3 1 1 1 1" fill="none" marker-start="url(#mg)" marker-mid="url(#mg)" marker-end="url(#mg)"/><path d="M1520 853l6 3 5 0 4-3 3 10-1-4-2 4-1-3-5 1-3 0-1-2" fill="none" marker-start="url(#mo)" marker-mid="url(#mo)" marker-end="url(#mo)"/><path d="M1387 854l1 3 1-4 0 3 0-1 3 3 1-3 0-1 0-1 1-1 0 3 1-2 0 0 0 3 2 1 0-2 1 3 1-5 0 3 1 1 0-1 0 1 1-2 0 2 1-2 0-3 0 1 1 4 1-3 0 3 1-2 0 2 0-5 1 2 1-1 1 4 0-2 0 0 1 0 0-1 2 0 1 1 1-2 0-1 0 2 1 1 0 2 0-4 1 0 1 0 1 1 1 3 1-4 0 1 0 3 1 0 1-3 1 2 0 1 1-1 1-1 1-3 0 3 1 0 1 1 1 0 1-2 0-1 1 1 1 2 1-1 0-1 0 0 1 1 1 0 1-2 1 1 1 1 2-3 2 3 1 3 0-2 1-4 0 1 1 4 1-3 0 2 1-2 2 0 1 4 1-3 0-1 0 3 1 0 1-5 1 4 0-2 1 2 2-2 2 3 1-5 0 1 1 3 1 1 1-4 2 1 0 2 1 2 2-4 1 3 2-5 0 0 1 3 3-1 0 3 1-1 1-1 1-2 1 5 2-5 0 2 0 0 1-2 1 2 2-2 0 2 3 0 1 1 1-3 0 1 0 1 1-2 1 3 1-1 5-3 3 2 1 2 5 0 1 0 2-3 4 2 2 1 3 1 11-1-11 7-8-3 0 1-14 0-1-1-2 3-8-4-3 3 0 0-1-3-1 2 0 1-2-4-1 5-1-3-1 4-1-1 0-4-3 4 0 0-1-4-2 0-1 3-2 0-1-2-1 3-1-2-1-1 0-1-1 0-1 3-1 1 0-4-2 4 0-1-1-4 0 5-1-1-1-1-2 0 0 0 0-2-2 4-2 1 0-2-1-3-2 3 0-1 0 2 0 0-2-3-1 1-1 3 0-5-3 1 0-2-1 3 0 2 0-5-1 3-3 1-1-2 0 1-3-3 0 4-1-2-1 0-1 2 0 1 0-4-1 0-2 3-2 2-1-3-1-1 0-1 0 1-3-1-1 4-1-4-1 1 0-1 0-1-1 5-2-1-1 0-1-4 0 3 0-2 0 1-3 2-3 1 0-4-1-1 0 6-1-3 0-2-1 4-1-3-1 2-2 0 0-4-1 3 0 1-1-3 0-1-1 2-1 1 0-2-1 2-1 0 0-3 0 5-2-5 0 3-1 3 0-4-1 4 0-2-1 1 0-2-2-3 0 4 0-4-1 3 0 2 0-2-1-1 0-1-1 5-1-5 0 2-2 1 0-2-1-2 0 1-1 0-1 5 0-4 0 2-2-2 0 4 0-3-1-2 0-1-1 3-1-1-2 3 0-5 0 2-1 3-2-4 0 3 0 2-1-3-1 3 0-4-1 0 0 4-1-5 0-1 0 3-1 2 0-2 0 1-1-2 0 2-1-1 0-2 0 4-1-1 0 1-2-2 0 3 0-5-2 3-1-2-2 4-1-3 0-2 0 3 0-2-1-1 0 4 0-2 0 0 0 3-1-5 0 3-2 2 0-3 0-1-1 0-2 0-1 0 0 2-1-4 0 6-2-1-1-3 0 4-1-5 0 1 0 0 0 2-1-2 0 3-1-4-2 4-1-4 0 4 0-1-1 0 0-4-1 1-1 4 0-4-1 4 0-3-1 0 0-2 0 4-1-2 0 0-2 2 0 0 0-2-2 3-2-2 0-1 0 4 0-2-1-4 0 3 0-3-2 4 0-4 0 3-1 3-1-3-1-3" fill="none" marker-start="url(#mg)" marker-mid="url(#mg)" marker-end="url(#mg)"/><path d="M1309 858l0 2 0 4-1-3 0-1-1 0 0 2-1-2-1-1-1 5 0-5-1 3 0-3-1 3 0-2-2 1-1-1-1-1-1 0 0 3 0 0-1-1-2-3 0 5 0-4 0 2 0 0-1-3 0 1-1 4-1-3 0 4-1 0 0-2-1 0 0 1-1-2 0-1 0 0-2 3 0-3-1 3 0-3 0 2-2-3 0 3-2 2 0-4 0 1 0-2-2 1 0 0-1 2 0-2-1 2-1-2 0 3-1-1 0-4-1 2-2-1 0 5 0-5-1 4 0-2-1-1-1 2 0-2-1 0-1 3 0-2-1 2-2-1 0-3-1 4 0-2 0-3-1 3-1-1-1 4 0-5-1 1 0 3-1-3 0 1-1-1-1-1-1 3 0-2 0 2-2 0 0-2 0 0-1 3-1-2-1 3 0-2-1-1 0-3 0 1 0 0-1 0-1 5 0-3-1 0 0 2-1-4 0 4-2-1 0 1-2-5 0 4 0-1-1 1-2-2-1 3-1-5-1 3 0 0 0 0 0 2-2-2 0-3-1 1-1 2 0-1-1 0 0 3-1-2 0 1-1-2-1-1-1 5 0-5-1 3-1-3 0 2-1-1-1 4-1-1 0-2 0 0-1-1 0-2-1 5-2-4-1 3 0-1-1 1 0-3-1 4-2-2 2 7 1 0 0-3 0 4 0-3 1 0 0-2 1 5 0-1 1-2 1 2 0-1 0-2 2 3 1 1 0-3 1 3 0-4 0 1 1 3 0-4 0 1 2 1 1-2 0 5 0-4 1 0 1 3 0-5 2 4 0 0 0-2 1-1 0 2 1-2 2 1 0 3 1 0 0-4 1 4 0 0 0 1 1-1 1-4 0 1 1-1 0 3 1 0 1 1 0-3 0-1 0 2 1-3 1 4 0 1 1-2 0 1 0-3 1 4 2 0 1-3 1 2 1 0 1-1 0-2 3 0 0 2 0 2 1-5 0 3 0-1 1-1 1 3 1-4 1 3 0 3 1-3 0 1 0 1 0-5 1 5 1-4 0 1 1-1 1 3 1 1 1 0 0-2 0-1 1-1 1 1 0-1 1 5 0-1 0-1 2-3 1 3 1-4 0 2 0 3 1-5 0 3 0 0 0 2 1-4 1 0 1 4 0-2 0-1 3 1 0-3 0 3 1-1 0 0 1 2 0-1 1-2 1 0 1 2 2 1 0-2 1-1 1 1 0 3 0-1 0-1 1 3 1-3 2 2 0-1 0 1 0-1 0-2 0 1 2 0 1-3 1 1 0 1 0 0 1 1 1-2 0 4 1-3 1 1 1-2 0 2 1 2 0-4 1-1 1 1 0 1 1 2 0-2 1 4 1-5 0 2 1 0 0 2 2-4 1 3 0-2 2-2 1 4 0 0 1-2 1-1 0 4 0-5 1 4 0-2 2 0 0-2 0 6 1-5 0-1 1 3 0-1 1 4 1-3 1 1 0-3 0 4 0 0 1-1 1 2 1-1 0-5 1 3 0-3 2 4 0-3 1 1 1 2 1 1 0-4 1 4 0 0 1-3 0-1 1 2 0 2 2-1 0-3 0 5 1-5 0 0 1 3 1-2 0 3 1 0 1-2 1 0 1 0 0-1 1 1 0-2 1 2 1-3 0 1 1 5 0-3 2-1 2 1 0-1 0 4 0-2 1-3 1 5 0-2 1 2 0-1 2-1 0 0 0-1 3-3 0 2 0-1 1 4 1-4 0 3 0 1 1-3 1 2 2 0" fill="none" marker-start="url(#mg)" marker-mid="url(#mg)" marker-end="url(#mg)"/><path d="M1538 867l-3 4-7 5-1-3" fill="none" marker-start="url(#mo)" marker-mid="url(#mo)" marker-end="url(#mo)"/><path d="M1370 864l0 3 0 0 1 1 0 0 1 1 2-4 0 2 1 0 0 1 0 1 1-3 1-1 0 1 0 2 0 2 1-5 2 5 0-5 1 3 1-1 1 0 1 2 0-2 1-2 0 1 2 2 3-1 0-2 0 4 1-2 0 2 1-4 0 2 0-2 2-1 1 1 0 4 0-1 2 0 0-2 0-1 1 4 3-2 1 2 1-5 2 2 1-1 1 3 0 0 1-2 0 0 1 1 3-3 1 1 0 2 2 2 0-2 0-2 2 1 0 2 2-4 1 5 0 0 1-2 1 2 1-4 0 1 1 1 2 1 1-4 0 2 1-2 0 6 0-4 1-2 1 0 2 2 1-1 0 4 1 1 1-5 1 2 0 3 1-6 0 6 1-2 1-1 0 3 1-2 1 0 1 0 1 1 2-3 1 3 0-3 0-1 2 4 1-3 1 0 1 4 1-2 0 1 2-1 1 1 1-3 1 0 2-2 0 2 1 3 2-4 1 3 2-4 0 4 1-2 1 3 1-3 1-2 1 1 0 3 1 0 0 2 0 0 2-2 1-4 0 3 3-1 1-2 0 1 8-1 1 2 4 0 4 0 6 4 1-1 0-5 6 5 1-3 8 1 1-3 2 1 4 4 12-3 3 5-17 0-4 2-2 1-1-1-4-1-4 2-10-2-5 1-5 0 0 1-4-1-4 0-3 1-2-1-4-2-1 2-3-1-1-2 0 6-2-5-1 2 0 1-1-3 0 4 0-4-1 4-3-2-1 2-1 1 0-3 0 0-1-2-3 0-1 4 0-3-2 1-1 3-1-2 0 2-1-3-2-2-1 1-1 3 0 0-1-2-2 1-5-2 0 1-2 0 0 3-2 0 0-2-2-4-1 1 0-1-1 5-1 1 0-5-1 2-4-1 0-1-1 1-1-2-1 2 0 3 0-2-2-2-1 3 0-4 0 5-1-1-2-3-1 4-1-4-1-1 0 2-2 0 0 2 0-3-3 1 0-1 0 4-1-1-1 0-1 0-1-4-1 6 0-4-3 2 0 2 0-2-2 2-1-3-1 3-1-3-1-2 0 5-1-1 0-2-1-2-1 5-1-3-2 1-1-2 0 4-4-2 0-1-1 3 0 0 0-3-2-1-1 0-2 1-1 2 0-4 0 3-1-2-1 1-2-3 0 0 0 2-1-2-2 1-1 1 0 2-1-2 0-2-2 2-1-1-2-1 0 0-1 3-2 0 0 3-1-5-1 3 0 1-1-3 0-2-2 4 0 0 0-1 0 1-1-4 0 1-1 1-1 3 0-5-1 2 0 2-1-3 0 3-1-3-1 3-1-2 0 0-1 0 0 3 0-5-1 3-1 3 0-3 0 2-1-5-2 4 0-2 0 2-1-2-1-2-1 0 0 6 0-4 0 2 0-2-1 2-1 0-1 1 0-4-1 2-1 1 0-1-1-2 0 2-2-1 0 1 0-2-1 3-2-1 0 3-1-3 0-1-1-2-1 4-1 0 0-3 0-1-1 0-1 4 0-3-1 2-1-3 0 1 0 4-1-1-1 0-1 1 0-3-1 4 0-3-1-3-1 5 0-5 0 4 0-3-2 1 0 2 0 2-1-4-1 3-1-3 0 2 0-4-1 0 0 2 0 0-1 0-1 3 0-3 0-1-1 3-1-1-1 2 0-4-1 1-1 2-1-1 0 1-2-1 0 3-1-6-1 3-1 0 0-3 0 1 0 3-1-2-1-1" fill="none" marker-start="url(#mg)" marker-mid="url(#mg)" marker-end="url(#mg)"/><path d="M1284 872l0-1-2 4 0-4 0 0-1 1 0 2-1 1-1-3 0 2 0-3 0 5 0-3-1 2 0-4-2 3-2-4 0 3-1 2-1-1-1-1 0-3 0 1 0 1-2 3 0-1-1-1 0 2-1-2-1 2 0-4-1 2 0 3 0-5-1 5 0-2 0-3 0 1-1-1 0 5-2-3-2-1 0-1 0 1 0 3-1-4-1 5 0-4 0 1-1 0-1-1-1-1 0 4 0-4-1 2 0-2 0 0-1-1-1 5-1-4-1 0-2 2 0 2 0-4-1-1 0 0 0 2 0 0-1-1-1 4 0-3 0 3-2-1-1-2-1 3 0 0-2-2 0-3 0 6 0-5 0 2-1 0-1 2-1-2-3-2 0 4 0-5 0 2 0 3-1 0 0-1 0-3-2 2-1 2 0-2 0 0-1 1-1-3-1 1-1 4-1-2-1 2 0-6 0 5-1 0-1-1 0-3 0 4-2-5 0 3-2 1 0 0-1-1-1 3 0-1 0-4 0 3 0 4 1 3 1-1 0-4 1 3 1 1 0-4 1 3 0 2 1 0 1-3 0 1 0 0 1-2 2 5 0-3 0 2 1-3 2 0 0-2 0 1 1 4 1-5 0 4 1-1 0-2 0 1 1 2 1-1 1 0 1 1 0-4 2 4 0 1 0-2 1-2 0 1 1 2 1-3 0 2 1 2 0-3 1 2 0-4 1 5 1-3 0-1 0 4 1-2 1 2 1-3 1-1 1 1 0 2 1-3 1 2 0 0 0 1 1-4 0 3 1 0 1 3 0-3 0-1 0-2 1 4 0 0 1-1 1-3 2 5 0-4 1 2 0 2 0-1 1 0 1-1 0-1 1 1 0-3 1 6 0-3 1 3 0-3 2-1 0 2 0 0 1-1 0-3 1 4 0-1 0 1 2-1 1 1 0-3 1 1 0 1 1-1 0 1 1-2 0 2 1 0 1 2 1-2 0-3 1 4 1 1 0 0 1-3 0 2 1-2 0 0 1 0 1 2 0 1 0-5 1 1 2 3 0 2 1-4 0-2 0 2 1 0 1 3 0-5 0 2 1 2 1 0 1-3 0 4 0-2 1-3 0 2 1 3 0-2 2 2 0-2 0 0 1-1 2 1 0-2 0 1 2 2 0 1 0-2 0 0 1-1 0 2 1-2 2 3 0-2 1-1 0-1 1 2 0-3 2 6 0-2 1 1 1-3 0 1 1 1 0-2 0 3 1-2 0-2 1 2 0 1 0-2 4 0 0 0 2 1 0-2 0 3 0 1 2-3 0 3 1-3 1-2 1 1 0 0 0 3 1-2 0 2 0 1 1-3 0 2 1-2 2 1 1 1 0-1 2-1 1 2 0-3 1 0 1 4 0-3 2-1 0 0 0 4 2 1 0-6 1 3 1-3 1 5 2-2 1-3 2 3 0-1 1-1 2 2 1 2 0-4 1 2 2-3 1 3 0 2 0-2 1-3 2 2 1 3 0-3 1-1 0 2 0 2 0-4 1 1 2 2 0-4 1 1 1 5 1-6 0 2 0 3 2-4 1 5 2-2 0 0 1-4 1 5 1-3 0 2 2 1 0-1 0 2 0-5 4 2 1 1 1-2 1 0 0 2 3 0 3-1 1 3 0-4 0 1 2 2 2 0 1 0 1-2 1-1 1 2 1 0 4 0 0-1 2 0 1-3 0 6 1-2 2 1 0-2 2-2 0 2 0-1 1 1 0 1 2-1 1 0 1-3 0 5 2-4" fill="none" marker-start="url(#mg)" marker-mid="url(#mg)" marker-end="url(#mg)"/><path d="M1502 880l5 1 15-1 2-1 3 0 8 0 1 3 1-4-6 6-5 1-5 1-15-2" fill="none" marker-start="url(#mo)" marker-mid="url(#mo)" marker-end="url(#mo)"/><path d="M1419 880l1-3 0 2 3-1 0-1 1 3 1 2 1-5 0 0 4 5 0-5 2 4 0 0 1-2 0 3 0-4 2-1 1-1 0 5 0-5 0 2 1 1 1-1 2-1 1 4 1-1 1 2 0-2 1-4 2 4 1-1 0 0 2 1 1-4 0 5 2-2 1-3 1 0 0 2 1 1 0 2 1-3 0 2 4-2 2 0 0 3 3-2 1-1 2 0 1 3 7-3 2 1 3-3 4 6 2-2 5 1 2-4 1 4 3-4 2 0 10 1 8-1 16 6-17 2-1-2-7-1-12 2-4 0-7 3-4 0-4-1-2 0-2-3-15 1-3 1-5-2 0 0 0 1-2 0 0 3-1 1-2-5-1 4-2-4-1 4-1-1 0-4-1 3-3-1 0 2 0-2-3 0 0 2-1 0-2-3-1 1 0 1-1 1-1-4 0 5-2-1-1-2-2-1 0 4 0-1-2-4 0 6 0-2-1-4-1 1 0 5-1-4-2 0-1-1-1-1 0 4-2-1-1 1-1 2 0-4-2 3-1-5-2 5 0-3-1 2 0-2-1 3-2 0 0-2 0-2-1 4-3-3 0-2 0 5-1-3 0 2-3-4 0 4-1 1 0-3-2 0-1 4-1-6-1 0 0 6 0-2-1-1-2 0 0 3-1-6 0 1-2 4 0-3-2 3-1-4 0-1-1 6-1-4-1 3-1-2-2 0-2 0-1 0 0 1-2 1 0-4-1 4-1-2 0-2-2 0-1 3-2-3 0 4-1-4-3 4-1-1 0-2-1 2 0-2-3 3-1-4 0 1 0-2-2 5 0-4-1-1-1 5 0-4-1 1 0-2-1 2-1 0-2 1-1 2-1-2-2 0-1-3 0 6 0-2-3 2 0-4-1 4 0-4-2 3-1-5-1 4-1-1-1-2 0 5-3-6 0 3-1 2 0-4-1 2-1 0-1 1-1-2 0 0-1-2-1 5 0-4-1 3-1-4 0 2-2 4-1-3 0-2-1 3-2-4 0 6 0-4-2 2 0-2-1 1-1 2 0-4-1 4-1-4-2 0 0 1-1 1 0 0-1-3 0 2 0-1 0 3-1 0-1 1 0 1-2-1 0-4 0 3-1-3 0 3-3-2 0-1 0 3-1-1-1 2 0 1 0-6-1 3 0-2 0 3-1 1-1-4 0 4-1-2-1 1 0-3-1-1 0 6 0-4 0-1-1 2-2 3 0-1-1 1-1-4 0 2 0-3-1 1-1 1-1 1-1 1 0 0-1-3 0 0-1 1 0-3 0 0-2 4-1-3 0 5 0-1-1-4 0 2-1 0 0 0-1-2-1 2-1 2-1-4 0-1-1 6 0-2-1-3-1 5 0-5-1 5 0-4-2 3-1-3-1 3 0-2-1-1 0 2 0-3-2 2 0 2-1-2-1-2 0-1-1 5 0-5-1 4 0-3 0 4-1-2 0 0-1-1 0 4-2-5 0 3 0 0-2-4 0 5 0-3-1 2-1 0-1-2 0 1-2-1 0 3 0-4-2 4 0-2 0-3-2 1 0 4-1-4 0 1-1 2 0-4-1 6 0 0-1-4-1 3-2-2 0-2 0 3-1 0 0-3 0 0-1 4 0-3 0-2-2 5 0-2-1-2 0 5-1 0 0-4 0 3-2-5-1 1 0 5 0-2-2-3-2 10 2 0 0-1 0-4 0 1" fill="none" marker-start="url(#mg)" marker-mid="url(#mg)" marker-end="url(#mg)"/><path d="M1488 891l8 2 6-2 21 0 16 5-3 3-9-2-3 2-4-3-6-2-1 5-2-2" fill="none" marker-start="url(#mo)" marker-mid="url(#mo)" marker-end="url(#mo)"/><path d="M1216 890l1 0 0 2 0 1 1-1 0 2 0-5 0 3 0-3 3 2 1 2 0-2 1-2 0 4 1-4 0 3 1 1 0-3 1 3 1 0 0-3 1 2 0-1 1-2 0 0 0 4 0-1 2-1 1 2 1-4 0-1 1 4 0 1 0-5 1 5 0-4 1 1 0 3 2 0 0-3 1 4 0 0 0-3 0-3 2 1 1 0 0 4 1-2 0-2 0 4 2-1 2 1 0-3 1 1 0-2 2 3 0-1 1 2 0-1 0-2 1 3 0-3 0 4 0-2 1-3 0 2 1 1 1 1 0-4 2 2 0 1 1-1 0 3 2-5 0 0 0 1 1 2 1 0 1 1 0 0 0-4 1 2 0-3 3 4 0-2 1 3 0-1 0-2 0 2 1-2 1 3 1-4 0 0 0 3 1 1 1-2 1 1 0 0 1 0 1-4 1 6 1-5 0 2 1 1 0 0 1-2 1 0 0 0 1 2 0-3 0 1 3 0 0 1 1 0 3-1 0 4 0-6 2 4 1-2 1 1 1-3 2 1 0 0 0 3 2 0 2 1 1-4 0 2 1-1 1 3 2-2 0 1 1-2 1-1 1-1 1 3 3 0 0-2 1-1 1 4 1-2 1 2 1-3 1 3 1 0 2-3 1 3 1-1 1-2 1 4 1-2 0 3 1-2 0-2 2 2 1-2 0-1 1 4 1 0 1-4 2 3 2-2 1 0 1 1 0-3 0 5 3-5 1 5 1-2 1 0 1 3 1-6 2 5 2-4 0 2 1-1 0 3 0-2 3-2 1 4 1-1 1 0 1-4 1 6 2-6 0 4 1 0 0-3 0 1 3 3 1-3 0 2 4-3 0 5 1-6 0 3 2-3 0 5 1 1 1-6 1 0 0 0 1 5 2-3 0 1 3-1 0-1 1 5 0-2 4-4 0 4 1-3 1 5 0-3 0 2 0-2 1-2 3 3 0 0 0-4 2 1 0 4 2-4 0 3 1-4 2 4 0-2 2 4 0-1 1-3 2-1 0 1 1 2 2-4 0 4 0 1 1-5 1 1 0 4 2-4 2 4 1-2 1 2 2-4 1 3 0-3 1 3 1 1 0-3 2 3 0-1 2 0 0 0 1-2 1 0 1 3 2-1 0-4 1 5 1 0 1-2 0 2 3-2 1 0 1-1 0 3 1-4 2 2 0-1 3-2 2 4 6 0 2 1 8-1 5 1 9-5 2 6 2-1 2-5 7 4 9-2 11-1 3-1 16 1 4 0 4 0-5 8-4 1-2-3-7 3-14-3-11 1-6 0-3 2-3 1-8-5-2 4-1 1-4-2-6-1 0 3-7-1-2-3 0 4-7-4 0 3-1 2-1-4-4 2-3-2-1-1-1 3-1-1-2-2-2 2 0-1-3-1 0 0-1 4-1 1 0-5-1 3-1 1-2-4 0 3-2-3 0 5-1-4-1 1-1 1 0-3-2 0-1 2-1-3-1 3 0-1-1 4-1-2-1 1-2-5 0 2-1 1 0-2 0 4-1 0-1-3-2 1-1-2 0 5-1-2 0-1-2-2 0 2 0 2-2-3-1-1-1 2-1-1-1 2 0-1-2 1-1-1 0 0-1-1-2-2-1 5 0-1-1 2-1-6-2 1 0 5 0-2-2-3-2 5 0-1-1 0-2-5-1 2-2 3 0 1 0-2" fill="none" marker-start="url(#mg)" marker-mid="url(#mg)" marker-end="url(#mg)"/><path d="M1505 888l-1 7-9 2" fill="none" marker-start="url(#mo)" marker-mid="url(#mo)" marker-end="url(#mo)"/><path d="M1368 899l0-4 0-1-2 0-1 5-1-3 0 4-1-5 0 3-3 0-1-3-2 4 0-4-1 4-1 0-1-4-1 0-2 3 0-1-2-1 0 3-1-2-1-3-1 1-1 2-2-3 0 3 0 2 0-1-1-2 0 4-3-4 0 1-3-2 0 3-1-2-1 3 0-4-2 2 0 2-1-5-1 6 0-2 0-1-3 1 0-3-3 2 0-2 0 0-1 1-1 1 0 3-2-3 0-2 0 0-3 4-1-4 0 3-2-4-1 5 0-4-1-1-2 5-1-3-1 0 0 1-2-1 0 1-1 2-2-3-1 2-1-2-2 1-1 0-1-1-1 4 0-1 0-5-1 1-2 5 0-3-1 1-1-3-2 0 0 4-1-2 0-2 0 5-1-5-1 1 0 1-2 1-1 0 0-3-2 2-1 3 0-3-1-1-1 2 0-1-1-2-1 0-1 2-1 3-2-3 0-2-2-1-1 1-1 0 0 2-1 2 0-4-1 4-1-4 0 0-1 5 0-3-1 2-1-4-2 0 0 1 0 2-2-1-1-2 0-1 0 3-1 2-2-1 0-2 0 1-2-3 0 4 0-1-1 2-1-1-1-2 0 2 0 1-1-4 0 2-1-2 0 0-1 2-1 2 0-4 0 2 0-2-1 0-1 3-1-4 0 0 0 6 0-2 0-1 0 0-2 0-1 1-1-1 0-1-1-1-2 2 0-1-1 4 0-6 0 5-1 1 0-6 0 1-2-1 0 5-3-2-1 1 0-1 0-2 0 0-1 3-2-2 0 4-1-3 0 1-1 0-1-2 0-2-1 2 0 2 0-4-1 4-1-2-1 2 0 2-1-4 0 3 0-2-2-2-1 7 1-1 0 5 1-5 1 2 0-2 0 4 2-4 0 3 1-1 1-3 1 5 0-1 1-3 0 4 0-4 1 1 1 0 0 2 0 1 1-2 2 0 0-3 2 1 1 5 0-5 0-1 0 1 1-1 0 2 2 1 1 1 0-4 2 2 2 4 1-5 1 2 1 0 1 1 1-3 2 3 0-1 0-2 1 3 3-2 2 1 1 1 1-4 1 3 2-1 1 0 1 3 2-5 1 5 2-2 1 0 0 2 2 1 0-2 1-3 1 2 1 1 1-4 2 1 0 2 2-3 2 5 0-1 1-1 1-1 1 3 0-4 2 3 1-3 0 3 4 1 0 0 0 0 0-3 3 3 1-2 0-2 1 3 1-1 3-2 1 2 1 1 0 1 0 1 2-4 1 0 1 1 0-1 0 0 1 3 1-1 1 2 2-4 0 1 2 1 0-4 1 1 0 2 0 3 1-1 2-4 0 2 2-2 0 4 1-1 1 1 0-3 1-2 1 5 1-3 1 3 3 0 0-5 1 4 1-3 0 4 3-1 0 1 0-4 1 0 1 3 0-1 3-2 1 1 2 3 1-3 0 4 1-5 1 1 1 0 1 2 3-4 2 5 0-2 0 1 0-3 4 0 1 1 0 1 2-2 1 3 1-1 0 2 2-4 1 1 2 0 0-1 0 3 1-3 0 2 2 2 1-5 1 3 1-1 1 3 0-2 0 2 2-2 1 2 2-4 1 2 2-3 1 2 0-2 1 3 3-1 1 0 2 2 0-3 0 5 2-2 1-2 1 4 0-2 1 0 2-3 2 2 1 2 1-2 0-3 0 1 0 2 1 3 2-1 0 0 3-1 2 0 0-4 0 4 1 1 3-2 1-2 1 4 4-1 0-2 0 2 2-3" fill="none" marker-start="url(#mg)" marker-mid="url(#mg)" marker-end="url(#mg)"/><path d="M1477 904l12-1 5-2 11 0 6 3 5 0 3 1 15 6-3-1-10-2-2 4-13-1-10 0-14-3-1 2-18 0-8 1" fill="none" marker-start="url(#mo)" marker-mid="url(#mo)" marker-end="url(#mo)"/><path d="M1414 903l1 1 6-3 1 0 4 1 0-1 11 1 5 0 4 3 3-2 10 3 5-2 2-3 4 2 21 0 9-2 6 1 10-1 8 4 6-2 3 2 4-4 1 8-4 1-8 0-9 2-6-2-10-3-8 4-6-4-5-1-7 6 0-6 0 3-7-2-10 1-1-2-3 5-5 0-1-3-7 2-3-1-3-1-21-2-2 1-1 2-2-2-1 3-1-1-1-3 0 1-3 4 0 0-1-1-1-4 0 2 0 3-2 0 0-3-4-1 0 5-1-4-2 2 0 2-1-5-1 3 0-3 0 5-1-6 0 6-2-3-1 2-1-5 0 3 0 0-2-2-2 0-1 1 0-2-2 4-1-3-1 1-1 2-2-3-1 3 0-4-1 5 0-3-1 2-1 2-2-3-3 1-2-4 0 3-2 1 0 0-1 1 0-5 0 4-2-4-1 6 0-5 0 1-2-1-1 1-2 2 0-1 0 3 0-5-1 5-1-2-1-3-2 1 0-1-1 1-2 1-1-1 0 3-2-3 0 3-2-4 0 1-1 3 0-2-1-2-1 3-1-2-1-1-1 2-1-3 0 4-2 0-2-2 0-2-1 5 0-1 0-4-2 1-2 2-1-2-2 2 0 2 0-4-1 3-1-1-3 0 0 3-1 0-1 0 0-5-1 0-1 2-1-1-1 3-1-2-1-2-1 0 0 4-2-3-2 1-1-2 0 4-2 0-2-2 0-2-2 2-1-1-1 2-1 1 0-5-1 1 0 4-1-1-2 1 0 0-1 1-1-3-1-2-1 3-2-3-1 0 0 4 0-1-2 0 0-2-1-1 0 4-1-2 0-3-2 5-1-4 0 3-1-4-1 5 0-2-1-1-1-1-1 0-2 1-1 2-3 1 0-1-1-4 0 2-3 3 0-5 0 4-1-4-1 3-1 1 0-4-1 3 0 3-1-3 0-2-1 5-2-3 0-2-1 3-2-1-1-3-2 6 0-2-1-1 0-1-1 4 0-5-1 4-1-1-1-1-2 2 0-2 0-2-1 3-2-3 0 3-2 2-1-1-1-1 0-4-1 2-1 2-2-3 0 1-2 1-1 0-2-1-1 3-1-4-1 1-1-1-1 1-1 3 0-5 0 0-1 5 0 5 1-1 1 3 0-3 2 2 1-2 1-3 1 6 1-5 1 1 1 0 1-1 1 0 1 2 1-1 1 0 1 3 1-3 0 0 2 3 1-2 1-2 1 3 0 1 1-1 0-3 1 2 0 2 3-3 1 3 1-4 2 1 2 2 0-1 0-2 2 3 0-3 0 3 1-2 3 0 0 3 0-4 1 5 2-1 1-1 0-4 0 5 0-3 3 3 1-4 1 1 0 0 1 2 2 1 0-2 1 1 0-4 1 2 1-1 1 1 2 0 0 1 2 3 1-4 2 0 0 4 1-2 0 1 2-2 1 2 0-4 3 3 1-3 0 4 2 0 1-2 1 0 1-1 0 3 2-1 1 1 2 0 0-4 1 3 1 1 1-4 0 5 1-3 2 0 0-3 1 3 2 3 0-3 1-2 1 2 0 3 1-4 1 1 1 2 1-2 0 1 1 1 1-2 1 1 1 0 2 1 1-1 0-3 0 2 1-3 2 5 2-4 0 2 0-3 2 4 1 1 1-1 1-1 1-1" fill="none" marker-start="url(#mg)" marker-mid="url(#mg)" marker-end="url(#mg)"/><path d="M1503 903l37 1-22 5" fill="none" marker-start="url(#mo)" marker-mid="url(#mo)" marker-end="url(#mo)"/><path d="M1451 917l9 0 11-2 9-1 7-1 21 3 4-1 9 1 1 1 1-3 0 3 4 0 1-4 10 4 1 5-3-2-12 2 0 1-2-1 0-1-4 1-3 1 0 1-2 0-4-6 0 3-3 1-3 1-7-1-3-1-10 2-14-1-8 0-7 2-9-1-1-4" fill="none" marker-start="url(#mo)" marker-mid="url(#mo)" marker-end="url(#mo)"/><path d="M1327 915l1-3 1 5 0-4 0 2 1-2 0 4 3-1 0 0 1-2 1-1 1 5 1-3 2 1 0 0 2-4 0 3 2-2 1 0 1 4 0-1 1-3 1 4 1-3 1 0 2 3 1 0 1-5 0 2 1 4 1-3 0-3 3 5 0-1 1-2 2-1 0 3 0-1 2 0 1 2 1-4 0 4 0-4 2-1 1 3 1 1 0-3 1 3 0-3 2-1 0 2 1 3 2-1 1 1 1-4 0 0 1 4 0 0 2-3 0 0 1-1 0 0 1 4 1-2 0-3 1 6 1-1 1-3 4 2 1 0 1-2 0 3 3-4 1-1 3 5 1-4 2-1 9 2 2 3 2-3 4-1 4 1 9 2 3-4 0 5 8-5 2 1 0 3 6-4 4 4 7-4 3 3 5 2 2-1 7 1 9 0 3-3 14-1 11 4 7 0 14-2-19 6-26-1-3 1-7-2-4 4-12 0-15 1-9-3-9 2-3-2-3-2-2-1-1 4-7-3 0 4-3-1-5-2-6-1 0 2-5 1 0-3-3 5-5-6-3 0-1 1-1 2-1-1 0 2-3-3-1-1-1 2-2 2-1 0-1-2-1 2 0-3-2 1-1 3 0-2-2 0-3 0 0-3-1 3-1 1 0 2-1-1-2-3-2 1 0 1 0 2-1-4-1 2 0 2-1-5 0 0-1 3-1-2-4 0 0 0-2-1-1 4-1 1-1-1 0-4-1 0-1 0 0-1-1 2-1 3 0 0-2-2-1 1-1-2-1 2 0 0-1-2-1 4-2 0-1-4 0-1-1-1 0 5-1-1-1-3-2 4 0-2-3-3 0 4-1 0-2-3 0 2-1 2 0-5-2 3 0 0-1 2-2 0 0-1 0-2-3 1-1 2-1 0-1-2 0 0-3-2-1-1-1 5-1-2-1-1-2 3 0-5-1 5-1-4-1 2-1-1-1 2-2 2-2-1 0-3-1 0-2-1-2 4 0-4-1 4-1-2 0 1-2 2-1-5 0 4 0-5-3 5 0-2-1-2 0-1-2 5-1 0 0-1 0-3-3 3-1-3 0 1 0 4-2 0 0-6-2 3 0 0-1 1-2-2 0-2-2 6-1-2 0-4-1 2-1 3-3-2-1 2 0-1 0 0-3-2 0 3-1 0-1-3-2 1-1 1 0-4-1 6 0-4-1-1-1 1-2 2-1-3 0 2-1 2-3-2 0 2-1 1-1-3-1-1 0-1-2 5-1-3-1-1 0-1-1 0 0 5-2-6 0 3-2 1-1 0 0-3-1 0-1 0-1 2-1 2-2-1-2 0-1-4 0 7 1 3 8-4 0 1 1 0 0-1 2 5 2-3 1-1 3 2 2 2 0-4 2 1 2 2 1-3 2 2 0 1 0-3 2 3 2-3 1 1 1 2 1-2 0 1 2 0 4-2 1-1 0 1 1 4 2-4 0 0 5 1 0 1 1-3 2 1 1-1 1 1 3 0 0 1 3-1 2 0 3 3 1-4 4 5 4-1 3-4 0 1 6 4 0-5 8 1 2 1 0-2 2 5 0-4 1 5 2-5 5 0 4 0" fill="none" marker-start="url(#mg)" marker-mid="url(#mg)" marker-end="url(#mg)"/><path d="M1482 913l19 5 2-4 12 9" fill="none" marker-start="url(#mo)" marker-mid="url(#mo)" marker-end="url(#mo)"/><path d="M1431 929l4-4 7 3 3 0 4-2 17 1 1-1 27 0 5 1 1 1 12 2 0-1 2 0 1-1 3 0 3 0 1 0 1-2 0 0 6-2 7 3 3-1-4 7-8 1-1-1-2-2-3 0-1 0-5 5-1-3-1 2 0-3-1-1-2 4-2-2-2-1-3 3-2 1-1-4-3 1-1 3-4-3-7 1-8-4-8 1-6 1-4 2-5 2-12-2-1 0-7 2-1-3-4 0-5 1-154 0-9-1-1 0-24-1-12 1-1 3 7 0 17 3 13-2 155 2 5-2 1 4 8 1 22-5 4 5 3 0 8-1 4-5 0 4 9 2 6-1 4-1 3 1 1 1 2-2 2 1 3-3 3 2 0-2 1 3 2 1 0-3 2 2 3-3 0 2 1 1 1-3 5 0 0-1 4 2 1-1 2 3 0-4 4 3-2 6 0-2 0 4-3-3 0 1-1-3-2 3-1-3-1 4-1-4-1-1-1 2-1 3 0-4-1 3-5 1-1 0-2-2-1 3-1-2-1-3-4 3 0-3-3-1-1 2-4 2 0 1-1 1 0-5 0 2-2-2-1 4 0-3-5 1-3-1-3 1-1-1 0 2-8 2-1-3-3 2-5 1-1-1-3 0-5-3-8 2-2-4-2 3-5 1" fill="none" marker-start="url(#mo)" marker-mid="url(#mo)" marker-end="url(#mo)"/><path d="M1320 924l1 5 4-4 1-1 6 1 4 1 2 1 0-1 4-1 1 1 1 0 1 0 3 0 0 0 1-1 1 5 1-6 0 1 2 1 7 3 3-2 7 0 4 1 2 0 6-1 6 0 2 1 1-4 1 6 3-4 5 0 5 4 2-5 2-1 2 4 1 1 6 0 1 0 4-4 7 2 8 0 16-1 19-1 2 4 5-3 7 2 2 1 16-1 5-1 5-1 2 4 2-5 0 4 1-4 5 0 5 2 9 5-8-1-6 4-1-4 0 4-1-3-2 0-1 4-2-3-2-2-4 3-1 0-1 2-3-1-2-2-2-2-2 3-3 2-11-1-5-4-5 3-22-3-9-1-7 6-2-6-14 4-8-1-5 0-14 2-3 0-6-5-5 4-7-3-7 3-2 1 0-1-6 0 0 0-5-1-7 2-3-3 0 2-6 0-3-4-6 3-2-3-5 1-4 3-5-1-7 3-5-5-3 0-4 4-2-2-3 1-4-3-4 5-1-4-5 0-1 3-1-4-9 2-11 0-4-2-8 3 0 1-2-1-1-3-3 4-6-4-5 4-2-5-7 4 0 1-4-3 5 7 2 1 11 1 4-1 8 0 5-2 5 1 2-1 10 3 1-1 6 1 7-1 8-3 1 3 4-2 0 3 4-1 4-3 4 5 1-6 3 6 7-6 0 4 2-1 2-2 3 1 5 0 5 0 1 2 3-2 4-2 17 1 2 4 3-1 5-3 3 5 4 0 1-4 4-1 1 4 3-3 2 2 1-4 1 5 4-1 5 0 5-2 3-1 1 5 4-5 8 3 7 2 11-3 11 2 2-4 26 3 1-4 6 3 6 2 1-2 4-2 4 1 3 0 0 2 1-4 4 3 1-1 1-2 1 0 5 3 4-2 2 1 2 2 0 2 1-1 0-4 6 5 0-4 1 4 6-3 4 0-4 6-11 0-10-2-1 4-4-4-6 4-2-1-2-2-1 1-2 1-8 0-2-1 0 0-3 2 0-2-4 3 0-2-1-2 0 4-3-1-1-3-2 1-3 1-2 1-2-1-8 0-7 1-9-5" fill="none" marker-start="url(#mg)" marker-mid="url(#mg)" marker-end="url(#mg)"/><path d="M1460 929l45 0 2 1-33 2-12 4 72 1-12 8-11-1-41 1" fill="none" marker-start="url(#mo)" marker-mid="url(#mo)" marker-end="url(#mo)"/><path d="M1409 944l-1-1-6 1-144-1-12 2-25 2 42 4 115 3 12-3 10 2 7-2 0 2 10-1 6 1 6-2 1 2 2-5 0 5 4 0 3-3 2-2 2 2 1 3 1 0 1-1 4 2 4-2 3 1 0-3 3 2 2-3 1-1 2 0 3 3 0 3 4-5 1-1 2 4 2 2 1-3 4 1 4-1 2 1 2-1 3 1 1 0 0-3 5 3 0 0 3 1 3-2 0-2 3 2 0 2 2-2 0-1 3-2 0 4 3-3 2 5 1-3 2-3 1 3 1-1 3-2-2 7 0-1-5 5-2-2 0 0-1-2 0 2-2-2-1-1-6 0-1 6-3-6-1 4 0-1-1 2-2-2-1-2-1 2-2 2-2-1 0 1-2-2-1 2-2-3-4 2-3 0-1-4 0 4-1 1 0-3-2 4-2-2-3 1-1-3-2 1 0-2-1 5-1-6 0 2-4 1 0-2-2-1-1 3-1 0 0-2-2 0-1 3-1 1-3-3-3-1-1 1 0 3-2 1 0-3-3-1-1 2-2-1-1-1-2 2-1-1 0-2-3-1 0 0-1 4-7-3-6 4 0-2-5-2 0 4-1-2-1 1-1-2-4 1-3 1-1 0 0 2-5-1-1-2-1 2-3-1 0 1-4 0-3-3-1 2-4 2-1-5-3 3-5 1-4 0-13 1-88-3-23 1-3-2" fill="none" marker-start="url(#mo)" marker-mid="url(#mo)" marker-end="url(#mo)"/><path d="M1429 947l-12-1-2 2-6 0-2 0-8-5-2 2-7 2-10-4-5 5-7-1-4-1-5-1-59-2-5 1-6-1-2 3-8 0-2 0-4 0-6 2-3-5-5 2-5-2-11 4-2-3-2-2-4 1-3 3-5 1-3-4-6 0 0 8 10-2 2 1 6 2 3-3 7 3 0-2 6 2 4-3 11 4 1-3 2 0 8 0 7-2 71 5 10-5 4 5 0-4 1 2 1 2 7-2 5 0 5-2 8-1 5 4 12-3 0 4 6 1 6-6 1 5 1 0 2-3 5 3 2-3 1 3 1 0 0 0 8-3 1 3 1-3 3 3 0-5 1 4 0-3 2 5 0-3 0 3 5-5 9 4 0-4 0-1 3 4 8-4 2 2 0 2 1-2 2 0 3-2 0 1 7 5 1-5 0 4 3-4 4-1 0 3 6-2 3 4 0 0 6-5 4 5 2-1 3 0 1 0 1-3 1 1 2 0-8 7 0 1-3-1-1-2-6 2-1 2-2 0-1-1-1-3-1-1-1 4-3-3 0 3-2-3-3 0-3 1-2 4-1 0-4-4-2 2 0-3 0 0-1 2-1 3-1-5-2 0-1 3-5-4 0 5-2-5 0 1-1 0-9-1-5 2-5 3-1-3-1 2 0 1-6-1 0-1-2-2-9 1-4 3-3-2-1 0-2 0 0-3-1 4-4-2 0-1 0 1-1 3-2 0-3-4-1 4-2-4-2 2-3 2-6-1-3 1-1-2-2 2-4-4-5 4-2 0-2 1-1-2-3 1-1-1-5 1-3-2-3 1 0 1-3-5-2 3-1 1-1 0-1 1-2 0-2 1-5-3 0 1-1 0-2 0 0 1-2-2-1 2 0-1-3 0-3 1 0-3 0 4-1-1-2-3-1 2-2 2 0-2-2 0-1 0-2 2-1-2-4-1-1 2-1-1-1 0 0 1-7 0-34-3-3 1-2-2-9 1-2 4-3-4-4 0-1 2-2-1-4-1" fill="none" marker-start="url(#mg)" marker-mid="url(#mg)" marker-end="url(#mg)"/><path d="M1433 951l19 1 7-2 2 2 4-1 13-2 32 0 6 2 2 4-26 0-9 5-57-2-12-2" fill="none" marker-start="url(#mo)" marker-mid="url(#mo)" marker-end="url(#mo)"/><path d="M1231 959l-3-4 12 6 8 1 12 0 66 2 2-1 3 1 2 0 2 0 2-2 2 4 1-3 2 3 2-3 5-1 1 2 1-3 0 4 1-2 4-1 3-1 1 1 0 0 0 2 4-1 3-1 2 4 1-4 1-1 0 5 1-4 3 3 1-5 3 4 3 1 2-1 2 2 0-2 3 0 1-3 7 0 4 4 2 1 1-4 1-2 3 3 2 1 0-4 4 3 1-1 1 0 4 1 1 0 1 1 2 2 1-5 0 0 0 0 1 5 3 0 1-2 1-1 0 3 4-4 0 2 3 1 1-5 0 5 0-2 1-3 6 5 1-2 0 1 2-1 0-1 3 0 3 2 1-4 1 3 1-2 1-1 0 1 1 2 1 3 0-5 3 1 0-1 0 0 3 1 0 4 1-6 2 5 2-2 5 0 10 2 1 1 2-5 1 2 1 1 1 1 2-3 2-1 2 0 3 0 0 4 1 0 2-1 0 1 2 0 2 1 3-1 1-3 0 2 2-3 1 3 0-1 1 1 0-3-4 10 0-2-4 1-1-3 0 1-2 2-2-3-2 0-2 1-1-2-2 2-2 0-1 1-1 3-2-1 0-2-1-1-2 0-4 1 0 3-2-6 0 0-3 3 0-1-2-2-1 1-2 0-1 4-1 1 0-3-3-1-3 0-6-2-3 3-1 3-6-4-1 1-1 2-2-2-2 0-2-2-3 1 0 2-8 0-2-2-3-2 0 4-2-2 0 3-3-3-2 1 0-2-4 3-3-4-2 5-1-3-1 1-4 2-2-2-1 1 0-4-1 4-4 1-1-1" fill="none" marker-start="url(#mo)" marker-mid="url(#mo)" marker-end="url(#mo)"/><path d="M1237 958l-3-1-8 3-2-4-2 0 7 8 4-2 8 2 4-1 3-1 4 3 5-1 3 1 7-2 7 1 17 1 1 1 2 0 3-3 4-1 0 0 1 2 2 0 0 1 3 1 0-6 0 1 2 2 0 0 0 2 1-3 2-1 0 0 1 3 0-3 2 3 1 1 0 0 1-5 1 2 0 3 2-2 1 2 0-5 1 0 2 0 1 2 1 2 3 2 3-6 4 4 4-3 1 3 1-1 1 2 5-5 5 6 1-2 0-2 5 3 1-4 1 0 2 4 2 0 5-3 1 3 3-1 3-1 2 2 3-1 1-2 2-1 1 1 4 0 1 0 1 4 1-3 2 3 2-2 2-3 0 0 1 4 1-3 5 2 2 1 0-4 1 1 0 3 7-1 1 0 3 2 0-5 2 4 1-2 4-1 2-1 6-1 3 4 1-1 1 0 3-2 1 0 3 0 3 4 4-3 0 4 8-3 3 1 1-1 3-1 1-2 0 4 3 1 0-2 2-2 0 4 1-2 2 0 3-1 5 0 2 1 6 1 2-1 0 0 11-3 1 1 0 4 0-2 3 0 1-2 7 4 0-1 2-3 2 2-6 3-1 3-1 2-4-5-2 3-3 1-3 1-1-1-2 2-2-2-1-3-8 2 0 2-1-5-2 6-1-3-3-3-1 5-3-4 0 3-4 1-4-1-2-3-2 3-2-3 0 3 0-2-1 4-1-2 0-2-3-1 0 3-3 1-1 0-2-4-1 4 0-1-4-3-3 0 0 3-5 0-2-1-1-1-2 3 0-2 0 1-2 1-3-1-4-3-2 4-2-1-3 1-3-2-1-2-2 0 0 3-3-3-3 4-2-2-1 1-3 0-1-2-2 1-3-3-1 3" fill="none" marker-start="url(#mg)" marker-mid="url(#mg)" marker-end="url(#mg)"/><path d="M1330 965l16-4 85 0 0 3 20-2 32 0 18 2 18-1-60 6-16-2-8 5-3-3-2-2" fill="none" marker-start="url(#mo)" marker-mid="url(#mo)" marker-end="url(#mo)"/><path d="M1390 972l-2 0-3-1-1-2 0 0-1 1-2-2-1 4-1-5-3 1-2 3-1 0-1-2-2-1-1 2-1 0 0 2-2-3-1 2 0-2-2 2-5-3-1-1 0 3-1-4-2 2-1 0-1-1-2 4-1-3-1-2-1 4 0-3-3 4-1-4-6 1-1 3 0 0-1-5 0 1 0 3-3 1 0-3-2 0-4 0 0 2-1-4-1 0-4 4-1 2-1-5-2 4-3-2-1 1-1 2-4-1-1-4 0 0-2 2-1 3-3-1-1 6 1-1 3 1 2-4 2 2 1 0 3 0 0-2 1 5 3-1 1-5 3 6 0-5 1 0 3 1 4-2 1 3 1-2 5 3 1-1 3 2 2-2 3 1 1-1 1-2 1 1 2 1 0-3 3 3 0-1 1 2 2 2 1-3 2 0 0-2 2 4 2-3 1 1 2 2 2-2 2-1 3 1 2 0 4 0 2 2 1-4 3 0 3 1 1 2 3-3 0 2 4 0 1 1 1-2 0 1 4-2 2 4 4-3 1 0 7-1 1 2 3-1 0 0 1 2 3-4 3 0 0 4 1-2 1-1 1 3 3-2 3 2 1-3 2 0 1 3 4-2 1 4 3-6 0 3 1 0 3-2 5 1 7 3 0-2 1-2 4 1 1 4 1-3 1-1 1 2 1-1 6-3 0 4 5 1 3-4 2 1 0 1 3-2 0 1 2 0 1 3 1-2 3 2 2-4 4 2 1 1 3-4 0 5 1-5 0 4-5 4-4 3-1-5-4 4-1-3-2 2-1-1-1-1-2 3" fill="none" marker-start="url(#mo)" marker-mid="url(#mo)" marker-end="url(#mo)"/><path d="M1391 968l0 2-2 2 0-5-3 2-4-1-4 3 0-2-1-3-5 6-1-4-2 0-1-2-5 3-2-3 0 1-1 4-8-1-5-3 0 5-1-6-4 4 0 0-1 1-1-2-12 3 0 0-1-4-3-1 0 5-2-3-6 2-1-4-1 0-1 1-1 1-1 1-2-1-4 2-1-1-1-2-4 0 0-2-1 0 0 3-1 1 0-1 0-1-2 2 0 1 0-3-3 1 0 1-3-3-5 1-4 1-4 2-1-4-4 2-3 1-7-2-3-1-5 4-2-1-5 1 0 1-5-1-1-3-6-1 10 10 3-1 2-2 6 4 0-4 3-1 2 1 8 0 2 2 0-3 5 3 5-2 1 2 4 0 1-2 5 0 3 2 1-2 0 1 1-2 0 3 4-1 0-2 2 4 1-5 1 5 2-3 1 1 6-3 1 5 3-2 2 0 1 0 2 1 1 1 5 0 2-5 3 2 0 2 1-2 3 0 0-1 4-1 5 5 5-1 1-4 3 1 8 3 3 2 0-3 7-2 3 3 0-4 2 4 5 2 1-2 5 0 0-2 3 2 3-2 6 3 1-3 1 0 1 1 1 1 2 1 2-3 1 4 0-3 2-2 1 4 3-2 4 0 8 1 2-3 2 4 1 1 0-3 7 2 1-3 1-2 1 1 0 4 1-1 2-1 1 1 5-3 0 3 1-4 1 5 1 0 1-1 2 1 1-3 4 0 0 4 2-2 1 1 4 0 2 1 4-5 1 2 2-2 1 4 1-1 1 2 0-5 1 3 1-4 3 0 0 5 5-2 0 3 5-3 1-3 3 6 1-3 1 0 1 3 2-5 4-1-4 6-4 2 0-2-3 5-2-2-2 2-1-3-2 1-2 3-2 0 0-5" fill="none" marker-start="url(#mg)" marker-mid="url(#mg)" marker-end="url(#mg)"/><path d="M1339 972l-8-5 19 11 5-1 3-4 12 1 9-2 19 3 6-1 12-1 13 4 47 0 27-3-5 4-1 1" fill="none" marker-start="url(#mo)" marker-mid="url(#mo)" marker-end="url(#mo)"/><path d="M1487 983l0-2-7 2-2-3-2-1-2-1-1 6-2-2 0-4-1 5-3-4 0 4-2-5 0 4-1-2-2 1-3 1-2 1 0-1-2-2-1 2-3-3-2 1-1-1-2-1 0 1-3 4-3-5 0 4-1 1-3-4-2 3-3 2-1-4 0 3-3-1-4 1-1-1-1-3-1 1-1 1-1-3-3 0-1 4-1-3-1 5-1-2-3 2 0-5-1 4-1-4-2 1-2 1 0-2-5 0-1 1-2-2-2 3 0-3-2 2-1 1-1-1-2 2-2-4-1 4-5-1-2-1 0 1-1-2-1 1 0 0-4 3 0 1-1-4-2 3 0-5-2 5-1-4 0 3-1-1-2-3-2 2-3 3-1-2-3 2-4-3 0 0-3 2-1-2 0-1-2-1-1 5-1-5-2 4-3-2 0 2-2-3-2 2-1-2 0 3-1-3 0 0-2 5-1-5-1 4-1 1-1-5-1 4 0 0-1-5-5 3-1-1 0 4-2 0-2-1-2 1-2-3-2-1-3 1-1 2-4 0 0 3 0 1 2-2 4 1 1 4 1-3 4 2 2-1 2-1 4-1 0 0 0 2 2-3 1 3 1 0 3 2 1-4 1 1 1 3 2-1 2-3 0 1 2-3 2 3 2 2 4-3 3 4 1-2 2-4 0 5 1 0 7-1 2-1 0 3 1-1 1 0 2-2 0-2 6 2 3 2 1-3 0-2 1 4 5-3 2 2 2-2 0 4 3-4 2 3 1-3 0 4 1-4 2 5 1-3 0 2 3-1 2-3 0 4 2-1 1-3 1 5 0-6 3 5 3 1 0-4 2 1 3 0 0-3 5 1 3 4 2-1 0-1 1-2 2 2 2-2 1 2 1 0 0-2 2 4 0-3 2 3 1-3 4 1" fill="none" marker-start="url(#mo)" marker-mid="url(#mo)" marker-end="url(#mo)"/><path d="M1486 979l-2 3 0-2 0 0-2 3-1-2-3 3 0-3-4 0-5 1-1-1-7-1 0-1-2-1-2 5-1-3-5 2-1-2-2 3-1 1-1-2-4 0-5-2-1 2-3-4-1 5-3-4-2 0-2 1 0 3-2-4-2 5-1-1-4-3-1 2-2-2-8 1-5 2 0-3-1 2-1-2-4 0-8 4-1-6 0 6-4-1 0-5-1 3-2-1-6-1-1 2-1 1-4-2 0 3-2-2-5 0-3-3-2 4-2 2-5-5-8 4 0-5-2 0-4 3 0 2-3 0-2-2-2 1-2-3-4 1-1 0-2 2 0-3-4 2-1 0-3-1-2 0 0 0-3-1-3 3-1-2-1 4 0-6-1 6 0-1-1-5-2 4-1-4-2 4-7 1-3-2-7 0-1 3-6-4-1 0-4-2-5 1-5 3-5 1-1 2 7 1 4 0 6-2 3 6 0-2 5 0 10-1 3 2 4 0 6-4 3 2 3 2 1-1 2-3 3 3 1 2 2-6 4 3 7 1 4-3 3 4 2-2 1 2 6-3 1-1 3-1 0 2 1 2 1-4 1 6 0-6 1 2 3 2 2-4 0 3 0 1 2 1 2-4 1 3 3-4 2 3 0-2 1 0 1 5 1-3 3-2 0 5 3-1 3-3 4-1 0 0 0 1 5 2 0-3 3 2 5 0 0-2 1 4 1-4 2-1 1 1 0 4 1-2 5-1 3 2 2-4 0 3 1-2 3 4 0 0 2 0 2-2 2 0 2 0 1-2 0 3 1-1 5-3 4 3 4-2 2 2 0 2 1-4 2 4" fill="none" marker-start="url(#mg)" marker-mid="url(#mg)" marker-end="url(#mg)"/><path d="M1438 979l-29 1-34-2-14 2-27 0-31 0 21 6 79-1" fill="none" marker-start="url(#mo)" marker-mid="url(#mo)" marker-end="url(#mo)"/><path d="M1437 985l2 3 1-4 6 1 1 3 1-4 3 1 1 2 1-3 6 0 3 1 2-1 0 5 0-2 2 0 0-2 6 3 0-4 1 1 1 2 2 1 1-1 4 2 1-3 1 3 1 1 0-3 1-2 2 2 0 3 1-1 3-2 4 0 2-1-6 4-2 2-1 2-3 0 0-3-3 2-3-1-1 2-4-1-4 1-1-1 0-3-1 0-1 4 0 0-3 1-1-4 0 3-4 1-1-5-4 2-1 2-4 2-1-5 0 0-12 1-1 0-3 2-2-1-2-2-2-1-1 0-1 1-1 3-1 2-1-2-1-3-1 2-3-2-1 3-3-3 0 3-2 1-1-5-1 1-3 1-1-1-2 0-1 3-4 1-4-3 0 1-1 2-4-4-5-1-1 1-1 4-5-4-1 3 0 1-1-3 0 0-2-2-1 5 0-1-3 2-1-4-1-2 0 0-1 3-1 3-2-3-1-1-2 3-2-2-1-3-2 6-3-2 0-4-7 5 0-2 0-1-3 1-2 1-2-4-1 5-1-4-1 0-1 0-2 0-1 4-3-3-2 3-1-1-1-1-4 1-2-3-1 1 0 0-2-1-1 2 0 2-4-1-2-3-1-1 0 4 0 2-6-3-5-3-2 6 8 6 0-5 0 5 2-4 0 3 4-3 0 4 2-3 3 1 1-4 1 5 1-3 6 1 0 0 6-2 0 4 1-1 4-3 1 3 1 0 2-2 1 3 2-3 3 2 0 0 2-2 3 1 0 2 1-2 1-3 2 1 2 0 2 0 4 4 1-2 0-1 2 3 1-1 0-4 1 6 2-1 4-3 1 4 3-5 0 1" fill="none" marker-start="url(#mo)" marker-mid="url(#mo)" marker-end="url(#mo)"/><path d="M1440 985l2 2 2-2 2 3 2-1 2 0 2 2 0-1 0 0 4 1 1-2 0-2 2 4 0-2 1 3 0-4 2-2 2 5 4-3 0-1 1 2 4 3 2-5 2 4 1 0 1-3 4-2 0 5 5-3 7 0 1-1-5 7-5 0-1 3-1-1-4-3 0 3-2 0-2 1-1-1 0-1-1-1-3 4-3-1-2-5-1 2-4-1 0 5-2-3-4 0-1 1 0-3-3 2 0 2-2 1-1-3-2 2-1-3-1 4 0-4-1-2-1 5-1-2 0-2 0 0-1 3-3-2-1 3 0-1-3-3-1 2-3-2-1 4-3 1-2-5-2 1-4 3 0-5-1 4-3-4 0 1-4 2-1 3 0-1-3 0-2-2-3-1-2 2-1-2-1 0-1 2-3 2-7-4 0 3 0-4-2 0-1 4-2-3-1-2-2 2-2-1 0-1-5 6-1-4-5 3-4-3-1 2-3 1-2-4-2 1-3-1-1 5-5-1-3-1-1-4-1 1-2 4-2-3-3 3-3-4 0 3-2-2-2-2-4 3-5-3-3 2-3-1 0 4-4-1-3 1 0-2-1-3-3 5-1-3 0-2-7 1-1 5-3-1-1-4-3 5-3-2-1-1 0 1-5-1-4 2-16 0-2-1 6 4 2 3 3-1 1-2 8 0 1 1 5 2 5-2 3 1 5-1 3 1 7-2 0 2 5-3 0 5 0-1 1-2 1 1 0-4 4 2 3-1 1 5 2-6 1 1 2 0 1 4 1-5 2 1 0 5 4-3 2 1 2-3 3 3 1-3 5 2 2 2 1 1 0-4 2 4 1-1 4 1 1-1 1 0 2 0 7-3 1-1 4 4 1-3 3 3 1 0 1-4" fill="none" marker-start="url(#mg)" marker-mid="url(#mg)" marker-end="url(#mg)"/><path d="M1445 990l41-4-83 10-13 0-52-3-19 6 7 0 15-2 11 1" fill="none" marker-start="url(#mo)" marker-mid="url(#mo)" marker-end="url(#mo)"/><path d="M1376 999l1-3 1 5 3-4 1 2 0 1 3-1 1 2 0-5 5 2 0 3 3-1 0-1 2-3 3 3 3 2 1-5 1 3 2 1 1 1 4-2 0-2 2-1 1 3 5 2 3-2 4-2 2 2 1-2 8 1 1 3 1-5 0 6 1-4 0 3 2-4 1 4 1-2 7 3 3-3 1-1 0 1 7-1 4 2 3-2 7 1 5 0 1-1-6 6 0-1-1 3-1-3-2 3 0-1-3-3 0 0 0 2-3 0-2 4-5-3-5 0-4 0-1 1-2-3-3 0-1 0-1 4-8-3-1 1-3 3-1-3-2 0 0 1-1-4-4 1-5 4-8-3 0 2 0 0-2 0-2-2-2 4-2-4-1 4-1-2 0-2-2 1-2 3-1-3-1-1-4 0-4 1-1 1 0-4-3 3-1-2-2 0-1 2 0 2-1-1 0-4-2 0-3 5-1-5-4 5-2 1-1-1-1 0-1-1-1-4-2 3 0-3 0 4-1 0-1-4-2 6-4-3-2 3-8-4-1 3-1-3 0 2-2-4-2 6 0-1-2-1-2 1-3-1-2-3 0 2-2 2-2 0 0-1-2 1-1-3-1-2-1 4-1 2 0-5-1 3 0-1-3 0-3 2-2-2-6 1-3 0 9 3 4 2 1-1 3 0 0-1 7-1 6 1 0 3 9-4 5 2 7 1 6-1 3 0 1-1 1-1 5 1 2 0 4 0 1 1 10-1 2 0 3 0 3-1 7 3 2-2 12 0 6 1 1-1 3 1 1-2 4 2 1 0 6-2 2 4 1-3 5-1 2 1 3 0 2 0 3-1 3 0 3 2 4 0 1-1 3 1 3-2" fill="none" marker-start="url(#mo)" marker-mid="url(#mo)" marker-end="url(#mo)"/><path d="M1378 997l3 3 3-1 2 2 2-4 1 2 2 3 3-1 3 0 1 1 1-5 4 0 2 5 1-5 1 0 4 4 3 1 1-4 0 2 3-3 2 0 1 4 2-1 1 0 1-3 1 4 4-4 1 0 2 2 1-1 1 3 2-1 7-2 2 0 1 2 0-1 1-3 2 1 2 4 1 0 2 1 1-6 1 3 1-2 1 2 1-1 2 3 2-2 0 1 3-2 3 3 3-3 0 1 2 3 1-3 2 0 0-1 1 4 1-1 0-3-10 8-2-1-3-2-2 2 0 1-1-3 0 3-2-3-1 5 0-3-2-3 0 5-4 0 0-4-2-1-2 4-2 1-3-2 0 0-4 1 0-2-2 4-1-5-1 3 0-2-1 1-4-3 0 3 0-3-3 2-2 0-1 1-3-1 0 1 0 0-2 1-2-3-1 3-1-2-1 4-2-5-1 4 0-2-7 0-3 0-2-2-2 5-5-2 0-2 0 1-4 1-3-1 0 3-1-5-1 5-1-5-5 5-1-5-3 5-2-2-4-3-2 1-1 0 0 0-8-2-1 3-1 1-2-4-1 6-2-5-1 2-1-1-1 3-2-1-2 1-3-1-1 2-2-1-3-1-2-2-1-1-1 1-1-1-6 1-3-1-2 2-1 0-4-2-8 0 0 5-4-2 0 1-5-3-7 1-2 0-6 3-2 0-1-2-8-2-2 2-5-1-4 1 1 3 2-1 7 1 1 0 5 1 20-1 6-1 5 0 10 0 5 4 9-4 2 0 13 1 24-1 3 2 11 2 7 0 14-3 3-1 5 1 11 0 6 3 8-2 2-1 8 1 6-2 15 4 1-4 3 1" fill="none" marker-start="url(#mg)" marker-mid="url(#mg)" marker-end="url(#mg)"/><path d="M1387 999l46-1 25 2 5 0-56 3-1 0-3 0-2 5-29-3-61-1 21 5 47 1 12-1" fill="none" marker-start="url(#mo)" marker-mid="url(#mo)" marker-end="url(#mo)"/>
<rect x="1457.9" y="567" width="50.9" height="51.4" fill="#F2F2F2"/>
<circle cx="1482.9" cy="592.8" r="8" fill="#F08A24" stroke="#000" stroke-width="1.5"/>
<text class="l" x="1526.6" y="606" font-size="32" textLength="154.7" lengthAdjust="spacingAndGlyphs">Neutrophil</text>
<rect x="1637.9" y="681.3" width="353.9" height="353.9" fill="#EBEBEB"/>
<line x1="1653.6" y1="681.3" x2="1653.6" y2="1035.2" stroke="#fff" stroke-width="1.6"/>
<line x1="1637.9" y1="1019.5" x2="1991.8" y2="1019.5" stroke="#fff" stroke-width="1.6"/>
<line x1="1693.6" y1="681.3" x2="1693.6" y2="1035.2" stroke="#fff" stroke-width="0.8"/>
<line x1="1637.9" y1="979.5" x2="1991.8" y2="979.5" stroke="#fff" stroke-width="0.8"/>
<line x1="1733.6" y1="681.3" x2="1733.6" y2="1035.2" stroke="#fff" stroke-width="1.6"/>
<line x1="1637.9" y1="939.6" x2="1991.8" y2="939.6" stroke="#fff" stroke-width="1.6"/>
<line x1="1773.7" y1="681.3" x2="1773.7" y2="1035.2" stroke="#fff" stroke-width="0.8"/>
<line x1="1637.9" y1="899.6" x2="1991.8" y2="899.6" stroke="#fff" stroke-width="0.8"/>
<line x1="1813.7" y1="681.3" x2="1813.7" y2="1035.2" stroke="#fff" stroke-width="1.6"/>
<line x1="1637.9" y1="859.6" x2="1991.8" y2="859.6" stroke="#fff" stroke-width="1.6"/>
<line x1="1853.7" y1="681.3" x2="1853.7" y2="1035.2" stroke="#fff" stroke-width="0.8"/>
<line x1="1637.9" y1="819.7" x2="1991.8" y2="819.7" stroke="#fff" stroke-width="0.8"/>
<line x1="1893.8" y1="681.3" x2="1893.8" y2="1035.2" stroke="#fff" stroke-width="1.6"/>
<line x1="1637.9" y1="779.7" x2="1991.8" y2="779.7" stroke="#fff" stroke-width="1.6"/>
<line x1="1933.8" y1="681.3" x2="1933.8" y2="1035.2" stroke="#fff" stroke-width="0.8"/>
<line x1="1637.9" y1="739.8" x2="1991.8" y2="739.8" stroke="#fff" stroke-width="0.8"/>
<line x1="1973.8" y1="681.3" x2="1973.8" y2="1035.2" stroke="#fff" stroke-width="1.6"/>
<line x1="1637.9" y1="699.8" x2="1991.8" y2="699.8" stroke="#fff" stroke-width="1.6"/>
<line x1="1633.9" y1="1019.5" x2="1637.9" y2="1019.5" stroke="#333" stroke-width="1.2"/>
<text class="l" x="1631.4" y="1024.8" font-size="15" text-anchor="end" fill="#4D4D4D">0</text>
<line x1="1653.6" y1="1035.2" x2="1653.6" y2="1039.2" stroke="#333" stroke-width="1.2"/>
<text class="l" x="1653.6" y="1055.7" font-size="15" text-anchor="middle" fill="#4D4D4D">0</text>
<line x1="1633.9" y1="939.6" x2="1637.9" y2="939.6" stroke="#333" stroke-width="1.2"/>
<text class="l" x="1631.4" y="944.9" font-size="15" text-anchor="end" fill="#4D4D4D">1000</text>
<line x1="1733.6" y1="1035.2" x2="1733.6" y2="1039.2" stroke="#333" stroke-width="1.2"/>
<text class="l" x="1733.6" y="1055.7" font-size="15" text-anchor="middle" fill="#4D4D4D">1000</text>
<line x1="1633.9" y1="859.6" x2="1637.9" y2="859.6" stroke="#333" stroke-width="1.2"/>
<text class="l" x="1631.4" y="864.9" font-size="15" text-anchor="end" fill="#4D4D4D">2000</text>
<line x1="1813.7" y1="1035.2" x2="1813.7" y2="1039.2" stroke="#333" stroke-width="1.2"/>
<text class="l" x="1813.7" y="1055.7" font-size="15" text-anchor="middle" fill="#4D4D4D">2000</text>
<line x1="1633.9" y1="779.7" x2="1637.9" y2="779.7" stroke="#333" stroke-width="1.2"/>
<text class="l" x="1631.4" y="785" font-size="15" text-anchor="end" fill="#4D4D4D">3000</text>
<line x1="1893.8" y1="1035.2" x2="1893.8" y2="1039.2" stroke="#333" stroke-width="1.2"/>
<text class="l" x="1893.8" y="1055.7" font-size="15" text-anchor="middle" fill="#4D4D4D">3000</text>
<line x1="1633.9" y1="699.8" x2="1637.9" y2="699.8" stroke="#333" stroke-width="1.2"/>
<text class="l" x="1631.4" y="705.1" font-size="15" text-anchor="end" fill="#4D4D4D">4000</text>
<line x1="1973.8" y1="1035.2" x2="1973.8" y2="1039.2" stroke="#333" stroke-width="1.2"/>
<text class="l" x="1973.8" y="1055.7" font-size="15" text-anchor="middle" fill="#4D4D4D">4000</text>
<text class="l" x="1814.8" y="1079.2" font-size="19" text-anchor="middle">x</text>
<text class="l" x="1585.9" y="858.2" font-size="19" text-anchor="middle" transform="rotate(-90 1585.9 858.2)">y</text>
<text class="l" x="1739.2" y="660.5" font-size="26" textLength="171.3" lengthAdjust="spacingAndGlyphs">Residual HCC</text>
<path d="M1701 699l1-2 4 0 2 1 0 3 1-4 2 2 3-1 0 4 6-6 1 4 0 1 4-3 1 0 0 2 0 1 2-3 2 2 2 1 3-3 1 2 2 0 0-3 2 4 3-4 1 4 1 1 2-5 2 3 2-3 2 0 0 1 1-1 0 3 3-2 1-1 5 2 0 0 1 2 2-2 2-1 3 3 0-2 2-2 2 2 0-1 2 2 3 0 1 0 1 1 0-2 1-1 4 0 0 4 0-1 5 1 2 0 1-4 7 2 2 1 3-3 1 1 2 2 0-4 0 2 4 2 3-3 1 0 0 2 1 1 0-1 2 1 4-2 0 1 2-3 0 4 1-3 4 2 1-2 4 3 3-3 2-1 1 5 2-2 7-2 7 4 5-5 3 3 3-1 1-2 3 3 3-3 2 3 4-1 1-1 3-1 3 3 4 0 4-1 6-1 7 1 1-2 4 1 0 4 9-5 3 2 1 3 15 3-6 2-1-2-7 2-3-2-1-2-2 0-1 5-8-2-3-2-4 2 0-3-6 4-1-4-2 3-2-4-3 5-5-3-2 4-4-3-4 0-6 1-4-1-2-1-7-1 0 3-4-1-4 2 0-4-6 1 0-1-1 0-1 1-1 2-3-1-2-3 0 6-2-5-2 3-2 1 0-3-1 3-2-4-1 1-1-2-2 6-3-2-1 1-3 1-2-2 0 0-1-2-2 1-4-1-1 2-1-4-2 5-2-3-3 1 0-2-2 2 0 0-1 3-2-6 0 0-1 6-1-3-4-2-3 1 0-1-3 5 0-2-5-2-1 0-1 1 0 0-5 2-1-2-4-1-2 0 0 0-4 0 0-1-1 0-1 4-1-1-3-3 0 4-2-4 0 4-3-3 0 1-1-2-1 2-6-1 0 4 0-5-2 3 0 1-4-2-3-1-1 1-5-2 0 3-4-1-2-1 0-2-3 4 0 1 0-4-1 0 0 5-3-3-3 2 0 1 0-3-5 2-1-4-1 0-5 1-11 8 3-2 4-2 4 4 7 1 2 0 1 1 4-5 1 0 1 1 3 1 3 1 1-3 3 2 2 1 0-4 1 5 1-1 0-4 4 4 0-4 1 3 2 1 1 2 1-5 3 2 1-2 3 2 1 1 4 0 4-4 1 1 3 1 0 0 1 0 4 2 1-1" fill="none" marker-start="url(#mg)" marker-mid="url(#mg)" marker-end="url(#mg)"/><path d="M1764 713l1-5 2 4 2-2 2-1 0 5 1-6 1 5 0-2 1 2 1-2 3-2 1 1 4-2 2 2 1 2 1 1 1-2 3 0 0 2 4-2 2 1 2 0 1-1 0 2 2-4 2 0 0 3 3-3 1 5 1-1 1-4 3 3 1-2 4-1 0 2 3 3 0 0 2 0 1-3 0 2 2-1 1-3 2 5 0-2 0 2 3-4 1 2 0 1 2-2 2 1 0-2 1 2 1 1 4 1 1-1 0-2 1-1 1-1 0 0 6 2 3-2 9 1 1-1 5 2 6 1 2-2 5 2 9-2 6 2 3-2 8-1 1 5 2-4 4 1 7 1 4-3 4 0 4 1 5 0 4 0 8 8-2 1-2-3-3 0-6-2 0 4-4-3-1 4-2-1-1-3-5 2-1 1-3-2-7-1 0 4-4-4-1 2-9-1-2-2-1 4-3 0-4-4-1 2-2 3-3-2-2 2-2-1-1-3-4 2-3 1-2-3-2 2-3 1-1-2-4 1-5-2-3 2-2-1-2 2-1 0 0-1-1-1 0 0-3 2-1-2-4 3-3-2-1 1 0-2-3 3-3-1-2 1-5-3-1 3-1-4-2 5-1-4-4 4-3-3-1-2-5 0-1 1-1 2-2-2-1 2-4 1 0-4 0 2-1 1-2-2-1 0-3-1-1 1-1 3-1-4-1 3-2-1 0-1 0 1-3-2 0 0-3 2-1 0-2-1-2 3 0 0-5-1-3-1-2-1-1 0-1 3-3 0-1-5 0 2-2-1-2 0-1 4 0-2-1-3-1 3-1-2-1 3-3-3-2 2-1 2-3-3-1 3 0 0-5-2 0 1-2-1 0 1-1-2-1 3-6-4-1 5 0-4-3 3 0-1-1-1 0-2-1 5-1-2-2 0 0-3-2 3-7 0-2 2-1-5-2 4-1-3-6 1-1-1-3 0-5-2-2 4-1 0-6 5 6 1 2 0 4-3 0 3 5-2 6 1 6 0 2 0 6 2 1-4 3 2 4-3 3 5 0 1 1-2 1-1 1 2 1-5 0 4 4-1 1 2 2-3 1 2 2-2 0 4 2-5 2 0 2 1 0 1 1-1 3 0 1 1 1-2 2 1 3-1 2 0 1 2 2 2 2-5 0 4 2-2 2 4 0-4 2 2 0-1" fill="none" marker-start="url(#mg)" marker-mid="url(#mg)" marker-end="url(#mg)"/><path d="M1765 721l6 1 1 1 0-1 2 2 1-3 0 0 3 3 0-2 1 0 0-2 0 2 1 3 2-3 0 0 2 3 2-4 1 1 0-1 0 5 1-5 0 1 1 2 1-1 0 2 1 1 0-2 1-2 1 4 2-3 1 2 0 1 1-3 2-2 3 1 0 1 1 0 1 2 2-4 2 1 1 1 0-2 3 3 0-3 3 0 1 2 2 1 1 0 3-1 1-3 2 5 1-5 4 2 1 4 2-3 2 3 1-4 2 0 2-1 0 2 1 0 0 1 5-1 1 0 4-1 1 1 6 1 0-3 2 0 1 0 3 4 0 0 0-4 2 1 1 2 2 0 1 1 7 1 0-1 5 0 4-1 1 2 5-1 9-4 2 3 3-4 2 2 4 1 3 1 5 1 2-5 4 6 5-1 2-1 5-1 6-2 6 2 5 2 1-1 1-4 5 11 0-2-6 0-2-1-6-1-2-1 0 3-5 3-3-3-1 1-7 1-1-1-3-1-6-3-2 3-3 3-2-2 0 1-7-2-5 0-2-2 0 1-1 3-1-5 0 3-1 2-1-1-2-2-2 2-2-3 0 1-2 4-1-1-2 1 0-2-3 1 0-4-3 3-2-2 0 2 0 1-4-4-2 0-2 3-2-3-1-1-4 0-4 5-2-1-1-1-2 1-1-3-3 0-1 2-3 1 0-1-1-1-3 1-1 2-1-4-2 5-1-4-3-2-1 4-2 1-1-3 0 4-1-4-1 4-3-2 0-1-3-3-1 0-1 1-1 2-3-2-3 1-1 0-1 3-2-3-1 0-2 1-3-1-1 3 0-2-2 1-2-2 0 0-1 3-1-4 0 3-1 1-1-2-1 1-2-4-1 2-1 1 0 3 0-3 0-1-2 2-1-1-1-1 0 0-2-1-2 3-1 0 0 2-2-1-1-3-3-1-1 2-1-1-1-1-1 4-1 1-1-2-5 1-3-3-1 2-2 1-1-4-2 2-2-2 0 4-1-2-1 0-1 1-1-2-3-1 0 0-4 0-3 3-3 1-1 0-2-2 0-3-3 5-2-2-5 0-3-2 0 0-2 1-1 4-1-5-1 0-1 4-2 0-6-4-2 0-3 2-3 2-5 0-2 0-5-1-7 0-1-4-8 5-5 7 3-3 4 0 1 2 1-1 1-2" fill="none" marker-start="url(#mg)" marker-mid="url(#mg)" marker-end="url(#mg)"/><path d="M1679 734l2 3 1-5 6 1 5 1 2 2 6-4 0 6 6-3 2-1 3 2 1-3 0 4 1 1 2-5 1 0 2 1 0 2 2 0 1 0 1-1 2-2 2 2 1-1 1 4 0-1 5-5 1 6 0-5 0 2 1-3 2 5 0-1 2 1 1 0 1-5 0 2 1 4 2 0 0-5 3 0 2 3 2-1 2-2 2 4 2-5 1 2 0 1 3-2 2 4 0-3 4 2 1-3 1 2 4 2 0-2 2-1 2 4 3-5 1 0 2 1 1 3 1-4 0 5 0-5 2 4 0-4 1 3 0 2 1-2 0-1 1-3 1 2 1 3 0-1 2-4 0 3 1-2 0 4 2-5 1 4 0 2 0-5 0 0 1 4 1-1 1 2 2-1 2-3 0 3 1-5 0 0 2 2 1 3 0-2 0 3 2-6 1 5 0-3 1-1 2 2 1 2 0 0 2-2 0 2 2 1 1-4 4-1 3 3 1 2 0-4 4-1 2 0 0 2 2-1 2 3 1-5 1 4 3 0 1-4 3 2 1 1 2 0 5 2 4-2 11-2 2 1 3-2 4 4 1 0 0-1 1-3 1 6 2-3 2 0 3 1 2-1 0-1 1 2 5 1 1-2 4 0 0-1 1 4 0-1 1 0 1 1 1-4 1 1 2 1 0-2 3 2 2 2 1-3 3 3 0-4 6 0 0 3 0-1 0 2 1-3 3 0 4-1 4 3 2-1 4 1 1-2 5 2 0-3 3-1 0 4 6 1 1-6 6 2 5 2 6 7-4 0-4-4-4 4-1 0-2-3-1 3-2 0-5-1-4-1-1-1-3 3-2 0-1-3-1 0-2 1-1-2-1 4-1-2-1-2-2 0 0 3-1 0-1-2-1 1-4 0-2 2-1-3-1 2-3-3-2 0-2 4-1-3-2 2-3 2-1-4-3 1-2 0-1-2-1 5-2-3-2-3-3 3-2 1 0-1-1 3-2-5-1 1-3 0 0 3-2-3-2 1-3-1-2 0-3-2 0 5-4-4 0 0-1 4-1-3-2 4 0-6-1 3 0 1-4 0-5 2-2-1-1-4-1 0-1 2-2-2-1-1-1 6 0-2-1-4-1 4-2-3-2-1-1 5-2-4-2 5 0-1-3-3 0 4-1-5-4 5 0-5-1 4-3-3" fill="none" marker-start="url(#mg)" marker-mid="url(#mg)" marker-end="url(#mg)"/><path d="M1821 743l-2 0-4 1-1-2-7 0-2 2-1-2-1-2-1 0-1 3-1-5 0 4-1 1-1-3-1 2-1-1-1-3 0 3-1-1 0-2-1 3-1 0-1 2-4 0 0-3-2 3-2-3-2 1-1-3-2 4-2 2-1 0-1-5-2 4 0-4-2 0-3 4-1-3-3 1 0-2-1 0-1 4-1-4-2 1-2-2-1 4-2 2-1-2-2-2 0 3-2 1 0-1-3-4-1 3 0-2-6 2-2 2-2-2 0-2-2 3-5-2 0-2 0 2-1 0-2-2-2 0-1 1-2 3-1-1-1 0-1-2-1 4-1-3-2 1-2 0-5-2-1 3-3-3-5 3-5-4 0 1-3 3-2-3-6 3-1-4-4 4-12 0-3-5-1 3-3 6 3 2 4-3 1 4 5-6 1 3 2 2 0-5 4 4 5 1 2 1 3-5 5 4 5-3 7 3 2 0 4-3 0 1 2 0 2-1 5 3 3-2 0 2 4 1 0-2 1-3 2 2 2 2 5-3 0 0 4 0 0 3 3-3 1 2 0-3 0 5 3-3 0 2 1-1 3 1 2-3 2 0 1 2 4-2 0-1 2 5 1-1 1 1 1-2 0 0 3-1 1-2 3 5 0-1 1-2 3 1 0-1 3 2 0 0 6-4 1 2 0-2 2 2 1-3 0 2 2-2 1 0 1 3 0 2 1-4 0 2 0-1 1 1 1 2 1-4 1 4 0-5 1 5 0-3 0 1 1 2 1-4 1 3 2 0 1-4 0 5 2-1 0 1 1 0 0-5 1 4 0 1 3-3 0-2 4 2 1 0 1 1 2 0 0-3 3 6 2-1 3-3 0 3 3-5 1 1 0 4 1-2 2 3 1-2 0 1 4 0 2 0 0-2 0-3 2 5 0-4 2 2 2-1 3 1 4 2 0-4 4 2 2-2 4 3 2 1 1-1 2-2 1 3 1-5 4 3 0-2 1 2 4 1 0-1 0-1 2 0 1-2 0 2 0 2 4 0 1-4 3 4 0 1 1-2 3-2 1 1 2 2 2 2 1 0 0-1 1-1 1-1 2-2 2 3 1-2 1 4 1-1 1-5 2 6 1-4 3 1 1 2 1-3 1-1 1 3 1 0 1 1 1-3 4-1 2 5 0-5 0 4 4 1 0-2 1-4" fill="none" marker-start="url(#mg)" marker-mid="url(#mg)" marker-end="url(#mg)"/><path d="M1936 749l2-3 2 2 4 1 2-2 1 2 1 0 5 0 0-3 1-1 0-1 1 5 2-1 1-4 2 6 2 0 1-1 2-3 3 2 1-1 1-1 1 3 4 0 2-4 0 4 0 6-1-3 0 3-3-1 0 0-3-2-3-2-1 0-4 3-2-1-1 2-1-4 0 1-2 3-4 0-2 0 0-2-1-1 0 3-2 1-2-4-1 4-1 1-1-3-1-2 0 4 0-2-5 3-1-6-2 1-4 0-2 1-1 2 0 0-2 0-1-2-2 4-2-4-2 1-1-2-3 3-2-3-3 0-1 4 0-4-2 4-3-4-3 3-1-1 0-3-3 4 0-3-4 0-1-1-2 3-2 2-1 0-1-4-2 0-2 1-1 1-5 0-1-1 0-1-1 0-3-1 0 6-2-1-1-3-2 0 0 2-3-4-4 1 0 3-1-3 0 3-4 2-2-5-1 1 0-1-2 2-3 1-2-1 0 0-2-3-1 5-1-1-4-1-2 2-2-1-2-2-1 2-3 1 0-4-2 0-4 0-3 0 0 4-2-3 0 0-3 4 0-4 0-2-1 4 0 1-3-3 0 2 0-2 0 4-1-4 0 4 0-2-3-4-1 0 0 2 0-1-2 4-1-3 0 0-2 1-2-2 0 3 0 2-3-5 0 3-2 0 0 1 0-2-4-2-3-1-1 5-1 0-1-4-1 0-2 2 0 3-2-6-1 4-4-3-3 1-1 3-2-4-4 4-1-3-3 3 0-4-2-1 0 2-3 0-1 4-1 0-3-4-3-2-2 4 0-1-4 0-1-3-1 5-1-2-4-1-1 2-3 0-1-2-2 1-1 3-2-4-2-1 0 4-2-2-2 0-2 2-1-2-2-2-3 0-4 0-1 4-3-3-6 0-1 3-3-1 0-2-5 3-6 0 0-3-2 2-1 0-3 0-1-2-5 2-7-2-3 0-2 3 2 5 6-1 0-1 38-1 8-1 0 4 3 1 0-4 1 1 2 3 2-3 1 0 1 4 1-2 5 0 0-1 1-2 1 1 1-1 2-1 3 5 1-5 1 4 1 1 2-4 1 0 1-1 1 3 1 3 1-1 3-2 0-3 1 3 1-2 5 3 1-2 1 4 2 0 2-2 1-4 3 3 1-3 0 4 4 2 0-5 1 1 1 3" fill="none" marker-start="url(#mg)" marker-mid="url(#mg)" marker-end="url(#mg)"/><path d="M1862 763l-10 2-18-2-3-1" fill="none" marker-start="url(#mo)" marker-mid="url(#mo)" marker-end="url(#mo)"/><path d="M1770 758l1 1 2-2 1 4 7 0 3-2 0-3 1 5 0-4 3 0 1 2 4 1 0 1 2 1 0-5 0-1 1 2 2 3 0-4 0 1 2-1 1 5 1-6 0 3 1-1 1-2 0 5 0-2 1 0 3-2 0 2 2 2 0 0 1-3 1 2 1 0 1 0 0 1 1-1 1-2 2 2 0-3 1 1 1-2 1 2 3 1 1 2 1 1 1-5 2 3 2 0 0-3 2 0 1 1 2-2 2 2 1 4 4-6 0 4 1 1 2-4 0-1 1 3 3 2 1 0 3-2 0-2 1 2 12-1 1 3 0-1 1-1 3 2 0-5 2 5 1-5 1 5 1-4 3 0 0 2 0-2 4 4 1 1 1-6 3 0 0 5 0-1 1 2 3-4 1 0 0 4 1-4 1 0 2 3 0 0 4-1 0 0 3-2 1-1 0 4 2-1 2-2 0 2 1 0 0-3 3 2 1-3 1 1 2 4 1-3 3 3 2 1 1-4 5 1 0-1 1 3 0-5 2 5 2 1 0-6 3 1 2 4 2-1 1 2 1-2 2-1 2-3 2 5 3-3 4 3 2 1 1-5 2 4 2-4 0 3 1-2 1 1 3-2 0 0 0 3 1-4 3 5 2 0 2-2-1 6 0-1-2 2-2-3 0 3-1 0-1-3-1 1 0 2-3-3-2-1-1 4-2-3-1 4-1-5 0 4-4-3-1-1-2 2 0 2-2-2-3-2-1 3-1 1-2 1-3-1-1 1 0-2-1-3-1 1 0 4-1-5-2 2-2 3 0-2-2 2-2-2-2 0-2 1-3-2-1 0-1-1 0 4-3-4-1 1 0 2 0 2-2-6 0 4-4-3 0 5-2-1-2-4-3 4-1-4 0 3 0 0-1 0-3-2-3 0-3-2-2 5 0 0-2-4-2 3-1 1-2-5-1 3-1 0-3 0-1 2-1-2-3-2-2 3-1 1 0-5-4 3-3 2-7-4 0 1-10 1-2-1-2 0-1-1-3 5-4-2-1-2-4 2-1 0-1 0-2-1 0 2-3-1-3-2 0 2-1-1 0-1 0 4-2-5-2 1-1 0-1-1-1 0 0 2-1 1-1-1-1 2-1-5 0 1-1 2 0 1-1-2-1 1-2 0 0-1-1-1" fill="none" marker-start="url(#mg)" marker-mid="url(#mg)" marker-end="url(#mg)"/><path d="M1867 773l0 0" fill="none" marker-start="url(#mo)" marker-mid="url(#mo)" marker-end="url(#mo)"/><path d="M1800 767l-1 0-1-5 0 3-1 0-4-1-2 1-1-2 0-1-3 4-1-2-3 3 0-2-1 0-1 2 0-3-3 0 0-2-2 1-3-1 0 6 0-2-3-4 0 1-3 0-2 1 0 2-2-3-1 2 0 2-1-5-3 4-1-1-1 0-4-2 0 4-1 1-3-6-2 2-1 0-2 0-2 3-1-4 0 5-1-5-2 5-1-2-1-2-3 3 0 0-3 0-1 0 0-4 0-1-2 4-3-4-1 5-4 0-2-5 0 3-5 0-31-2-3 2-1 3 0-5-4 0-1 1-4-2-1 5-3-5-1 5-2 1-1-2-3 1-5 0 0 5 0 1 3-2 4 2 8-2 1-2 2 4 3-1 49-3 0 4 3-5 1 5 4-2 4 0 4 3 0-3 3 0 2 0 3 2 1-2 0-2 0 0 5 0 2 4 1-3 1-1 3 0 1-1 5 5 1-1 1-4 2 4 3-3 0 4 1-2 0 3 4-2 0-2 3 3 2-1 1-1 0 0 2 2 4 0 2-4 1 4 2-3 1-1 2 1 2-2 0 4 4-1 0 3 0-1 2 0 1-2 0-1 1 3 0 0 0-3 0 2 1-4 2 5 0-4 1 0 0 5 1-5 1 1 0 2 1-3 0 0 0 0 1 4 0-1 0 2 1-3 3-3 1 1 0 4 0-2 1 3 1-2 0 2 1-4 1-1 0 3 6-3 1 5 1-5 5 2 1-1 2 3 5-4 2 4 3-3 2 2 0 0 5 0 5-4 5 3 6-2 0 4 1-4 2 5 1-4 0-1 2 2 2 0 0-1 3-1 0 3 2 1 1-4 1 3 3 2 1-3 1-2 1 0 1 0 0 4 0-2 5-1 2 1 1-1 1 3 4-3 1 1 2-3 2 2 0 4 0-2 4-1 1-2 2 4 1-2 2 1 0-2 2 3 4-3 0 1 0-1 0 0 4 4 3-2 1 1 1-5 2 4 2 0 0 0 4-3 0 1 2-2 1 5 0-1 1-4 3 1 1 4 1 0 1-1 1-1 0-2 1 0 3 3 1 2 1-5 2 4 1-4 1 0 0 4 2-3 2 2 4-4 1 5 2 1 1-3-1 7-2-1-2-2-2 1 0 1-2 2-1 0-1-4-2 2-2 3-1-3-2 0 0-3" fill="none" marker-start="url(#mg)" marker-mid="url(#mg)" marker-end="url(#mg)"/><path d="M1868 778l-91 7 25-1 8-1 24-1" fill="none" marker-start="url(#mo)" marker-mid="url(#mo)" marker-end="url(#mo)"/><path d="M1959 779l-1-2-1-2-5 1 0 3-1 0-2-4-1 4-1 1-3-2-1-4-1 1-2 3-1-3-2 1-5 2 0-3-2 2 0 2-2-2-1 2 0-4-5 0 0 2-3 1 0 1-1-4-1 3-1-2-2 2-2-1-1 0-2-2-2 2-3 0-2 0-1-1-1 0-1 3 0-1-1-3-3 3-1-4-1 1 0 5-1-1-1-3-2 1-4 1-2-2-2 2-1-3-1 5-1-5-3 0-2-1 0 4-3-1-2-2-1 0-6 2-2-2-1 0-5 2-4 3-4-3 0-1-7 2-3-4-4 4-8-3 0 1-1 2-2-2-2 4-3-5 0 3 0-1-1 0-2-2 0 5-1-6-1 4-2 2 0-4-1-1-3 2-2 2-2-2-1-2-1 4-1 0-1-1-1-1-2 0-1 0-2 3-1-4-3 4 0-4-1-1-1 0 0 4-2-4-6-1-1 2 0 2-4 2-1-3 0 0-3 0-2 0 0 3-6-1-2-2-3 2-1-2-2-2-1 0-1 3 0-3-1 1-3 2-3-3-1 4-2 0-6-5-2 5-2 0-1-3-2 3-51-3-1 0-3 2-7-3-6 4-2-2-2-3-3 4 4 4 2 4 7-3 2-2 0 5 3-5 3 4 6-4 1 2 4-1 47 0 4 4 3-1 7 0 1-3 5 4 4-5 1 4 5-5 1 2 0-2 4 4 2-3 3 1 2 4 3-3 2-2 0-1 0 4 4-4 1 1 0 1 8 3 2-3 3 1 0-1 11 0 2-1 1-1 1 1 1 2 3 1 3-1 0 0 2 1 0-2 1-1 3 2 1-2 0-1 1 2 1 0 4 2 2-4 4 2 9 0 4 2 1-1 5-1 4-1 1 1 4 2 6-1 0 1 3-4 1 1 1 1 2 2 0-4 1 5 1-1 5-4 1 5 1-1 1-1 0-3 3 5 1-5 0 6 1-1 1 0 1-3 0 4 3-4 3 1 3-2 1 3 0 1 2 1 0-5 1 0 2 4 1-3 0 3 2-4 3 1 1 3 4-2 3-1 0 1 0-2 2 2 2-1 2 2 1 1 2 1 1-2 1-3 0 3 1-4 5 3 1-3 0 3 1-2 2 4 1-3 1 2 1 0 4 0 0 1" fill="none" marker-start="url(#mg)" marker-mid="url(#mg)" marker-end="url(#mg)"/><path d="M1862 792l-17-1-42 4 48-1" fill="none" marker-start="url(#mo)" marker-mid="url(#mo)" marker-end="url(#mo)"/><path d="M1955 782l0-1 4 1 2 1 1 1 0 1 6-2 1-1 1 1 3-2 1 1 0 1 0-2 1 3 2 3-1 1-2 3-1-1 0-3-1 5-2-3-2 0-2 3 0-5-1 1-1 1-3-2-3 1-4 2-2-1 0 0 0 3-2-5-1 2-3-1-4 0 0 0-4 3 0-4-2 2 0-1-1 4-3-5-3 3-1-2-3-1-2 1-3-2-1 4-1-3-1 4 0-1 0-2-3 3-1-4-2 1-3 1 0 1-1 0-2-3-1 2-1 2-3-5-2 0-1 4-5 0-1-2-2-2-2 6-2-5-2 3 0 1-2-3-1 2-4 0 0-3-1 4-2-2-1 1-1-1-5-2-6 1-4 2 0 2-5-2-4 0-3-4-4 4-3 1-2-2-5 2 0-2-1 0-1-3-1 4 0 1-1-5 0 3-1 1 0 2-1 0-2-6-1 2-1 2-1-3-2 0 0 0-1 2 0 2 0-2-3 1-1-4 0 3 0 1-2-4-6 3-2-2-3 1-4 0-7 2-1 1-6-1 0-3-5 2-8-2-4 0-2-1-2 5-2-1-3 1-2 0-3-4-5 1-3 2-3 0-7-2-49 2-6-2-2 2-5 1-3-2-3-1-2 3-2-4-1 5-4-5-3 3-2 7 1-3 1 0 10 2 5 1 6-1 2-2 4 3 1-3 2 3 0-3 6 3 1-5 3 3 2 2 48-2 0 1 4-3 5 3 4 0 5 1 3-4 7 3 1-3 1 1 2 3 2-1 2-1 7-3 7 3 2 2 3-5 2 3 5 2 1 0 3-5 1 1 4 3 2-4 0 5 1 1 1-3 2-1 0 3 1-5 0 1 0 5 1-6 2 4 1-1 4 0 0 2 1 0 0 0 1-3 2 1 4 0 0-3 1 0 2 5 4-1 0-2 1 3 2 1 2-3 0-2 2 4 4-5 1 4 1-1 8 3 2-5 3-1 1 3 0 1 2 2 3-5 0 2 3-1 2 0 0 1 2-3 1 5 2-1 4-2 1 0 1 1 2 0 0-1 2 1 2 1 2-2 0 0 1-2 1 5 3-4 1 2 1-3 2 2 3 3 0-3 4 0 1 1 3 1 0 1 3-3 0 2 1 1 0-4 1 3 1-4 4 1 0 3 1 0" fill="none" marker-start="url(#mg)" marker-mid="url(#mg)" marker-end="url(#mg)"/><path d="M1864 799l-18 4-1-3-30 2-6 1-3-2-23-2-5 1 10 9 13-4 6 4 27-2" fill="none" marker-start="url(#mo)" marker-mid="url(#mo)" marker-end="url(#mo)"/><path d="M1931 792l1 2 1 3 1-4 1 2 3 0 2 2 1-4 3 1 0 1 1-2 1 3 1-3 0 0 1 3 1 1 1-1 1-2 3-2 4 5 0-2 0-3 3 4 0-3 0 0 1 0 1 3 3-3 2 4 4-1 1-1 1 1 2 1 0-3 1 9-1 1-1-4-2-1 0 4-3 1-1-1-1-1-1-1-1-3-2 6-2-3-2 3 0-5-1 2 0-2-4 2 0 1-2-3-1 2 0 1-2-1-4 0-2 0-2 1-2 2 0-4-3 0 0-1-4 3-2-4-1 4-1-3-2 1-2-1-1 4-3 1-2-3-1 3-1-5-1 3 0 2-3-1-1-1-1-3-1-1-2 3-1 1-1-3-1 0 0 4-2-4-1 2-2-1-1 0 0 0 0 3-4-3 0 2-2-2-2-1-2 2 0 0-4 3-1-1-1-3-3 4-2-4 0-2-1 5-3-2 0 0-1-3-1 3 0 0-7 1-5-3-4 0-1 3-1-2-3-2-1 1-1 4-4-2-1 0-2 1-1-4-1 2-2 4-2-5-1 4 0-3 0 3-1-5 0 3-1 1 0 1-2-3 0-2 0 6-1-2-1-1-1 0-1 2 0 1-2-2 0-4 0 1 0 4-1-4-1 1 0 2 0-1-3-1-1 3-1-1 0 2-1-2-2 1-2-1-5 0-1 2-2 0-1-3-5 1-7-2-2 1-2-3-6 5-15-2-1-2-2 2-5 1-3 0-4 2-4-3-3-1-1 4-42-2-4-2-7 2 0-3-4 2-7 2 0 0-7 0-3 1-10-5-1 2-5-2-1 3-1 6 1 0 7-3 5-1 1 2 3 0 4 0 1 4 1-2 6 0 7-1 4-1 2 0 7 1 5-2 2 1 36 1 4 3 0-2 4-3 3 2 3 2 7 0 2-3 2 3 3-5 0 2 9 1 1 1 3 1 1 0 3-2 1 1 3 1 1-1 2-3 0 2 1 3 1-3 3 0 2 3 2-2 4-2 3-1 3 2 1 1 3-2 1 2 0-4 2 4 0-3 0 5 2-3 0-1 0 3 0-4 2 5 1-5 0 3 1-2 1 3 0-3 1 3 2 0 0-2 0-3 1 3" fill="none" marker-start="url(#mg)" marker-mid="url(#mg)" marker-end="url(#mg)"/><path d="M1855 807l12 3-63 1" fill="none" marker-start="url(#mo)" marker-mid="url(#mo)" marker-end="url(#mo)"/><path d="M1835 807l1-1 2-1 0 4 1-5 0 5 0-3 1-2 4 2 0 0 0 3 4-1 3-4 0 1 1 1 0 0 0-1 2 4 3-1 2-2 1 0 1-2 0 0 2 3 1 2 2-5 2 5 1-2 1 1 1-2 0-1 1 0 1 2 1 3 1-3 1 1 4-2 1-1 1 2 1 2 1-2 3-1 0 4 2-5 1 4 1-5 1 3 3 0 0 1 2-2 1 0 2 0 4 3 0-3 2-1 1 2 3 0 2 1 3-1 1 0 3 2 3-3 2 1 0-1 1 3 1 1 2-2 1 1 0-5 4 5 0 0 1 0 1-4 1 2 2-1 2 2 1 1 0 1 3-1 1-4 1 2 2 0 2-2 0 1 3 1 2 1 1-3 0 2 1 0 1 3 4-5 1 5 1-1 3-3 1 1 3 2 0-2 1 3 3-2 2-1 1 2-1 5-2-1 0 2-2 0 0 0 0-5-5 4-1-2-1 3 0 0-2-2 0 2-2-2-1-1-3-1-1 1 0 4-2 0-1-5-3 1-3 0 0 0-5 1-1 0-2 3-2-5-1 0-4 2-1 3 0-3-7 1-1 0-1-3-4 1 0 0-2 0-2 3-1-2-1-1-3-1-1 4-1-2-1-2-1 5-2-4-2-1-1 3-1-2 0 1-3-2-5 0 0 3-2-1-3 0-1 2-1-5-2 4 0-4-1 2-1 3-2-3-1 0 0-1-2 3-1 0-1-2-1 0-1-1-1 1-1 0-2 2-3-2-2 0-2-1-1 3-2-3-2 4-2-3-1-1 0 3-2 1-1 1-2-3 0 2-1-1 0-4-2 2 0 0-1 4-2-2 0 1 0-4-1-1-1 4 0-3-1 1-1 4-2-4 0 3-1-2 0 2 0-5-1 1-1 2-1-1 0 1-1 2-2 0-1-1-1 1 0 1 0-5 0 1 0 3-1-3 0 3-2-4-1 4 0-3-1-1-1 1-1 2-2 1-2-2-1-3 0 5 0-5-2 3-4-3 0 3-1 2-1 1 0-2 0-1-3 1 0-2-5-1-3 2-3 0-2 1-1-2-1 3-4-3-4 2 0-1 0 2-2-1-1-3-5 3-1-2-1 2-2-2-2 3-5-4-8 3 0-3-1 1-5 2-7-4-25 5" fill="none" marker-start="url(#mg)" marker-mid="url(#mg)" marker-end="url(#mg)"/><path d="M1807 821l5 0 1-3 33 0 3 3" fill="none" marker-start="url(#mo)" marker-mid="url(#mo)" marker-end="url(#mo)"/><path d="M1711 814l-3-4-2 2-8-1 0 0-7 3-2-3-2 0-3 1-8 1-9-3-4 1-3-1-4 4-2-3-4 6 9 0 2 2 1 0 1-3 6 0 0 4 4-2 6-2 1 4 0-3 8 0 4 3 3-3 4 3 3-2 1 3 1-4 5 2 7 3 9-1 13-2 1-2 2 4 0-5 4 6 3-2 2-2 1 2 1 0 4-1 0-1 1 3 2-2 2 1 1-2 3-2 2 5 1-1 1-2 2 1 3-1 2-2 0 4 1-1 1-3 1 5 3-4 2 5 0-1 2 1 1-4 1 3 2-5 1 4 2 0 0 1 2 0 0-3 2 2 1-3 1 0 4 3 1-4 2 2 4-1 0 1 1 3 6-2 3 1 1-1 1-2 0 0 4 1 0 4 1-2 1 1 2 1 1 0 1-4 0 0 2 1 0 0 2 0 0-1 0 1 1-3 1 4 0-2 0 3 1-5 1 3 1-1 0 0 1 1 0 0 2 2 2-2 1 2 0 0 4-1 6-1 0-1 4 2 1-4 0 4 1-3 2 4 1-3 3-2 0 1 1 2 2 2 1-2 2-2 0 1 1-2 1 4 0 1 0 0 1 1 0-6 1 2 2 0 1 1 1 0 0 2 2-4 1 4 1-2 2-2 0 0 0 3 0-1 2 2 1-2 0-1 3 0 1-2 2 1 0 0 0 2 1 1 3 0 0-4 2 4 2-1 4-2 1 0 2 2 0 0 3 2 0-5 2 5 0-4 1 3 0-3 5 5 1-5 0 4 3 0 0 0 1-5 1 4 0-3 0 3 3 0 2-4 1 2 1 2 3-2 1 4 1-3 1 0 2 0 0-2 0 0 1 1 1 0 1 2 0-3 2 0 1 2 5 3 0-4 1 3 1 1 1-6 2 1 0 0 2 1 1 2 3-2 3 2 5-2 2 2-1 5 0 3-2-4 0-1 0 2-4 0-2-2-1-1-1 4-1-1 0 2-7-5 0 2-3 2-1-4 0 1-3 0-2 3-1-2-4 0-2 2-1-3-3 3-1-3-2 5 0-3-3-1 0 2-2-4-2 5 0-1-5 0-1-2-1 3-2-4-2 1-2-1-1 3-3-1-1-2-1 4-1-5-2 1-1 3-1-4-2 5 0-5-3 1" fill="none" marker-start="url(#mg)" marker-mid="url(#mg)" marker-end="url(#mg)"/><path d="M1867 822l-8 2 0-2-14 5-35-1-10 1-13-4-53 9 29 0 29-3 5 0" fill="none" marker-start="url(#mo)" marker-mid="url(#mo)" marker-end="url(#mo)"/><path d="M1898 827l-2-2-1 1 0-3 0-1-2 3-1 3-1-2-1-3 0 2 0-2-3 4-1 0 0-4-1 3-2 1 0-4-1 4-1 1-1-3-1-1-1-2-2 5 0 0-1-4-1 1-1-1-1 0-3 5-1-1-3-1 0-1-2-2 0 5-2-4-3 0-2 3-1-3-2-2-1 2-3-1 0 3-1 1-1-3-2 1-1-2-1 3-2-3-1 3-1-2 0 2-2 0 0-3-1 2 0 0 0 1 0 1-1-5-1 3-1 1-1 0-2 2-1-5 0 0 0 2-3 0-3 2-1-1-1 1-4-2-1 2-1-4 0 3-1-4 0 3-2 1-2 1-4-2-2 2-1-3-1-1-1 4-3 0-1-4-1 5-1-1-2-2-2-1-4 4-1-2-4-2-1 0 0 3-1-2-1 1-2 1-3-5 0 1 0 4-1 1 0-1-1-3-2 1-3-2 0 2-2-2-4 2-1 2 0-3-2 0-3 4-2-3-1-2-2 3 0 1-3 0-2-4-2 0-2 2-3 1-2 0-1 2-2 0-1-5-1 3-2-1 0 2 0-4-3 5-1-4-6-2-1 4-6 0 0 0-6 0-1 2-4-4-3 3-2-5-3 4-7 0 0-4-5 4-1 2 0-5-1 2-7-2-1 3-1 0-6 1-3 0-5-5-2 3-2 2-2 2 2 3 5-2 3-2 1 5 1-4 7-1 0 5 2 1 3-4 6 2 6 0 3-2 3 3 0-1 5-1 5-3 5 6 1-2 2 0 2 2 0-5 5 1 1 3 0 0 1-2 2-2 0 2 2-1 0 4 6-2 0-1 6-1 2 4 1-4 2-1 1 3 2-3 1 1 3 3 0-4 1 5 1-1 1 1 2-4 6 2 0-1 0-2 4 0 0 1 2 2 1-4 0 1 3 3 0-2 0 2 1 2 2-4 3 4 2-2 1 2 1-4 1 2 3 1 2-5 3 4 0 1 2-2 1 2 1-1 2-2 1 1 2 0 1 3 2-1 3-3 1 1 2 0 0-2 0 5 0-2 5-1 2 3 4-5 0 3 2 1 1-4 1-1 4 0 0 5 2-4 1 4 1-5 0 4 0-3 2 2 2-1 1-1 1 0" fill="none" marker-start="url(#mg)" marker-mid="url(#mg)" marker-end="url(#mg)"/><path d="M1835 833l5-2 9 2 0-1 12 2-14 3-3-2-5 3-3-2" fill="none" marker-start="url(#mo)" marker-mid="url(#mo)" marker-end="url(#mo)"/><path d="M1834 832l0-4 1 5 1-2 4-2 0 2 0 2 0-1 0 1 2-2 0 2 0-5 0 0 0 5 1-3 4 1 0 0 0 2 0-4 2 2 2 1 0-3 1 3 2-3 0 1 1 3 1-4 2 2 2 0 7 0 0 0 0 2 2-3 1 4 2 0 2-6 0 6 2-1 1-3 0-2 1 2 0 3 1-2 3 1 0 1 0-2 3 1 3 2 1-4 0 3 0-4 1 3 0-3 0 2 2-1 0 0 1 2 2 0 1-4 1 2 1 2 2 0 1-3 0 3 1-1 1-2 1 0 1 4 1 0 2-5 1 6 3-4 0-1 0 4 1-1 1-3 2 2 1 0 3-1 1 2 0-1 2-3 1 4 1 0 2 0 1 1 1-2 0 2 4-3 0 0 1-1 1 4 3-1 1 1 2-3 2-1 2 2 0-1 3-2 1 5 1-5 1 1 2 2 2 2 0-2 4 0 1-3 1 5 1-1 0-2 1-1 3 0 2 2 1 1 0 2 1-2 0-2 0-2 4 6 1-1 0 1 0-6 1 10-1-1-1 0-2-3-2 6-3-2 0-3-2 3-2-2 0-1-2 4-3-3 0 1-1 3-1-2-1-1-3-2-1 0-1 3-1-1-2-2 0 3-1-4-1 2-1 2-2-1 0 1-4-1 0 0 0 2-1-3-2 3-1-2 0 3-2-5-4 3-1-2-1 1-2 0-1 2-2-5 0 4-4 1-1-5-2 2-1 0 0 1-1-1-3-1 0 5-1-2-1-3 0 4-2 0-3-3-1 2 0 1-1-1-2 0 0-2-4-2 0 4-1 0 0 0-2 0 0 0-5-2 0 4-1-4-1 0-3 3-3-3-1 1-4 0-3-2-1 4-1-1-1 2-1-5-3 4-2-1 0-3-2 5-1-2-1 1 0-4-3 2 0 2-2-3 0-1 0 4-2-2 0 3 0-4 0 4-1-3 0 1-1-3-2 5-1-3-1-3 0 5-1 0 0-2-2-2-1 5-1-5 0 1-1 3-2-4 0 4-4-3 0 2-1 0-1-3-1 0-3 0-1 1-2 3-2-4-1 2 0-1 0-1-1 4-4-2-1-1 0 3 0-5-3 4-1 1-1-2 0-2-1 4" fill="none" marker-start="url(#mg)" marker-mid="url(#mg)" marker-end="url(#mg)"/><path d="M1750 835l-14 1-6 2 20 4 6-2 8 1" fill="none" marker-start="url(#mo)" marker-mid="url(#mo)" marker-end="url(#mo)"/><path d="M1807 835l-2 3-2 0 0-3-3 1-4 0-1 0-3 3-2-1-4-3-2-1 0 5-3-2-3 1-3 2-1-2-2 0-5 0 0-3-6 0-1 0-1 4-1-2-3 1-2-3 0-1 0 5 0-2-3 1-3-2-2 3 0-2-3-1-1-2-3 2-1-1 0 5-1-1-4-4-1 3-1-3-2 4-1-1 0-4-5 3-2-1-2 3-3-1-1-3 0 1-2-1-2 5-2-4-2 1-1 1-1-3 0 4 0-1 0-3-3 2-1-3-1 2 0 2-1-2-2 3-8-1 0 1-6-5-2 3-2-2-2 4-5-1-2 2-5-1-5 1-1-6-2 2-5 4 0 4 3-1 3-2 3 5 1 0 2-2 5 1 3-2 1 1 1-3 1 2 1 1 1 1 2 0 2-3 1 0 2 3 2-4 2 5 1-3 1 0 1-2 0 4 1-4 2 3 0-3 1 1 3 3 5-2 0 3 3-3 2 2 1-4 3 3 1 0 2-3 0 4 0 0 2-2 1-2 1 2 3-1 0 1 2 3 0-5 2-1 2 2 3 2 0-3 2 2 3 2 1-3 2 4 2-5 2 4 0 0 1-4 1 0 2 4 1-2 1-1 1 2 6 1 1 0 1-1 1-1 4-3 1 4 1 0 2 1 1 1 1-6 1 5 2-2 0-1 2 4 1-5 1 4 2-5 1 6 1-4 2 4 1-6 0 5 1 0 2-3 0 1 4-3 0 2 1 2 3-1 0-3 0 1 0 4 4-3 0-1 1-1 3 4 1 0 0-3 2 1 1 3 6-3 0 1 3 2 3-2 1 2 1-1 2-3 2 3 0 0 2-2 3 4 4-1 0-4 1 2 3 3 0-2 1-2 3-1 0 1 1 1 0 2 1-1 2-1 0-3 1 1 2 3 0 2 0-1 1-3 0 3 4 0 1 0 0-1 0-3 0 1 1 1 1 2 1-2 0 0 1 1 4-2 0 4 2-1 1-2 2 0 2 1 3 0 11-3 1 3 1-4 0 5 2-1 1-2 5 3 0-4 2 4 2 0 0-3 0-1 1 4 1-3 4 1 2-2 1 4 4-1 1-1 0-2 3 2 0 0 0-1 4 0 2-2 1 3 3 0 1-3 1 3 2-1 4 4" fill="none" marker-start="url(#mg)" marker-mid="url(#mg)" marker-end="url(#mg)"/><path d="M1919 847l-18 1-12 2-4 1-5-4-40 5-97-5" fill="none" marker-start="url(#mo)" marker-mid="url(#mo)" marker-end="url(#mo)"/><path d="M1931 845l6 0 5 0 2-1 2-4 4 2 5-1 0 4 2 0 4-4 2 3 3-1 0-3 3 4 1-2 1 0 1 2 1-1 1-1 4 1-1 7-6-3-6 1-2 1-7-1-3-2-2 2-1 3-8-2-1-2 0 3-1 0-5-3-2-1-4 1-1 2-3-1-3 3 0-2-1-2 0-1-3 1-4-1-2 1-4 3 0 1 0-3-2 0 0 3-3 0-1-4-4 1-1-2-2 3-2-1-2 4 0-4-2 3-3-5-3 2-3 2-2-3-3 1-1 4-1-4-2 3-1-1-1-1-1 1-1 0-1-2-4 1-3 2 0-5-2 3-2-3 0 6 0-5-1 3-1 0 0 1-2-5-1 1 0 4 0-1-1-2-2 0-1 4 0-1-1-1-2-2 0-1 0 1-1-1 0 4-1-3-1 3 0-3-2 1-2-3-1 3-1-2-3 1-2 4-1-3 0 0-1-3-3 5 0-4 0 1-3 4 0-3-4 1 0 1-2-4-1 4-1-3-1 0-2-1-1 5-1-3 0 3-2-2-3 0-1 0-3-4 0 2-1 3-1-4 0 4-1 1-2-4-1 2-2 1-2-4-1 3-2-3-2 4 0-3-3 1 0 2-2-3-2 2-1 1-1-3 0-1-4 1 0 3-2 1-1-5-1 2-1 2-2-4-3 1-1 4-2-4-3 1-1 0-2-2-1 5-1-2-4-2 0 3-2-2 0 2 0-1-4 0-3-2 0 4-3-4-1 3-1-4-3-1-2 3 0-2-1-1-1 3-4-2-1 1 0 2-3-1-2 3-1-1-1-1-4 0-1-3 0 4-1-5-2 1-1 3-2 1-1-2-3-1-1 3-2-1-2 0 0 1 0-2-1-1-5 0-2 1-1 1-3-2-1 3-3-1-1-3 0 4-2-3-3 0-1 2 0 1-1 0-2-1-1-3-1 4-2-4-1 4-1-2-1 1 0 2-1-3-2 2-2-3-4 3 2 3 2-1 2 3 1-1 4 2 1 1 2-6 3 4 3-2 0 3 1-2 3-2 0 4 3 0 4-3 1 3 1-4 0 4 3-4 0 1 3 3 1-4 2 1 2 2 0-1 3 2 0-4 3 4 0-4 0 4 4-2 1-2 1 4" fill="none" marker-start="url(#mg)" marker-mid="url(#mg)" marker-end="url(#mg)"/><path d="M1848 858l29-1 5-1 8 1 3-3-8 5-24-1-8 3-6-1" fill="none" marker-start="url(#mo)" marker-mid="url(#mo)" marker-end="url(#mo)"/><path d="M1710 854l0 3 1-4 1 5 0-2 1 0 4-2 0 1 3 2 2-5 2 5 1 0 0-4 1 0 1 3 1 1 2-4 0 1 1 1 1-3 1 4 1 0 2 1 1-2 4-1 1 3 0-5 0 3 3 1 2 0 3 1 0-4 2 3 0-4 1 5 4-3 1 0 0 2 1-3 2 0 0 2 4 1 0-3 4 2 1 3 3-2 2-2 1 0 1 2 3 1 1 1 1-4 4-1 2 1 0 3 0 1 3-3 2 1 4-1 2 0 1-2 0 4 2-4 3 4 1-3 3 3 2-4 1 3 2 0 4-1 2-3 0 3 1-1 4 3 1-2 0-1 3 1 1 0 0 0 4 0 0 1 0-4 2 5 0-2 4 0 1 1 2-1 0 3 2-4 0 2 1-1 2-1 0 3 0 1 1-3 1-2 0-1 1 4 2 0 1-1 1-2 1 3 0-1 0-3 1 4 0 0 1 2 1-5 1 3 0-4 1 4 2 2 0-4 3 3 1-4 3 4 1 1 1-4 3 3 1-1 0-3 2 0 1 0 1 5 2-5 4 4 0-4 5 4 1-5 0 4 5 1 1-1 0-4 1 2 3 2 0-4 4 6 1-3 4-1 0 1 1-2 4 3 0-2 1-1 1 4 0-3 2 1 2-1 2 3 1-5 1 1 2 2 3-3 1 3 4 3 1-1 10 1 1-1 2-1 2-3 0 3 7-3 2 0 2 5 4-5 3 2 3 1 5-2-1 6-3 2-1 1-7-4-4 4-3-2 0 3-1-3-1-2-2 1 0-1-4 1-1 4-3-1-1-1 0-4-2 0-1 4-4-3-1 2-2 2-3-1-1-2 0 2 0-1-4 0 0-2-4 5-2-1-1-3-1-1-1 3 0 0-1-2-2-1-1 4-2-4-3 4 0-2-3-2-2 2-1-3-1 3-3 2-2-4-3 4-1-5-1 4 0-2-1 1-2 1-2-4-1 6-2 0-2-1-2-5-1 3-1-1-3 2-1-3-4 2 0 3-2 0-2-5 0 4-1 0-1-4-4 3 0 1 0-4-1 2-2-1 0 2-1 1-1-4 0 5-1-3-1-2-2 3 0-2 0 4-1-5-3 0 0 1-1 2-1-2-1 2" fill="none" marker-start="url(#mg)" marker-mid="url(#mg)" marker-end="url(#mg)"/><path d="M1834 869l3 1" fill="none" marker-start="url(#mo)" marker-mid="url(#mo)" marker-end="url(#mo)"/><path d="M1844 862l-1-3-1 4-1-1-2 0-2-1 0 3-4-5-1 4-2-4-1 2-2 2-2-2-1 2-2 0 0-3-1 0-3-1 0-1-4 0-1 5-2-5-1 1-2 4-1 0-1-2-2-3 0 2-3 1 0 0-4-2-2 3-1-3 0 3-1 1-1-1-3 0 0-4-1 4-2-2-2 0-1 0 0 4-1-4-4 4-1-5-3 0-1 1-1 1 0 0-1-1-7 2 0-3-1 3-2-3-3 5 0-4-2-1 0-1-1 3-3 2-3-1-3-3-2 3 0 2-1-1-2-2-3-1 0-1-2 1 0 0-5 3-1-1 0-2 0 2-2 0-4 1-1-1-2 1 0-4-2 0-1 4-3-2-1 3-4-1-1-2-1 1-1 1 0-2-1 0-3 1-1 2-2-4-1 2-1 2 0-1-4-1-2-3 0 1 0-1-3 3-1-3-1 1 0-2 0 5-5-1-1-3 0 4-2 1-1-4-1 3 0-4-2 2-1 2-2-3-2-1-1 4 0-3 0 0-1-1-4 4-3 1 0-4-1 3-3-1 0 1-1 1-1-6-1 2-2 4-1-5 4 8 1 2 2-1 1 0 2-1 2-2 2 5 1-6 2 5 1-2 2-2 3 2 3 0 2 1 3-3 1 5 3-1 2-1 0-2 4 2 1-4 0 2 1 1 1 1 4-2 0 3 1 0 3 0 3-1 1-3 1 2 0 1 5-3 1 3 3-1 1 1 5-3 0 2 2-2 1 1 1 3 0-4 1 4 0-2 5 0 0-1 1 3 0-1 2 1 3-4 1 2 0 3 4-1 1-5 2 1 1 3 1-2 2 2 1 1 3-4 1 4 3 0 0 0 1-4 2-1 0 3 1 0 2-1 3-1 0 2 2 1 0 2 1-5 3 1 1 1 1 2 0 0 2-3 0 3 3-2 1 1 2-2 2-1 0-1 1 3 2-3 0 5 1 0 1 1 2-2 0 2 4-6 0 4 1-2 3-1 1 3 1-1 3 0 0 3 3-5 1 2 0-1 2 4 1-5 0 0 1 2 1-2 2-1 2 1 1 0 0 3 5 0 2-1 1 3 2-2 2-3 1 4 1-3 3-1 4 4 2-5 4 4 1-3 0 5 1-5 0 2 2-1 0 4 2-6 0 2 1-1" fill="none" marker-start="url(#mg)" marker-mid="url(#mg)" marker-end="url(#mg)"/><path d="M1857 867l2 2-8 3" fill="none" marker-start="url(#mo)" marker-mid="url(#mo)" marker-end="url(#mo)"/><path d="M1855 868l0-1 0-1 0 4 0 0 3-5 0 3 2 0 1-3 0 1 0 0 1 0 1 0 2 1 0 2 0-2 3 1 3 0 2-3 1 4 3-2 0-1 3 1 1-2 2 2 0 2 1 0 0-4 1 4 5-2 1 1 3 0 1-1 1-3 2 2 0-1 3 2 2-2 2 3 0-2 3 2 0-4 1 0 2 4 0-3 3 2 1 0 0-1 1 4 1-1 1-3 4 1 1 0 4 0 0-2 4 1 1 0 0 1 2 1 0-3 1 5 3-4 2 1 0-2 1 3 0-3 1 1 3 3 2-3 1 3 3-3 1 1 1-2 2 4 2-1 1 1 2-1 1-3 2 0 1 2 2 0 0-3 2 6 4-1 1-5 4 1 1 11 0-5 0 5-3-4-2 3-2-3-1 3-2-5 0 4-1 0 0-3 0 4-5-2-1-1-2-1-2 4-3-4 0 0-4 1-1-2-2 5 0-2-2 0-2-2 0 4-3-2-1 0-3-2-2 2-2 2-1-2-1-1-2-2-1 2-3 0 0 3-3-2-1 2-1-2 0-1-1 2-3 1-2-3 0-2-3 5 0-5-1 1 0-1-4 0 0 2-3 1-5-1 0 0-2 1-2-1 0 2 0 1-3-4 0 1-5-1-1 4-1-4-3 2-1 1-1 0-1 2-1-4-1 4 0-6-3 2-1 3-2-2-1-1 0 1-2 3 0-6-2 1-1 1-1 2 0 0 0-4-1 1-2 5 0-2 0 1 0-3-1 1 0 1-2-2-1 2-1 1-1 1 0-5-1 3-1-3-2 5-2-3-2-1-1 3-2 0-1-4 0 0-3 1-1-1-2 1-1 0-2 4-2-4-1 2-3 1-1-4 0 0-1 2-2-1-2 4-2-2-1-4 0 0 0 4 0-2-4 0-4-1-4-1-2 1-2 2-2 1-3-2 0 1 0-2-2 4-5-3-3 1-4 3 0-5-1 3-3-3 0 2-5-2-2 3-1-2-2-2-1 5-1-4-2 3 0-2-3-1-4 2-1 0-2-3-1 4-2-3-2 0-2 2 0 1-4-3-2 4-1-2 0 1-5-3-1 3 0-3-2 2-3 1-3 1-1-3-1 3-1-2-2 0-1 0-2-2-2 0-1 3-1 1-2 0 0-5 0 1" fill="none" marker-start="url(#mg)" marker-mid="url(#mg)" marker-end="url(#mg)"/><path d="M1712 875l-2-5-2 4-2 2-2-1-2-3 0 4-1-2 0-1-3 0 0 3-3-4-2 4 0-2-2 1 0-2-3 0-3 1 0-2-1 0 0-1-2 4 0 1-1-3-3 1-3-2-1 0-2 0 0 4-3-1 0-3-1 3-1-4 0 2-3-1-2-1-3 3-1-1-2 0-1 2-1-2-2-3-1 9 2 3 3-6 1 1 2 4 0-3 3 0 1 2 1-1 1-1 0 2 2 1 2-4 1 5 3-2 2-3 2 0 2-1 1 6 0 0 3-4 2-1 2 2 3-1 0 4 2-2 1 2 2-1 1-5 3 5 1-1 4 0 0 0 0 0 6 1 1-5 2 4 1 0 3-3 0 2 1-2 6 2 1-3 0 2 1 3 4 0 1 1 1-5 1 0 1 2 3-2 1 5 2-5 0 5 2-5 2 1 3 2 1-4 1 5 1-4 1 2 0-3 3 2 1 2 1-2 0 3 3-5 0 1 0 2 1 1 1-2 2 1 1 0 3 2 1-1 3 1 0-5 2 3 0-3 2 5 1-4 1 0 1 3 1-3 3 2 1 2 1-5 2 0 1 6 2-2 0-1 1-3 1 1 0 1 2 2 1 0 2-3 3 3 0 0 2-2 3-1 0 1 3-1 1 2 0 2 1-3 1 2 1-3 4 0 1 2 0 2 1-3 1 1 3 2 1 1 1-3 2 0 2-2 1 4 2-4 1 4 1-3 1 1 1-2 2 5 2-3 1-2 0 2 0-1 2 2 2 0 3-3 1 2 1 1 3 2 1-5 2 1 1 0 0 3 2-3 0 3 3 1 1-1 0-3 1-1 0 1 1 1 1 1 0-4 1 5 0 1 0-5 0 0 2 3 1 0 0 1 3-3 0 3 0-2 6-2 1 3 1-1 3-2 3 1 2 4 1-2 1-2 1-1 0 5 6-1 2-3 2 0 0 0 2-1 0 5 0-4 2 1 4-1 1-1 0 5 1-2 1-3 2 4 1 1 4 0 2 0 0 0 2-5 4 0 1 3 1 0 0-3 1 1 1 1 0-1 2 1 4 1 1-2 0 3 0 0 1-3 1-2 2 1 2 3 2 1 1-1 1-3 1 3 4 1 0-1 0-2 1-2 2 5 0-5 2 4 1-3 1 1 2-1 1 1 1 3 1-3 2 1" fill="none" marker-start="url(#mg)" marker-mid="url(#mg)" marker-end="url(#mg)"/><path d="M1967 879l4 0 2 1 1-3 2 2 1 0 2 5 0 3-1-1-2-2-1-2-4 1-1 4-3 1-2-3 0 1 0-1-4-3 0 4-1-2-1 3-4-5-1 1 0 5-4-5-3 3-1-4-1 5-3-1 0 1-1-4-1 0 0 4-1-4-2 4-1-3-3 2-1-3-1 3-3 2-1-3-1-1-3 0-3 0-2 1-1 0-3-2-2 3-1 0 0-4-3 4-2-2-2-2-1 1 0 0-5 0 0 1-2 1-1 0-1-3-2 5-1-5 0 3-3-2-1 0-1 2-3 0 0-3-2 0-2 3 0-2-3-1-1 5 0-4-1 2-2 1 0 0-1-4-1 3 0-2-3 5 0 0-1-4-1 3-1-4 0 4 0-4 0 2-1-2-3 0-1 0 0 2-1 3 0-5-2-1 0 3-1-2-1-1-2 6-1-5-1 3-2 1-1-2-2 0-1 0-1-2-3 5-3-1 0-2-1-2 0 2-7 0-1-1-3 0 0 3 0-4-4 3-1-1-1 2-1-4-3 5 0-5 0 3-3-3-1 2-1 1-2-3-2 3-1-3-1 3-1-4 0 5-2-4-1 2-4-2-1 0-3 3-2-3-2 5-1-5-1 1-3 1-1 1-1 2-1-2-1-4-3 2-3 1 0 1-1 0 0-1-4 1-2-3 0 5-4-4-2 0-1-1-4 4-1-1 0-3-2 2-1-2-2 5-1-3-1-3-1 0-2 2-2 2-1-3 0 3-2 2 0-2 0-4-2 4-3 1 0-4-2 4-1-5-2 0-1 3 0-2-3 3-4-1-1-1-3-2 0 5-2 0-1-4 0 5-1-2-2-3 0 1-3 2 0 0-3 0-3 2 0-3-3-1-1 0-2 0-1 3-2-2-2 2-1 0 0-4-2 4-2-1-1-4-3 1-1 0-2 1-1-1-1-1-2 2-1 2 0-4-1 5-2-1-2-1-4 2 0-2 0 1-3 0-3 0-1-3 0 2-1 2-1-3-5-1 0 5 3 5 1-4 1 5 1-4 2 2 2-2 1 4 1-6 1 2 1 3 0-2 2 2 2 0 1-4 0 0 1 3 3-2 1 1 1 3 2-4 2 0 0-1 1 3 2-2 2 2 2-1 0-1 2 1 1-2 4 3 2-2 1-1 0 4 4-3" fill="none" marker-start="url(#mg)" marker-mid="url(#mg)" marker-end="url(#mg)"/><path d="M1704 892l1-2 1 3 0-1 1-2 3-2 0 2 1 0 2 2 1-1 3 0 1-2 3 3 0-2 0 3 2-5 1 2 1 2 1 0 2-3 3 2 0 3 1-2 3 0 0-1 0-2 2 3 5 1 2-3 1 1 0-2 3 2 0 1 1 0 3 1 1-5 1 6 2-1 1-4 2 2 0-2 0 0 4 1 0 3 1-5 3 6 0-5 2 1 2 2 1-4 4 2 0-1 1 0 0 5 2-6 2 3 3-1 0 1 2 2 1-4 1 0 1 5 3-5 0 1 3 3 1 0 1-3 1-1 0 3 4-2 0-2 2 4 1-2 2 1 1-3 0 3 1 0 1-2 7 4 0 0 4 0 0 1 1-4 2 1 0-1 3 1 1 0 0-1 3 4 0-1 2-2 0 1 2-3 1 0 1 5 0-4 3 3 0 1 2-3 1-2 5 4 1-4 0-1 2 5 3-1 1 0 1-2 1 1 3-1 1-1 1 0 0 3 1 1 0-3 1 2 0-3 1 2 0-3 1 2 4-1 0 1 1-1 1 1 0 3 0-1 1-4 1 2 1 3 1-1 1-3 0 3 4-3 0 0 1 3 0 1 1-3 2 4 1-5 3 4 2-1 0-1 0-2 2 1 1 4 1-1 1-5 2 1 0 3 1-1 2-3 0 5 3-4 2-1 0 2 2-1 1 3 2 1 1-5 2 3 1-2 1 5 1-4 2 0 1-2 1 4 0 2 1-5 2 4 3-3 1-2 0 3 2-1 4 0 1 3 0-2 1-2 2 4 2 0 2-2 1 0 2-2 2 1 2 0 0 1 1-1 3-1 3 2 3 1 1-2 0 4 3-1 1-2 3 1 1 0 2 1 0-4 1 2 2-1 0 2 2-1 3 7 0-3-1 3-1-1-4-1-2 2-1 1 0-4-3 1 0-1-4 3-1-2 0-2-3 1-1 2-1 1 0-4-3 1-1 0 0 3-2 0-1-2-3-1-1-1-1 5-2 1 0-2-4-2 0 2-4-4-1 1-2 2-2 2 0 0-1-3-1-1-1 4-2 1-3-1 0-2 0-1-2 1-1-1-1 1-3 2-1-5-1 1 0-1-1 4 0 2-4-4-1 1-2 3 0-4-1 2-2 0 0-1-2-1-1 2-1 2 0-2-3-2-1 1-2 1" fill="none" marker-start="url(#mg)" marker-mid="url(#mg)" marker-end="url(#mg)"/><path d="M1891 895l0 5 0-4-1-1 0 1-1 2-1-3 0 4-1-4-1 4-2-3-1 0-3 0-2 3-2-1-2 1 0-2-2-1-3 2 0-3-3 0-2 0 0 5-1-5-2 3-1 1-1 0-1-4-1 1-1 0-2 3-4-1-4-2-1 1-1 1-1-2-1 1-2 2-2-3 0 3-5-2-2-1-5-2-1 2-1 3 0 0-2-4-3 0 0 3-3 1 0-1-1 1-2 0-1-5 0 5-1-3-2 1-3 1 0 0-1-4-1 6-1-2-2-1-1-3 0 1-4 5-1-2-1-3-4 4-1-1 0-3-3 5 0-3-2 1-1-2-1 4-1-5-2 1 0 4-1-5-3 1-1 3-1-3-2 0-2-2-4 2 0 2-1-3-2 0 0 0 0 3-3-3-3 3-1 0-1 0-4 1-1-1-1-4-3 6-3-5 0 0 0 4-2-2-1 3-1-2-1-3-1-1-2 2 0 4-2-1-2-3-1 2-1 1-2-5-1 5-3-1 0-4-4 2 0 2-2 0-4 1-1-2-2-1 0 3-1 0 0-3-1 4 0-1-6-3-1 3-1-1-1-3 0 5 0-3 0-3-4 2 0 0-1 3-1-4-4 1 0-1-3-1-1 1-2 3-1-3-1 4 0-4-2 4 0-2-4 2-2-2 0-1-5 2-3 0-1 1-1-2-2 3-1-2-2-2 0 0-1 3-4 0 1 2 1 4 3-1 3-1 3 0 3 2 1-5 0 3 3-3 0 2 1-1 0 2 2 2 1-5 0 2 5 2 1-1 0 3 0-3 1-2 4-1 1 3 0-1 1 1 2 0 1-2 0 2 3 1 2-1 1-2 4 5 0-1 2-1 4 1 1 0 1 0 4 0 3-1 1-4 1 1 1 0 1 3 1-1 2 0 0 2 1-3 4 3 1-3 2 0 0-1 1 2 2 3 1-1 3-1 3-1 4 1 1-2 3 0 0 4 1-5 0 4 2 0 2 0 3 0 1-2 0-2 2 1 3-1 2 4 2-1 1-3 1 4 2-4 1 3 0-4 1 0 1 4 0-1 5-2 1 1 0 2 2 2 1-2 3 0 4-3 0 1 2 4 2 0 1-1 0-4 2 1 2 1 1 1 3 2 0-4 1 2 5-3 1-1 0 5 2-1 5-2 1 3" fill="none" marker-start="url(#mg)" marker-mid="url(#mg)" marker-end="url(#mg)"/><path d="M1818 905l2-3 2 1 2 1 1-2 4 1 1-2 1 4 0-4 1 1 2-1 1-1 0 4 3-3 0 3 2-2 1 3 4 0 1-4 1 0 0 5 2 0 0-4 1 3 2-1 3-2 0 3 0-3 1-1 5 1 2 3 2-4 1 1 1-1 3 0 2 4 0-2 1 3 0-3 1 2 2-1 2-3 3 1 0 0 0 2 4-2 2-1 0 4 1-2 2 3 0-1 0-1 3 2 0-2 0-2 2-2 0 2 0 0 1-1 0 3 1-3 1 2 0 1 1-4 2 4 1-2 1 2 0-3 1 0 0 0 1 2 2-1 1-1 1 1 0 0 1 1 2 1 2-3 2 4 2-1 2-3 0 4 1 1 1-2 4-1 1 1 4 1 1-3 2-2 0 1 1 2 0 2 2-4 0 3 4-2 1 3 2-2 1-1 3 1 0-2 1 2 0-2 3 3 1 0 3-4 1 5 2-2 0-2 4 1 0 0 0 1 2-2 1 1 1 0 0 1 5 1 1-3 1 4 3-4 1 4 1 4-2 1-2-1 0-3-2 4-3 0 0-2-1 3 0-3-1 4-3-3-1-2-1 1-1 3-3-1-2-2-1 3 0-1-1-1-2 2-1 0 0 0-2-3 0 0-1 3-3-4-1 4 0-1-2 2-2-3-2-2-1 5 0-6-2 6-1-5-1 4-2-4 0 4-1-2-1 0-2 2-1-4-2 4 0-2-3 2-1-5 0 5-3-1 0 0 0-4-3 2 0 1 0-2-1 1 0 3-1-1 0-3-1 1-1-2 0 5-2-1 0-3-1 4 0-2-1 1 0-3-1 2 0-1 0 0-2 1-2-1 0 0 0-1-1 2-1 3-1-5-1 0 0 3 0 1 0-4-1 5-1-6-1 4 0-2-1 0-2 3-1-3-1-1-1 1 0 3-1 0-2-2-2 3-1-4-1 0-3 0 0 3 0-1-3-3-1 5-1-4-3-1-3 4-1-2-2 0 0-3-1 5-2-2-1 1-2 2-1-6 0 2-2 2-1 0-1 0-2 1-3-1-2 0-1-1 0-1-3-1-2 0-1-1 0 2-4 3 0 1-1-5-1-1-2 4-1 1-2-1-1 0-1-4-2 1-1 2-3 1-2-3 0 4 0-3-4 2 0-2-1 3-2-2 0 0" fill="none" marker-start="url(#mg)" marker-mid="url(#mg)" marker-end="url(#mg)"/><path d="M1810 911l0 1-2-2 0-4-1 2-2 0-1 1-1 0-1 1-4-3 0 4-2-3-1-1-2 0-3 2 0 1-3 2-2-5-1 4-1-1-2-1-1 3 0-2-1-1-1 1-5-1 0-2-1 4-2-4-1 4 0-1-1 1-2-3-1-2 0 1-2 1-2 1-2 0-4-1-1 4 0-2-4 1 0-3-1-2-1 4-3 0-3-2-1 4-1-4-1 0 0-2-1 5-1-1-1 1 0-3-5 2-1 2-1-5-2 3-1 1-1-1-2 1-1-2-1 1-3-3-2 3 0-1-1 0-5 1-1-3 0-1-1 4-2-4-1 3-1-2-2 3-3-2-1 1-5 0-1 2 0 0 0-1-2-1-3-3-1 4-3-4-1 1 0 4-5-2 0 1-3-3 0 0-5 3-2-1 0-2-5 2-1-1 0 3-1-1-2 1-2-2-1-3-3 1-1 9 4-4 2 4 4-1 2-1 1-1 1 4 1-4 2-1 2 5 1 0 0-3 1 2 2 0 0-2 1-1 1 2 1 1 1 1 1-4 2 0 0 3 2 1 2-5 1 4 2-3 1 1 2 2 3 0 1 0 2-3 1-1 1 4 1-4 2 3 0 2 0-4 3 2 2 0 2 3 1-4 0-2 3 3 0 3 1-4 1-1 2 0 1 2 0-2 5 4 0-5 1 3 5 2 1-2 3 1 1-2 0-2 4 5 1 0 2-4 0 3 2 0 2 1 0-2 1 2 2-4 2 2 1 2 1-4 2 5 0 0 3-5 1 0 2 0 0 2 1 1 1-3 1-1 1 1 1 3 6 1 2-1 2-2 1 2 0-2 2 1 6 1 1 0 3 1 0-4 1-1 1 3 3-3 1 1 0 4 2-2 0 1 1-3 3 2 2-1 5-1 1 5 3-2 1-1 2 0 1 0 0 2 2-1 3-3 1 0 1 4 2-3 3-1 1 3 3 1 1-5 2 2 2 3 1 0 4 0 0-5 2 2 2 2 2 2 2-2 0-1 2-1 1 2 0-4 3 3 1-1 2-1 1 4 2 0 3-3 1 4 1-2 2-3 1 1 0 2 2 2 2 0 2-5 0 5 2-1 2-4 2 1 0 3 1-1 2 1 1-3 1 3 3-1 0-3 1 3 1 0 1-3 1-1 1 0 0 5 0-1" fill="none" marker-start="url(#mg)" marker-mid="url(#mg)" marker-end="url(#mg)"/><path d="M1895 918l1-3 1 1 2 1 0-2 1 0 1-1 1 3 0-2 1 3 1-5 0 0 1 4 0-3 1 0 1 2 1-3 1 3 0 1 1 1 2-1 1-3 0 0 1 1 0 0 1 0 1 1 2 1 0-5 0 4 0 1 1-4 0 2 1 0 0 3 1-3 1-1 1-1 0 5 2-2 0 0 2-1 3-1 0 3 6 0 2-4 4 3 1 0 1-1 1-3 5 6 2-4 4 1 4-2 0 5 2-4 3 3 3 0 3-4 1 3 1 1 0-3 2-1 1 5 0-4 1 2 1 2-1 3-1 1-2 2 0 0-1-6-4 2-2 1-2-3-3 4-1-3-2 0 0 3-3-1 0-3-2 4 0-4-2 6 0-1-2-1-1-2-3 2 0-2 0-1-3 0-3 4-1-2-1-3-2 3 0-2-2 0-1 3 0 1-1-3-2-2-1 5 0-1 0-3 0 5-1-2-1-2 0-1-1 1-1-2 0 5-2-3-1 0-1 3-1-1 0-3-2 1-2 0-1 0 0 4 0-6 0 3-1 2-1-5 0 3 0 2-1-2 0 2-1-4-1 5-2-1 0-3-1 3 0-3-1 1 0 0-1 2-1 1 0-3-2 2 0-4-1 2-1 1-1-2-1 3-1-4 0 5 0-5-2 0 0 1-2 3 0-1 0 1-2-4 0 4 0-2-3 0-1 0-1 1-2-2-2 1-1 2-4-1-1 0-1 1-2 0-3-4-2 3-4 1-1-3 0 0-1-2-2 5-1-3-2-2 0 2-3 4-2-4 0-1-1 4-1-4 0 5-3-4-2 3-2-3 0 3-4 1 0-5-3-1 0 1-3 1 0 0 0 3-3 0 0-4-1 1 0 2-3-3 0 0-1 3-2-2-2 3-3-4 0 0-2 4 0-2-4-2-1 2-1-1 0 4-2-6-3 5 0 0-1-3-1 3-1-1-1-4-1 5-1 0-1-1 0 2-3 0 0-5 0 0-1 3-3 1-2-1-1-3 0 3-4-1-1 2 0-2-1-3-2 1-3 0 0 5-1-4-2 1-3 1 0-2 0-1-4 0-2 0 0 3-2-1-3 0-1 2-1-1 0-4-3 4-1 2-1 0-1-1 0-1-1 2-4-1 0-2-2 0-2 0 0-1-3 2-4 1-2 0-1 1" fill="none" marker-start="url(#mg)" marker-mid="url(#mg)" marker-end="url(#mg)"/><path d="M1732 921l-1-3-2 2-3-1 0 4-1-2 0-3-4 1-1 4 0-4 0 3-3-1-3-1 0 2-4-1 0-3-1 1-2-1-1 1-3 3-2-2-1 1-2-1-3-1-1 3-3-3 0-1-2 3-2 2 0-4-2 3-1 2-1-5-1 4-4-1-1-2-1 4-3-2 0-1-1-1-2 2 0-3-1 4-4-3 0 2-2 1 0-4-1 3-2-3 0 4-1-5-2 3-1-3-1 3-2 4 1 1 1 3 3 1 0 0 3-5 1 2 1-2 0 5 2-1 2-4 1 1 2 2 1-3 4 3 1 0 3 0 2 0 3-3 2 3 0-2 3-1 1 2 1 0 3 1 1-2 0 2 4-2 0 2 1 1 0-1 1-3 2 5 1-6 2 1 0 2 3-2 2 5 0-3 1-3 0 1 2 4 4-5 1 5 3-3 0 2 2-3 2 0 2 2 0-2 0 2 4-2 1 2 1 3 1-4 2-1 0 1 2 3 1 1 1-2 0-1 3-1 3 2 1-2 2 1 1 1 2-1 4 2 1-1 2 0 0 1 1 1 1-3 0-1 1 4 2-5 0 0 1 2 2-2 0 2 1-1 0 4 6-4 0 3 1-1 1-2 1 1 0 1 4 0 1 2 1-5 2-1 2 5 4-1 2-3 2 2 1 0 0-1 3 2 1 2 4-2 1-1 6-1 1-2 2 3 0 2 2-1 1 0 5 1 1-4 0 2 2-1 0-2 1 3 1 0 3 2 1-1 3 0 1 1 1-4 2 4 2-3 0-1 1 5 0-2 3-2 1 0 2 3 1 1 0-4 2 3 3-5 1 2 0 4 4-4 3-1 1 3 1-1 0-1 0 3 2-3 3 2 0 2 1-5 0 5 4-5 0 0 2 4 2-3 0-1 2 4 1-4 1 5 1-3 2-1 1 0 2 4 1-6 1 0 1 2 1-2 2 3 0-2 0 3 1-2 0 3 2-3 0-1 0 3 0-3 2-1 1 0 1 6 0-2 1-2 1-1 1 4 1-2 0 0 1-3 1 5 1 1 2-3 1 1 2 0 0-1 2 0 0-2 1 3 0-3 0 5 1-1 0-4 1 1 0 0 2-1 0 3 2-3 0 4 2-4 0 2 1 3 0-4 1 0 0-1 1 4 0 0 2-1 0-1 0 1" fill="none" marker-start="url(#mg)" marker-mid="url(#mg)" marker-end="url(#mg)"/><path d="M1930 925l0 4 0 0 2-4 4 5 1-4 1 2 2 1 2-4 1 5 2-4 1 2 1-2 0 2 2 1 2-2 3-2 1 3 1-1 1 1 1-2 1 4 1-1 2 0 1-3 1-1 0 4 1-5 2 2 1 2 0-1 0 2 2-5 0 2 2 2 3 1 1-1 1-1 2 2 0 5-4 1 0-3-2 2-1-1-2 0-2 1-2 2-1-1-1 1 0-6-4 1-4 4-1 0-1-1 0-2-1-1-2-1-6 1 0 0-1 5-1-5-2 4-2-5-1 5-1-4 0 3-4-2-1 2 0 1-2-4-1 1-2 3-1-2 0 3-1-3 0-2 0 4-1-3-1 1 0 2-1-5 0 6-1-2 0 1-1-3 0 3-1-1-1-4-2 3 0 1-1-3-1 3 0 1-2-4-1 3 0-4-1 1 0 3-1 1 0-3-2 2-2-3 0 2 0 1-2 2 0-3 0 3-1-2-1-1-1 3-1-5 0 3-1-3 0 0-1 4 0-3-1 1 0 1-1 0 0-1-2 2-1-4-1-1 0 4 0-3 0 2-1 0-2-2-1 5-2-6-1 1-3 2-1 3-1-5-4 1 0 4 0-2-2-4 0 6-1-3-5-2 0 3-2 2-1-2-2 0-1-3-3 1-2 1-1 2 0-4-2 1-1 4-2-3 0-1-4-1-3 1-3 0 0 3-1-2-3 1-1-4-1 4 0-2-3-1-2 3-4-3-4 2-1-2 0 4-2-2-3-2-2 0-1-1-1 0-1 5-1-3-2 0 0 2-2 1-1-2-1 2 0-4-1 5-2-4-3 3 0-3-2 2-2-1 0-3 0 6-4-5-1 1 0-1-2 4-1 1-1-3-1 0-4 2 0-2-3 0-1 3-2-3-1-3 0 1-4 3 0 1-1-3-3 0-3 3 0 0-3-3 0 3-2-1 0 1-3-2-1-1-1 0-3 4-2-1 0-5-1 2-3-1-2 5 0-5-3 3-3 0-1-1-4-3 0 0 0 4-3-1 0 0-1 2-2 0 0-2-1 0-2 0-3 0-1-2 0 2-1 3-4-3-1-3-2 5 0-1-2 0 0-1-2-2-2 4-3-4-1 5-4-3-1-1-1 1 0 2 0 1-1-3-3-1-1 0-3-2 0 3-1 2-1-4-2 2" fill="none" marker-start="url(#mg)" marker-mid="url(#mg)" marker-end="url(#mg)"/><path d="M1680 933l-3 2-2-2-1 2 0-3-3-1-1 2-3 1 0-3-1 0-4 2-4-2-5 2-1-3 0 4 2 8 1-3 1-2 1 3 1-4 2 1 1-1 3 6 0-5 1 0 1 5 2-1 3 0 0-4 3-1 0 4 1-1 5 3 0-3 2-2 1 4 0-1 2-3 2 0 1 4 1-1 0 2 4-1 1-2 1-2 0 0 4 2 1 1 2 1 1-4 0 1 2 1 2 3 0-5 4 1 0 1 1 2 0-2 1-1 3 0 1-1 1 3 0-2 3 3 2-2 5 0 0-1 2-1 1 2 2-1 0 2 1 0 2-3 3 2 0 0 1-3 2 1 0 2 1-1 2 3 1 0 3-5 1 3 1 0 0-1 2 3 4 0 1 0 1-2 4 1 1 1 0-4 2 3 5-3 0 4 4-4 1 2 2 0 1-2 2 2 3-2 0 4 2-3 2 0 1 0 1 1 1 1 2 1 1-4 2 3 3 1 3 0 1-1 1-3 2 3 1 2 2-5 2 2 3-3 0 4 2 2 1-5 2-1 1 4 0 2 1-5 1 4 2-4 1-1 2 3 0 0 3-3 1 4 0 0 1 0 2-3 1 3 3 2 0-3 3 3 2-5 1 2 0-2 2-1 1 2 1 0 2 3 2 0 1-4 2 4 4-5 1 6 1-6 0 3 2 2 4-2 1-2 0 2 1 0 1-1 2 0 3 0 1 2 1 2 1-2 3-2 0 2 2-4 0 5 0-3 4 0 2-1 1 3 1 0 1-2 0-1 1 5 0-1 1 1 0-4 1-1 1 0 0 4 1 1 1-4 1 0 0 3 1 0 0-1 4 1 0 0 1-2 1 0 0 2 0-5 1 2 0-1 2 2 0-1 2-1 0 5 0 0 2-2 1 2 0-5 1 1 1-1 0 0 0 5 2-1 1-1 0 0 0-3 2 4 1 0 0-2 1 2 0 1 2-2 1 1 0 0 1-2 1-2 1-1 1 0 0 5 0-2 0 2 3-2 2-2 2 5 1-4 1 4 2-6 6 1 0 1 0 1 1-1 0 0 1 3 3-1 4 0 2 1 1-4 1 4 2 1 1-6 3 2 1 2 4 0 1-2 1 1 1 0 1 2 4-4 0 3 0 3-3 5 0-1-1 0-1-3-3 0 0-1-1 4-3-3" fill="none" marker-start="url(#mg)" marker-mid="url(#mg)" marker-end="url(#mg)"/><path d="M1965 943l0 4 0-5-3 6-2-5-3 2 0 0-2 0-1-2-1 4-5-4-1 1-1 1-2-3 0 4-1 0-2-4-1 2 0 0-4-1-2 0-2 2-1 0-1 2 0-3-2 1-1 3 0-3-2 0-1-1-2-1 0 1 0 4-2-5 0 2-2 1-1-3 0 2 0-2-1 4 0-1-2 0 0 0-2-1-1 3-1 0 0-1 0-2-1-3 0 1 0 4-2-3 0 2 0-4-1 5-1-5-1 2-2-2-1 4-1 0 0-3-1 2-2 0-1 0-1 0 0 1-1-2-1-1-2 4-1 0-1-1-1-1-2 0-1 0 0-3-1 4-3 0-2 0-1-3-1 2-1 0-2 3-2-1-2-2-2-2 0 4-1-2-2 1 0 1-2 0-1-1-2-2-3-2 0 4-2-2-3 1 0 1-3 1 0-2-2-2 0-1-2 3-3-1-1 0-1 1 0-3-1 6-3-3-1 0-1 2-5-4-1 2-2 3-1-3 0-2-4 1-1 2 0-1-4 1-3 1-1-4 0-1 0 4-3 0-1 1-4-1 0 2-1-3-4 0-2-1 0-1-1 4-3-3 0 2-2-1-5-1 0 1-2 2 0-2 0-3-1 3-1 3-3-4-2-2 0 1-2 0 0 0-1 4-2-5 0 0-4 1-1 1 0 3 0-1-2-2-4 0 0 0-3 2-1-2-1 2-1 2-2-3-1-2-3 4-3-2-1-1-3-1-1 1-5 1 0 1-1-3 0 5 0-1-1-2-4 2 0-1-2-3-2 3-3-3 0 0-5-1-1 4-1 1-2 1 0-4-3 0-2 2-2-1-1 0-4-2 0 1-1 4-3-2 0-1-3 0-1-3-1 6-3-5 0 0-3 2-1 2-1-4-3 5-1-2 0 1-1 0-3-3-2 1 0 2-1-2-2-1-1 3-4 0 0 0 0-4 0-1 0 1-3 1-1 2-4-1-1-3-1 4-2 0-1-2-4 4 4 1 3 2 0-3 0 6 3-1 0-4 2 0 1 1 1 2 1-3 2 2 3 1 0 1 1-3 2 2 1-3 2 3 1-2 1 2 4-4 4 5 3-3 0-2 1 4 2-1 0 1 2-3 2 3 0-2 1-2 2 4 0 1 2-2 1 0 3 0 1 1 0-3 2 5 1-6" fill="none" marker-start="url(#mg)" marker-mid="url(#mg)" marker-end="url(#mg)"/><path d="M1710 952l1-3 3 1 1-2 2 0 1 1 1 5 1-1 2 0 0-3 1 1 3-3 1 3 2-2 3 3 3 1 0 0 3-3 2-2 0 4 2 1 2-3 0-2 1 0 0 0 1 5 1-1 1-1 2-2 1 1 1 4 2-4 5 3 2-1 0-3 3 3 0 0 0 1 2 0 3-2 1-1 1 0 3 4 1 0 1-5 2 0 2 3 0-2 1 1 3 2 0-4 2 2 4-1 1 3 0-5 1 3 2 0 2-3 1 0 1 5 4-2 1-2 1 4 1-5 3 0 1 5 2-4 0 0 0 4 2-4 3 5 0-4 4-1 0 2 1 0 0 0 1-2 4 1 1 1 2-1 1 1 0 1 3-3 2 3 1-1 4-2 0 5 1-2 1-3 0 0 0 5 3-1 1-2 0-1 2 3 4 0 1-3 2 3 0-5 1 0 2 1 2 2 3 0 4 0 4-2 1 5 1-1 3-1 0 2 0-3 1-1 1-1 1 1 3 4 1-2 0-3 3 2 2 3 0-1 2-1 0 2 1-1 0-2 0 2 1-5 0 2 0 3 1-1 0 0 1-3 2 0 0 1 0 2 0 0 1-2 1-2 1 5 1-4 0 1 0 2 2 1 0-1 1-3 0 1 0 0 2-2 0 5 0 1 0-2 1-3 0 5 2-1 1-2 1-2 0 1 0-1 1 3 1-3 0 4 2 1 1-3 0-3 0 6 2-2 0 0 1-1 1-1 0-1 1 2 0-1 1 3 0-2 1-3 1 6 0-6 1 4 1 2 0-5 2 4 0 0 1-4 0 1 0 3 1-4 0 4 1-1 3-2 0 3 0-1 1-2 2 1 2 0 0-2 1 2 3 2 1 0 1-4 0 0 1 0 3 4 2-4 0 5 1-3 2 0 2 1 1 1 2-4 0 0 2 2 0 0 1 2 1-3 4-1 1 4 0-2 4-3 1 4 2 1 1-2 2-1 1 1 0 8 0-4 0 4-1-5-3 1-1 3-2-2-4-1 0 3-2-3 0 4-1-1-4-1-3 3-3-5 0-1 0 6-1-2-2 1 0-5 0 4-3 1 0-3-1 1-1 3-2-1-3-1-1-1-1-2-3 2-2 0-1-2-2 2-1-1 0-2-1 5-3-1 0-2-1 3-1-1 0 0-2-1-1-2" fill="none" marker-start="url(#mg)" marker-mid="url(#mg)" marker-end="url(#mg)"/><path d="M1920 958l-1 2 0-1-1-3 0 3 0-1-1-2-2 0 0 3-1-4-1 4 0-3-2 1-2 0 0 2 0-3-1 2 0-3-1 1-2 1-1-1 0 1-1 2-3 0 0-3-2 2-1-3 0 2-3-1-1 0 0-2 0 5 0-4-1 5-2-3-1-1-1 2-2 2 0-1-3-1-2-1-2-2-1 2-1 2-3-4-1 5-4-1 0-4-1 0-2 3 0-1 0-3-2 0 0 4-2-3-2 4-1 0-1-3-2 0-1 2-2 1 0-1-4 0 0-1-1-2-3 5 0-2 0 1-3-4-2 3 0 2-5 0 0-3-1-3-2 2-3-2-1 4-2-2-1 3-1-2 0 2 0-3-2 2 0-3-2 3-2 0-4-3-5 0-2 3 0-4-1 6-1-2-1-2-3-1 0 5-1-1-1-3-1 3-1 0 0-3-2-1-1 0-1 4-2-3-4 1 0-3-1 4-2-2-1 2-3 1-1-5-1 2-1 3-1 1-1-3 0 1-5-2-1 3 0-3 0 4-2 0-2-5-2 3-3-2-2 3 0-4-2 4-2-4 0 5-1-4 0 0-3 0-1 4-3-3 0 2-3-4-1 4 0-5-2 5-1-1 0 1-6 0 0-4-2-1-1 1-1 3 0 2-2-1-1-2-2 2-1 0-1-4 0 1-2 1-3 0-3 0-2 2 0-3-1 4 0-3 0 1-4-1 0-3-4 4-2-3-1 2-5 3-2-3-2 1 0 1-3-3-3-1-2 2 0-3-2 0-1 4-1-2-2 4 0-1-3-5 0 2-2 3-4-2 0-1-1 2-2 2-1 0-2-3-1 3-3-3 0 2-2 1 0-6-2 0-2 1 1 8 4 2 1-2 3 1 0-3 2 2 3 2 4-5 0 2 1 3 1-2 0 0 3 3 0-4 2-1 3 3 0-3 1 4 2-5 2 5 1-4 1 0 1 2 1 1 1-3 2 2 1-2 2 4 1-3 3 0 0 3 0-3 2 3 1-5 1 0 0 2 3 2 2-3 2 4 0-3 3 3 2-2 1-2 3 3 0-3 2 3 0 1 3-2 1-2 1 4 2 1 1-5 0 2 3 2 1 0 0-3 4 2 3 1 0 0 2-5 1 1 2 3 2-2 2 3 1-5 1 0 1 3 3 0 1 1" fill="none" marker-start="url(#mg)" marker-mid="url(#mg)" marker-end="url(#mg)"/><path d="M1756 965l3-3 2 3 1 1 1-3 1-1 1 0 1-1 1 4 1 0 1 0 5-1 1-1 2 1 2-1 2 0 2-2 1 1 1-2 1 4 1-1 4 2 1-4 1 3 1-2 2 3 2-3 0 2 4-1 1 0 1 0 2 2 3-4 2 0 2 3 1 1 0-5 3 5 1-3 1 3 3 0 1-2 2 1 0-3 1-1 3 6 1-4 1 0 2 3 1-2 1-2 3 2 1-3 0 3 1 0 2-2 1 4 4-2 1-3 1 5 1-1 2 0 1 0 2 0 1-3 4 2 1 2 2-4 1 2 3 2 0-1 1 2 2-2 1-3 3 3 2 2 1 0 3-6 0 3 0-2 2 2 2 1 1 2 3-5 0 5 2-4 2 3 1-4 1 3 2-3 2 0 0 2 1-3 0 5 1-5 0 3 1 2 2-5 1 5 0-1 1 1 0-3 0-2 1 3 1-1 1 0 1 0 1 2 1 1 1-5 0 4 1-3 0 3 2 1 0-2 0-1 1 2 0-2 0-1 1 3 2 0 1 2 0-5 1 0 0 0 0 3 1 0 0-1 2 2 0-3 3-1 0 3 0-3 0 3 1 2 1-4 1-1 1 2 3-1 2 1 0 2 2-1 0 0 2-4 3 4 3-2 1 2 3-3 2 5 0-2 3 0 4-1 0-3 1 3 2-2 0 2 1 0 1 2 3-5 1 2 1-1 0 4 3-4 2 2 2 1 2-2 1 1-2 4-3 2-2-1-2 2-1-2-2 0 0 3-4-4-2 3 0 2-3-2 0-2-2 2-1-1-2 1-3 1-2-1-1-2 0 2-1-3-2 4-1-3 0 2-2 1-1 0-1-3-2 0-1 0-2 2-3 2-1-4-1-2 0 1-1 0 0 2 0 3-1-5 0 3-2-3 0 4 0 0-1-2-1-2 0 1-1-1 0 1-3 1 0-1-1 2-2-3-2 1-1-1-3 0-4 0-1-1-1 1-1 0-1 5-3-6-1 3-2-2 0 5 0-3-2 1-4-1-2-2 0 0-1 4-2-4 0 5-2-5-1 3-2-3-3 3 0-2-1 2-4 1-3-2-1-1-2-1-1-1-3 2-1 4-1-3-1-2 0 1-5-2-1 3-2-1 0 4 0-1-2-3 0 3-2-2-2 3-2-2-1-2" fill="none" marker-start="url(#mg)" marker-mid="url(#mg)" marker-end="url(#mg)"/><path d="M1842 972l-1-3-2 1-2-1 0 3-1-1 0-4-4 2-1-1-4 0-1 4 0-5-3 2 0 1-3 0-2-3-1 4-1-3-2 3 0-4-1 5-3-6 0 5 0-3-2-1-1 2 0 2-2-4-1 4 0-4-4 1-2 0 0-2-5 2 0 0-3 2-2 1 0-2-1 3-2-5-1 2-2 1-1 1-1 0-1-4-1 1-2 1-1-1-5 2-1 0 0-2-1 0-2 4-1-6-4 5 0-2-4 1-2 0 0 0-1-3-1 5-2-3-2 1 0 1-1-5-1 2-1 3-3-4 0 4 0-1 0-3-5 1-1 3 0-4-3 1 0 2-2-4-1 1-5 3-1 1-1-4-2 4-1-1-3-3 0 2-1 1-1 1-1-2-3 3 0 0-1-2-1-2-3-1-1 4-1-5-1 4-1-1-4-3-2 5-3-3 0 1-1-1-1 3-1-3 0 3-3-1-2-1-1 1-3-4 0 4-4-2-1-1-2 2-1 3-3 0-1-4-2-1 0 2-4 1 0 0-4-3-1 4-1 0 0-4-2 6 4 2 3-2 0 1 2-1 0 2 0 1 1-3 0 0 3 2 1 2 2-3 2 3 2-2 2 1 0-3 1 3 0-3 1 0 1 0 0 3 1 2 3-1 2-5 1 4 0 1 3-1 2-1 0-2 1 0 3 3 1 0 2 0 0-3 0 5 4-3 0-2 1 4 2 1 3-4 1 1 2 1 3 1 2-3 2-1 4 4 0-2 1-1 1 1 3-1 0-1 1 3 1-4 0 3 3 2 1-2 2-2 3 2 1 2 1-2 5 1 1-2 5 3 1 0 1-3 1-1 4 4 0-5 2 3 0 3 1-1 2-4 0 3 3-2 2 4 2-2 0-3 3 4 1-4 0 4 1-4 4 4 1 1 1-5 2 1 0 1 0 1 2 2 2-1 4-4 0 3 1-4 2 2 0 0 1 4 1-1 3 0 0 1 3-4 2-1 1 3 1 1 4 0 2 0 0-2 2 2 2-1 1 1 1-1 0-3 0 0 3 3 2-3 1 4 3-5 1 2 1 2 2 1 0-3 2-1 0-1 2 5 3 1 1-1 3-1 3 0 1 1 2-2 6-1 0 2 1 2 1-6 1 2 4 2 1-1 2-2 1 1 3 3 0-4 1 4" fill="none" marker-start="url(#mg)" marker-mid="url(#mg)" marker-end="url(#mg)"/><path d="M1873 973l1 4 2-1 1-2 1 1 2-1 1 3 0-1 0-2 3 3 1-4 2 2 2 0 0 2 1-4 3 2 0 3 1-4 2 2 1-1 1 1 1-4 4 3 0 1 2-1 0 1 0-2 2 0 2 2 0 0 1-2 2-1 0 0 2 2 0 1 1-2 2-2 1 6 0-3 2 0 1-2 1 3 1-2 1 2 1 2 2-4 1-1 1-1 1 3 2 1 3 2 0-5 0-1 1 4 0 0 4-3 3 4 2 0 2-2 2 2 2-4 0 4 4-2 0 0 0-3 2 1 1-1 1 4 1-1 1-1 0 1 2 2 1-2 4-1 1 1 1-1 2 0 0 2 2-3-5 9-6-2-1-1-2 4-3-3-3 1-2 0-1 0-1 3 0-1-2 0-2-1-2 2-3-3 0-2-1 0-2-1-2 2-1 2-2 1-3-1-2-4 0 2 0 3-4 0-1-1-2-1-2-2-3 5-2 0 0-3 0 1-2 1-2-3-3 3 0-4-2 3 0 1-1-1-2 1-3-3-3 0-2-1-1 4-2 0-1 0-2-2-4-2-2 1 0 1-1 1-4-3-2 2 0 1-1 2-2-4-2 0-2 1-1 1-1 2 0-6-2 1-1 0-2 3-1-2-3 0-1 3 0-3-1 3 0-4-2-1-2 4-1 0-2 1-1-3-3-2-2 6-2-5-2 3-3 2-2-5-1 5 0-3-2-2 0 2-1 2-1-3-2 3-5-3 0 2-1-3-6 5-1-5-2 0 0 2-1-3-3 2-1 2-4 0-2 1 0-1-1-1-2 1-1-2-1 3-3-5 0 3-2 1-2 1-2-1 0-1-3-1-2 3-3-4-1 5-2-6-2 2 0 2-1-2-2-1-2 2-1 2-2 1-4-4-2 1-1 3-1-6-1 5-1-4-1 3-1-1-2-3-1 1 0 3-1 1-1-4-1 0-1 2-3-1-1 0-1 4-2-4-2 0-1 4 0-5-2 2-3-2-2 3-1-4-1 5-1-2-4-1 0 4-2-4-1 0 0-2-3 4-2 1-1-5-1 5-3-4 0 3-1-3-1-1-4 2 0 2-3-4 0 6-5 0-2-4-3-1 0 2-4 1-1-1-1-1 0 3-1 1-3-1-3-4-1 3 0-1-4-1 0 1-2 3-2-2" fill="none" marker-start="url(#mg)" marker-mid="url(#mg)" marker-end="url(#mg)"/><path d="M1666 980l-2 0-1 4 4 3 2 3 3-4 1 1 0 1 2-2 3-1 1 3 2 1 0-3 3 4 1-1 0-5 0 4 0-1 5-2 1 5 2-3 0-1 2-2 2 4 1-4 0 0 1 3 1-2 1 3 4 0 2-1 0-1 2-2 3 5 0-2 1 0 2-2 4 1 1 0 0 3 1-4 2 4 0 1 1-5 3 5 0-3 1-2 1 4 2-1 1-2 3 2 1 2 1-4 1 0 1 2 3 2 0-3 2-2 0 1 2-1 3 3 0 0 2 2 3-1 4 0 0-1 1 1 1 0 1 0 1-1 1-3 2 0 1 2 1 1 3 2 1-5 0 2 2 2 2 0 0-3 1-1 1 4 0-5 1 1 3 4 0 1 1-6 3 0 1 3 3-2 2 0 1 3 0-4 1 2 4 1 2 2 2 0 1-1 1 1 1-4 1 4 0-4 2-1 0 5 4-5 0 3 0 2 1 0 4-3 1 2 2-2 0 3 3-4 2 1 0 4 0-3 1 0 3-2 2 0 1 4 0 0 2-2 2 2 3-5 0 6 2-2 1-3 0 0 1 4 4-4 1 3 1-4 3 0 2 2 2 3 1-3 1-2 1 5 3-2 0 2 0-3 3 4 0 0 1-4 3 3 1-3 0-1 4 4 2-3 2 2 1-4 1 0 1 1 1 2 2-1 2-1 2 4 1-2 1 2 2 0 3 0 1-1 0-2 1 2 2-2 1 1 2 0 3-1 1 1 2 0 1 1 2 0 3 0 2-1 3 2 0-4 3 4 0-4 1 1 1 2 1-2 1 1 1 2 4-1 1-2 1 2 3-1 0 2 2-4 1 0 3 3 1 0 1 1 0-3 1-1 2 2 1 2 0-4 3 2 2 1 1-3 3 0 0 0 1 1 4 3 1-4-3 7-6 0-6 4-2-4-3 2-1-3 0 2-2-1 0 0-1-2-3 6 0-2-2 1-3-5 0 1-4 4-1-3-3-1-1 3-3-3 0 4-2-2-1 2 0-4-2 2-4-1 0 1-4-2 0 4-1-3-2-1-2 1 0 1-4-1-3 0-2 2-4 1-2-3 0 4 0-1-1-3-1 1-2-2-4 4 0-4-3 2-1 1 0 2-1-3 0-2-1-1 0 2-6-1-2 2-2 1-2 0-1-2-2 2" fill="none" marker-start="url(#mg)" marker-mid="url(#mg)" marker-end="url(#mg)"/><path d="M1853 993l0-3-1 1 0 5-3-6 0 3-2-3 0 5-2-3-2 0-1 1-1 2-1-2-1-1 0 0 0 3-3-2-1 1-2-2-1 3-3-4-2 5-2-3-1-1-2 3 0-1-1-1-2 2 0-2-5-1 0 3 0-4-3 3-1-3 0 5-3-3-1 3 0-2-3-4 0 5-5 0 0-1 0 2-1-5-1 5-1-2-1-2-4 0 0 3 0-3-2 3 0-3-5-1-1 4-2-1-2 0 0 0-1-3-4 3-1-1-3 0-1 2-1-4-3 2 0 2-1-2-1 2-3-1-2 2-1-3-2 1-3-1-2 2-2 0 0-4-2-1 0 3-2-2-2 2-2 3-1-4 0 3-5 1 0-3-1 0-1-3-1 1-1 4-3 0 0-3-3-1-1 4-4-4 0 4 0-3-3 0-1-1 0 5-3-5-1 3-1 1-2-1-4-2-1 2-1 0 0-3-3-1-2 6-1-6 0 2-3 0-1-2 0 3-5 2-1-3 0 3-1-5-2 5-1 0-4-1-1-2-1-1 0 5 3 4 6-2 2 3 3 1 1 0 2-4 0 3 2-2 2-2 0 4 1 0 3-5 2 5 0 0 1-1 0-2 2-2 0 2 3 4 2-5 1 3 0-1 3-1 1 1 0 0 2 3 1-4 1 3 4-4 0 3 1 0 2-4 1 5 1 0 1-2 4 0 2 1 1 1 3-1 2-3 2 4 0-1 2-2 1 1 1 1 1-4 3 4 0 0 3 1 0-5 2 3 2 3 3-3 2-2 0 4 1 1 1-1 3-2 2-3 1 0 2 2 1 3 1 0 5 0 2-3 3 0 1 0 1 0 1 2 3-1 0-2 2 2 6 1 2-3 1 5 1-1 1-2 2 3 3-2 1-3 0 2 2-2 1 4 1-3 5 1 1 1 3 1 1 0 0-3 0-2 3 3 2 3 0-1 1-4 3 5 0-3 1-3 5 3 2 1 1-3 1 2 2-2 1 3 0-2 3 1 3-1 1 1 1-2 3 2 2 3 1-3 0-1 2-1 2 2 1 2 1-1 2-2 0 0 3-1 0 2 2 0 1 1 0 2 3-4 1-1 0 5 2-6 1 5 1 0 7 1 0-4 1 3 2-4 1 1 2 1 2 0 2-1 1-1 0 2 1 2 0 1" fill="none" marker-start="url(#mg)" marker-mid="url(#mg)" marker-end="url(#mg)"/><path d="M1902 997l3-1 1 3 2 2 1-3 1-2 2 4 0-3 1 1 1 0 1 3 1-4 2 3 2-1 1 1 3-3 0 1 2-1 1 2 2-3 0 6 1-4 3 1 3 2 1-3 1 2 0-1 1-1 3 2 3-2 4 0-4 5-4 2-6-2-2 4 0-4-1 1-2 1-2 2-1 1-2-3 0 3-1-3-1 0-2 0-2 0-2 3-1-4-3 0 0 3-1 0-1-1-2-1-1-3-2 3 0 1-3-1-1-2-1 4-1-1 0 1-2-4-2 0-1 5-1-6 0 5-3-4 0 3-2 2-2-3 0-2-2-1-4 1 0 3-1 1-2-5 0 4-1-3-2 5-1-5-5 1-1 2-1-3-2 3-1 1-2-5-2 5-2-2-1-1-3 2-2 0-1 1-1-2-3 1-1 0-1-2-1 2-1-4-4 2-1 2-2-2 0 3 0-4-3 2-2 3-1 0 0-2-2-2-3 1 0-1-1 3-1-4-4 1-1 1-3 1-1-1-3-2-1 3 0 1-5-2-1-1 0 1-2 2-1-4-2 0 0-1-1 0-2 0-3 5-1-2 0-2-2 0 0 4-2-4-3 2 0-2-2-1 0 4 0-1-4 1 0-4-1 2-6 0 0 1-1-2 0 5-1-2 0-4-4 3 0 2-1-1-2-2-4 3-1-2-2-2-1 1-1 0-3 2-2-3-1 1-3 2-3-2 0 1-1 2-2-2-1 2-1-2-3-2 0 2-3-2-1 2-2-2-5 3-1 0 0 1-2-2 0 3-3-5-2 1-2 4 0-5-3 0-1 4-1-4-1 0 0 3-1 1-2 0-2-4 0 3-2 1-1-3-3 2-2-3-2 5 0-1-6-4 8 6 1 4 1-5 5 3 2 3 2-5 1 3 1 0 3-4 1 4 4 2 1-4 2 2 2-3 1 2 4-3 2 3 1 0 0-1 2-1 0 3 3-1 1-1 4 1 1 1 4 1 1-4 0 0 1 3 1-2 3 3 0-3 1 2 0-2 2-2 3 5 0 0 1-3 1 4 4-5 1 1 1 1 1-1 3 4 2-4 1 4 2-2 1-4 0 0 1 5 4 1 1-5 1 1 2 2 0-1 1 2 2-5 2 3 2 0 1 1 1 1 2-4 2 4 0 0 0-4 2 4 1-3" fill="none" marker-start="url(#mg)" marker-mid="url(#mg)" marker-end="url(#mg)"/><path d="M1801 1012l1-2 1 3 3-1 0-3 1 4 2-5 0 3 1-3 3 1 2 4 0-2 0 1 3 1 1-4 2-1 0 5 2-2 1 1 0-2 2 0 0-1 5 2 3 0 0-3 3 5 3-1 0-4 1 4 1-3 0 5 2-5 2 2 0-1 1-1 4 2 0-2 1 5 2-6 1 0 0 4 2 1 0 0 3-3 1 1 2-1 0 0 3 3 2-4 0 5 2-6 0 6 2-3 2 2 1 0 0-4 2 5 0-5 2 4 3 1 2-5 0 0 1 4 0-5 4 3 1 1 2 1 2-4 1 3 1-2 1-2 3 4 1 2 1-5 3 2 1 0 3 1 4-2 1 1 4 1 1-3 0 0 2-1 5 4 3-1 3 0 4-1-4 4-4 2-3 3-2-5-1 0-1 1 0 2-5-2 0 2-1-2 0 2-2 2-1-4-2 1-3 2-1-3-2 2 0 0-1-1-1 0-4 0-2 2-1 1-1-3 0 3-2-2-2 3-2-4-3-2-1 4 0 2-1-1-2-4-2 2-3 1-2-2 0 3-3-1-1 1-5-4 0 1 0 2-2-3 0 4 0-5-1 4-6 0 0 2-4-2 0-2-2 2-1-4-1 4 0-4-4 3-1 2-2 0-2-3 0 2-5-3-2 1-1-1-1 4-2-4-1 4-1-4 0 2-4-2-3 4 0 0-3-2-2 1-1-4-1 5-1-1-2-3-1 5-3-2-1-1 0 0-2-1-4 2 0-3-4 5-1-2 0 1-3-1-1-3-2 2-1 1-3-1-1-1-1 3-1 0-2-3-1 0-2 2-1-4-4 1-1 5-2-5 0 5-1-5-2 4 0-3-1-1-2 3-1 0 0-4-5 3-2-1 0 1-2 3-1-3-1 2-3-1-2-2-1-1-3 5 0-1-3 1-1-3-1-1 0 0-2-2 0 6-2-3 0-2-3 0-3 5 0-2-1-3-2 3 0-3-1 5-1-1-1-4 0 4 0-3-6-1 0 3 0-1-2 2-1-2-1-1-2 3 0 1-1-4-3-1-1 1-3 0 10 5 19-1 1 1 4-1 11 1 8 0 13-1 4 0 7 0 2 1 14 0 5 0 14-1 1 1 10 0 9 0 3 0 5 0 9 0 4-1 13 1 5 0 5-1 10 1 17 0 3 0 5 0" fill="none" marker-start="url(#mg)" marker-mid="url(#mg)" marker-end="url(#mg)"/>
<text class="l b" x="14.1" y="1206.1" font-size="29">e.</text>
<text class="l" x="100.1" y="1232.2" font-size="27" textLength="150.7" lengthAdjust="spacingAndGlyphs">Macrophage</text>
<text class="l" x="100.1" y="1264.5" font-size="27" textLength="82.7" lengthAdjust="spacingAndGlyphs">PDL1+</text>
<line x1="100.6" y1="1747" x2="324.8" y2="1747" stroke="#D4D4D4" stroke-width="2"/>
<line x1="100.6" y1="1633.1" x2="324.8" y2="1633.1" stroke="#D4D4D4" stroke-width="2"/>
<line x1="100.6" y1="1519.2" x2="324.8" y2="1519.2" stroke="#D4D4D4" stroke-width="2"/>
<line x1="100.6" y1="1405.3" x2="324.8" y2="1405.3" stroke="#D4D4D4" stroke-width="2"/>
<line x1="143" y1="1317.1" x2="143" y2="1767.7" stroke="#D4D4D4" stroke-width="2"/>
<line x1="213.5" y1="1317.1" x2="213.5" y2="1767.7" stroke="#D4D4D4" stroke-width="2"/>
<line x1="284.1" y1="1317.1" x2="284.1" y2="1767.7" stroke="#D4D4D4" stroke-width="2"/>
<line x1="100.6" y1="1317.1" x2="100.6" y2="1768.7" stroke="#000" stroke-width="2.2"/>
<line x1="99.6" y1="1767.7" x2="325.4" y2="1767.7" stroke="#000" stroke-width="2.2"/>
<line x1="95.1" y1="1747" x2="100.6" y2="1747" stroke="#000" stroke-width="2"/>
<text class="d" x="87" y="1754.4" font-size="18.5" text-anchor="end" textLength="39.6" lengthAdjust="spacingAndGlyphs">0.00</text>
<line x1="95.1" y1="1633.1" x2="100.6" y2="1633.1" stroke="#000" stroke-width="2"/>
<text class="d" x="87" y="1640.5" font-size="18.5" text-anchor="end" textLength="39.6" lengthAdjust="spacingAndGlyphs">0.25</text>
<line x1="95.1" y1="1519.2" x2="100.6" y2="1519.2" stroke="#000" stroke-width="2"/>
<text class="d" x="87" y="1526.6" font-size="18.5" text-anchor="end" textLength="39.6" lengthAdjust="spacingAndGlyphs">0.50</text>
<line x1="95.1" y1="1405.3" x2="100.6" y2="1405.3" stroke="#000" stroke-width="2"/>
<text class="d" x="87" y="1412.7" font-size="18.5" text-anchor="end" textLength="39.6" lengthAdjust="spacingAndGlyphs">0.75</text>
<line x1="143" y1="1767.7" x2="143" y2="1773.7" stroke="#000" stroke-width="2"/>
<line x1="213.5" y1="1767.7" x2="213.5" y2="1773.7" stroke="#000" stroke-width="2"/>
<line x1="284.1" y1="1767.7" x2="284.1" y2="1773.7" stroke="#000" stroke-width="2"/>
<path d="M143 1394.4V1385H284.1V1394.4" fill="none" stroke="#111" stroke-width="1.7"/>
<rect x="160" y="1350" width="115" height="33" fill="#fff"/>
<text class="l" x="170.4" y="1377" font-size="21" textLength="81" lengthAdjust="spacingAndGlyphs">2.9 x 10</text>
<text class="l" x="252.5" y="1370.5" font-size="14" textLength="13.1" lengthAdjust="spacingAndGlyphs">-9</text>
<path d="M143 1490.2V1481H213.5V1490.2" fill="none" stroke="#111" stroke-width="1.7"/>
<rect x="137" y="1447" width="98" height="32" fill="#fff"/>
<text class="l" x="141.5" y="1468.4" font-size="21" textLength="72.9" lengthAdjust="spacingAndGlyphs">1.6x 10</text>
<text class="l" x="215.5" y="1461.9" font-size="14" textLength="13.5" lengthAdjust="spacingAndGlyphs">-2</text>
<rect x="116.5" y="1742" width="53.3" height="10.1" fill="#000"/>
<rect x="186.1" y="1742" width="54.9" height="10" fill="#000"/>
<line x1="284.1" y1="1673" x2="284.1" y2="1624" stroke="#000" stroke-width="4.6"/>
<line x1="284.1" y1="1734" x2="284.1" y2="1745" stroke="#000" stroke-width="4.6"/>
<rect x="256.6" y="1673" width="55.6" height="61" fill="#F8EFEC" stroke="#000" stroke-width="4.6"/>
<line x1="254.3" y1="1712.2" x2="314.5" y2="1712.2" stroke="#000" stroke-width="7"/>
<circle cx="209" cy="1577.3" r="6.3" fill="#6EDFB6" stroke="#111" stroke-width="1.3"/>
<circle cx="218.8" cy="1630.2" r="6.3" fill="#6EDFB6" stroke="#111" stroke-width="1.3"/>
<circle cx="219.2" cy="1681.8" r="6.3" fill="#6EDFB6" stroke="#111" stroke-width="1.3"/>
<circle cx="209.4" cy="1688.3" r="6.3" fill="#6EDFB6" stroke="#111" stroke-width="1.3"/>
<circle cx="210.7" cy="1710.5" r="6.3" fill="#6EDFB6" stroke="#111" stroke-width="1.3"/>
<circle cx="209" cy="1718.3" r="6.3" fill="#6EDFB6" stroke="#111" stroke-width="1.3"/>
<circle cx="216.2" cy="1723.1" r="6.3" fill="#6EDFB6" stroke="#111" stroke-width="1.3"/>
<circle cx="214" cy="1732" r="6.3" fill="#6EDFB6" stroke="#111" stroke-width="1.3"/>
<circle cx="208" cy="1737" r="6.3" fill="#6EDFB6" stroke="#111" stroke-width="1.3"/>
<circle cx="218" cy="1740" r="6.3" fill="#6EDFB6" stroke="#111" stroke-width="1.3"/>
<circle cx="212" cy="1746" r="6.3" fill="#6EDFB6" stroke="#111" stroke-width="1.3"/>
<circle cx="206" cy="1747" r="6.3" fill="#6EDFB6" stroke="#111" stroke-width="1.3"/>
<circle cx="216.6" cy="1747" r="6.3" fill="#6EDFB6" stroke="#111" stroke-width="1.3"/>
<circle cx="285.8" cy="1435.8" r="6.3" fill="#EF7F58" stroke="#111" stroke-width="1.3"/>
<circle cx="280.1" cy="1563.1" r="6.3" fill="#EF7F58" stroke="#111" stroke-width="1.3"/>
<circle cx="284.5" cy="1577.9" r="6.3" fill="#EF7F58" stroke="#111" stroke-width="1.3"/>
<circle cx="287.8" cy="1592.1" r="6.3" fill="#EF7F58" stroke="#111" stroke-width="1.3"/>
<circle cx="283" cy="1603" r="6.3" fill="#EF7F58" stroke="#111" stroke-width="1.3"/>
<circle cx="281.9" cy="1614.3" r="6.3" fill="#EF7F58" stroke="#111" stroke-width="1.3"/>
<circle cx="288.9" cy="1623.6" r="6.3" fill="#EF7F58" stroke="#111" stroke-width="1.3"/>
<circle cx="289.5" cy="1656.7" r="6.3" fill="#EF7F58" stroke="#111" stroke-width="1.3"/>
<circle cx="278.6" cy="1660" r="6.3" fill="#EF7F58" stroke="#111" stroke-width="1.3"/>
<circle cx="286" cy="1664" r="6.3" fill="#EF7F58" stroke="#111" stroke-width="1.3"/>
<circle cx="279.5" cy="1672" r="6.3" fill="#EF7F58" stroke="#111" stroke-width="1.3"/>
<circle cx="280.8" cy="1676.3" r="6.3" fill="#EF7F58" stroke="#111" stroke-width="1.3"/>
<circle cx="287" cy="1681" r="6.3" fill="#EF7F58" stroke="#111" stroke-width="1.3"/>
<circle cx="281.9" cy="1687.6" r="6.3" fill="#EF7F58" stroke="#111" stroke-width="1.3"/>
<circle cx="289.5" cy="1689.4" r="6.3" fill="#EF7F58" stroke="#111" stroke-width="1.3"/>
<circle cx="284" cy="1696" r="6.3" fill="#EF7F58" stroke="#111" stroke-width="1.3"/>
<circle cx="282.3" cy="1702.9" r="6.3" fill="#EF7F58" stroke="#111" stroke-width="1.3"/>
<circle cx="287.8" cy="1712.2" r="6.3" fill="#EF7F58" stroke="#111" stroke-width="1.3"/>
<circle cx="280.8" cy="1721" r="6.3" fill="#EF7F58" stroke="#111" stroke-width="1.3"/>
<circle cx="285" cy="1727" r="6.3" fill="#EF7F58" stroke="#111" stroke-width="1.3"/>
<circle cx="287.8" cy="1736.2" r="6.3" fill="#EF7F58" stroke="#111" stroke-width="1.3"/>
<circle cx="278.6" cy="1737" r="6.3" fill="#EF7F58" stroke="#111" stroke-width="1.3"/>
<circle cx="280.8" cy="1744.9" r="6.3" fill="#EF7F58" stroke="#111" stroke-width="1.3"/>
<circle cx="289.5" cy="1744.9" r="6.3" fill="#EF7F58" stroke="#111" stroke-width="1.3"/>
<circle cx="284" cy="1746" r="6.3" fill="#EF7F58" stroke="#111" stroke-width="1.3"/>
<text class="l" x="154" y="1792.2" font-size="23.2" text-anchor="end" transform="rotate(-45 154 1792.2)">TACE-Cirrhosis</text>
<text class="l" x="217.2" y="1796.3" font-size="23.2" text-anchor="end" transform="rotate(-45 217.2 1796.3)">Primary HCC</text>
<text class="l" x="275.5" y="1800.3" font-size="23.2" text-anchor="end" transform="rotate(-45 275.5 1800.3)">Residual HCC</text>
<text class="d" x="34.4" y="1600" font-size="22.3" textLength="115.2" lengthAdjust="spacingAndGlyphs" transform="rotate(-90 34.4 1600)">Proportion</text>
<text class="l" x="431.9" y="1231.2" font-size="23.2" textLength="101.6" lengthAdjust="spacingAndGlyphs">CD8T cell</text>
<text class="l" x="431.9" y="1258.8" font-size="23.2" textLength="109.2" lengthAdjust="spacingAndGlyphs">Exhausted</text>
<line x1="430.1" y1="1747.1" x2="654.3" y2="1747.1" stroke="#D4D4D4" stroke-width="2"/>
<line x1="430.1" y1="1610.6" x2="654.3" y2="1610.6" stroke="#D4D4D4" stroke-width="2"/>
<line x1="430.1" y1="1473.9" x2="654.3" y2="1473.9" stroke="#D4D4D4" stroke-width="2"/>
<line x1="430.1" y1="1336.7" x2="654.3" y2="1336.7" stroke="#D4D4D4" stroke-width="2"/>
<line x1="472.6" y1="1317.1" x2="472.6" y2="1767.7" stroke="#D4D4D4" stroke-width="2"/>
<line x1="542.9" y1="1317.1" x2="542.9" y2="1767.7" stroke="#D4D4D4" stroke-width="2"/>
<line x1="613.4" y1="1317.1" x2="613.4" y2="1767.7" stroke="#D4D4D4" stroke-width="2"/>
<line x1="430.1" y1="1317.1" x2="430.1" y2="1768.7" stroke="#000" stroke-width="2.2"/>
<line x1="429.1" y1="1767.7" x2="655.4" y2="1767.7" stroke="#000" stroke-width="2.2"/>
<line x1="424.6" y1="1747.1" x2="430.1" y2="1747.1" stroke="#000" stroke-width="2"/>
<text class="d" x="417" y="1754.5" font-size="18.5" text-anchor="end" textLength="39.6" lengthAdjust="spacingAndGlyphs">0.00</text>
<line x1="424.6" y1="1610.6" x2="430.1" y2="1610.6" stroke="#000" stroke-width="2"/>
<text class="d" x="417" y="1618" font-size="18.5" text-anchor="end" textLength="39.6" lengthAdjust="spacingAndGlyphs">0.05</text>
<line x1="424.6" y1="1473.9" x2="430.1" y2="1473.9" stroke="#000" stroke-width="2"/>
<text class="d" x="417" y="1481.3" font-size="18.5" text-anchor="end" textLength="39.6" lengthAdjust="spacingAndGlyphs">0.10</text>
<line x1="424.6" y1="1336.7" x2="430.1" y2="1336.7" stroke="#000" stroke-width="2"/>
<text class="d" x="417" y="1344.1" font-size="18.5" text-anchor="end" textLength="39.6" lengthAdjust="spacingAndGlyphs">0.15</text>
<line x1="472.6" y1="1767.7" x2="472.6" y2="1773.7" stroke="#000" stroke-width="2"/>
<line x1="542.9" y1="1767.7" x2="542.9" y2="1773.7" stroke="#000" stroke-width="2"/>
<line x1="613.4" y1="1767.7" x2="613.4" y2="1773.7" stroke="#000" stroke-width="2"/>
<path d="M472.6 1359.6V1352H613.4V1359.6" fill="none" stroke="#111" stroke-width="1.7"/>
<rect x="469" y="1324" width="119" height="26" fill="#fff"/>
<text class="l" x="475.4" y="1344.3" font-size="21" textLength="81" lengthAdjust="spacingAndGlyphs">9.4 x 10</text>
<text class="l" x="557.5" y="1336.7" font-size="14" textLength="13" lengthAdjust="spacingAndGlyphs">-5</text>
<path d="M472.6 1414V1406.8H542.9V1414" fill="none" stroke="#111" stroke-width="1.7"/>
<rect x="469" y="1380" width="61" height="25" fill="#fff"/>
<text class="l" x="477" y="1399.4" font-size="21" textLength="44.6" lengthAdjust="spacingAndGlyphs">0.15</text>
<rect x="444.3" y="1737.7" width="56.6" height="10.4" fill="#000"/>
<circle cx="472.6" cy="1736" r="6.5" fill="#000" stroke="#000" stroke-width="1"/>
<circle cx="472.6" cy="1748" r="6" fill="#000" stroke="#000" stroke-width="1"/>
<rect x="514.6" y="1732.5" width="56.6" height="17.8" fill="#000"/>
<line x1="520" y1="1738.4" x2="566" y2="1738.4" stroke="#fff" stroke-width="1.2"/>
<rect x="585.4" y="1699.4" width="56" height="44.2" fill="#F8EFEC" stroke="#000" stroke-width="4.6"/>
<line x1="583.1" y1="1731.5" x2="643.7" y2="1731.5" stroke="#000" stroke-width="9"/>
<circle cx="540.7" cy="1668.3" r="6.3" fill="#6EDFB6" stroke="#111" stroke-width="1.3"/>
<circle cx="542.2" cy="1684" r="6.3" fill="#6EDFB6" stroke="#111" stroke-width="1.3"/>
<circle cx="537" cy="1697" r="6.3" fill="#6EDFB6" stroke="#111" stroke-width="1.3"/>
<circle cx="545" cy="1699" r="6.3" fill="#6EDFB6" stroke="#111" stroke-width="1.3"/>
<circle cx="539" cy="1705.7" r="6.3" fill="#6EDFB6" stroke="#111" stroke-width="1.3"/>
<circle cx="546" cy="1707" r="6.3" fill="#6EDFB6" stroke="#111" stroke-width="1.3"/>
<circle cx="544" cy="1713" r="6.3" fill="#6EDFB6" stroke="#111" stroke-width="1.3"/>
<circle cx="542.2" cy="1717.7" r="6.3" fill="#6EDFB6" stroke="#111" stroke-width="1.3"/>
<circle cx="536" cy="1722" r="6.3" fill="#6EDFB6" stroke="#111" stroke-width="1.3"/>
<circle cx="547" cy="1726" r="6.3" fill="#6EDFB6" stroke="#111" stroke-width="1.3"/>
<circle cx="540" cy="1731" r="6.3" fill="#6EDFB6" stroke="#111" stroke-width="1.3"/>
<circle cx="545.5" cy="1738.4" r="6.3" fill="#6EDFB6" stroke="#111" stroke-width="1.3"/>
<circle cx="534" cy="1740" r="6.3" fill="#6EDFB6" stroke="#111" stroke-width="1.3"/>
<circle cx="539" cy="1747" r="6.3" fill="#6EDFB6" stroke="#111" stroke-width="1.3"/>
<circle cx="547.7" cy="1747.1" r="6.3" fill="#6EDFB6" stroke="#111" stroke-width="1.3"/>
<circle cx="618.4" cy="1494.5" r="6.3" fill="#EF7F58" stroke="#111" stroke-width="1.3"/>
<circle cx="615.2" cy="1601.2" r="6.3" fill="#EF7F58" stroke="#111" stroke-width="1.3"/>
<circle cx="618.4" cy="1613.6" r="6.3" fill="#EF7F58" stroke="#111" stroke-width="1.3"/>
<circle cx="618.9" cy="1623" r="6.3" fill="#EF7F58" stroke="#111" stroke-width="1.3"/>
<circle cx="613.6" cy="1635" r="6.3" fill="#EF7F58" stroke="#111" stroke-width="1.3"/>
<circle cx="611.9" cy="1649.8" r="6.3" fill="#EF7F58" stroke="#111" stroke-width="1.3"/>
<circle cx="616" cy="1652" r="6.3" fill="#EF7F58" stroke="#111" stroke-width="1.3"/>
<circle cx="616.7" cy="1661" r="6.3" fill="#EF7F58" stroke="#111" stroke-width="1.3"/>
<circle cx="611.5" cy="1671.5" r="6.3" fill="#EF7F58" stroke="#111" stroke-width="1.3"/>
<circle cx="615" cy="1678" r="6.3" fill="#EF7F58" stroke="#111" stroke-width="1.3"/>
<circle cx="613" cy="1684" r="6.3" fill="#EF7F58" stroke="#111" stroke-width="1.3"/>
<circle cx="618.4" cy="1694.8" r="6.3" fill="#EF7F58" stroke="#111" stroke-width="1.3"/>
<circle cx="614" cy="1704" r="6.3" fill="#EF7F58" stroke="#111" stroke-width="1.3"/>
<circle cx="610.4" cy="1709" r="6.3" fill="#EF7F58" stroke="#111" stroke-width="1.3"/>
<circle cx="618" cy="1711" r="6.3" fill="#EF7F58" stroke="#111" stroke-width="1.3"/>
<circle cx="612" cy="1720" r="6.3" fill="#EF7F58" stroke="#111" stroke-width="1.3"/>
<circle cx="619" cy="1722" r="6.3" fill="#EF7F58" stroke="#111" stroke-width="1.3"/>
<circle cx="615.2" cy="1732.9" r="6.3" fill="#EF7F58" stroke="#111" stroke-width="1.3"/>
<circle cx="610" cy="1738" r="6.3" fill="#EF7F58" stroke="#111" stroke-width="1.3"/>
<circle cx="619" cy="1738" r="6.3" fill="#EF7F58" stroke="#111" stroke-width="1.3"/>
<circle cx="610" cy="1745" r="6.3" fill="#EF7F58" stroke="#111" stroke-width="1.3"/>
<circle cx="617" cy="1746" r="6.3" fill="#EF7F58" stroke="#111" stroke-width="1.3"/>
<text class="l" x="476.5" y="1804.4" font-size="23.2" text-anchor="end" transform="rotate(-45 476.5 1804.4)">TACE-Cirrhosis</text>
<text class="l" x="548.6" y="1793.7" font-size="23.2" text-anchor="end" transform="rotate(-45 548.6 1793.7)">Primary HCC</text>
<text class="l" x="615.9" y="1793.7" font-size="23.2" text-anchor="end" transform="rotate(-45 615.9 1793.7)">Residual HCC</text>
<text class="l b" x="689.2" y="1198.5" font-size="29">f.</text>
<text class="l" x="780.6" y="1232.2" font-size="27" textLength="150.6" lengthAdjust="spacingAndGlyphs">Macrophage</text>
<text class="l" x="780.6" y="1264.5" font-size="27" textLength="82.7" lengthAdjust="spacingAndGlyphs">PDL1+</text>
<line x1="771.2" y1="1734.7" x2="982.4" y2="1734.7" stroke="#D4D4D4" stroke-width="2"/>
<line x1="771.2" y1="1627.5" x2="982.4" y2="1627.5" stroke="#D4D4D4" stroke-width="2"/>
<line x1="771.2" y1="1520.3" x2="982.4" y2="1520.3" stroke="#D4D4D4" stroke-width="2"/>
<line x1="771.2" y1="1413.1" x2="982.4" y2="1413.1" stroke="#D4D4D4" stroke-width="2"/>
<line x1="811.5" y1="1329.8" x2="811.5" y2="1753.6" stroke="#D4D4D4" stroke-width="2"/>
<line x1="877.4" y1="1329.8" x2="877.4" y2="1753.6" stroke="#D4D4D4" stroke-width="2"/>
<line x1="943.8" y1="1329.8" x2="943.8" y2="1753.6" stroke="#D4D4D4" stroke-width="2"/>
<line x1="771.2" y1="1329.8" x2="771.2" y2="1754.6" stroke="#000" stroke-width="2.2"/>
<line x1="770.2" y1="1753.6" x2="983.5" y2="1753.6" stroke="#000" stroke-width="2.2"/>
<line x1="765.7" y1="1734.7" x2="771.2" y2="1734.7" stroke="#000" stroke-width="2"/>
<text class="d" x="757" y="1742.1" font-size="18.5" text-anchor="end" textLength="44.6" lengthAdjust="spacingAndGlyphs">0.00</text>
<line x1="765.7" y1="1627.5" x2="771.2" y2="1627.5" stroke="#000" stroke-width="2"/>
<text class="d" x="757" y="1634.9" font-size="18.5" text-anchor="end" textLength="44.6" lengthAdjust="spacingAndGlyphs">0.25</text>
<line x1="765.7" y1="1520.3" x2="771.2" y2="1520.3" stroke="#000" stroke-width="2"/>
<text class="d" x="757" y="1527.7" font-size="18.5" text-anchor="end" textLength="44.6" lengthAdjust="spacingAndGlyphs">0.50</text>
<line x1="765.7" y1="1413.1" x2="771.2" y2="1413.1" stroke="#000" stroke-width="2"/>
<text class="d" x="757" y="1420.5" font-size="18.5" text-anchor="end" textLength="44.6" lengthAdjust="spacingAndGlyphs">0.75</text>
<line x1="811.5" y1="1753.6" x2="811.5" y2="1759.6" stroke="#000" stroke-width="2"/>
<line x1="877.4" y1="1753.6" x2="877.4" y2="1759.6" stroke="#000" stroke-width="2"/>
<line x1="943.8" y1="1753.6" x2="943.8" y2="1759.6" stroke="#000" stroke-width="2"/>
<path d="M811.5 1428.8V1419.4H943.8V1428.8" fill="none" stroke="#111" stroke-width="1.7"/>
<rect x="818" y="1387" width="109" height="31" fill="#fff"/>
<text class="l" x="823.5" y="1410.3" font-size="21" textLength="67.5" lengthAdjust="spacingAndGlyphs">1.8x10</text>
<text class="l" x="892" y="1403.1" font-size="14" textLength="12" lengthAdjust="spacingAndGlyphs">-4</text>
<path d="M877.4 1493.5V1484.3H943.8V1493.5" fill="none" stroke="#111" stroke-width="1.7"/>
<rect x="862" y="1448" width="74" height="34.5" fill="#fff"/>
<text class="l" x="868.5" y="1480.4" font-size="21" textLength="49.7" lengthAdjust="spacingAndGlyphs">5x10</text>
<text class="l" x="919.2" y="1472.8" font-size="14" textLength="12" lengthAdjust="spacingAndGlyphs">-2</text>
<rect x="785.4" y="1729.6" width="52.2" height="10.9" fill="#000"/>
<line x1="877.4" y1="1677.9" x2="877.4" y2="1652.4" stroke="#000" stroke-width="5.5"/>
<rect x="851.6" y="1677.9" width="52.6" height="48.4" fill="#F8F1E8" stroke="#000" stroke-width="5.5"/>
<line x1="848.9" y1="1709" x2="907" y2="1709" stroke="#000" stroke-width="8"/>
<line x1="943.8" y1="1652.9" x2="943.8" y2="1576.2" stroke="#000" stroke-width="5.5"/>
<line x1="943.8" y1="1710.2" x2="943.8" y2="1734" stroke="#000" stroke-width="5.5"/>
<rect x="917.6" y="1652.9" width="53.4" height="57.3" fill="#F7ECE2" stroke="#000" stroke-width="5.5"/>
<line x1="914.9" y1="1675.2" x2="973.8" y2="1675.2" stroke="#000" stroke-width="9"/>
<circle cx="812.6" cy="1575.1" r="6.5" fill="#6EDFB6" stroke="#111" stroke-width="1.3"/>
<circle cx="810.4" cy="1624.7" r="6.5" fill="#6EDFB6" stroke="#111" stroke-width="1.3"/>
<circle cx="815.8" cy="1672.6" r="6.5" fill="#6EDFB6" stroke="#111" stroke-width="1.3"/>
<circle cx="813.7" cy="1679.6" r="6.5" fill="#6EDFB6" stroke="#111" stroke-width="1.3"/>
<circle cx="808.2" cy="1699.8" r="6.5" fill="#6EDFB6" stroke="#111" stroke-width="1.3"/>
<circle cx="813.7" cy="1708.5" r="6.5" fill="#6EDFB6" stroke="#111" stroke-width="1.3"/>
<circle cx="806.7" cy="1711.6" r="6.5" fill="#6EDFB6" stroke="#111" stroke-width="1.3"/>
<circle cx="815" cy="1722" r="6.5" fill="#6EDFB6" stroke="#111" stroke-width="1.3"/>
<circle cx="808" cy="1725" r="6.5" fill="#6EDFB6" stroke="#111" stroke-width="1.3"/>
<circle cx="810" cy="1730" r="6.5" fill="#6EDFB6" stroke="#111" stroke-width="1.3"/>
<circle cx="809.3" cy="1734.7" r="6.5" fill="#6EDFB6" stroke="#111" stroke-width="1.3"/>
<circle cx="815" cy="1734.7" r="6.5" fill="#6EDFB6" stroke="#111" stroke-width="1.3"/>
<circle cx="874" cy="1588.2" r="6.5" fill="#F0C48A" stroke="#111" stroke-width="1.3"/>
<circle cx="880" cy="1599" r="6.5" fill="#F0C48A" stroke="#111" stroke-width="1.3"/>
<circle cx="875.7" cy="1609.9" r="6.5" fill="#F0C48A" stroke="#111" stroke-width="1.3"/>
<circle cx="874.6" cy="1649.8" r="6.5" fill="#F0C48A" stroke="#111" stroke-width="1.3"/>
<circle cx="872.4" cy="1662.8" r="6.5" fill="#F0C48A" stroke="#111" stroke-width="1.3"/>
<circle cx="880" cy="1668.3" r="6.5" fill="#F0C48A" stroke="#111" stroke-width="1.3"/>
<circle cx="882" cy="1674" r="6.5" fill="#F0C48A" stroke="#111" stroke-width="1.3"/>
<circle cx="876.8" cy="1680.2" r="6.5" fill="#F0C48A" stroke="#111" stroke-width="1.3"/>
<circle cx="883" cy="1680" r="6.5" fill="#F0C48A" stroke="#111" stroke-width="1.3"/>
<circle cx="875.7" cy="1693.3" r="6.5" fill="#F0C48A" stroke="#111" stroke-width="1.3"/>
<circle cx="883" cy="1693" r="6.5" fill="#F0C48A" stroke="#111" stroke-width="1.3"/>
<circle cx="874.6" cy="1704" r="6.5" fill="#F0C48A" stroke="#111" stroke-width="1.3"/>
<circle cx="874.6" cy="1711.1" r="6.5" fill="#F0C48A" stroke="#111" stroke-width="1.3"/>
<circle cx="878" cy="1716" r="6.5" fill="#F0C48A" stroke="#111" stroke-width="1.3"/>
<circle cx="874.6" cy="1718" r="6.5" fill="#F0C48A" stroke="#111" stroke-width="1.3"/>
<circle cx="882.2" cy="1725.3" r="6.5" fill="#F0C48A" stroke="#111" stroke-width="1.3"/>
<circle cx="873.5" cy="1734" r="6.5" fill="#F0C48A" stroke="#111" stroke-width="1.3"/>
<circle cx="879" cy="1734" r="6.5" fill="#F0C48A" stroke="#111" stroke-width="1.3"/>
<circle cx="942.5" cy="1441.9" r="6.5" fill="#F45A1A" stroke="#111" stroke-width="1.3"/>
<circle cx="948.6" cy="1562" r="6.5" fill="#F45A1A" stroke="#111" stroke-width="1.3"/>
<circle cx="948" cy="1575.5" r="6.5" fill="#F45A1A" stroke="#111" stroke-width="1.3"/>
<circle cx="943.6" cy="1618.6" r="6.5" fill="#F45A1A" stroke="#111" stroke-width="1.3"/>
<circle cx="944.7" cy="1650.2" r="6.5" fill="#F45A1A" stroke="#111" stroke-width="1.3"/>
<circle cx="943.6" cy="1655" r="6.5" fill="#F45A1A" stroke="#111" stroke-width="1.3"/>
<circle cx="948" cy="1662" r="6.5" fill="#F45A1A" stroke="#111" stroke-width="1.3"/>
<circle cx="946" cy="1670" r="6.5" fill="#F45A1A" stroke="#111" stroke-width="1.3"/>
<circle cx="939.9" cy="1674.1" r="6.5" fill="#F45A1A" stroke="#111" stroke-width="1.3"/>
<circle cx="948.6" cy="1683.5" r="6.5" fill="#F45A1A" stroke="#111" stroke-width="1.3"/>
<circle cx="945" cy="1703" r="6.5" fill="#F45A1A" stroke="#111" stroke-width="1.3"/>
<circle cx="940" cy="1706" r="6.5" fill="#F45A1A" stroke="#111" stroke-width="1.3"/>
<circle cx="941" cy="1711" r="6.5" fill="#F45A1A" stroke="#111" stroke-width="1.3"/>
<circle cx="939.9" cy="1718.8" r="6.5" fill="#F45A1A" stroke="#111" stroke-width="1.3"/>
<circle cx="946" cy="1722" r="6.5" fill="#F45A1A" stroke="#111" stroke-width="1.3"/>
<circle cx="941" cy="1726" r="6.5" fill="#F45A1A" stroke="#111" stroke-width="1.3"/>
<circle cx="946.4" cy="1734" r="6.5" fill="#F45A1A" stroke="#111" stroke-width="1.3"/>
<text class="l" x="810.4" y="1784.1" font-size="23.2" text-anchor="end" transform="rotate(-45 810.4 1784.1)">Primary HCC</text>
<text class="l" x="860.6" y="1784.1" font-size="23.2" text-anchor="end" transform="rotate(-45 860.6 1784.1)">Residual HCC</text>
<text class="l" x="884.9" y="1804.4" font-size="23.2" text-anchor="end" transform="rotate(-45 884.9 1804.4)">Not Refractory</text>
<text class="l" x="956.2" y="1784.1" font-size="23.2" text-anchor="end" transform="rotate(-45 956.2 1784.1)">Residual HCC</text>
<text class="l" x="949.8" y="1832.7" font-size="23.2" text-anchor="end" transform="rotate(-45 949.8 1832.7)">Refractory</text>
<text class="l" x="1093.2" y="1230.4" font-size="27" textLength="117.2" lengthAdjust="spacingAndGlyphs">CD8T cell</text>
<text class="l" x="1093.2" y="1263.2" font-size="27" textLength="127.5" lengthAdjust="spacingAndGlyphs">Exhausted</text>
<line x1="1111.1" y1="1734.7" x2="1319.4" y2="1734.7" stroke="#D4D4D4" stroke-width="2"/>
<line x1="1111.1" y1="1638.5" x2="1319.4" y2="1638.5" stroke="#D4D4D4" stroke-width="2"/>
<line x1="1111.1" y1="1542.3" x2="1319.4" y2="1542.3" stroke="#D4D4D4" stroke-width="2"/>
<line x1="1111.1" y1="1446.1" x2="1319.4" y2="1446.1" stroke="#D4D4D4" stroke-width="2"/>
<line x1="1111.1" y1="1349.9" x2="1319.4" y2="1349.9" stroke="#D4D4D4" stroke-width="2"/>
<line x1="1150.8" y1="1330" x2="1150.8" y2="1754.5" stroke="#D4D4D4" stroke-width="2"/>
<line x1="1217" y1="1330" x2="1217" y2="1754.5" stroke="#D4D4D4" stroke-width="2"/>
<line x1="1283.4" y1="1330" x2="1283.4" y2="1754.5" stroke="#D4D4D4" stroke-width="2"/>
<line x1="1111.1" y1="1330" x2="1111.1" y2="1755.5" stroke="#000" stroke-width="2.2"/>
<line x1="1110.1" y1="1754.5" x2="1319.4" y2="1754.5" stroke="#000" stroke-width="2.2"/>
<line x1="1105.6" y1="1734.7" x2="1111.1" y2="1734.7" stroke="#000" stroke-width="2"/>
<text class="d" x="1096.3" y="1742.1" font-size="18.5" text-anchor="end" textLength="44.6" lengthAdjust="spacingAndGlyphs">0.00</text>
<line x1="1105.6" y1="1638.5" x2="1111.1" y2="1638.5" stroke="#000" stroke-width="2"/>
<text class="d" x="1096.3" y="1645.9" font-size="18.5" text-anchor="end" textLength="44.6" lengthAdjust="spacingAndGlyphs">0.05</text>
<line x1="1105.6" y1="1542.3" x2="1111.1" y2="1542.3" stroke="#000" stroke-width="2"/>
<text class="d" x="1096.3" y="1549.7" font-size="18.5" text-anchor="end" textLength="44.6" lengthAdjust="spacingAndGlyphs">0.10</text>
<line x1="1105.6" y1="1446.1" x2="1111.1" y2="1446.1" stroke="#000" stroke-width="2"/>
<text class="d" x="1096.3" y="1453.5" font-size="18.5" text-anchor="end" textLength="44.6" lengthAdjust="spacingAndGlyphs">0.15</text>
<line x1="1105.6" y1="1349.9" x2="1111.1" y2="1349.9" stroke="#000" stroke-width="2"/>
<text class="d" x="1096.3" y="1357.3" font-size="18.5" text-anchor="end" textLength="44.6" lengthAdjust="spacingAndGlyphs">0.20</text>
<line x1="1150.8" y1="1754.5" x2="1150.8" y2="1760.5" stroke="#000" stroke-width="2"/>
<line x1="1217" y1="1754.5" x2="1217" y2="1760.5" stroke="#000" stroke-width="2"/>
<line x1="1283.4" y1="1754.5" x2="1283.4" y2="1760.5" stroke="#000" stroke-width="2"/>
<path d="M1150.8 1403V1397.5H1283.4V1403" fill="none" stroke="#111" stroke-width="1.7"/>
<rect x="1170" y="1361" width="78" height="35" fill="#fff"/>
<text class="l" x="1178.1" y="1391.7" font-size="21" textLength="49.8" lengthAdjust="spacingAndGlyphs">5x10</text>
<text class="l" x="1228.9" y="1384.5" font-size="14" textLength="11.3" lengthAdjust="spacingAndGlyphs">-3</text>
<path d="M1217 1499.6V1494.1H1283.4V1499.6" fill="none" stroke="#111" stroke-width="1.7"/>
<rect x="1211" y="1466" width="76" height="26.5" fill="#fff"/>
<text class="l" x="1217.6" y="1490.4" font-size="21" textLength="49.3" lengthAdjust="spacingAndGlyphs">6x10</text>
<text class="l" x="1268" y="1483.2" font-size="14" textLength="11.3" lengthAdjust="spacingAndGlyphs">-2</text>
<rect x="1124.1" y="1724" width="54" height="15.5" fill="#000"/>
<rect x="1189.9" y="1706.6" width="54.4" height="27.3" fill="#000"/>
<rect x="1196" y="1712.5" width="42" height="6" fill="#FBF4EC"/>
<line x1="1283.4" y1="1668.3" x2="1283.4" y2="1666" stroke="#000" stroke-width="5.5"/>
<line x1="1283.4" y1="1730" x2="1283.4" y2="1733" stroke="#000" stroke-width="5.5"/>
<rect x="1256.4" y="1668.3" width="54.5" height="61.7" fill="#F7ECE2" stroke="#000" stroke-width="5.5"/>
<line x1="1253.7" y1="1713.3" x2="1313.7" y2="1713.3" stroke="#000" stroke-width="11"/>
<rect x="1262" y="1720.5" width="43" height="5.5" fill="#F7ECE2"/>
<circle cx="1146.7" cy="1678.8" r="6.5" fill="#6EDFB6" stroke="#111" stroke-width="1.3"/>
<circle cx="1155.9" cy="1689.5" r="6.5" fill="#6EDFB6" stroke="#111" stroke-width="1.3"/>
<circle cx="1146" cy="1699" r="6.5" fill="#6EDFB6" stroke="#111" stroke-width="1.3"/>
<circle cx="1152.9" cy="1704.1" r="6.5" fill="#6EDFB6" stroke="#111" stroke-width="1.3"/>
<circle cx="1146" cy="1708" r="6.5" fill="#6EDFB6" stroke="#111" stroke-width="1.3"/>
<circle cx="1150" cy="1715" r="6.5" fill="#6EDFB6" stroke="#111" stroke-width="1.3"/>
<circle cx="1154" cy="1718" r="6.5" fill="#6EDFB6" stroke="#111" stroke-width="1.3"/>
<circle cx="1146" cy="1723" r="6.5" fill="#6EDFB6" stroke="#111" stroke-width="1.3"/>
<circle cx="1152.2" cy="1728.2" r="6.5" fill="#6EDFB6" stroke="#111" stroke-width="1.3"/>
<circle cx="1146.5" cy="1734" r="6.5" fill="#6EDFB6" stroke="#111" stroke-width="1.3"/>
<circle cx="1155.5" cy="1735" r="6.5" fill="#6EDFB6" stroke="#111" stroke-width="1.3"/>
<circle cx="1214.5" cy="1665.5" r="6.5" fill="#F0C48A" stroke="#111" stroke-width="1.3"/>
<circle cx="1214.9" cy="1674.3" r="6.5" fill="#F0C48A" stroke="#111" stroke-width="1.3"/>
<circle cx="1216.5" cy="1682" r="6.5" fill="#F0C48A" stroke="#111" stroke-width="1.3"/>
<circle cx="1211.8" cy="1689.5" r="6.5" fill="#F0C48A" stroke="#111" stroke-width="1.3"/>
<circle cx="1219.7" cy="1699" r="6.5" fill="#F0C48A" stroke="#111" stroke-width="1.3"/>
<circle cx="1213.5" cy="1703.5" r="6.5" fill="#F0C48A" stroke="#111" stroke-width="1.3"/>
<circle cx="1211.4" cy="1707.6" r="6.5" fill="#F0C48A" stroke="#111" stroke-width="1.3"/>
<circle cx="1219.7" cy="1716" r="6.5" fill="#F0C48A" stroke="#111" stroke-width="1.3"/>
<circle cx="1212.5" cy="1724" r="6.5" fill="#F0C48A" stroke="#111" stroke-width="1.3"/>
<circle cx="1221.7" cy="1724" r="6.5" fill="#F0C48A" stroke="#111" stroke-width="1.3"/>
<circle cx="1214.5" cy="1734.3" r="6.5" fill="#F0C48A" stroke="#111" stroke-width="1.3"/>
<circle cx="1221.7" cy="1734.3" r="6.5" fill="#F0C48A" stroke="#111" stroke-width="1.3"/>
<circle cx="1287.1" cy="1556.5" r="6.5" fill="#F45A1A" stroke="#111" stroke-width="1.3"/>
<circle cx="1283.4" cy="1631.6" r="6.5" fill="#F45A1A" stroke="#111" stroke-width="1.3"/>
<circle cx="1284.5" cy="1641.8" r="6.5" fill="#F45A1A" stroke="#111" stroke-width="1.3"/>
<circle cx="1286" cy="1647.6" r="6.5" fill="#F45A1A" stroke="#111" stroke-width="1.3"/>
<circle cx="1284.8" cy="1656.2" r="6.5" fill="#F45A1A" stroke="#111" stroke-width="1.3"/>
<circle cx="1280.7" cy="1666.1" r="6.5" fill="#F45A1A" stroke="#111" stroke-width="1.3"/>
<circle cx="1288" cy="1669" r="6.5" fill="#F45A1A" stroke="#111" stroke-width="1.3"/>
<circle cx="1287.9" cy="1696.9" r="6.5" fill="#F45A1A" stroke="#111" stroke-width="1.3"/>
<circle cx="1280.3" cy="1707.6" r="6.5" fill="#F45A1A" stroke="#111" stroke-width="1.3"/>
<circle cx="1287.1" cy="1708" r="6.5" fill="#F45A1A" stroke="#111" stroke-width="1.3"/>
<circle cx="1286" cy="1719.5" r="6.5" fill="#F45A1A" stroke="#111" stroke-width="1.3"/>
<circle cx="1281" cy="1726" r="6.5" fill="#F45A1A" stroke="#111" stroke-width="1.3"/>
<circle cx="1287.9" cy="1730" r="6.5" fill="#F45A1A" stroke="#111" stroke-width="1.3"/>
<circle cx="1281" cy="1731" r="6.5" fill="#F45A1A" stroke="#111" stroke-width="1.3"/>
<circle cx="1283.4" cy="1735" r="6.5" fill="#F45A1A" stroke="#111" stroke-width="1.3"/>
<text class="l" x="1157.2" y="1784.1" font-size="23.2" text-anchor="end" transform="rotate(-45 1157.2 1784.1)">Primary HCC</text>
<text class="l" x="1209" y="1784.1" font-size="23.2" text-anchor="end" transform="rotate(-45 1209 1784.1)">Residual HCC</text>
<text class="l" x="1233.4" y="1804.4" font-size="23.2" text-anchor="end" transform="rotate(-45 1233.4 1804.4)">Not Refractory</text>
<text class="l" x="1306.3" y="1784.1" font-size="23.2" text-anchor="end" transform="rotate(-45 1306.3 1784.1)">Residual HCC</text>
<text class="l" x="1296.6" y="1832.7" font-size="23.2" text-anchor="end" transform="rotate(-45 1296.6 1832.7)">Refractory</text>
<text class="l b" x="1350.7" y="1205.5" font-size="29.5">g.</text>
<text class="l" x="1413.6" y="1247.3" font-size="25.5" textLength="310.4" lengthAdjust="spacingAndGlyphs">Composite- All Cell Types</text>
<line x1="1479.2" y1="1277" x2="1479.2" y2="1752.4" stroke="#000" stroke-width="2.4"/>
<line x1="1478" y1="1751.4" x2="1715.8" y2="1751.4" stroke="#000" stroke-width="2.4"/>
<line x1="1472.7" y1="1298.1" x2="1479.2" y2="1298.1" stroke="#000" stroke-width="2.2"/>
<text class="d" x="1460.6" y="1308.6" font-size="29" text-anchor="end" textLength="64.2" lengthAdjust="spacingAndGlyphs">1.00</text>
<line x1="1472.7" y1="1405.9" x2="1479.2" y2="1405.9" stroke="#000" stroke-width="2.2"/>
<text class="d" x="1460.6" y="1416.4" font-size="29" text-anchor="end" textLength="64.2" lengthAdjust="spacingAndGlyphs">0.75</text>
<line x1="1472.7" y1="1513.5" x2="1479.2" y2="1513.5" stroke="#000" stroke-width="2.2"/>
<text class="d" x="1460.6" y="1524" font-size="29" text-anchor="end" textLength="64.2" lengthAdjust="spacingAndGlyphs">0.50</text>
<line x1="1472.7" y1="1621.4" x2="1479.2" y2="1621.4" stroke="#000" stroke-width="2.2"/>
<text class="d" x="1460.6" y="1631.9" font-size="29" text-anchor="end" textLength="64.2" lengthAdjust="spacingAndGlyphs">0.25</text>
<line x1="1472.7" y1="1729.3" x2="1479.2" y2="1729.3" stroke="#000" stroke-width="2.2"/>
<text class="d" x="1460.6" y="1739.8" font-size="29" text-anchor="end" textLength="64.2" lengthAdjust="spacingAndGlyphs">0.00</text>
<line x1="1523.3" y1="1751.4" x2="1523.3" y2="1759" stroke="#000" stroke-width="2.2"/>
<line x1="1597.7" y1="1751.4" x2="1597.7" y2="1759" stroke="#000" stroke-width="2.2"/>
<line x1="1671.4" y1="1751.4" x2="1671.4" y2="1759" stroke="#000" stroke-width="2.2"/>
<text class="d" x="1379.1" y="1592.2" font-size="30.3" textLength="156.3" lengthAdjust="spacingAndGlyphs" transform="rotate(-90 1379.1 1592.2)">Proportion</text>
<rect x="1489.3" y="1298.1" width="67.8" height="13.8" fill="#43C71F"/>
<rect x="1489.3" y="1311.5" width="67.8" height="13.1" fill="#999999"/>
<rect x="1489.3" y="1324.2" width="67.8" height="2.2" fill="#EBAD5B"/>
<rect x="1489.3" y="1326" width="67.8" height="2.2" fill="#6F36A9"/>
<rect x="1489.3" y="1327.8" width="67.8" height="2.9" fill="#D42FAA"/>
<rect x="1489.3" y="1330.3" width="67.8" height="20.2" fill="#FF1F0E"/>
<rect x="1489.3" y="1350.1" width="67.8" height="62.1" fill="#EBE23A"/>
<rect x="1489.3" y="1411.8" width="67.8" height="25.6" fill="#720A0A"/>
<rect x="1489.3" y="1437" width="67.8" height="26.5" fill="#4386C2"/>
<rect x="1489.3" y="1463.1" width="67.8" height="9.8" fill="#F07822"/>
<rect x="1489.3" y="1472.5" width="67.8" height="2.5" fill="#8DE5CC"/>
<rect x="1489.3" y="1474.6" width="67.8" height="35.9" fill="#689AF5"/>
<rect x="1489.3" y="1510.1" width="67.8" height="1.7" fill="#F25469"/>
<rect x="1489.3" y="1511.4" width="67.8" height="14.2" fill="#985A29"/>
<rect x="1489.3" y="1525.2" width="67.8" height="169.5" fill="#D6204D"/>
<rect x="1489.3" y="1694.3" width="67.8" height="15.6" fill="#B0EE7D"/>
<rect x="1489.3" y="1709.5" width="67.8" height="20.2" fill="#C9A9DE"/>
<rect x="1564.5" y="1298.1" width="66.5" height="20.7" fill="#43C71F"/>
<rect x="1564.5" y="1318.4" width="66.5" height="1.7" fill="#999999"/>
<rect x="1564.5" y="1319.7" width="66.5" height="2.1" fill="#EBAD5B"/>
<rect x="1564.5" y="1321.4" width="66.5" height="3.7" fill="#6F36A9"/>
<rect x="1564.5" y="1324.7" width="66.5" height="4.3" fill="#D42FAA"/>
<rect x="1564.5" y="1328.6" width="66.5" height="31.6" fill="#FF1F0E"/>
<rect x="1564.5" y="1359.8" width="66.5" height="34.4" fill="#EBE23A"/>
<rect x="1564.5" y="1393.8" width="66.5" height="17.7" fill="#720A0A"/>
<rect x="1564.5" y="1411.1" width="66.5" height="11.8" fill="#4386C2"/>
<rect x="1564.5" y="1422.5" width="66.5" height="39.8" fill="#F07822"/>
<rect x="1564.5" y="1461.9" width="66.5" height="10" fill="#8DE5CC"/>
<rect x="1564.5" y="1471.5" width="66.5" height="7.3" fill="#689AF5"/>
<rect x="1564.5" y="1478.4" width="66.5" height="8" fill="#F25469"/>
<rect x="1564.5" y="1486" width="66.5" height="10.6" fill="#985A29"/>
<rect x="1564.5" y="1496.2" width="66.5" height="197.2" fill="#D6204D"/>
<rect x="1564.5" y="1693" width="66.5" height="16.1" fill="#B0EE7D"/>
<rect x="1564.5" y="1708.7" width="66.5" height="3.7" fill="#C9A9DE"/>
<rect x="1564.5" y="1712" width="66.5" height="17.7" fill="#1E0BAA"/>
<rect x="1638.4" y="1298.1" width="66.5" height="11" fill="#43C71F"/>
<rect x="1638.4" y="1308.7" width="66.5" height="3.2" fill="#999999"/>
<rect x="1638.4" y="1311.5" width="66.5" height="3.5" fill="#EBAD5B"/>
<rect x="1638.4" y="1314.6" width="66.5" height="8.8" fill="#6F36A9"/>
<rect x="1638.4" y="1323" width="66.5" height="1.4" fill="#D42FAA"/>
<rect x="1638.4" y="1324" width="66.5" height="30.4" fill="#FF1F0E"/>
<rect x="1638.4" y="1354" width="66.5" height="30.8" fill="#EBE23A"/>
<rect x="1638.4" y="1384.4" width="66.5" height="29.1" fill="#720A0A"/>
<rect x="1638.4" y="1413.1" width="66.5" height="24.5" fill="#4386C2"/>
<rect x="1638.4" y="1437.2" width="66.5" height="70.3" fill="#F07822"/>
<rect x="1638.4" y="1507.1" width="66.5" height="3.4" fill="#8DE5CC"/>
<rect x="1638.4" y="1510.1" width="66.5" height="5.5" fill="#689AF5"/>
<rect x="1638.4" y="1515.2" width="66.5" height="15.1" fill="#F25469"/>
<rect x="1638.4" y="1529.9" width="66.5" height="12.4" fill="#985A29"/>
<rect x="1638.4" y="1541.9" width="66.5" height="152.8" fill="#D6204D"/>
<rect x="1638.4" y="1694.3" width="66.5" height="20.7" fill="#B0EE7D"/>
<rect x="1638.4" y="1714.6" width="66.5" height="4.2" fill="#C9A9DE"/>
<rect x="1638.4" y="1718.4" width="66.5" height="11.3" fill="#1E0BAA"/>
<text class="l" x="1529.2" y="1793.4" font-size="22.8" text-anchor="end" transform="rotate(-45 1529.2 1793.4)">Primary HCC</text>
<text class="l" x="1583.8" y="1788.3" font-size="22.8" text-anchor="end" transform="rotate(-45 1583.8 1788.3)">Residual HCC</text>
<text class="l" x="1606.6" y="1808.6" font-size="22.8" text-anchor="end" transform="rotate(-45 1606.6 1808.6)">Not Refractory</text>
<text class="l" x="1672.7" y="1784.5" font-size="22.8" text-anchor="end" transform="rotate(-45 1672.7 1784.5)">Residual HCC</text>
<text class="l" x="1665" y="1835.3" font-size="22.8" text-anchor="end" transform="rotate(-45 1665 1835.3)">Refractory</text>
<clipPath id="lc1788"><rect x="1783.5" y="1189.4" width="248.5" height="634.5999999999999"/></clipPath>
<g clip-path="url(#lc1788)">
<rect x="1788.5" y="1199.4" width="32" height="32" fill="#43C71F"/>
<text class="l" x="1834.7" y="1224.3" font-size="24.3">B cell</text>
<rect x="1788.5" y="1234.7" width="32" height="32" fill="#999999"/>
<text class="l" x="1834.7" y="1259.6" font-size="24.3">CD4T cell</text>
<rect x="1788.5" y="1269.9" width="32" height="32" fill="#EBAD5B"/>
<text class="l" x="1834.7" y="1294.8" font-size="24.3">CD8T cell Eff</text>
<rect x="1788.5" y="1305.2" width="32" height="32" fill="#6F36A9"/>
<text class="l" x="1834.7" y="1330.1" font-size="24.3">CD8T cell Exh</text>
<rect x="1788.5" y="1340.5" width="32" height="32" fill="#78B7D7"/>
<text class="l" x="1834.7" y="1365.4" font-size="24.3">CD8T cell Mem</text>
<rect x="1788.5" y="1375.8" width="32" height="32" fill="#D42FAA"/>
<text class="l" x="1834.7" y="1400.7" font-size="24.3">Dendritic cell</text>
<rect x="1788.5" y="1411" width="32" height="32" fill="#FF1F0E"/>
<text class="l" x="1834.7" y="1435.9" font-size="24.3">Endothelial cell</text>
<rect x="1788.5" y="1446.3" width="32" height="32" fill="#EBE23A"/>
<text class="l" x="1834.7" y="1471.2" font-size="24.3">Fibroblast</text>
<rect x="1788.5" y="1481.6" width="32" height="32" fill="#720A0A"/>
<text class="l" x="1834.7" y="1506.5" font-size="24.3">Macro CD206+</text>
<rect x="1788.5" y="1516.8" width="32" height="32" fill="#4386C2"/>
<text class="l" x="1834.7" y="1541.7" font-size="24.3">Macro HLADR+</text>
<rect x="1788.5" y="1552.1" width="32" height="32" fill="#F07822"/>
<text class="l" x="1834.7" y="1577" font-size="24.3">Macro PDL1+</text>
<rect x="1788.5" y="1587.4" width="32" height="32" fill="#8DE5CC"/>
<text class="l" x="1834.7" y="1612.3" font-size="24.3">Mast cell</text>
<rect x="1788.5" y="1622.6" width="32" height="32" fill="#4CB898"/>
<text class="l" x="1834.7" y="1647.5" font-size="24.3">Monocyte</text>
<rect x="1788.5" y="1657.9" width="32" height="32" fill="#689AF5"/>
<text class="l" x="1834.7" y="1682.8" font-size="24.3">Neutrophil</text>
<rect x="1788.5" y="1693.2" width="32" height="32" fill="#F25469"/>
<text class="l" x="1834.7" y="1718.1" font-size="24.3">NK cell</text>
<rect x="1788.5" y="1728.5" width="32" height="32" fill="#985A29"/>
<text class="l" x="1834.7" y="1753.4" font-size="24.3">Treg</text>
<rect x="1788.5" y="1763.7" width="32" height="32" fill="#D6204D"/>
<text class="l" x="1834.7" y="1788.6" font-size="24.3">Tumor cell CK+</text>
<rect x="1788.5" y="1799" width="32" height="32" fill="#B0EE7D"/>
<text class="l" x="1834.7" y="1823.9" font-size="24.3">Tumor cell CK19+</text>
</g>
<text class="l b" x="1332" y="1983.8" font-size="29.5">i.</text>
<text class="l" x="1411.8" y="1983.3" font-size="25.5" textLength="310.4" lengthAdjust="spacingAndGlyphs">Composite- All Cell Types</text>
<line x1="1462.9" y1="2019.2" x2="1462.9" y2="2543.6" stroke="#000" stroke-width="2.2"/>
<line x1="1461.8" y1="2542.6" x2="1723.8" y2="2542.6" stroke="#000" stroke-width="2.2"/>
<line x1="1456.4" y1="2042.4" x2="1462.9" y2="2042.4" stroke="#000" stroke-width="2"/>
<text class="d" x="1450.4" y="2052.1" font-size="26.5" text-anchor="end" textLength="58" lengthAdjust="spacingAndGlyphs">1.00</text>
<line x1="1456.4" y1="2161.6" x2="1462.9" y2="2161.6" stroke="#000" stroke-width="2"/>
<text class="d" x="1450.4" y="2171.3" font-size="26.5" text-anchor="end" textLength="58" lengthAdjust="spacingAndGlyphs">0.75</text>
<line x1="1456.4" y1="2280.8" x2="1462.9" y2="2280.8" stroke="#000" stroke-width="2"/>
<text class="d" x="1450.4" y="2290.5" font-size="26.5" text-anchor="end" textLength="58" lengthAdjust="spacingAndGlyphs">0.50</text>
<line x1="1456.4" y1="2399.8" x2="1462.9" y2="2399.8" stroke="#000" stroke-width="2"/>
<text class="d" x="1450.4" y="2409.5" font-size="26.5" text-anchor="end" textLength="58" lengthAdjust="spacingAndGlyphs">0.25</text>
<line x1="1456.4" y1="2518.9" x2="1462.9" y2="2518.9" stroke="#000" stroke-width="2"/>
<text class="d" x="1450.4" y="2528.6" font-size="26.5" text-anchor="end" textLength="58" lengthAdjust="spacingAndGlyphs">0.00</text>
<line x1="1532.8" y1="2542.6" x2="1532.8" y2="2548.7" stroke="#000" stroke-width="2"/>
<line x1="1652" y1="2542.6" x2="1652" y2="2548.7" stroke="#000" stroke-width="2"/>
<rect x="1479.6" y="2042.4" width="107" height="16.9" fill="#43C71F"/>
<rect x="1479.6" y="2058.9" width="107" height="2.5" fill="#999999"/>
<rect x="1479.6" y="2061" width="107" height="3.6" fill="#EBAD5B"/>
<rect x="1479.6" y="2064.2" width="107" height="6.5" fill="#6F36A9"/>
<rect x="1479.6" y="2070.3" width="107" height="3.1" fill="#D42FAA"/>
<rect x="1479.6" y="2073" width="107" height="34.9" fill="#E52A20"/>
<rect x="1479.6" y="2107.5" width="107" height="36.9" fill="#EBE23A"/>
<rect x="1479.6" y="2144" width="107" height="25.1" fill="#6C0B0B"/>
<rect x="1479.6" y="2168.7" width="107" height="20.4" fill="#4386C2"/>
<rect x="1479.6" y="2188.7" width="107" height="54.9" fill="#F07822"/>
<rect x="1479.6" y="2243.2" width="107" height="8.4" fill="#8DE5CC"/>
<rect x="1479.6" y="2251.2" width="107" height="7.1" fill="#689AF5"/>
<rect x="1479.6" y="2257.9" width="107" height="12.3" fill="#F25469"/>
<rect x="1479.6" y="2269.8" width="107" height="11.9" fill="#8C5A2C"/>
<rect x="1479.6" y="2281.3" width="107" height="194.7" fill="#C3284E"/>
<rect x="1479.6" y="2475.6" width="107" height="22.2" fill="#B0EE7D"/>
<rect x="1479.6" y="2497.4" width="107" height="5.2" fill="#C9A9DE"/>
<rect x="1479.6" y="2502.2" width="107" height="17.1" fill="#1E0BAA"/>
<rect x="1598.8" y="2042.4" width="106.9" height="25.6" fill="#43C71F"/>
<rect x="1598.8" y="2067.6" width="106.9" height="2.3" fill="#999999"/>
<rect x="1598.8" y="2069.5" width="106.9" height="7.1" fill="#6F36A9"/>
<rect x="1598.8" y="2076.2" width="106.9" height="5.7" fill="#D42FAA"/>
<rect x="1598.8" y="2081.5" width="106.9" height="29.9" fill="#E52A20"/>
<rect x="1598.8" y="2111" width="106.9" height="33.4" fill="#EBE23A"/>
<rect x="1598.8" y="2144" width="106.9" height="12.4" fill="#6C0B0B"/>
<rect x="1598.8" y="2156" width="106.9" height="21.1" fill="#4386C2"/>
<rect x="1598.8" y="2176.7" width="106.9" height="78.9" fill="#F07822"/>
<rect x="1598.8" y="2255.2" width="106.9" height="12.4" fill="#8DE5CC"/>
<rect x="1598.8" y="2267.2" width="106.9" height="5.7" fill="#689AF5"/>
<rect x="1598.8" y="2272.5" width="106.9" height="10.5" fill="#F25469"/>
<rect x="1598.8" y="2282.6" width="106.9" height="23.6" fill="#8C5A2C"/>
<rect x="1598.8" y="2305.8" width="106.9" height="192.8" fill="#C3284E"/>
<rect x="1598.8" y="2498.2" width="106.9" height="5.7" fill="#B0EE7D"/>
<rect x="1598.8" y="2503.5" width="106.9" height="15.8" fill="#1E0BAA"/>
<text class="l" x="1544.8" y="2576" font-size="24.8" text-anchor="end" transform="rotate(-45 1544.8 2576)">cTACE</text>
<text class="l" x="1668.5" y="2576" font-size="24.8" text-anchor="end" transform="rotate(-45 1668.5 2576)">DEB-TACE</text>
<clipPath id="ilab"><rect x="1372.2" y="2200" width="20" height="160"/></clipPath>
<g clip-path="url(#ilab)">
<text class="d" x="1379" y="2344.3" font-size="25.2" textLength="130" lengthAdjust="spacingAndGlyphs" transform="rotate(-90 1379 2344.3)">Proportion</text>
</g>
<clipPath id="lc1764"><rect x="1759.3" y="1968.9" width="272.70000000000005" height="633.7999999999997"/></clipPath>
<g clip-path="url(#lc1764)">
<rect x="1764.3" y="1978.9" width="32" height="32" fill="#43C71F"/>
<text class="l" x="1810.5" y="2003.8" font-size="24.3">B cell</text>
<rect x="1764.3" y="2014.2" width="32" height="32" fill="#999999"/>
<text class="l" x="1810.5" y="2039.1" font-size="24.3">CD4T cell</text>
<rect x="1764.3" y="2049.4" width="32" height="32" fill="#EBAD5B"/>
<text class="l" x="1810.5" y="2074.3" font-size="24.3">CD8T cell Eff</text>
<rect x="1764.3" y="2084.7" width="32" height="32" fill="#6F36A9"/>
<text class="l" x="1810.5" y="2109.6" font-size="24.3">CD8T cell Exh</text>
<rect x="1764.3" y="2120" width="32" height="32" fill="#78B7D7"/>
<text class="l" x="1810.5" y="2144.9" font-size="24.3">CD8T cell Mem</text>
<rect x="1764.3" y="2155.2" width="32" height="32" fill="#D42FAA"/>
<text class="l" x="1810.5" y="2180.2" font-size="24.3">Dendritic cell</text>
<rect x="1764.3" y="2190.5" width="32" height="32" fill="#FF1F0E"/>
<text class="l" x="1810.5" y="2215.4" font-size="24.3">Endothelial cell</text>
<rect x="1764.3" y="2225.8" width="32" height="32" fill="#EBE23A"/>
<text class="l" x="1810.5" y="2250.7" font-size="24.3">Fibroblast</text>
<rect x="1764.3" y="2261.1" width="32" height="32" fill="#720A0A"/>
<text class="l" x="1810.5" y="2286" font-size="24.3">Macro CD206+</text>
<rect x="1764.3" y="2296.3" width="32" height="32" fill="#4386C2"/>
<text class="l" x="1810.5" y="2321.2" font-size="24.3">Macro HLADR+</text>
<rect x="1764.3" y="2331.6" width="32" height="32" fill="#F07822"/>
<text class="l" x="1810.5" y="2356.5" font-size="24.3">Macro PDL1+</text>
<rect x="1764.3" y="2366.9" width="32" height="32" fill="#8DE5CC"/>
<text class="l" x="1810.5" y="2391.8" font-size="24.3">Mast cell</text>
<rect x="1764.3" y="2402.1" width="32" height="32" fill="#4CB898"/>
<text class="l" x="1810.5" y="2427" font-size="24.3">Monocyte</text>
<rect x="1764.3" y="2437.4" width="32" height="32" fill="#689AF5"/>
<text class="l" x="1810.5" y="2462.3" font-size="24.3">Neutrophil</text>
<rect x="1764.3" y="2472.7" width="32" height="32" fill="#F25469"/>
<text class="l" x="1810.5" y="2497.6" font-size="24.3">NK cell</text>
<rect x="1764.3" y="2508" width="32" height="32" fill="#985A29"/>
<text class="l" x="1810.5" y="2532.9" font-size="24.3">Treg</text>
<rect x="1764.3" y="2543.2" width="32" height="32" fill="#D6204D"/>
<text class="l" x="1810.5" y="2568.1" font-size="24.3">Tumor cell CK+</text>
<rect x="1764.3" y="2578.5" width="32" height="32" fill="#B0EE7D"/>
<text class="l" x="1810.5" y="2603.4" font-size="24.3">Tumor cell CK19+</text>
</g>
<text class="l b" x="15.2" y="1989.8" font-size="29.5">h.</text>
<text class="l" x="198.6" y="1987" font-size="27" textLength="246.4" lengthAdjust="spacingAndGlyphs">Complete Response</text>
<text class="l" x="614.8" y="1987" font-size="27" textLength="171.4" lengthAdjust="spacingAndGlyphs">Residual HCC</text>
<text class="l" x="117.5" y="2144.8" font-size="26.5" textLength="54.4" lengthAdjust="spacingAndGlyphs" transform="rotate(-90 117.5 2144.8)">H&amp;E</text>
<rect x="129.5" y="1995.2" width="375.4" height="263.9" fill="url(#gHE1)"/>
<g clip-path="url(#cHE1)">
<rect x="129.5" y="1995.2" width="375.4" height="263.9" fill="#fff" filter="url(#fWhite2)" mask="url(#mHE1)" opacity="0.7"/>
<rect x="129.5" y="1995.2" width="375.4" height="263.9" fill="#000" filter="url(#fNucD)" mask="url(#mHE1)" opacity="0.7"/>
<rect x="129.5" y="1995.2" width="375.4" height="263.9" fill="#000" filter="url(#fNucS)" opacity="0.8"/>
<g transform="rotate(28 317 2127)"><rect x="67" y="1907" width="500" height="440" fill="#000" filter="url(#fStreak)" opacity="0.45"/></g>
<path d="M150 1995 L245 1995 L330 2259 L215 2259 Z" fill="#000" filter="url(#fNucB)" opacity="0.55"/>
<path d="M150 1995 L245 1995 L330 2259 L215 2259 Z" fill="#A862B4" opacity="0.12"/>
<ellipse cx="450" cy="2118" rx="6" ry="3" fill="#F6EAF4" transform="rotate(-30 450 2118)"/>
<ellipse cx="417" cy="2122" rx="5" ry="3" fill="#F6EAF4" transform="rotate(-30 417 2122)"/>
<ellipse cx="390" cy="2125" rx="4" ry="2" fill="#F6EAF4" transform="rotate(-30 390 2125)"/>
<ellipse cx="462" cy="2170" rx="7" ry="4" fill="#F6EAF4" transform="rotate(-40 462 2170)"/>
<ellipse cx="440" cy="2181" rx="3" ry="2" fill="#F6EAF4" transform="rotate(0 440 2181)"/>
<ellipse cx="380" cy="2100" rx="3" ry="2" fill="#F6EAF4" transform="rotate(0 380 2100)"/>
<ellipse cx="270" cy="2160" rx="3" ry="2" fill="#F6EAF4" transform="rotate(0 270 2160)"/>
<ellipse cx="300" cy="2190" rx="2" ry="2" fill="#F6EAF4" transform="rotate(0 300 2190)"/>
<ellipse cx="420" cy="2010" rx="2" ry="2" fill="#F6EAF4" transform="rotate(0 420 2010)"/>
<ellipse cx="360" cy="2060" rx="2" ry="2" fill="#F6EAF4" transform="rotate(0 360 2060)"/>
</g>
<rect x="129.5" y="1995.2" width="375.4" height="263.9" rx="3" fill="none" stroke="#000" stroke-width="3.2"/>
<rect x="514.7" y="1995.2" width="375.4" height="263.9" fill="#D988CE"/>
<g clip-path="url(#cHE2)">
<g transform="rotate(-25 702 2127)"><rect x="452" y="1907" width="500" height="440" fill="#000" filter="url(#fStreak)" opacity="0.5"/></g>
<ellipse cx="705" cy="2130" rx="140" ry="98" fill="url(#gCore)"/>
<g fill="none" stroke="#F8F0F8" stroke-linecap="round" filter="url(#fBlur3)" opacity="0.9"><path d="M532 2012 Q548 2030 560 2045" stroke-width="6"/><path d="M600 2110 Q605 2085 625 2070 Q650 2055 680 2050" stroke-width="6"/><path d="M700 2040 Q730 2025 760 2022 Q790 2030 800 2040" stroke-width="7"/><path d="M640 2110 L655 2120 M640 2140 L650 2160 M665 2165 L685 2172 M655 2185 L665 2200" stroke-width="6"/><path d="M600 2120 Q598 2160 610 2200" stroke-width="3"/></g>
<rect x="514.7" y="1995.2" width="375.4" height="263.9" fill="#000" filter="url(#fNucL)" opacity="0.8"/>
<ellipse cx="705" cy="2135" rx="118" ry="80" fill="#000" filter="url(#fNucC)" opacity="0.8"/>
<g fill="#A45CB4" opacity="0.75" filter="url(#fBlur3)"><ellipse cx="770" cy="2080" rx="22" ry="32"/><ellipse cx="752" cy="2172" rx="36" ry="26"/><ellipse cx="720" cy="2115" rx="14" ry="14"/><ellipse cx="800" cy="2115" rx="10" ry="12"/><ellipse cx="800" cy="2155" rx="8" ry="12"/></g>
</g>
<rect x="514.7" y="1995.2" width="375.4" height="263.9" rx="3" fill="none" stroke="#000" stroke-width="3.2"/>
<text class="l" x="137.5" y="2317.8" font-size="22.7" textLength="52.9" lengthAdjust="spacingAndGlyphs" fill="#2B1BD6">DAPI</text>
<text class="l" x="371.8" y="2317.8" font-size="23.1" textLength="59" lengthAdjust="spacingAndGlyphs" fill="#E02A44">CD68</text>
<text class="l" x="590.4" y="2317.8" font-size="22.2" textLength="55.6" lengthAdjust="spacingAndGlyphs" fill="#3CBE3C">PDL1</text>
<text class="l" x="748.9" y="2317.8" font-size="23.1" textLength="183.5" lengthAdjust="spacingAndGlyphs"><tspan fill="#2B1BD6">DAPI</tspan><tspan fill="#3CBE3C">/</tspan><tspan fill="#E02A44">CD68</tspan><tspan fill="#3CBE3C">/PDL1</tspan></text>
<text class="l" x="22.4" y="2463.8" font-size="23" textLength="98.4" lengthAdjust="spacingAndGlyphs" transform="rotate(-90 22.4 2463.8)">Complete</text>
<text class="l" x="49.8" y="2463.8" font-size="23" textLength="113" lengthAdjust="spacingAndGlyphs" transform="rotate(-90 49.8 2463.8)">Responder</text>
<text class="l" x="48.8" y="2650" font-size="23.3" textLength="147.7" lengthAdjust="spacingAndGlyphs" transform="rotate(-90 48.8 2650)">Residual HCC</text>
<rect x="56.4" y="2322.6" width="222" height="165.8" fill="#000"/>
<rect x="56.4" y="2493.6" width="222" height="166.2" fill="#000"/>
<rect x="282" y="2322.6" width="222" height="165.8" fill="#000"/>
<rect x="282" y="2493.6" width="222" height="166.2" fill="#000"/>
<rect x="507" y="2322.6" width="221.4" height="165.8" fill="#000"/>
<rect x="507" y="2493.6" width="221.4" height="166.2" fill="#000"/>
<rect x="732" y="2322.6" width="222" height="165.8" fill="#000"/>
<rect x="732" y="2493.6" width="222" height="166.2" fill="#000"/>
<rect x="56.4" y="2322.6" width="222" height="165.8" fill="#000" filter="url(#fDapi)"/>
<rect x="56.4" y="2322.6" width="222" height="165.8" fill="#000" filter="url(#fDapiB)"/>
<g clip-path="url(#cD11)" fill="#000" filter="url(#fBlur8)"><path d="M40.0 2310 L205.0 2310 L175.0 2342 L135.0 2368 L100.0 2400 L40.0 2440 Z" opacity="0.88"/><path d="M190.0 2310 L290.0 2310 L290.0 2338 L235.0 2350 L195.0 2362 L165.0 2372 Z" opacity="0.55"/><ellipse cx="195.0" cy="2472" rx="46" ry="30" opacity="0.85"/><ellipse cx="118.0" cy="2474" rx="26" ry="18" opacity="0.5"/></g>
<rect x="56.4" y="2493.6" width="222" height="166.2" fill="#000" filter="url(#fDapi2)"/>
<rect x="56.4" y="2493.6" width="222" height="166.2" fill="#000" filter="url(#fDapi2B)"/>
<rect x="282" y="2322.6" width="222" height="165.8" fill="#000" filter="url(#fRedS)"/>
<rect x="282" y="2493.6" width="222" height="166.2" fill="#000" filter="url(#fRedM)"/>
<rect x="507" y="2322.6" width="221.4" height="165.8" fill="#000" filter="url(#fGrnS)"/>
<rect x="507" y="2493.6" width="221.4" height="166.2" fill="#000" filter="url(#fGrnM)"/>
<rect x="732" y="2322.6" width="222" height="165.8" fill="#000" filter="url(#fDapi)"/>
<rect x="732" y="2322.6" width="222" height="165.8" fill="#000" filter="url(#fDapiB)"/>
<g clip-path="url(#cD14)" fill="#000" filter="url(#fBlur8)"><path d="M715.6 2310 L880.6 2310 L850.6 2342 L810.6 2368 L775.6 2400 L715.6 2440 Z" opacity="0.88"/><path d="M865.6 2310 L965.6 2310 L965.6 2338 L910.6 2350 L870.6 2362 L840.6 2372 Z" opacity="0.55"/><ellipse cx="870.6" cy="2472" rx="46" ry="30" opacity="0.85"/><ellipse cx="793.6" cy="2474" rx="26" ry="18" opacity="0.5"/></g>
<rect x="732" y="2322.6" width="222" height="165.8" fill="#000" filter="url(#fRedS)"/>
<rect x="732" y="2493.6" width="222" height="166.2" fill="#000" filter="url(#fDapi2)"/>
<rect x="732" y="2493.6" width="222" height="166.2" fill="#000" filter="url(#fDapi2B)"/>
<rect x="732" y="2493.6" width="222" height="166.2" fill="#000" filter="url(#fRedM)"/>
<rect x="732" y="2493.6" width="222" height="166.2" fill="#000" filter="url(#fYelM)"/>
<rect x="732" y="2322.6" width="222" height="165.8" fill="#000" filter="url(#fGrnS)"/>
<text class="l" x="58" y="2644.3" font-size="19.5" textLength="59.9" lengthAdjust="spacingAndGlyphs" fill="#fff">200µm</text>
<rect x="62" y="2648.2" width="33.2" height="4.6" fill="#fff"/>
<text class="l" x="1105.6" y="2031.7" font-size="26.9" textLength="144.2" lengthAdjust="spacingAndGlyphs">PDL1+ cells</text>
<text class="l" x="1144.3" y="2098.3" font-size="22.6" textLength="119" lengthAdjust="spacingAndGlyphs">p = 3.9 x 10</text>
<text class="l" x="1264" y="2090" font-size="15" textLength="16" lengthAdjust="spacingAndGlyphs">-5</text>
<path d="M1161.7 2330V2113.3H1262.7V2135" fill="none" stroke="#000" stroke-width="4"/>
<line x1="1094" y1="2130" x2="1094" y2="2487.7" stroke="#000" stroke-width="4"/>
<line x1="1092" y1="2485.7" x2="1331.7" y2="2485.7" stroke="#000" stroke-width="4"/>
<line x1="1080" y1="2131.7" x2="1094" y2="2131.7" stroke="#000" stroke-width="3.5"/>
<text class="l" x="1073.3" y="2138.7" font-size="19.5" text-anchor="end">10</text>
<line x1="1080" y1="2202.7" x2="1094" y2="2202.7" stroke="#000" stroke-width="3.5"/>
<text class="l" x="1073.3" y="2209.7" font-size="19.5" text-anchor="end">8</text>
<line x1="1080" y1="2273.3" x2="1094" y2="2273.3" stroke="#000" stroke-width="3.5"/>
<text class="l" x="1073.3" y="2280.3" font-size="19.5" text-anchor="end">6</text>
<line x1="1080" y1="2344.3" x2="1094" y2="2344.3" stroke="#000" stroke-width="3.5"/>
<text class="l" x="1073.3" y="2351.3" font-size="19.5" text-anchor="end">4</text>
<line x1="1080" y1="2415" x2="1094" y2="2415" stroke="#000" stroke-width="3.5"/>
<text class="l" x="1073.3" y="2422" font-size="19.5" text-anchor="end">2</text>
<line x1="1080" y1="2485.7" x2="1094" y2="2485.7" stroke="#000" stroke-width="3.5"/>
<text class="l" x="1073.3" y="2492.7" font-size="19.5" text-anchor="end">0</text>
<line x1="1161" y1="2485.7" x2="1161" y2="2500" stroke="#000" stroke-width="4"/>
<line x1="1262.7" y1="2485.7" x2="1262.7" y2="2500" stroke="#000" stroke-width="4"/>
<rect x="1130.8" y="2445.8" width="61" height="39.9" fill="#6AA9F9" stroke="#707070" stroke-width="5"/>
<rect x="1231.8" y="2199.8" width="60.7" height="285.9" fill="#F08223" stroke="#707070" stroke-width="5"/>
<line x1="1161" y1="2443" x2="1161" y2="2418.3" stroke="#6AA9F9" stroke-width="2.5"/>
<line x1="1144.3" y1="2418.3" x2="1177.7" y2="2418.3" stroke="#6AA9F9" stroke-width="2.5"/>
<line x1="1262.7" y1="2179.3" x2="1262.7" y2="2213.3" stroke="#5a5a5a" stroke-width="2.5"/>
<line x1="1245" y1="2179.3" x2="1279.3" y2="2179.3" stroke="#5a5a5a" stroke-width="2.5"/>
<line x1="1245" y1="2213.3" x2="1279.3" y2="2213.3" stroke="#5a5a5a" stroke-width="2.5"/>
<circle cx="1248.3" cy="2156" r="7.3" fill="#F2A650" stroke="none" stroke-width="0"/>
<circle cx="1278.3" cy="2166.7" r="7.3" fill="#F2A650" stroke="none" stroke-width="0"/>
<circle cx="1248.3" cy="2200" r="7.3" fill="#F2A650" stroke="none" stroke-width="0"/>
<circle cx="1276.7" cy="2205" r="7.3" fill="#F2A650" stroke="none" stroke-width="0"/>
<circle cx="1262.7" cy="2255" r="7.3" fill="#F2A650" stroke="none" stroke-width="0"/>
<circle cx="1161" cy="2351" r="6" fill="#6AA9F9" stroke="none" stroke-width="0"/>
<circle cx="1161" cy="2430.7" r="6" fill="#6AA9F9" stroke="none" stroke-width="0"/>
<circle cx="1150" cy="2485" r="6" fill="#6AA9F9" stroke="none" stroke-width="0"/>
<circle cx="1171.7" cy="2485" r="6" fill="#6AA9F9" stroke="none" stroke-width="0"/>
<text class="l" x="1030.2" y="2460" font-size="29.2" textLength="300" lengthAdjust="spacingAndGlyphs" transform="rotate(-90 1030.2 2460)">Proportion of cells/HPF</text>
<text class="l" x="1164" y="2533" font-size="25.7" text-anchor="end" transform="rotate(-45 1164 2533)">Complete Responders</text>
<text class="l" x="1265" y="2532.8" font-size="25.3" text-anchor="end" transform="rotate(-45 1265 2532.8)">Residual HCC</text>
</svg></body></html>
